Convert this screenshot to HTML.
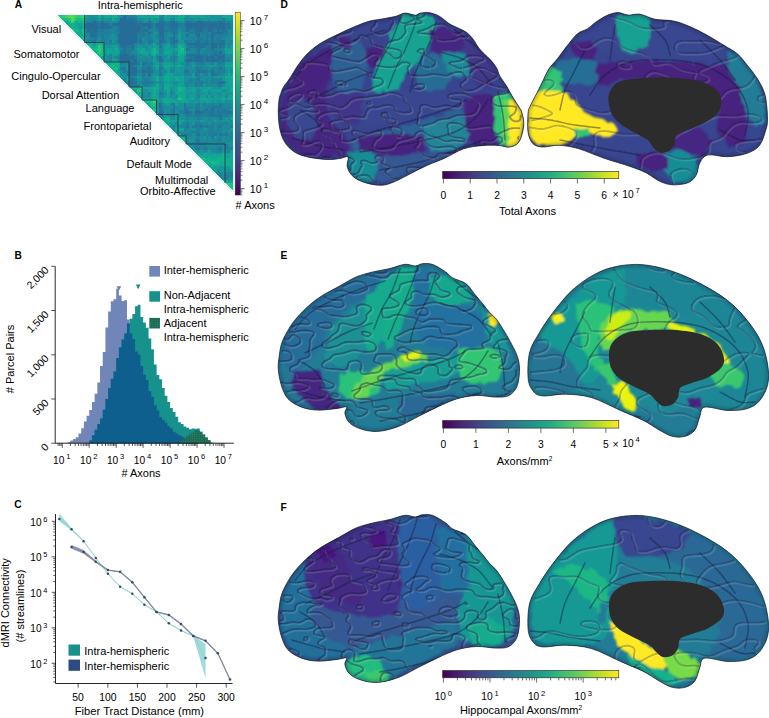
<!DOCTYPE html>
<html><head><meta charset="utf-8"><title>Figure</title>
<style>html,body{margin:0;padding:0;background:#fff;}svg{display:block;}</style></head>
<body><svg width="769" height="718" viewBox="0 0 769 718">
<rect width="769" height="718" fill="#fff"/>
<text x="14.8" y="7.9" font-size="10.2" font-weight="bold" font-family="Liberation Sans, Arial, sans-serif">A</text>
<text x="140.2" y="9.3" font-size="11" text-anchor="middle" font-family="Liberation Sans, Arial, sans-serif">Intra-hemispheric</text>
<g shape-rendering="crispEdges">
<path fill="#23c57b" d="M57.00,15.00h2.75v2.75zM68.00,17.75h2.75v2.75h-2.75zM81.75,17.75h2.75v2.75h-2.75zM70.75,28.75h2.75v2.75zM98.25,50.75h2.75v2.75h-2.75zM178.00,97.50h2.75v2.75h-2.75zM153.25,108.50h2.75v2.75h-2.75zM224.75,182.75h2.75v2.75zM227.50,185.50h2.75v2.75zM230.25,188.25h2.75v2.75z"/>
<path fill="#2dc974" d="M59.75,15.00h2.75v2.75h-2.75zM62.50,15.00h2.75v2.75h-2.75zM76.25,15.00h2.75v2.75h-2.75zM79.00,15.00h2.75v2.75h-2.75zM73.50,17.75h2.75v2.75h-2.75zM98.25,45.25h2.75v2.75h-2.75zM98.25,48.00h2.75v2.75h-2.75zM227.50,182.75h2.75v2.75h-2.75z"/>
<path fill="#41d065" d="M65.25,15.00h2.75v2.75h-2.75zM73.50,15.00h2.75v2.75h-2.75zM70.75,20.50h2.75v2.75h-2.75z"/>
<path fill="#58d753" d="M68.00,15.00h2.75v2.75h-2.75zM70.75,15.00h2.75v2.75h-2.75zM70.75,17.75h2.75v2.75h-2.75z"/>
<path fill="#4cd35c" d="M81.75,15.00h2.75v2.75h-2.75z"/>
<path fill="#12a296" d="M84.50,15.00h2.75v2.75h-2.75zM109.25,15.00h2.75v2.75h-2.75zM167.00,15.00h2.75v2.75h-2.75zM183.50,15.00h2.75v2.75h-2.75zM191.75,15.00h2.75v2.75h-2.75zM202.75,15.00h2.75v2.75h-2.75zM222.00,15.00h2.75v2.75h-2.75zM230.25,15.00h2.75v2.75h-2.75zM150.50,17.75h2.75v2.75h-2.75zM175.25,17.75h2.75v2.75h-2.75zM180.75,17.75h2.75v2.75h-2.75zM76.25,23.25h2.75v2.75h-2.75zM79.00,23.25h2.75v2.75h-2.75zM79.00,31.50h2.75v2.75h-2.75zM153.25,42.50h2.75v2.75h-2.75zM178.00,42.50h2.75v2.75h-2.75zM114.75,45.25h2.75v2.75h-2.75zM153.25,45.25h2.75v2.75h-2.75zM167.00,45.25h2.75v2.75h-2.75zM109.25,48.00h2.75v2.75h-2.75zM150.50,48.00h2.75v2.75h-2.75zM175.25,48.00h2.75v2.75h-2.75zM224.75,48.00h2.75v2.75h-2.75zM230.25,48.00h2.75v2.75h-2.75zM103.75,50.75h2.75v2.75h-2.75zM109.25,50.75h2.75v2.75h-2.75zM112.00,50.75h2.75v2.75h-2.75zM114.75,50.75h2.75v2.75h-2.75zM142.25,50.75h2.75v2.75h-2.75zM145.00,50.75h2.75v2.75h-2.75zM230.25,50.75h2.75v2.75h-2.75zM167.00,53.50h2.75v2.75h-2.75zM101.00,56.25h2.75v2.75h-2.75zM178.00,56.25h2.75v2.75h-2.75zM180.75,56.25h2.75v2.75h-2.75zM180.75,59.00h2.75v2.75h-2.75zM164.25,61.75h2.75v2.75h-2.75zM167.00,61.75h2.75v2.75h-2.75zM169.75,64.50h2.75v2.75h-2.75zM227.50,64.50h2.75v2.75h-2.75zM156.00,67.25h2.75v2.75h-2.75zM167.00,67.25h2.75v2.75h-2.75zM169.75,72.75h2.75v2.75h-2.75zM169.75,75.50h2.75v2.75h-2.75zM172.50,75.50h2.75v2.75h-2.75zM178.00,75.50h2.75v2.75h-2.75zM191.75,75.50h2.75v2.75h-2.75zM178.00,78.25h2.75v2.75h-2.75zM180.75,78.25h2.75v2.75h-2.75zM230.25,78.25h2.75v2.75h-2.75zM167.00,81.00h2.75v2.75h-2.75zM227.50,81.00h2.75v2.75h-2.75zM178.00,83.75h2.75v2.75h-2.75zM224.75,83.75h2.75v2.75h-2.75zM227.50,83.75h2.75v2.75h-2.75zM230.25,83.75h2.75v2.75h-2.75zM128.50,86.50h2.75v2.75zM145.00,86.50h2.75v2.75h-2.75zM147.75,86.50h2.75v2.75h-2.75zM175.25,86.50h2.75v2.75h-2.75zM191.75,86.50h2.75v2.75h-2.75zM200.00,86.50h2.75v2.75h-2.75zM224.75,86.50h2.75v2.75h-2.75zM131.25,89.25h2.75v2.75zM156.00,89.25h2.75v2.75h-2.75zM183.50,89.25h2.75v2.75h-2.75zM191.75,89.25h2.75v2.75h-2.75zM205.50,89.25h2.75v2.75h-2.75zM216.50,89.25h2.75v2.75h-2.75zM227.50,89.25h2.75v2.75h-2.75zM167.00,92.00h2.75v2.75h-2.75zM175.25,92.00h2.75v2.75h-2.75zM183.50,92.00h2.75v2.75h-2.75zM156.00,94.75h2.75v2.75h-2.75zM183.50,94.75h2.75v2.75h-2.75zM227.50,94.75h2.75v2.75h-2.75zM230.25,94.75h2.75v2.75h-2.75zM142.25,97.50h2.75v2.75h-2.75zM145.00,97.50h2.75v2.75h-2.75zM156.00,97.50h2.75v2.75h-2.75zM161.50,97.50h2.75v2.75h-2.75zM169.75,97.50h2.75v2.75h-2.75zM189.00,97.50h2.75v2.75h-2.75zM205.50,97.50h2.75v2.75h-2.75zM156.00,100.25h2.75v2.75h-2.75zM169.75,100.25h2.75v2.75h-2.75zM172.50,100.25h2.75v2.75h-2.75zM175.25,100.25h2.75v2.75h-2.75zM183.50,100.25h2.75v2.75h-2.75zM186.25,100.25h2.75v2.75h-2.75zM205.50,100.25h2.75v2.75h-2.75zM145.00,103.00h2.75v2.75zM169.75,119.50h2.75v2.75h-2.75zM172.50,119.50h2.75v2.75h-2.75zM175.25,119.50h2.75v2.75h-2.75zM180.75,119.50h2.75v2.75h-2.75zM164.25,122.25h2.75v2.75zM167.00,122.25h2.75v2.75h-2.75zM197.25,152.50h2.75v2.75h-2.75zM213.75,152.50h2.75v2.75h-2.75zM224.75,152.50h2.75v2.75h-2.75zM230.25,152.50h2.75v2.75h-2.75zM205.50,155.25h2.75v2.75h-2.75zM224.75,155.25h2.75v2.75h-2.75zM208.25,166.25h2.75v2.75zM211.00,166.25h2.75v2.75h-2.75zM213.75,169.00h2.75v2.75h-2.75zM230.25,180.00h2.75v2.75h-2.75z"/>
<path fill="#169699" d="M87.25,15.00h2.75v2.75h-2.75zM95.50,15.00h2.75v2.75h-2.75zM101.00,15.00h2.75v2.75h-2.75zM205.50,15.00h2.75v2.75h-2.75zM213.75,15.00h2.75v2.75h-2.75zM216.50,15.00h2.75v2.75h-2.75zM219.25,15.00h2.75v2.75h-2.75zM84.50,17.75h2.75v2.75h-2.75zM103.75,17.75h2.75v2.75h-2.75zM106.50,17.75h2.75v2.75h-2.75zM114.75,17.75h2.75v2.75h-2.75zM153.25,17.75h2.75v2.75h-2.75zM156.00,17.75h2.75v2.75h-2.75zM194.50,17.75h2.75v2.75h-2.75zM202.75,17.75h2.75v2.75h-2.75zM205.50,17.75h2.75v2.75h-2.75zM211.00,17.75h2.75v2.75h-2.75zM213.75,17.75h2.75v2.75h-2.75zM224.75,17.75h2.75v2.75h-2.75zM230.25,17.75h2.75v2.75h-2.75zM153.25,20.50h2.75v2.75h-2.75zM180.75,20.50h2.75v2.75h-2.75zM79.00,26.00h2.75v2.75h-2.75zM153.25,31.50h2.75v2.75h-2.75zM178.00,31.50h2.75v2.75h-2.75zM112.00,34.25h2.75v2.75h-2.75zM153.25,37.00h2.75v2.75h-2.75zM230.25,37.00h2.75v2.75h-2.75zM112.00,39.75h2.75v2.75h-2.75zM178.00,39.75h2.75v2.75h-2.75zM180.75,39.75h2.75v2.75h-2.75zM92.75,42.50h2.75v2.75h-2.75zM145.00,42.50h2.75v2.75h-2.75zM183.50,42.50h2.75v2.75h-2.75zM103.75,45.25h2.75v2.75h-2.75zM106.50,45.25h2.75v2.75h-2.75zM109.25,45.25h2.75v2.75h-2.75zM136.75,45.25h2.75v2.75h-2.75zM139.50,45.25h2.75v2.75h-2.75zM147.75,45.25h2.75v2.75h-2.75zM150.50,45.25h2.75v2.75h-2.75zM224.75,45.25h2.75v2.75h-2.75zM117.50,48.00h2.75v2.75h-2.75zM147.75,48.00h2.75v2.75h-2.75zM172.50,48.00h2.75v2.75h-2.75zM136.75,50.75h2.75v2.75h-2.75zM147.75,50.75h2.75v2.75h-2.75zM142.25,53.50h2.75v2.75h-2.75zM164.25,53.50h2.75v2.75h-2.75zM169.75,53.50h2.75v2.75h-2.75zM175.25,53.50h2.75v2.75h-2.75zM103.75,56.25h2.75v2.75h-2.75zM112.00,56.25h2.75v2.75h-2.75zM139.50,56.25h2.75v2.75h-2.75zM139.50,61.75h2.75v2.75h-2.75zM153.25,61.75h2.75v2.75h-2.75zM161.50,61.75h2.75v2.75h-2.75zM175.25,61.75h2.75v2.75h-2.75zM191.75,61.75h2.75v2.75h-2.75zM213.75,61.75h2.75v2.75h-2.75zM125.75,64.50h2.75v2.75h-2.75zM139.50,64.50h2.75v2.75h-2.75zM161.50,64.50h2.75v2.75h-2.75zM172.50,64.50h2.75v2.75h-2.75zM205.50,64.50h2.75v2.75h-2.75zM208.25,64.50h2.75v2.75h-2.75zM213.75,64.50h2.75v2.75h-2.75zM125.75,67.25h2.75v2.75h-2.75zM175.25,67.25h2.75v2.75h-2.75zM178.00,67.25h2.75v2.75h-2.75zM180.75,67.25h2.75v2.75h-2.75zM224.75,67.25h2.75v2.75h-2.75zM230.25,67.25h2.75v2.75h-2.75zM175.25,70.00h2.75v2.75h-2.75zM180.75,70.00h2.75v2.75h-2.75zM156.00,72.75h2.75v2.75h-2.75zM172.50,72.75h2.75v2.75h-2.75zM180.75,72.75h2.75v2.75h-2.75zM208.25,72.75h2.75v2.75h-2.75zM224.75,72.75h2.75v2.75h-2.75zM120.25,75.50h2.75v2.75h-2.75zM123.00,75.50h2.75v2.75h-2.75zM183.50,75.50h2.75v2.75h-2.75zM186.25,75.50h2.75v2.75h-2.75zM189.00,75.50h2.75v2.75h-2.75zM205.50,75.50h2.75v2.75h-2.75zM213.75,75.50h2.75v2.75h-2.75zM222.00,75.50h2.75v2.75h-2.75zM139.50,78.25h2.75v2.75h-2.75zM150.50,78.25h2.75v2.75h-2.75zM153.25,78.25h2.75v2.75h-2.75zM161.50,78.25h2.75v2.75h-2.75zM172.50,78.25h2.75v2.75h-2.75zM222.00,78.25h2.75v2.75h-2.75zM156.00,81.00h2.75v2.75h-2.75zM169.75,81.00h2.75v2.75h-2.75zM224.75,81.00h2.75v2.75h-2.75zM139.50,83.75h2.75v2.75h-2.75zM153.25,83.75h2.75v2.75h-2.75zM172.50,83.75h2.75v2.75h-2.75zM175.25,83.75h2.75v2.75h-2.75zM202.75,83.75h2.75v2.75h-2.75zM158.75,86.50h2.75v2.75h-2.75zM169.75,86.50h2.75v2.75h-2.75zM172.50,86.50h2.75v2.75h-2.75zM197.25,86.50h2.75v2.75h-2.75zM211.00,86.50h2.75v2.75h-2.75zM213.75,86.50h2.75v2.75h-2.75zM216.50,86.50h2.75v2.75h-2.75zM227.50,86.50h2.75v2.75h-2.75zM142.25,89.25h2.75v2.75h-2.75zM172.50,89.25h2.75v2.75h-2.75zM194.50,89.25h2.75v2.75h-2.75zM200.00,89.25h2.75v2.75h-2.75zM208.25,89.25h2.75v2.75h-2.75zM224.75,89.25h2.75v2.75h-2.75zM186.25,92.00h2.75v2.75h-2.75zM189.00,92.00h2.75v2.75h-2.75zM200.00,92.00h2.75v2.75h-2.75zM202.75,92.00h2.75v2.75h-2.75zM211.00,92.00h2.75v2.75h-2.75zM213.75,92.00h2.75v2.75h-2.75zM224.75,92.00h2.75v2.75h-2.75zM230.25,92.00h2.75v2.75h-2.75zM164.25,94.75h2.75v2.75h-2.75zM172.50,94.75h2.75v2.75h-2.75zM194.50,94.75h2.75v2.75h-2.75zM216.50,94.75h2.75v2.75h-2.75zM219.25,94.75h2.75v2.75h-2.75zM147.75,97.50h2.75v2.75h-2.75zM158.75,97.50h2.75v2.75h-2.75zM186.25,97.50h2.75v2.75h-2.75zM197.25,97.50h2.75v2.75h-2.75zM189.00,100.25h2.75v2.75h-2.75zM191.75,100.25h2.75v2.75h-2.75zM211.00,100.25h2.75v2.75h-2.75zM219.25,100.25h2.75v2.75h-2.75zM227.50,100.25h2.75v2.75h-2.75zM230.25,100.25h2.75v2.75h-2.75zM164.25,103.00h2.75v2.75h-2.75zM167.00,108.50h2.75v2.75h-2.75zM164.25,114.00h2.75v2.75h-2.75zM167.00,114.00h2.75v2.75h-2.75zM178.00,116.75h2.75v2.75h-2.75zM224.75,116.75h2.75v2.75h-2.75zM161.50,119.50h2.75v2.75zM183.50,119.50h2.75v2.75h-2.75zM189.00,119.50h2.75v2.75h-2.75zM191.75,119.50h2.75v2.75h-2.75zM202.75,119.50h2.75v2.75h-2.75zM224.75,119.50h2.75v2.75h-2.75zM227.50,119.50h2.75v2.75h-2.75zM169.75,122.25h2.75v2.75h-2.75zM172.50,122.25h2.75v2.75h-2.75zM191.75,122.25h2.75v2.75h-2.75zM175.25,125.00h2.75v2.75h-2.75zM202.75,127.75h2.75v2.75h-2.75zM175.25,130.50h2.75v2.75h-2.75zM227.50,130.50h2.75v2.75h-2.75zM202.75,136.00h2.75v2.75h-2.75zM213.75,136.00h2.75v2.75h-2.75zM189.00,138.75h2.75v2.75h-2.75zM191.75,138.75h2.75v2.75h-2.75zM227.50,141.50h2.75v2.75h-2.75zM230.25,141.50h2.75v2.75h-2.75zM227.50,144.25h2.75v2.75h-2.75zM230.25,144.25h2.75v2.75h-2.75zM194.50,149.75h2.75v2.75h-2.75zM200.00,149.75h2.75v2.75h-2.75zM222.00,149.75h2.75v2.75h-2.75zM200.00,152.50h2.75v2.75h-2.75zM216.50,152.50h2.75v2.75h-2.75zM219.25,166.25h2.75v2.75h-2.75zM222.00,166.25h2.75v2.75h-2.75zM224.75,166.25h2.75v2.75h-2.75zM227.50,166.25h2.75v2.75h-2.75zM211.00,169.00h2.75v2.75zM224.75,169.00h2.75v2.75h-2.75zM230.25,169.00h2.75v2.75h-2.75z"/>
<path fill="#18909a" d="M90.00,15.00h2.75v2.75h-2.75zM92.75,15.00h2.75v2.75h-2.75zM117.50,15.00h2.75v2.75h-2.75zM186.25,15.00h2.75v2.75h-2.75zM87.25,17.75h2.75v2.75h-2.75zM95.50,17.75h2.75v2.75h-2.75zM109.25,17.75h2.75v2.75h-2.75zM117.50,17.75h2.75v2.75h-2.75zM142.25,17.75h2.75v2.75h-2.75zM183.50,17.75h2.75v2.75h-2.75zM191.75,17.75h2.75v2.75h-2.75zM200.00,17.75h2.75v2.75h-2.75zM208.25,17.75h2.75v2.75h-2.75zM219.25,17.75h2.75v2.75h-2.75zM65.25,23.25h2.75v2.75zM178.00,28.75h2.75v2.75h-2.75zM156.00,31.50h2.75v2.75h-2.75zM180.75,31.50h2.75v2.75h-2.75zM150.50,34.25h2.75v2.75h-2.75zM153.25,34.25h2.75v2.75h-2.75zM167.00,34.25h2.75v2.75h-2.75zM169.75,34.25h2.75v2.75h-2.75zM230.25,34.25h2.75v2.75h-2.75zM84.50,37.00h2.75v2.75h-2.75zM98.25,37.00h2.75v2.75h-2.75zM112.00,37.00h2.75v2.75h-2.75zM114.75,37.00h2.75v2.75h-2.75zM142.25,37.00h2.75v2.75h-2.75zM224.75,37.00h2.75v2.75h-2.75zM106.50,39.75h2.75v2.75h-2.75zM227.50,39.75h2.75v2.75h-2.75zM114.75,42.50h2.75v2.75h-2.75zM150.50,42.50h2.75v2.75h-2.75zM142.25,45.25h2.75v2.75h-2.75zM161.50,45.25h2.75v2.75h-2.75zM169.75,45.25h2.75v2.75h-2.75zM145.00,48.00h2.75v2.75h-2.75zM202.75,48.00h2.75v2.75h-2.75zM161.50,50.75h2.75v2.75h-2.75zM136.75,53.50h2.75v2.75h-2.75zM156.00,53.50h2.75v2.75h-2.75zM161.50,53.50h2.75v2.75h-2.75zM227.50,53.50h2.75v2.75h-2.75zM147.75,56.25h2.75v2.75h-2.75zM164.25,56.25h2.75v2.75h-2.75zM183.50,56.25h2.75v2.75h-2.75zM230.25,56.25h2.75v2.75h-2.75zM103.75,59.00h2.75v2.75h-2.75zM106.50,59.00h2.75v2.75h-2.75zM164.25,59.00h2.75v2.75h-2.75zM167.00,59.00h2.75v2.75h-2.75zM230.25,59.00h2.75v2.75h-2.75zM125.75,61.75h2.75v2.75h-2.75zM172.50,61.75h2.75v2.75h-2.75zM180.75,61.75h2.75v2.75h-2.75zM183.50,61.75h2.75v2.75h-2.75zM120.25,64.50h2.75v2.75h-2.75zM136.75,64.50h2.75v2.75h-2.75zM222.00,64.50h2.75v2.75h-2.75zM153.25,67.25h2.75v2.75h-2.75zM191.75,67.25h2.75v2.75h-2.75zM153.25,70.00h2.75v2.75h-2.75zM156.00,70.00h2.75v2.75h-2.75zM224.75,70.00h2.75v2.75h-2.75zM120.25,72.75h2.75v2.75h-2.75zM123.00,72.75h2.75v2.75h-2.75zM153.25,72.75h2.75v2.75h-2.75zM175.25,72.75h2.75v2.75h-2.75zM178.00,72.75h2.75v2.75h-2.75zM200.00,72.75h2.75v2.75h-2.75zM139.50,75.50h2.75v2.75h-2.75zM150.50,75.50h2.75v2.75h-2.75zM194.50,75.50h2.75v2.75h-2.75zM208.25,75.50h2.75v2.75h-2.75zM120.25,78.25h2.75v2.75zM136.75,78.25h2.75v2.75h-2.75zM158.75,78.25h2.75v2.75h-2.75zM186.25,78.25h2.75v2.75h-2.75zM200.00,78.25h2.75v2.75h-2.75zM202.75,78.25h2.75v2.75h-2.75zM208.25,78.25h2.75v2.75h-2.75zM136.75,81.00h2.75v2.75h-2.75zM175.25,81.00h2.75v2.75h-2.75zM189.00,83.75h2.75v2.75h-2.75zM191.75,83.75h2.75v2.75h-2.75zM186.25,86.50h2.75v2.75h-2.75zM219.25,86.50h2.75v2.75h-2.75zM145.00,89.25h2.75v2.75h-2.75zM161.50,89.25h2.75v2.75h-2.75zM145.00,92.00h2.75v2.75h-2.75zM164.25,92.00h2.75v2.75h-2.75zM194.50,92.00h2.75v2.75h-2.75zM216.50,92.00h2.75v2.75h-2.75zM219.25,92.00h2.75v2.75h-2.75zM227.50,92.00h2.75v2.75h-2.75zM147.75,94.75h2.75v2.75h-2.75zM169.75,94.75h2.75v2.75h-2.75zM186.25,94.75h2.75v2.75h-2.75zM172.50,97.50h2.75v2.75h-2.75zM197.25,100.25h2.75v2.75h-2.75zM216.50,100.25h2.75v2.75h-2.75zM178.00,103.00h2.75v2.75h-2.75zM180.75,103.00h2.75v2.75h-2.75zM186.25,103.00h2.75v2.75h-2.75zM191.75,103.00h2.75v2.75h-2.75zM200.00,103.00h2.75v2.75h-2.75zM156.00,105.75h2.75v2.75h-2.75zM178.00,105.75h2.75v2.75h-2.75zM180.75,105.75h2.75v2.75h-2.75zM164.25,108.50h2.75v2.75h-2.75zM175.25,108.50h2.75v2.75h-2.75zM191.75,108.50h2.75v2.75h-2.75zM230.25,108.50h2.75v2.75h-2.75zM175.25,111.25h2.75v2.75h-2.75zM180.75,114.00h2.75v2.75h-2.75zM161.50,116.75h2.75v2.75h-2.75zM169.75,116.75h2.75v2.75h-2.75zM180.75,116.75h2.75v2.75h-2.75zM183.50,116.75h2.75v2.75h-2.75zM189.00,116.75h2.75v2.75h-2.75zM202.75,116.75h2.75v2.75h-2.75zM205.50,116.75h2.75v2.75h-2.75zM213.75,116.75h2.75v2.75h-2.75zM186.25,119.50h2.75v2.75h-2.75zM194.50,119.50h2.75v2.75h-2.75zM205.50,119.50h2.75v2.75h-2.75zM208.25,119.50h2.75v2.75h-2.75zM216.50,119.50h2.75v2.75h-2.75zM219.25,119.50h2.75v2.75h-2.75zM222.00,119.50h2.75v2.75h-2.75zM230.25,119.50h2.75v2.75h-2.75zM175.25,122.25h2.75v2.75h-2.75zM208.25,122.25h2.75v2.75h-2.75zM227.50,122.25h2.75v2.75h-2.75zM230.25,122.25h2.75v2.75h-2.75zM169.75,127.75h2.75v2.75zM189.00,127.75h2.75v2.75h-2.75zM191.75,127.75h2.75v2.75h-2.75zM172.50,130.50h2.75v2.75zM180.75,130.50h2.75v2.75h-2.75zM222.00,130.50h2.75v2.75h-2.75zM175.25,133.25h2.75v2.75zM191.75,133.25h2.75v2.75h-2.75zM191.75,136.00h2.75v2.75h-2.75zM208.25,136.00h2.75v2.75h-2.75zM222.00,136.00h2.75v2.75h-2.75zM202.75,138.75h2.75v2.75h-2.75zM222.00,138.75h2.75v2.75h-2.75zM230.25,138.75h2.75v2.75h-2.75zM224.75,141.50h2.75v2.75h-2.75zM189.00,144.25h2.75v2.75h-2.75zM191.75,144.25h2.75v2.75h-2.75zM205.50,144.25h2.75v2.75h-2.75zM208.25,144.25h2.75v2.75h-2.75zM211.00,144.25h2.75v2.75h-2.75zM189.00,147.00h2.75v2.75zM222.00,147.00h2.75v2.75h-2.75zM191.75,149.75h2.75v2.75zM205.50,149.75h2.75v2.75h-2.75zM219.25,169.00h2.75v2.75h-2.75zM227.50,169.00h2.75v2.75h-2.75zM222.00,171.75h2.75v2.75h-2.75z"/>
<path fill="#11ad91" d="M98.25,15.00h2.75v2.75h-2.75zM114.75,15.00h2.75v2.75h-2.75zM153.25,15.00h2.75v2.75h-2.75zM164.25,15.00h2.75v2.75h-2.75zM180.75,15.00h2.75v2.75h-2.75zM62.50,20.50h2.75v2.75zM76.25,20.50h2.75v2.75h-2.75zM68.00,23.25h2.75v2.75h-2.75zM70.75,23.25h2.75v2.75h-2.75zM81.75,23.25h2.75v2.75h-2.75zM81.75,26.00h2.75v2.75h-2.75zM76.25,34.25h2.75v2.75zM79.00,34.25h2.75v2.75h-2.75zM81.75,39.75h2.75v2.75zM95.50,42.50h2.75v2.75h-2.75zM101.00,42.50h2.75v2.75h-2.75zM92.75,45.25h2.75v2.75h-2.75zM114.75,48.00h2.75v2.75h-2.75zM95.50,53.50h2.75v2.75zM153.25,53.50h2.75v2.75h-2.75zM178.00,53.50h2.75v2.75h-2.75zM103.75,61.75h2.75v2.75zM117.50,61.75h2.75v2.75h-2.75zM114.75,64.50h2.75v2.75h-2.75zM164.25,64.50h2.75v2.75h-2.75zM109.25,67.25h2.75v2.75zM112.00,70.00h2.75v2.75zM117.50,72.75h2.75v2.75h-2.75zM117.50,75.50h2.75v2.75zM156.00,75.50h2.75v2.75h-2.75zM164.25,75.50h2.75v2.75h-2.75zM167.00,75.50h2.75v2.75h-2.75zM227.50,75.50h2.75v2.75h-2.75zM156.00,78.25h2.75v2.75h-2.75zM156.00,83.75h2.75v2.75h-2.75zM164.25,86.50h2.75v2.75h-2.75zM183.50,86.50h2.75v2.75h-2.75zM230.25,86.50h2.75v2.75h-2.75zM153.25,89.25h2.75v2.75h-2.75zM167.00,89.25h2.75v2.75h-2.75zM180.75,89.25h2.75v2.75h-2.75zM136.75,92.00h2.75v2.75h-2.75zM139.50,94.75h2.75v2.75h-2.75zM164.25,97.50h2.75v2.75h-2.75zM147.75,103.00h2.75v2.75h-2.75zM167.00,116.75h2.75v2.75h-2.75zM164.25,119.50h2.75v2.75h-2.75zM183.50,136.00h2.75v2.75h-2.75zM222.00,152.50h2.75v2.75h-2.75zM200.00,155.25h2.75v2.75h-2.75zM216.50,155.25h2.75v2.75h-2.75zM205.50,158.00h2.75v2.75h-2.75zM211.00,158.00h2.75v2.75h-2.75zM213.75,158.00h2.75v2.75h-2.75zM224.75,158.00h2.75v2.75h-2.75zM227.50,158.00h2.75v2.75h-2.75zM230.25,158.00h2.75v2.75h-2.75zM224.75,160.75h2.75v2.75h-2.75zM211.00,163.50h2.75v2.75h-2.75zM216.50,163.50h2.75v2.75h-2.75zM222.00,163.50h2.75v2.75h-2.75zM227.50,163.50h2.75v2.75h-2.75z"/>
<path fill="#11a894" d="M103.75,15.00h2.75v2.75h-2.75zM106.50,15.00h2.75v2.75h-2.75zM142.25,15.00h2.75v2.75h-2.75zM150.50,15.00h2.75v2.75h-2.75zM200.00,15.00h2.75v2.75h-2.75zM224.75,15.00h2.75v2.75h-2.75zM227.50,15.00h2.75v2.75h-2.75zM112.00,17.75h2.75v2.75h-2.75zM178.00,17.75h2.75v2.75h-2.75zM65.25,20.50h2.75v2.75h-2.75zM68.00,26.00h2.75v2.75zM73.50,26.00h2.75v2.75h-2.75zM76.25,26.00h2.75v2.75h-2.75zM79.00,28.75h2.75v2.75h-2.75zM90.00,42.50h2.75v2.75h-2.75zM180.75,45.25h2.75v2.75h-2.75zM106.50,48.00h2.75v2.75h-2.75zM142.25,48.00h2.75v2.75h-2.75zM106.50,50.75h2.75v2.75h-2.75zM139.50,50.75h2.75v2.75h-2.75zM150.50,50.75h2.75v2.75h-2.75zM156.00,50.75h2.75v2.75h-2.75zM164.25,50.75h2.75v2.75h-2.75zM167.00,50.75h2.75v2.75h-2.75zM183.50,50.75h2.75v2.75h-2.75zM227.50,50.75h2.75v2.75h-2.75zM180.75,53.50h2.75v2.75h-2.75zM109.25,61.75h2.75v2.75h-2.75zM156.00,64.50h2.75v2.75h-2.75zM224.75,64.50h2.75v2.75h-2.75zM230.25,64.50h2.75v2.75h-2.75zM114.75,70.00h2.75v2.75h-2.75zM167.00,72.75h2.75v2.75h-2.75zM227.50,72.75h2.75v2.75h-2.75zM175.25,75.50h2.75v2.75h-2.75zM180.75,75.50h2.75v2.75h-2.75zM164.25,78.25h2.75v2.75h-2.75zM167.00,78.25h2.75v2.75h-2.75zM175.25,78.25h2.75v2.75h-2.75zM227.50,78.25h2.75v2.75h-2.75zM230.25,81.00h2.75v2.75h-2.75zM164.25,83.75h2.75v2.75h-2.75zM167.00,83.75h2.75v2.75h-2.75zM131.25,86.50h2.75v2.75h-2.75zM150.50,86.50h2.75v2.75h-2.75zM156.00,86.50h2.75v2.75h-2.75zM167.00,86.50h2.75v2.75h-2.75zM205.50,86.50h2.75v2.75h-2.75zM208.25,86.50h2.75v2.75h-2.75zM222.00,86.50h2.75v2.75h-2.75zM202.75,89.25h2.75v2.75h-2.75zM230.25,89.25h2.75v2.75h-2.75zM153.25,92.00h2.75v2.75h-2.75zM178.00,92.00h2.75v2.75h-2.75zM180.75,92.00h2.75v2.75h-2.75zM153.25,94.75h2.75v2.75h-2.75zM180.75,94.75h2.75v2.75h-2.75zM167.00,97.50h2.75v2.75h-2.75zM183.50,97.50h2.75v2.75h-2.75zM191.75,97.50h2.75v2.75h-2.75zM200.00,97.50h2.75v2.75h-2.75zM202.75,97.50h2.75v2.75h-2.75zM227.50,97.50h2.75v2.75h-2.75zM230.25,97.50h2.75v2.75h-2.75zM164.25,100.25h2.75v2.75h-2.75zM167.00,100.25h2.75v2.75h-2.75zM180.75,100.25h2.75v2.75h-2.75zM147.75,105.75h2.75v2.75zM150.50,108.50h2.75v2.75zM164.25,116.75h2.75v2.75h-2.75zM178.00,119.50h2.75v2.75h-2.75zM178.00,122.25h2.75v2.75h-2.75zM167.00,125.00h2.75v2.75zM180.75,127.75h2.75v2.75h-2.75zM183.50,141.50h2.75v2.75zM194.50,152.50h2.75v2.75zM202.75,152.50h2.75v2.75h-2.75zM205.50,152.50h2.75v2.75h-2.75zM227.50,152.50h2.75v2.75h-2.75zM197.25,155.25h2.75v2.75zM202.75,155.25h2.75v2.75h-2.75zM208.25,155.25h2.75v2.75h-2.75zM211.00,155.25h2.75v2.75h-2.75zM213.75,155.25h2.75v2.75h-2.75zM219.25,155.25h2.75v2.75h-2.75zM230.25,155.25h2.75v2.75h-2.75zM219.25,160.75h2.75v2.75h-2.75zM230.25,160.75h2.75v2.75h-2.75zM208.25,163.50h2.75v2.75h-2.75zM219.25,163.50h2.75v2.75h-2.75zM224.75,163.50h2.75v2.75h-2.75zM230.25,166.25h2.75v2.75h-2.75zM222.00,180.00h2.75v2.75zM224.75,180.00h2.75v2.75h-2.75z"/>
<path fill="#12b18e" d="M112.00,15.00h2.75v2.75h-2.75zM156.00,15.00h2.75v2.75h-2.75zM178.00,15.00h2.75v2.75h-2.75zM73.50,23.25h2.75v2.75h-2.75zM70.75,26.00h2.75v2.75h-2.75zM73.50,31.50h2.75v2.75zM76.25,31.50h2.75v2.75h-2.75zM81.75,34.25h2.75v2.75h-2.75zM79.00,37.00h2.75v2.75zM87.25,42.50h2.75v2.75h-2.75zM98.25,42.50h2.75v2.75h-2.75zM90.00,45.25h2.75v2.75h-2.75zM95.50,45.25h2.75v2.75h-2.75zM178.00,48.00h2.75v2.75h-2.75zM92.75,50.75h2.75v2.75zM98.25,53.50h2.75v2.75h-2.75zM101.00,59.00h2.75v2.75zM106.50,61.75h2.75v2.75h-2.75zM112.00,61.75h2.75v2.75h-2.75zM117.50,64.50h2.75v2.75h-2.75zM167.00,64.50h2.75v2.75h-2.75zM178.00,64.50h2.75v2.75h-2.75zM224.75,75.50h2.75v2.75h-2.75zM230.25,75.50h2.75v2.75h-2.75zM153.25,86.50h2.75v2.75h-2.75zM180.75,86.50h2.75v2.75h-2.75zM136.75,94.75h2.75v2.75zM178.00,94.75h2.75v2.75h-2.75zM180.75,97.50h2.75v2.75h-2.75zM222.00,97.50h2.75v2.75h-2.75zM150.50,105.75h2.75v2.75h-2.75zM167.00,119.50h2.75v2.75h-2.75zM178.00,136.00h2.75v2.75zM222.00,155.25h2.75v2.75h-2.75zM208.25,158.00h2.75v2.75h-2.75zM216.50,158.00h2.75v2.75h-2.75zM219.25,158.00h2.75v2.75h-2.75zM208.25,160.75h2.75v2.75h-2.75zM222.00,160.75h2.75v2.75h-2.75zM227.50,160.75h2.75v2.75h-2.75zM205.50,163.50h2.75v2.75zM213.75,163.50h2.75v2.75h-2.75zM230.25,163.50h2.75v2.75h-2.75z"/>
<path fill="#1b8b99" d="M120.25,15.00h2.75v2.75h-2.75zM158.75,15.00h2.75v2.75h-2.75zM161.50,15.00h2.75v2.75h-2.75zM211.00,15.00h2.75v2.75h-2.75zM90.00,17.75h2.75v2.75h-2.75zM101.00,17.75h2.75v2.75h-2.75zM136.75,17.75h2.75v2.75h-2.75zM139.50,17.75h2.75v2.75h-2.75zM147.75,17.75h2.75v2.75h-2.75zM169.75,17.75h2.75v2.75h-2.75zM186.25,17.75h2.75v2.75h-2.75zM189.00,17.75h2.75v2.75h-2.75zM197.25,17.75h2.75v2.75h-2.75zM216.50,17.75h2.75v2.75h-2.75zM84.50,20.50h2.75v2.75h-2.75zM109.25,20.50h2.75v2.75h-2.75zM112.00,20.50h2.75v2.75h-2.75zM114.75,20.50h2.75v2.75h-2.75zM142.25,20.50h2.75v2.75h-2.75zM145.00,20.50h2.75v2.75h-2.75zM156.00,20.50h2.75v2.75h-2.75zM178.00,20.50h2.75v2.75h-2.75zM230.25,20.50h2.75v2.75h-2.75zM153.25,28.75h2.75v2.75h-2.75zM227.50,28.75h2.75v2.75h-2.75zM230.25,28.75h2.75v2.75h-2.75zM167.00,31.50h2.75v2.75h-2.75zM183.50,31.50h2.75v2.75h-2.75zM227.50,31.50h2.75v2.75h-2.75zM230.25,31.50h2.75v2.75h-2.75zM87.25,34.25h2.75v2.75h-2.75zM109.25,34.25h2.75v2.75h-2.75zM180.75,34.25h2.75v2.75h-2.75zM183.50,34.25h2.75v2.75h-2.75zM189.00,34.25h2.75v2.75h-2.75zM191.75,34.25h2.75v2.75h-2.75zM227.50,34.25h2.75v2.75h-2.75zM87.25,37.00h2.75v2.75h-2.75zM109.25,37.00h2.75v2.75h-2.75zM156.00,37.00h2.75v2.75h-2.75zM167.00,37.00h2.75v2.75h-2.75zM180.75,37.00h2.75v2.75h-2.75zM183.50,37.00h2.75v2.75h-2.75zM189.00,37.00h2.75v2.75h-2.75zM194.50,37.00h2.75v2.75h-2.75zM227.50,37.00h2.75v2.75h-2.75zM95.50,39.75h2.75v2.75h-2.75zM153.25,39.75h2.75v2.75h-2.75zM156.00,39.75h2.75v2.75h-2.75zM167.00,39.75h2.75v2.75h-2.75zM224.75,39.75h2.75v2.75h-2.75zM103.75,42.50h2.75v2.75h-2.75zM112.00,42.50h2.75v2.75h-2.75zM136.75,42.50h2.75v2.75h-2.75zM161.50,42.50h2.75v2.75h-2.75zM164.25,42.50h2.75v2.75h-2.75zM175.25,42.50h2.75v2.75h-2.75zM224.75,42.50h2.75v2.75h-2.75zM230.25,42.50h2.75v2.75h-2.75zM117.50,45.25h2.75v2.75h-2.75zM145.00,45.25h2.75v2.75h-2.75zM175.25,45.25h2.75v2.75h-2.75zM134.00,48.00h2.75v2.75h-2.75zM161.50,48.00h2.75v2.75h-2.75zM191.75,48.00h2.75v2.75h-2.75zM222.00,48.00h2.75v2.75h-2.75zM131.25,50.75h2.75v2.75h-2.75zM134.00,50.75h2.75v2.75h-2.75zM172.50,50.75h2.75v2.75h-2.75zM175.25,50.75h2.75v2.75h-2.75zM186.25,50.75h2.75v2.75h-2.75zM189.00,50.75h2.75v2.75h-2.75zM191.75,50.75h2.75v2.75h-2.75zM200.00,50.75h2.75v2.75h-2.75zM103.75,53.50h2.75v2.75h-2.75zM139.50,53.50h2.75v2.75h-2.75zM147.75,53.50h2.75v2.75h-2.75zM158.75,53.50h2.75v2.75h-2.75zM224.75,53.50h2.75v2.75h-2.75zM230.25,53.50h2.75v2.75h-2.75zM106.50,56.25h2.75v2.75h-2.75zM136.75,56.25h2.75v2.75h-2.75zM142.25,56.25h2.75v2.75h-2.75zM145.00,56.25h2.75v2.75h-2.75zM161.50,56.25h2.75v2.75h-2.75zM224.75,56.25h2.75v2.75h-2.75zM227.50,56.25h2.75v2.75h-2.75zM139.50,59.00h2.75v2.75h-2.75zM150.50,59.00h2.75v2.75h-2.75zM156.00,59.00h2.75v2.75h-2.75zM175.25,59.00h2.75v2.75h-2.75zM123.00,61.75h2.75v2.75h-2.75zM189.00,61.75h2.75v2.75h-2.75zM205.50,61.75h2.75v2.75h-2.75zM208.25,61.75h2.75v2.75h-2.75zM123.00,64.50h2.75v2.75h-2.75zM150.50,64.50h2.75v2.75h-2.75zM183.50,64.50h2.75v2.75h-2.75zM186.25,64.50h2.75v2.75h-2.75zM189.00,64.50h2.75v2.75h-2.75zM194.50,64.50h2.75v2.75h-2.75zM197.25,64.50h2.75v2.75h-2.75zM200.00,64.50h2.75v2.75h-2.75zM202.75,64.50h2.75v2.75h-2.75zM219.25,64.50h2.75v2.75h-2.75zM136.75,67.25h2.75v2.75h-2.75zM139.50,67.25h2.75v2.75h-2.75zM169.75,67.25h2.75v2.75h-2.75zM172.50,67.25h2.75v2.75h-2.75zM183.50,67.25h2.75v2.75h-2.75zM189.00,67.25h2.75v2.75h-2.75zM202.75,67.25h2.75v2.75h-2.75zM208.25,67.25h2.75v2.75h-2.75zM120.25,70.00h2.75v2.75h-2.75zM161.50,70.00h2.75v2.75h-2.75zM164.25,70.00h2.75v2.75h-2.75zM189.00,70.00h2.75v2.75h-2.75zM230.25,70.00h2.75v2.75h-2.75zM136.75,72.75h2.75v2.75h-2.75zM139.50,72.75h2.75v2.75h-2.75zM150.50,72.75h2.75v2.75h-2.75zM222.00,72.75h2.75v2.75h-2.75zM134.00,75.50h2.75v2.75h-2.75zM145.00,75.50h2.75v2.75h-2.75zM158.75,75.50h2.75v2.75h-2.75zM200.00,75.50h2.75v2.75h-2.75zM202.75,75.50h2.75v2.75h-2.75zM211.00,75.50h2.75v2.75h-2.75zM183.50,78.25h2.75v2.75h-2.75zM191.75,78.25h2.75v2.75h-2.75zM216.50,78.25h2.75v2.75h-2.75zM153.25,81.00h2.75v2.75h-2.75zM161.50,81.00h2.75v2.75h-2.75zM172.50,81.00h2.75v2.75h-2.75zM183.50,81.00h2.75v2.75h-2.75zM191.75,81.00h2.75v2.75h-2.75zM208.25,81.00h2.75v2.75h-2.75zM125.75,83.75h2.75v2.75zM150.50,83.75h2.75v2.75h-2.75zM158.75,83.75h2.75v2.75h-2.75zM161.50,83.75h2.75v2.75h-2.75zM183.50,83.75h2.75v2.75h-2.75zM208.25,83.75h2.75v2.75h-2.75zM211.00,83.75h2.75v2.75h-2.75zM213.75,83.75h2.75v2.75h-2.75zM222.00,83.75h2.75v2.75h-2.75zM158.75,89.25h2.75v2.75h-2.75zM169.75,89.25h2.75v2.75h-2.75zM197.25,89.25h2.75v2.75h-2.75zM222.00,89.25h2.75v2.75h-2.75zM142.25,92.00h2.75v2.75h-2.75zM172.50,92.00h2.75v2.75h-2.75zM197.25,92.00h2.75v2.75h-2.75zM208.25,92.00h2.75v2.75h-2.75zM142.25,94.75h2.75v2.75h-2.75zM145.00,94.75h2.75v2.75h-2.75zM175.25,94.75h2.75v2.75h-2.75zM205.50,94.75h2.75v2.75h-2.75zM211.00,94.75h2.75v2.75h-2.75zM224.75,94.75h2.75v2.75h-2.75zM194.50,97.50h2.75v2.75h-2.75zM158.75,100.25h2.75v2.75h-2.75zM224.75,100.25h2.75v2.75h-2.75zM156.00,103.00h2.75v2.75h-2.75zM161.50,103.00h2.75v2.75h-2.75zM189.00,103.00h2.75v2.75h-2.75zM205.50,103.00h2.75v2.75h-2.75zM216.50,103.00h2.75v2.75h-2.75zM224.75,103.00h2.75v2.75h-2.75zM230.25,103.00h2.75v2.75h-2.75zM164.25,105.75h2.75v2.75h-2.75zM167.00,105.75h2.75v2.75h-2.75zM169.75,105.75h2.75v2.75h-2.75zM191.75,105.75h2.75v2.75h-2.75zM200.00,105.75h2.75v2.75h-2.75zM230.25,105.75h2.75v2.75h-2.75zM180.75,108.50h2.75v2.75h-2.75zM189.00,108.50h2.75v2.75h-2.75zM156.00,111.25h2.75v2.75h-2.75zM164.25,111.25h2.75v2.75h-2.75zM167.00,111.25h2.75v2.75h-2.75zM178.00,114.00h2.75v2.75h-2.75zM183.50,114.00h2.75v2.75h-2.75zM230.25,114.00h2.75v2.75h-2.75zM172.50,116.75h2.75v2.75h-2.75zM191.75,116.75h2.75v2.75h-2.75zM194.50,116.75h2.75v2.75h-2.75zM211.00,116.75h2.75v2.75h-2.75zM216.50,116.75h2.75v2.75h-2.75zM222.00,116.75h2.75v2.75h-2.75zM227.50,116.75h2.75v2.75h-2.75zM197.25,119.50h2.75v2.75h-2.75zM211.00,119.50h2.75v2.75h-2.75zM180.75,122.25h2.75v2.75h-2.75zM183.50,122.25h2.75v2.75h-2.75zM189.00,122.25h2.75v2.75h-2.75zM202.75,122.25h2.75v2.75h-2.75zM213.75,122.25h2.75v2.75h-2.75zM216.50,122.25h2.75v2.75h-2.75zM169.75,125.00h2.75v2.75h-2.75zM178.00,125.00h2.75v2.75h-2.75zM189.00,125.00h2.75v2.75h-2.75zM213.75,125.00h2.75v2.75h-2.75zM222.00,125.00h2.75v2.75h-2.75zM224.75,125.00h2.75v2.75h-2.75zM227.50,125.00h2.75v2.75h-2.75zM172.50,127.75h2.75v2.75h-2.75zM194.50,127.75h2.75v2.75h-2.75zM205.50,127.75h2.75v2.75h-2.75zM213.75,127.75h2.75v2.75h-2.75zM222.00,127.75h2.75v2.75h-2.75zM224.75,127.75h2.75v2.75h-2.75zM227.50,127.75h2.75v2.75h-2.75zM178.00,130.50h2.75v2.75h-2.75zM183.50,130.50h2.75v2.75h-2.75zM186.25,130.50h2.75v2.75h-2.75zM200.00,130.50h2.75v2.75h-2.75zM230.25,130.50h2.75v2.75h-2.75zM205.50,133.25h2.75v2.75h-2.75zM189.00,136.00h2.75v2.75h-2.75zM194.50,136.00h2.75v2.75h-2.75zM200.00,136.00h2.75v2.75h-2.75zM224.75,136.00h2.75v2.75h-2.75zM227.50,136.00h2.75v2.75h-2.75zM200.00,138.75h2.75v2.75h-2.75zM208.25,138.75h2.75v2.75h-2.75zM211.00,138.75h2.75v2.75h-2.75zM224.75,138.75h2.75v2.75h-2.75zM227.50,138.75h2.75v2.75h-2.75zM189.00,141.50h2.75v2.75h-2.75zM213.75,141.50h2.75v2.75h-2.75zM213.75,144.25h2.75v2.75h-2.75zM216.50,144.25h2.75v2.75h-2.75zM219.25,144.25h2.75v2.75h-2.75zM222.00,144.25h2.75v2.75h-2.75zM191.75,147.00h2.75v2.75h-2.75zM208.25,147.00h2.75v2.75h-2.75zM197.25,149.75h2.75v2.75h-2.75zM202.75,149.75h2.75v2.75h-2.75zM211.00,149.75h2.75v2.75h-2.75zM213.75,149.75h2.75v2.75h-2.75zM224.75,149.75h2.75v2.75h-2.75zM216.50,169.00h2.75v2.75h-2.75zM213.75,171.75h2.75v2.75zM222.00,174.50h2.75v2.75h-2.75zM222.00,177.25h2.75v2.75h-2.75zM227.50,177.25h2.75v2.75h-2.75zM230.25,177.25h2.75v2.75h-2.75z"/>
<path fill="#266c98" d="M123.00,15.00h2.75v2.75h-2.75zM120.25,17.75h2.75v2.75h-2.75zM123.00,17.75h2.75v2.75h-2.75zM92.75,20.50h2.75v2.75h-2.75zM120.25,20.50h2.75v2.75h-2.75zM123.00,20.50h2.75v2.75h-2.75zM125.75,20.50h2.75v2.75h-2.75zM128.50,20.50h2.75v2.75h-2.75zM131.25,20.50h2.75v2.75h-2.75zM134.00,20.50h2.75v2.75h-2.75zM161.50,20.50h2.75v2.75h-2.75zM172.50,20.50h2.75v2.75h-2.75zM186.25,20.50h2.75v2.75h-2.75zM197.25,20.50h2.75v2.75h-2.75zM200.00,20.50h2.75v2.75h-2.75zM219.25,20.50h2.75v2.75h-2.75zM84.50,23.25h2.75v2.75h-2.75zM87.25,23.25h2.75v2.75h-2.75zM90.00,23.25h2.75v2.75h-2.75zM92.75,23.25h2.75v2.75h-2.75zM95.50,23.25h2.75v2.75h-2.75zM101.00,23.25h2.75v2.75h-2.75zM103.75,23.25h2.75v2.75h-2.75zM114.75,23.25h2.75v2.75h-2.75zM117.50,23.25h2.75v2.75h-2.75zM120.25,23.25h2.75v2.75h-2.75zM123.00,23.25h2.75v2.75h-2.75zM125.75,23.25h2.75v2.75h-2.75zM128.50,23.25h2.75v2.75h-2.75zM131.25,23.25h2.75v2.75h-2.75zM134.00,23.25h2.75v2.75h-2.75zM142.25,23.25h2.75v2.75h-2.75zM145.00,23.25h2.75v2.75h-2.75zM147.75,23.25h2.75v2.75h-2.75zM156.00,23.25h2.75v2.75h-2.75zM158.75,23.25h2.75v2.75h-2.75zM161.50,23.25h2.75v2.75h-2.75zM169.75,23.25h2.75v2.75h-2.75zM172.50,23.25h2.75v2.75h-2.75zM175.25,23.25h2.75v2.75h-2.75zM186.25,23.25h2.75v2.75h-2.75zM189.00,23.25h2.75v2.75h-2.75zM191.75,23.25h2.75v2.75h-2.75zM194.50,23.25h2.75v2.75h-2.75zM197.25,23.25h2.75v2.75h-2.75zM200.00,23.25h2.75v2.75h-2.75zM202.75,23.25h2.75v2.75h-2.75zM208.25,23.25h2.75v2.75h-2.75zM211.00,23.25h2.75v2.75h-2.75zM213.75,23.25h2.75v2.75h-2.75zM219.25,23.25h2.75v2.75h-2.75zM222.00,23.25h2.75v2.75h-2.75zM84.50,26.00h2.75v2.75h-2.75zM87.25,26.00h2.75v2.75h-2.75zM90.00,26.00h2.75v2.75h-2.75zM92.75,26.00h2.75v2.75h-2.75zM95.50,26.00h2.75v2.75h-2.75zM101.00,26.00h2.75v2.75h-2.75zM106.50,26.00h2.75v2.75h-2.75zM120.25,26.00h2.75v2.75h-2.75zM123.00,26.00h2.75v2.75h-2.75zM125.75,26.00h2.75v2.75h-2.75zM128.50,26.00h2.75v2.75h-2.75zM131.25,26.00h2.75v2.75h-2.75zM134.00,26.00h2.75v2.75h-2.75zM136.75,26.00h2.75v2.75h-2.75zM147.75,26.00h2.75v2.75h-2.75zM158.75,26.00h2.75v2.75h-2.75zM161.50,26.00h2.75v2.75h-2.75zM172.50,26.00h2.75v2.75h-2.75zM186.25,26.00h2.75v2.75h-2.75zM189.00,26.00h2.75v2.75h-2.75zM194.50,26.00h2.75v2.75h-2.75zM197.25,26.00h2.75v2.75h-2.75zM200.00,26.00h2.75v2.75h-2.75zM208.25,26.00h2.75v2.75h-2.75zM211.00,26.00h2.75v2.75h-2.75zM216.50,26.00h2.75v2.75h-2.75zM219.25,26.00h2.75v2.75h-2.75zM222.00,26.00h2.75v2.75h-2.75zM87.25,28.75h2.75v2.75h-2.75zM92.75,28.75h2.75v2.75h-2.75zM120.25,28.75h2.75v2.75h-2.75zM123.00,28.75h2.75v2.75h-2.75zM125.75,28.75h2.75v2.75h-2.75zM128.50,28.75h2.75v2.75h-2.75zM131.25,28.75h2.75v2.75h-2.75zM134.00,28.75h2.75v2.75h-2.75zM136.75,28.75h2.75v2.75h-2.75zM158.75,28.75h2.75v2.75h-2.75zM161.50,28.75h2.75v2.75h-2.75zM186.25,28.75h2.75v2.75h-2.75zM197.25,28.75h2.75v2.75h-2.75zM200.00,28.75h2.75v2.75h-2.75zM208.25,28.75h2.75v2.75h-2.75zM216.50,28.75h2.75v2.75h-2.75zM120.25,31.50h2.75v2.75h-2.75zM123.00,31.50h2.75v2.75h-2.75zM125.75,31.50h2.75v2.75h-2.75zM128.50,31.50h2.75v2.75h-2.75zM131.25,31.50h2.75v2.75h-2.75zM134.00,31.50h2.75v2.75h-2.75zM147.75,31.50h2.75v2.75h-2.75zM158.75,31.50h2.75v2.75h-2.75zM161.50,31.50h2.75v2.75h-2.75zM172.50,31.50h2.75v2.75h-2.75zM216.50,31.50h2.75v2.75h-2.75zM219.25,31.50h2.75v2.75h-2.75zM90.00,34.25h2.75v2.75h-2.75zM117.50,34.25h2.75v2.75h-2.75zM120.25,34.25h2.75v2.75h-2.75zM123.00,34.25h2.75v2.75h-2.75zM125.75,34.25h2.75v2.75h-2.75zM128.50,34.25h2.75v2.75h-2.75zM131.25,34.25h2.75v2.75h-2.75zM134.00,34.25h2.75v2.75h-2.75zM158.75,34.25h2.75v2.75h-2.75zM197.25,34.25h2.75v2.75h-2.75zM211.00,34.25h2.75v2.75h-2.75zM120.25,37.00h2.75v2.75h-2.75zM123.00,37.00h2.75v2.75h-2.75zM125.75,37.00h2.75v2.75h-2.75zM128.50,37.00h2.75v2.75h-2.75zM131.25,37.00h2.75v2.75h-2.75zM134.00,37.00h2.75v2.75h-2.75zM161.50,37.00h2.75v2.75h-2.75zM172.50,37.00h2.75v2.75h-2.75zM117.50,39.75h2.75v2.75h-2.75zM120.25,39.75h2.75v2.75h-2.75zM123.00,39.75h2.75v2.75h-2.75zM125.75,39.75h2.75v2.75h-2.75zM128.50,39.75h2.75v2.75h-2.75zM131.25,39.75h2.75v2.75h-2.75zM134.00,39.75h2.75v2.75h-2.75zM139.50,39.75h2.75v2.75h-2.75zM158.75,39.75h2.75v2.75h-2.75zM161.50,39.75h2.75v2.75h-2.75zM172.50,39.75h2.75v2.75h-2.75zM120.25,42.50h2.75v2.75h-2.75zM123.00,42.50h2.75v2.75h-2.75zM125.75,42.50h2.75v2.75h-2.75zM128.50,42.50h2.75v2.75h-2.75zM131.25,42.50h2.75v2.75h-2.75zM186.25,42.50h2.75v2.75h-2.75zM189.00,42.50h2.75v2.75h-2.75zM191.75,42.50h2.75v2.75h-2.75zM194.50,42.50h2.75v2.75h-2.75zM197.25,42.50h2.75v2.75h-2.75zM202.75,42.50h2.75v2.75h-2.75zM205.50,42.50h2.75v2.75h-2.75zM211.00,42.50h2.75v2.75h-2.75zM213.75,42.50h2.75v2.75h-2.75zM219.25,42.50h2.75v2.75h-2.75zM123.00,45.25h2.75v2.75h-2.75zM211.00,45.25h2.75v2.75h-2.75zM213.75,45.25h2.75v2.75h-2.75zM219.25,50.75h2.75v2.75h-2.75zM120.25,53.50h2.75v2.75h-2.75zM123.00,53.50h2.75v2.75h-2.75zM125.75,53.50h2.75v2.75h-2.75zM120.25,56.25h2.75v2.75h-2.75zM123.00,56.25h2.75v2.75h-2.75zM125.75,56.25h2.75v2.75h-2.75zM131.25,56.25h2.75v2.75h-2.75zM158.75,56.25h2.75v2.75h-2.75zM194.50,56.25h2.75v2.75h-2.75zM197.25,56.25h2.75v2.75h-2.75zM200.00,56.25h2.75v2.75h-2.75zM205.50,56.25h2.75v2.75h-2.75zM211.00,56.25h2.75v2.75h-2.75zM219.25,56.25h2.75v2.75h-2.75zM120.25,59.00h2.75v2.75h-2.75zM123.00,59.00h2.75v2.75h-2.75zM125.75,59.00h2.75v2.75h-2.75zM128.50,59.00h2.75v2.75h-2.75zM134.00,59.00h2.75v2.75h-2.75zM158.75,59.00h2.75v2.75h-2.75zM186.25,59.00h2.75v2.75h-2.75zM189.00,59.00h2.75v2.75h-2.75zM194.50,59.00h2.75v2.75h-2.75zM197.25,59.00h2.75v2.75h-2.75zM200.00,59.00h2.75v2.75h-2.75zM205.50,59.00h2.75v2.75h-2.75zM211.00,59.00h2.75v2.75h-2.75zM213.75,59.00h2.75v2.75h-2.75zM216.50,59.00h2.75v2.75h-2.75zM222.00,59.00h2.75v2.75h-2.75zM128.50,61.75h2.75v2.75h-2.75zM131.25,61.75h2.75v2.75h-2.75zM134.00,61.75h2.75v2.75h-2.75zM128.50,64.50h2.75v2.75h-2.75zM128.50,67.25h2.75v2.75h-2.75zM131.25,67.25h2.75v2.75h-2.75zM134.00,67.25h2.75v2.75h-2.75zM128.50,70.00h2.75v2.75h-2.75zM131.25,70.00h2.75v2.75h-2.75zM134.00,70.00h2.75v2.75h-2.75zM142.25,70.00h2.75v2.75h-2.75zM128.50,72.75h2.75v2.75h-2.75zM131.25,72.75h2.75v2.75h-2.75zM147.75,72.75h2.75v2.75h-2.75zM131.25,78.25h2.75v2.75h-2.75zM128.50,81.00h2.75v2.75h-2.75zM131.25,81.00h2.75v2.75h-2.75zM211.00,108.50h2.75v2.75h-2.75zM158.75,111.25h2.75v2.75h-2.75zM186.25,111.25h2.75v2.75h-2.75zM194.50,111.25h2.75v2.75h-2.75zM197.25,111.25h2.75v2.75h-2.75z"/>
<path fill="#1d8499" d="M125.75,15.00h2.75v2.75h-2.75zM131.25,15.00h2.75v2.75h-2.75zM134.00,15.00h2.75v2.75h-2.75zM92.75,17.75h2.75v2.75h-2.75zM161.50,17.75h2.75v2.75h-2.75zM172.50,17.75h2.75v2.75h-2.75zM98.25,20.50h2.75v2.75h-2.75zM103.75,20.50h2.75v2.75h-2.75zM150.50,20.50h2.75v2.75h-2.75zM183.50,20.50h2.75v2.75h-2.75zM224.75,20.50h2.75v2.75h-2.75zM230.25,23.25h2.75v2.75h-2.75zM114.75,26.00h2.75v2.75h-2.75zM153.25,26.00h2.75v2.75h-2.75zM178.00,26.00h2.75v2.75h-2.75zM180.75,26.00h2.75v2.75h-2.75zM84.50,28.75h2.75v2.75h-2.75zM109.25,28.75h2.75v2.75h-2.75zM112.00,28.75h2.75v2.75h-2.75zM150.50,28.75h2.75v2.75h-2.75zM180.75,28.75h2.75v2.75h-2.75zM112.00,31.50h2.75v2.75h-2.75zM114.75,31.50h2.75v2.75h-2.75zM145.00,31.50h2.75v2.75h-2.75zM164.25,31.50h2.75v2.75h-2.75zM186.25,31.50h2.75v2.75h-2.75zM208.25,31.50h2.75v2.75h-2.75zM98.25,34.25h2.75v2.75h-2.75zM103.75,34.25h2.75v2.75h-2.75zM114.75,34.25h2.75v2.75h-2.75zM156.00,34.25h2.75v2.75h-2.75zM164.25,34.25h2.75v2.75h-2.75zM175.25,34.25h2.75v2.75h-2.75zM200.00,34.25h2.75v2.75h-2.75zM224.75,34.25h2.75v2.75h-2.75zM103.75,37.00h2.75v2.75h-2.75zM106.50,37.00h2.75v2.75h-2.75zM145.00,37.00h2.75v2.75h-2.75zM150.50,37.00h2.75v2.75h-2.75zM164.25,37.00h2.75v2.75h-2.75zM175.25,37.00h2.75v2.75h-2.75zM186.25,37.00h2.75v2.75h-2.75zM191.75,37.00h2.75v2.75h-2.75zM202.75,37.00h2.75v2.75h-2.75zM208.25,37.00h2.75v2.75h-2.75zM213.75,37.00h2.75v2.75h-2.75zM222.00,37.00h2.75v2.75h-2.75zM84.50,39.75h2.75v2.75h-2.75zM98.25,39.75h2.75v2.75h-2.75zM114.75,39.75h2.75v2.75h-2.75zM142.25,39.75h2.75v2.75h-2.75zM145.00,39.75h2.75v2.75h-2.75zM191.75,39.75h2.75v2.75h-2.75zM230.25,39.75h2.75v2.75h-2.75zM106.50,42.50h2.75v2.75h-2.75zM109.25,42.50h2.75v2.75h-2.75zM134.00,42.50h2.75v2.75h-2.75zM142.25,42.50h2.75v2.75h-2.75zM156.00,42.50h2.75v2.75h-2.75zM227.50,42.50h2.75v2.75h-2.75zM134.00,45.25h2.75v2.75h-2.75zM186.25,45.25h2.75v2.75h-2.75zM205.50,45.25h2.75v2.75h-2.75zM227.50,45.25h2.75v2.75h-2.75zM120.25,48.00h2.75v2.75h-2.75zM158.75,48.00h2.75v2.75h-2.75zM189.00,48.00h2.75v2.75h-2.75zM194.50,48.00h2.75v2.75h-2.75zM200.00,48.00h2.75v2.75h-2.75zM213.75,48.00h2.75v2.75h-2.75zM216.50,48.00h2.75v2.75h-2.75zM219.25,48.00h2.75v2.75h-2.75zM158.75,50.75h2.75v2.75h-2.75zM194.50,50.75h2.75v2.75h-2.75zM202.75,50.75h2.75v2.75h-2.75zM205.50,50.75h2.75v2.75h-2.75zM208.25,50.75h2.75v2.75h-2.75zM216.50,50.75h2.75v2.75h-2.75zM222.00,50.75h2.75v2.75h-2.75zM109.25,53.50h2.75v2.75h-2.75zM117.50,53.50h2.75v2.75h-2.75zM208.25,53.50h2.75v2.75h-2.75zM109.25,56.25h2.75v2.75h-2.75zM114.75,56.25h2.75v2.75h-2.75zM169.75,56.25h2.75v2.75h-2.75zM175.25,56.25h2.75v2.75h-2.75zM109.25,59.00h2.75v2.75h-2.75zM136.75,59.00h2.75v2.75h-2.75zM142.25,59.00h2.75v2.75h-2.75zM145.00,59.00h2.75v2.75h-2.75zM147.75,59.00h2.75v2.75h-2.75zM169.75,59.00h2.75v2.75h-2.75zM224.75,59.00h2.75v2.75h-2.75zM120.25,61.75h2.75v2.75h-2.75zM158.75,61.75h2.75v2.75h-2.75zM194.50,61.75h2.75v2.75h-2.75zM202.75,61.75h2.75v2.75h-2.75zM222.00,61.75h2.75v2.75h-2.75zM145.00,64.50h2.75v2.75h-2.75zM158.75,64.50h2.75v2.75h-2.75zM216.50,64.50h2.75v2.75h-2.75zM161.50,67.25h2.75v2.75h-2.75zM186.25,67.25h2.75v2.75h-2.75zM205.50,67.25h2.75v2.75h-2.75zM213.75,67.25h2.75v2.75h-2.75zM216.50,67.25h2.75v2.75h-2.75zM222.00,67.25h2.75v2.75h-2.75zM125.75,70.00h2.75v2.75h-2.75zM169.75,70.00h2.75v2.75h-2.75zM172.50,70.00h2.75v2.75h-2.75zM191.75,70.00h2.75v2.75h-2.75zM194.50,70.00h2.75v2.75h-2.75zM208.25,70.00h2.75v2.75h-2.75zM213.75,70.00h2.75v2.75h-2.75zM145.00,72.75h2.75v2.75h-2.75zM161.50,72.75h2.75v2.75h-2.75zM183.50,72.75h2.75v2.75h-2.75zM186.25,72.75h2.75v2.75h-2.75zM189.00,72.75h2.75v2.75h-2.75zM202.75,72.75h2.75v2.75h-2.75zM219.25,72.75h2.75v2.75h-2.75zM131.25,75.50h2.75v2.75h-2.75zM142.25,75.50h2.75v2.75h-2.75zM147.75,75.50h2.75v2.75h-2.75zM197.25,75.50h2.75v2.75h-2.75zM123.00,78.25h2.75v2.75h-2.75zM147.75,78.25h2.75v2.75h-2.75zM194.50,78.25h2.75v2.75h-2.75zM205.50,78.25h2.75v2.75h-2.75zM213.75,78.25h2.75v2.75h-2.75zM123.00,81.00h2.75v2.75zM125.75,81.00h2.75v2.75h-2.75zM139.50,81.00h2.75v2.75h-2.75zM158.75,81.00h2.75v2.75h-2.75zM186.25,81.00h2.75v2.75h-2.75zM189.00,81.00h2.75v2.75h-2.75zM202.75,81.00h2.75v2.75h-2.75zM205.50,81.00h2.75v2.75h-2.75zM213.75,81.00h2.75v2.75h-2.75zM147.75,83.75h2.75v2.75h-2.75zM186.25,83.75h2.75v2.75h-2.75zM197.25,83.75h2.75v2.75h-2.75zM205.50,83.75h2.75v2.75h-2.75zM161.50,86.50h2.75v2.75h-2.75zM147.75,92.00h2.75v2.75h-2.75zM169.75,92.00h2.75v2.75h-2.75zM158.75,94.75h2.75v2.75h-2.75zM161.50,94.75h2.75v2.75h-2.75zM197.25,94.75h2.75v2.75h-2.75zM169.75,103.00h2.75v2.75h-2.75zM194.50,103.00h2.75v2.75h-2.75zM208.25,103.00h2.75v2.75h-2.75zM213.75,103.00h2.75v2.75h-2.75zM222.00,103.00h2.75v2.75h-2.75zM227.50,103.00h2.75v2.75h-2.75zM161.50,105.75h2.75v2.75h-2.75zM175.25,105.75h2.75v2.75h-2.75zM189.00,105.75h2.75v2.75h-2.75zM202.75,105.75h2.75v2.75h-2.75zM222.00,105.75h2.75v2.75h-2.75zM224.75,105.75h2.75v2.75h-2.75zM178.00,108.50h2.75v2.75h-2.75zM200.00,108.50h2.75v2.75h-2.75zM208.25,108.50h2.75v2.75h-2.75zM213.75,108.50h2.75v2.75h-2.75zM227.50,108.50h2.75v2.75h-2.75zM169.75,111.25h2.75v2.75h-2.75zM178.00,111.25h2.75v2.75h-2.75zM191.75,111.25h2.75v2.75h-2.75zM158.75,114.00h2.75v2.75h-2.75zM161.50,114.00h2.75v2.75h-2.75zM169.75,114.00h2.75v2.75h-2.75zM191.75,114.00h2.75v2.75h-2.75zM202.75,114.00h2.75v2.75h-2.75zM222.00,114.00h2.75v2.75h-2.75zM227.50,114.00h2.75v2.75h-2.75zM186.25,116.75h2.75v2.75h-2.75zM200.00,116.75h2.75v2.75h-2.75zM208.25,116.75h2.75v2.75h-2.75zM200.00,122.25h2.75v2.75h-2.75zM205.50,122.25h2.75v2.75h-2.75zM211.00,122.25h2.75v2.75h-2.75zM219.25,122.25h2.75v2.75h-2.75zM222.00,122.25h2.75v2.75h-2.75zM224.75,122.25h2.75v2.75h-2.75zM180.75,125.00h2.75v2.75h-2.75zM183.50,125.00h2.75v2.75h-2.75zM186.25,127.75h2.75v2.75h-2.75zM200.00,127.75h2.75v2.75h-2.75zM208.25,127.75h2.75v2.75h-2.75zM219.25,127.75h2.75v2.75h-2.75zM189.00,130.50h2.75v2.75h-2.75zM202.75,130.50h2.75v2.75h-2.75zM205.50,130.50h2.75v2.75h-2.75zM213.75,130.50h2.75v2.75h-2.75zM216.50,130.50h2.75v2.75h-2.75zM219.25,130.50h2.75v2.75h-2.75zM224.75,130.50h2.75v2.75h-2.75zM189.00,133.25h2.75v2.75h-2.75zM200.00,133.25h2.75v2.75h-2.75zM216.50,133.25h2.75v2.75h-2.75zM227.50,133.25h2.75v2.75h-2.75zM230.25,133.25h2.75v2.75h-2.75zM186.25,136.00h2.75v2.75h-2.75zM197.25,136.00h2.75v2.75h-2.75zM205.50,136.00h2.75v2.75h-2.75zM216.50,136.00h2.75v2.75h-2.75zM219.25,136.00h2.75v2.75h-2.75zM230.25,136.00h2.75v2.75h-2.75zM186.25,138.75h2.75v2.75h-2.75zM205.50,138.75h2.75v2.75h-2.75zM213.75,138.75h2.75v2.75h-2.75zM186.25,141.50h2.75v2.75h-2.75zM191.75,141.50h2.75v2.75h-2.75zM208.25,141.50h2.75v2.75h-2.75zM211.00,141.50h2.75v2.75h-2.75zM216.50,141.50h2.75v2.75h-2.75zM219.25,141.50h2.75v2.75h-2.75zM186.25,144.25h2.75v2.75zM197.25,144.25h2.75v2.75h-2.75zM200.00,144.25h2.75v2.75h-2.75zM202.75,144.25h2.75v2.75h-2.75zM200.00,147.00h2.75v2.75h-2.75zM211.00,147.00h2.75v2.75h-2.75zM213.75,147.00h2.75v2.75h-2.75zM227.50,147.00h2.75v2.75h-2.75zM230.25,147.00h2.75v2.75h-2.75zM216.50,149.75h2.75v2.75h-2.75zM216.50,171.75h2.75v2.75h-2.75zM219.25,171.75h2.75v2.75h-2.75zM224.75,171.75h2.75v2.75h-2.75zM227.50,171.75h2.75v2.75h-2.75zM230.25,171.75h2.75v2.75h-2.75zM216.50,174.50h2.75v2.75zM227.50,174.50h2.75v2.75h-2.75zM219.25,177.25h2.75v2.75z"/>
<path fill="#1f7e99" d="M128.50,15.00h2.75v2.75h-2.75zM158.75,17.75h2.75v2.75h-2.75zM222.00,17.75h2.75v2.75h-2.75zM87.25,20.50h2.75v2.75h-2.75zM90.00,20.50h2.75v2.75h-2.75zM106.50,20.50h2.75v2.75h-2.75zM136.75,20.50h2.75v2.75h-2.75zM164.25,20.50h2.75v2.75h-2.75zM167.00,20.50h2.75v2.75h-2.75zM175.25,20.50h2.75v2.75h-2.75zM191.75,20.50h2.75v2.75h-2.75zM194.50,20.50h2.75v2.75h-2.75zM211.00,20.50h2.75v2.75h-2.75zM109.25,23.25h2.75v2.75h-2.75zM153.25,23.25h2.75v2.75h-2.75zM178.00,23.25h2.75v2.75h-2.75zM180.75,23.25h2.75v2.75h-2.75zM112.00,26.00h2.75v2.75h-2.75zM145.00,26.00h2.75v2.75h-2.75zM164.25,26.00h2.75v2.75h-2.75zM167.00,26.00h2.75v2.75h-2.75zM183.50,26.00h2.75v2.75h-2.75zM230.25,26.00h2.75v2.75h-2.75zM98.25,28.75h2.75v2.75h-2.75zM103.75,28.75h2.75v2.75h-2.75zM106.50,28.75h2.75v2.75h-2.75zM114.75,28.75h2.75v2.75h-2.75zM147.75,28.75h2.75v2.75h-2.75zM156.00,28.75h2.75v2.75h-2.75zM167.00,28.75h2.75v2.75h-2.75zM183.50,28.75h2.75v2.75h-2.75zM189.00,28.75h2.75v2.75h-2.75zM191.75,28.75h2.75v2.75h-2.75zM202.75,28.75h2.75v2.75h-2.75zM213.75,28.75h2.75v2.75h-2.75zM84.50,31.50h2.75v2.75h-2.75zM87.25,31.50h2.75v2.75h-2.75zM98.25,31.50h2.75v2.75h-2.75zM101.00,31.50h2.75v2.75h-2.75zM103.75,31.50h2.75v2.75h-2.75zM106.50,31.50h2.75v2.75h-2.75zM109.25,31.50h2.75v2.75h-2.75zM150.50,31.50h2.75v2.75h-2.75zM169.75,31.50h2.75v2.75h-2.75zM191.75,31.50h2.75v2.75h-2.75zM200.00,31.50h2.75v2.75h-2.75zM202.75,31.50h2.75v2.75h-2.75zM84.50,34.25h2.75v2.75h-2.75zM106.50,34.25h2.75v2.75h-2.75zM136.75,34.25h2.75v2.75h-2.75zM139.50,34.25h2.75v2.75h-2.75zM145.00,34.25h2.75v2.75h-2.75zM147.75,34.25h2.75v2.75h-2.75zM202.75,34.25h2.75v2.75h-2.75zM208.25,34.25h2.75v2.75h-2.75zM213.75,34.25h2.75v2.75h-2.75zM216.50,34.25h2.75v2.75h-2.75zM222.00,34.25h2.75v2.75h-2.75zM90.00,37.00h2.75v2.75h-2.75zM95.50,37.00h2.75v2.75h-2.75zM101.00,37.00h2.75v2.75h-2.75zM136.75,37.00h2.75v2.75h-2.75zM147.75,37.00h2.75v2.75h-2.75zM219.25,37.00h2.75v2.75h-2.75zM87.25,39.75h2.75v2.75h-2.75zM101.00,39.75h2.75v2.75h-2.75zM103.75,39.75h2.75v2.75h-2.75zM164.25,39.75h2.75v2.75h-2.75zM183.50,39.75h2.75v2.75h-2.75zM186.25,39.75h2.75v2.75h-2.75zM189.00,39.75h2.75v2.75h-2.75zM200.00,39.75h2.75v2.75h-2.75zM202.75,39.75h2.75v2.75h-2.75zM208.25,39.75h2.75v2.75h-2.75zM213.75,39.75h2.75v2.75h-2.75zM117.50,42.50h2.75v2.75h-2.75zM139.50,42.50h2.75v2.75h-2.75zM147.75,42.50h2.75v2.75h-2.75zM169.75,42.50h2.75v2.75h-2.75zM128.50,45.25h2.75v2.75h-2.75zM172.50,45.25h2.75v2.75h-2.75zM191.75,45.25h2.75v2.75h-2.75zM208.25,45.25h2.75v2.75h-2.75zM216.50,45.25h2.75v2.75h-2.75zM125.75,48.00h2.75v2.75h-2.75zM128.50,48.00h2.75v2.75h-2.75zM205.50,48.00h2.75v2.75h-2.75zM208.25,48.00h2.75v2.75h-2.75zM125.75,50.75h2.75v2.75h-2.75zM128.50,50.75h2.75v2.75h-2.75zM211.00,50.75h2.75v2.75h-2.75zM128.50,53.50h2.75v2.75h-2.75zM134.00,53.50h2.75v2.75h-2.75zM172.50,53.50h2.75v2.75h-2.75zM117.50,56.25h2.75v2.75h-2.75zM150.50,56.25h2.75v2.75h-2.75zM156.00,56.25h2.75v2.75h-2.75zM172.50,56.25h2.75v2.75h-2.75zM183.50,59.00h2.75v2.75h-2.75zM227.50,59.00h2.75v2.75h-2.75zM136.75,61.75h2.75v2.75h-2.75zM147.75,61.75h2.75v2.75h-2.75zM197.25,61.75h2.75v2.75h-2.75zM200.00,61.75h2.75v2.75h-2.75zM211.00,61.75h2.75v2.75h-2.75zM216.50,61.75h2.75v2.75h-2.75zM219.25,61.75h2.75v2.75h-2.75zM134.00,64.50h2.75v2.75h-2.75zM142.25,64.50h2.75v2.75h-2.75zM120.25,67.25h2.75v2.75h-2.75zM150.50,67.25h2.75v2.75h-2.75zM194.50,67.25h2.75v2.75h-2.75zM200.00,67.25h2.75v2.75h-2.75zM211.00,67.25h2.75v2.75h-2.75zM136.75,70.00h2.75v2.75h-2.75zM139.50,70.00h2.75v2.75h-2.75zM158.75,70.00h2.75v2.75h-2.75zM216.50,70.00h2.75v2.75h-2.75zM219.25,70.00h2.75v2.75h-2.75zM222.00,70.00h2.75v2.75h-2.75zM125.75,72.75h2.75v2.75h-2.75zM197.25,72.75h2.75v2.75h-2.75zM205.50,72.75h2.75v2.75h-2.75zM216.50,72.75h2.75v2.75h-2.75zM134.00,78.25h2.75v2.75h-2.75zM142.25,78.25h2.75v2.75h-2.75zM145.00,78.25h2.75v2.75h-2.75zM189.00,78.25h2.75v2.75h-2.75zM211.00,78.25h2.75v2.75h-2.75zM219.25,78.25h2.75v2.75h-2.75zM150.50,81.00h2.75v2.75h-2.75zM194.50,81.00h2.75v2.75h-2.75zM197.25,81.00h2.75v2.75h-2.75zM211.00,81.00h2.75v2.75h-2.75zM136.75,83.75h2.75v2.75h-2.75zM142.25,83.75h2.75v2.75h-2.75zM145.00,83.75h2.75v2.75h-2.75zM200.00,83.75h2.75v2.75h-2.75zM216.50,83.75h2.75v2.75h-2.75zM161.50,92.00h2.75v2.75h-2.75zM197.25,103.00h2.75v2.75h-2.75zM202.75,103.00h2.75v2.75h-2.75zM211.00,103.00h2.75v2.75h-2.75zM186.25,105.75h2.75v2.75h-2.75zM197.25,105.75h2.75v2.75h-2.75zM205.50,105.75h2.75v2.75h-2.75zM208.25,105.75h2.75v2.75h-2.75zM227.50,105.75h2.75v2.75h-2.75zM161.50,108.50h2.75v2.75h-2.75zM169.75,108.50h2.75v2.75h-2.75zM202.75,108.50h2.75v2.75h-2.75zM216.50,108.50h2.75v2.75h-2.75zM219.25,108.50h2.75v2.75h-2.75zM224.75,108.50h2.75v2.75h-2.75zM180.75,111.25h2.75v2.75h-2.75zM205.50,111.25h2.75v2.75h-2.75zM213.75,111.25h2.75v2.75h-2.75zM189.00,114.00h2.75v2.75h-2.75zM200.00,114.00h2.75v2.75h-2.75zM205.50,114.00h2.75v2.75h-2.75zM224.75,114.00h2.75v2.75h-2.75zM197.25,116.75h2.75v2.75h-2.75zM186.25,122.25h2.75v2.75h-2.75zM197.25,122.25h2.75v2.75h-2.75zM172.50,125.00h2.75v2.75h-2.75zM191.75,125.00h2.75v2.75h-2.75zM202.75,125.00h2.75v2.75h-2.75zM208.25,125.00h2.75v2.75h-2.75zM211.00,125.00h2.75v2.75h-2.75zM230.25,125.00h2.75v2.75h-2.75zM183.50,127.75h2.75v2.75h-2.75zM197.25,127.75h2.75v2.75h-2.75zM211.00,127.75h2.75v2.75h-2.75zM216.50,127.75h2.75v2.75h-2.75zM191.75,130.50h2.75v2.75h-2.75zM194.50,130.50h2.75v2.75h-2.75zM197.25,130.50h2.75v2.75h-2.75zM208.25,130.50h2.75v2.75h-2.75zM180.75,133.25h2.75v2.75h-2.75zM194.50,133.25h2.75v2.75h-2.75zM202.75,133.25h2.75v2.75h-2.75zM208.25,133.25h2.75v2.75h-2.75zM211.00,133.25h2.75v2.75h-2.75zM222.00,133.25h2.75v2.75h-2.75zM194.50,138.75h2.75v2.75h-2.75zM216.50,138.75h2.75v2.75h-2.75zM219.25,138.75h2.75v2.75h-2.75zM194.50,141.50h2.75v2.75h-2.75zM200.00,141.50h2.75v2.75h-2.75zM205.50,141.50h2.75v2.75h-2.75zM222.00,141.50h2.75v2.75h-2.75zM194.50,144.25h2.75v2.75h-2.75zM205.50,147.00h2.75v2.75h-2.75zM216.50,147.00h2.75v2.75h-2.75zM224.75,147.00h2.75v2.75h-2.75zM219.25,149.75h2.75v2.75h-2.75zM227.50,149.75h2.75v2.75h-2.75zM224.75,174.50h2.75v2.75h-2.75zM230.25,174.50h2.75v2.75h-2.75zM224.75,177.25h2.75v2.75h-2.75z"/>
<path fill="#159d97" d="M136.75,15.00h2.75v2.75h-2.75zM139.50,15.00h2.75v2.75h-2.75zM145.00,15.00h2.75v2.75h-2.75zM147.75,15.00h2.75v2.75h-2.75zM169.75,15.00h2.75v2.75h-2.75zM172.50,15.00h2.75v2.75h-2.75zM175.25,15.00h2.75v2.75h-2.75zM189.00,15.00h2.75v2.75h-2.75zM194.50,15.00h2.75v2.75h-2.75zM197.25,15.00h2.75v2.75h-2.75zM208.25,15.00h2.75v2.75h-2.75zM98.25,17.75h2.75v2.75h-2.75zM145.00,17.75h2.75v2.75h-2.75zM164.25,17.75h2.75v2.75h-2.75zM167.00,17.75h2.75v2.75h-2.75zM227.50,17.75h2.75v2.75h-2.75zM178.00,34.25h2.75v2.75h-2.75zM178.00,37.00h2.75v2.75h-2.75zM167.00,42.50h2.75v2.75h-2.75zM180.75,42.50h2.75v2.75h-2.75zM112.00,45.25h2.75v2.75h-2.75zM156.00,45.25h2.75v2.75h-2.75zM164.25,45.25h2.75v2.75h-2.75zM183.50,45.25h2.75v2.75h-2.75zM230.25,45.25h2.75v2.75h-2.75zM103.75,48.00h2.75v2.75h-2.75zM112.00,48.00h2.75v2.75h-2.75zM136.75,48.00h2.75v2.75h-2.75zM139.50,48.00h2.75v2.75h-2.75zM156.00,48.00h2.75v2.75h-2.75zM164.25,48.00h2.75v2.75h-2.75zM167.00,48.00h2.75v2.75h-2.75zM169.75,48.00h2.75v2.75h-2.75zM183.50,48.00h2.75v2.75h-2.75zM227.50,48.00h2.75v2.75h-2.75zM117.50,50.75h2.75v2.75h-2.75zM169.75,50.75h2.75v2.75h-2.75zM224.75,50.75h2.75v2.75h-2.75zM106.50,53.50h2.75v2.75h-2.75zM112.00,53.50h2.75v2.75h-2.75zM114.75,53.50h2.75v2.75h-2.75zM145.00,53.50h2.75v2.75h-2.75zM150.50,53.50h2.75v2.75h-2.75zM183.50,53.50h2.75v2.75h-2.75zM153.25,56.25h2.75v2.75h-2.75zM167.00,56.25h2.75v2.75h-2.75zM112.00,59.00h2.75v2.75h-2.75zM114.75,59.00h2.75v2.75h-2.75zM153.25,59.00h2.75v2.75h-2.75zM178.00,59.00h2.75v2.75h-2.75zM156.00,61.75h2.75v2.75h-2.75zM169.75,61.75h2.75v2.75h-2.75zM178.00,61.75h2.75v2.75h-2.75zM224.75,61.75h2.75v2.75h-2.75zM227.50,61.75h2.75v2.75h-2.75zM230.25,61.75h2.75v2.75h-2.75zM153.25,64.50h2.75v2.75h-2.75zM175.25,64.50h2.75v2.75h-2.75zM180.75,64.50h2.75v2.75h-2.75zM191.75,64.50h2.75v2.75h-2.75zM211.00,64.50h2.75v2.75h-2.75zM117.50,67.25h2.75v2.75h-2.75zM164.25,67.25h2.75v2.75h-2.75zM227.50,67.25h2.75v2.75h-2.75zM117.50,70.00h2.75v2.75h-2.75zM167.00,70.00h2.75v2.75h-2.75zM178.00,70.00h2.75v2.75h-2.75zM227.50,70.00h2.75v2.75h-2.75zM164.25,72.75h2.75v2.75h-2.75zM191.75,72.75h2.75v2.75h-2.75zM230.25,72.75h2.75v2.75h-2.75zM125.75,75.50h2.75v2.75h-2.75zM136.75,75.50h2.75v2.75h-2.75zM153.25,75.50h2.75v2.75h-2.75zM161.50,75.50h2.75v2.75h-2.75zM216.50,75.50h2.75v2.75h-2.75zM219.25,75.50h2.75v2.75h-2.75zM125.75,78.25h2.75v2.75h-2.75zM169.75,78.25h2.75v2.75h-2.75zM224.75,78.25h2.75v2.75h-2.75zM164.25,81.00h2.75v2.75h-2.75zM178.00,81.00h2.75v2.75h-2.75zM180.75,81.00h2.75v2.75h-2.75zM169.75,83.75h2.75v2.75h-2.75zM180.75,83.75h2.75v2.75h-2.75zM142.25,86.50h2.75v2.75h-2.75zM189.00,86.50h2.75v2.75h-2.75zM194.50,86.50h2.75v2.75h-2.75zM202.75,86.50h2.75v2.75h-2.75zM134.00,89.25h2.75v2.75h-2.75zM147.75,89.25h2.75v2.75h-2.75zM150.50,89.25h2.75v2.75h-2.75zM164.25,89.25h2.75v2.75h-2.75zM175.25,89.25h2.75v2.75h-2.75zM186.25,89.25h2.75v2.75h-2.75zM189.00,89.25h2.75v2.75h-2.75zM211.00,89.25h2.75v2.75h-2.75zM213.75,89.25h2.75v2.75h-2.75zM219.25,89.25h2.75v2.75h-2.75zM134.00,92.00h2.75v2.75zM150.50,92.00h2.75v2.75h-2.75zM156.00,92.00h2.75v2.75h-2.75zM191.75,92.00h2.75v2.75h-2.75zM205.50,92.00h2.75v2.75h-2.75zM222.00,92.00h2.75v2.75h-2.75zM150.50,94.75h2.75v2.75h-2.75zM167.00,94.75h2.75v2.75h-2.75zM189.00,94.75h2.75v2.75h-2.75zM191.75,94.75h2.75v2.75h-2.75zM200.00,94.75h2.75v2.75h-2.75zM202.75,94.75h2.75v2.75h-2.75zM208.25,94.75h2.75v2.75h-2.75zM213.75,94.75h2.75v2.75h-2.75zM222.00,94.75h2.75v2.75h-2.75zM150.50,97.50h2.75v2.75h-2.75zM175.25,97.50h2.75v2.75h-2.75zM208.25,97.50h2.75v2.75h-2.75zM211.00,97.50h2.75v2.75h-2.75zM213.75,97.50h2.75v2.75h-2.75zM216.50,97.50h2.75v2.75h-2.75zM219.25,97.50h2.75v2.75h-2.75zM224.75,97.50h2.75v2.75h-2.75zM161.50,100.25h2.75v2.75h-2.75zM178.00,100.25h2.75v2.75h-2.75zM194.50,100.25h2.75v2.75h-2.75zM200.00,100.25h2.75v2.75h-2.75zM202.75,100.25h2.75v2.75h-2.75zM208.25,100.25h2.75v2.75h-2.75zM213.75,100.25h2.75v2.75h-2.75zM222.00,100.25h2.75v2.75h-2.75zM167.00,103.00h2.75v2.75h-2.75zM175.25,103.00h2.75v2.75h-2.75zM156.00,108.50h2.75v2.75h-2.75zM156.00,114.00h2.75v2.75zM175.25,114.00h2.75v2.75h-2.75zM175.25,116.75h2.75v2.75h-2.75zM230.25,116.75h2.75v2.75h-2.75zM200.00,119.50h2.75v2.75h-2.75zM213.75,119.50h2.75v2.75h-2.75zM175.25,127.75h2.75v2.75h-2.75zM178.00,127.75h2.75v2.75h-2.75zM230.25,127.75h2.75v2.75h-2.75zM178.00,133.25h2.75v2.75h-2.75zM208.25,149.75h2.75v2.75h-2.75zM230.25,149.75h2.75v2.75h-2.75zM208.25,152.50h2.75v2.75h-2.75zM211.00,152.50h2.75v2.75h-2.75zM219.25,152.50h2.75v2.75h-2.75zM227.50,155.25h2.75v2.75h-2.75zM213.75,166.25h2.75v2.75h-2.75zM216.50,166.25h2.75v2.75h-2.75zM222.00,169.00h2.75v2.75h-2.75zM227.50,180.00h2.75v2.75h-2.75z"/>
<path fill="#1dc081" d="M59.75,17.75h2.75v2.75zM62.50,17.75h2.75v2.75h-2.75zM81.75,28.75h2.75v2.75h-2.75zM81.75,31.50h2.75v2.75h-2.75zM84.50,42.50h2.75v2.75zM180.75,48.00h2.75v2.75h-2.75zM101.00,53.50h2.75v2.75h-2.75zM136.75,89.25h2.75v2.75h-2.75zM139.50,89.25h2.75v2.75h-2.75zM150.50,100.25h2.75v2.75h-2.75zM153.25,103.00h2.75v2.75h-2.75zM230.25,182.75h2.75v2.75h-2.75zM230.25,185.50h2.75v2.75h-2.75z"/>
<path fill="#17bc86" d="M65.25,17.75h2.75v2.75h-2.75zM76.25,17.75h2.75v2.75h-2.75zM79.00,17.75h2.75v2.75h-2.75zM81.75,37.00h2.75v2.75h-2.75zM87.25,45.25h2.75v2.75zM90.00,48.00h2.75v2.75zM95.50,48.00h2.75v2.75h-2.75zM101.00,48.00h2.75v2.75h-2.75zM101.00,50.75h2.75v2.75h-2.75zM98.25,56.25h2.75v2.75zM106.50,64.50h2.75v2.75zM109.25,64.50h2.75v2.75h-2.75zM112.00,64.50h2.75v2.75h-2.75zM114.75,67.25h2.75v2.75h-2.75zM114.75,72.75h2.75v2.75zM147.75,100.25h2.75v2.75h-2.75zM150.50,103.00h2.75v2.75h-2.75zM200.00,158.00h2.75v2.75zM211.00,160.75h2.75v2.75h-2.75z"/>
<path fill="#217899" d="M125.75,17.75h2.75v2.75h-2.75zM134.00,17.75h2.75v2.75h-2.75zM95.50,20.50h2.75v2.75h-2.75zM147.75,20.50h2.75v2.75h-2.75zM189.00,20.50h2.75v2.75h-2.75zM202.75,20.50h2.75v2.75h-2.75zM205.50,20.50h2.75v2.75h-2.75zM208.25,20.50h2.75v2.75h-2.75zM213.75,20.50h2.75v2.75h-2.75zM216.50,20.50h2.75v2.75h-2.75zM222.00,20.50h2.75v2.75h-2.75zM227.50,20.50h2.75v2.75h-2.75zM98.25,23.25h2.75v2.75h-2.75zM150.50,23.25h2.75v2.75h-2.75zM164.25,23.25h2.75v2.75h-2.75zM167.00,23.25h2.75v2.75h-2.75zM227.50,23.25h2.75v2.75h-2.75zM142.25,26.00h2.75v2.75h-2.75zM150.50,26.00h2.75v2.75h-2.75zM205.50,26.00h2.75v2.75h-2.75zM224.75,26.00h2.75v2.75h-2.75zM101.00,28.75h2.75v2.75h-2.75zM117.50,28.75h2.75v2.75h-2.75zM139.50,28.75h2.75v2.75h-2.75zM164.25,28.75h2.75v2.75h-2.75zM169.75,28.75h2.75v2.75h-2.75zM175.25,28.75h2.75v2.75h-2.75zM205.50,28.75h2.75v2.75h-2.75zM219.25,28.75h2.75v2.75h-2.75zM224.75,28.75h2.75v2.75h-2.75zM95.50,31.50h2.75v2.75h-2.75zM117.50,31.50h2.75v2.75h-2.75zM136.75,31.50h2.75v2.75h-2.75zM139.50,31.50h2.75v2.75h-2.75zM142.25,31.50h2.75v2.75h-2.75zM175.25,31.50h2.75v2.75h-2.75zM189.00,31.50h2.75v2.75h-2.75zM205.50,31.50h2.75v2.75h-2.75zM224.75,31.50h2.75v2.75h-2.75zM95.50,34.25h2.75v2.75h-2.75zM101.00,34.25h2.75v2.75h-2.75zM142.25,34.25h2.75v2.75h-2.75zM194.50,34.25h2.75v2.75h-2.75zM205.50,34.25h2.75v2.75h-2.75zM219.25,34.25h2.75v2.75h-2.75zM92.75,37.00h2.75v2.75h-2.75zM139.50,37.00h2.75v2.75h-2.75zM158.75,37.00h2.75v2.75h-2.75zM169.75,37.00h2.75v2.75h-2.75zM197.25,37.00h2.75v2.75h-2.75zM200.00,37.00h2.75v2.75h-2.75zM205.50,37.00h2.75v2.75h-2.75zM216.50,37.00h2.75v2.75h-2.75zM90.00,39.75h2.75v2.75h-2.75zM109.25,39.75h2.75v2.75h-2.75zM136.75,39.75h2.75v2.75h-2.75zM147.75,39.75h2.75v2.75h-2.75zM150.50,39.75h2.75v2.75h-2.75zM169.75,39.75h2.75v2.75h-2.75zM194.50,39.75h2.75v2.75h-2.75zM216.50,39.75h2.75v2.75h-2.75zM219.25,39.75h2.75v2.75h-2.75zM158.75,42.50h2.75v2.75h-2.75zM172.50,42.50h2.75v2.75h-2.75zM120.25,45.25h2.75v2.75h-2.75zM125.75,45.25h2.75v2.75h-2.75zM189.00,45.25h2.75v2.75h-2.75zM202.75,45.25h2.75v2.75h-2.75zM222.00,45.25h2.75v2.75h-2.75zM131.25,48.00h2.75v2.75h-2.75zM120.25,50.75h2.75v2.75h-2.75zM197.25,50.75h2.75v2.75h-2.75zM213.75,50.75h2.75v2.75h-2.75zM131.25,53.50h2.75v2.75h-2.75zM200.00,53.50h2.75v2.75h-2.75zM202.75,53.50h2.75v2.75h-2.75zM205.50,53.50h2.75v2.75h-2.75zM211.00,53.50h2.75v2.75h-2.75zM219.25,53.50h2.75v2.75h-2.75zM134.00,56.25h2.75v2.75h-2.75zM186.25,56.25h2.75v2.75h-2.75zM191.75,56.25h2.75v2.75h-2.75zM202.75,56.25h2.75v2.75h-2.75zM213.75,56.25h2.75v2.75h-2.75zM117.50,59.00h2.75v2.75h-2.75zM131.25,59.00h2.75v2.75h-2.75zM161.50,59.00h2.75v2.75h-2.75zM172.50,59.00h2.75v2.75h-2.75zM191.75,59.00h2.75v2.75h-2.75zM202.75,59.00h2.75v2.75h-2.75zM219.25,59.00h2.75v2.75h-2.75zM145.00,61.75h2.75v2.75h-2.75zM150.50,61.75h2.75v2.75h-2.75zM186.25,61.75h2.75v2.75h-2.75zM147.75,64.50h2.75v2.75h-2.75zM123.00,67.25h2.75v2.75h-2.75zM142.25,67.25h2.75v2.75h-2.75zM145.00,67.25h2.75v2.75h-2.75zM158.75,67.25h2.75v2.75h-2.75zM197.25,67.25h2.75v2.75h-2.75zM123.00,70.00h2.75v2.75h-2.75zM183.50,70.00h2.75v2.75h-2.75zM186.25,70.00h2.75v2.75h-2.75zM200.00,70.00h2.75v2.75h-2.75zM205.50,70.00h2.75v2.75h-2.75zM142.25,72.75h2.75v2.75h-2.75zM158.75,72.75h2.75v2.75h-2.75zM213.75,72.75h2.75v2.75h-2.75zM128.50,75.50h2.75v2.75h-2.75zM128.50,78.25h2.75v2.75h-2.75zM197.25,78.25h2.75v2.75h-2.75zM142.25,81.00h2.75v2.75h-2.75zM145.00,81.00h2.75v2.75h-2.75zM147.75,81.00h2.75v2.75h-2.75zM200.00,81.00h2.75v2.75h-2.75zM216.50,81.00h2.75v2.75h-2.75zM131.25,83.75h2.75v2.75h-2.75zM134.00,83.75h2.75v2.75h-2.75zM194.50,83.75h2.75v2.75h-2.75zM219.25,83.75h2.75v2.75h-2.75zM158.75,92.00h2.75v2.75h-2.75zM172.50,103.00h2.75v2.75h-2.75zM183.50,103.00h2.75v2.75h-2.75zM219.25,103.00h2.75v2.75h-2.75zM172.50,105.75h2.75v2.75h-2.75zM183.50,105.75h2.75v2.75h-2.75zM194.50,105.75h2.75v2.75h-2.75zM211.00,105.75h2.75v2.75h-2.75zM213.75,105.75h2.75v2.75h-2.75zM216.50,105.75h2.75v2.75h-2.75zM219.25,105.75h2.75v2.75h-2.75zM186.25,108.50h2.75v2.75h-2.75zM194.50,108.50h2.75v2.75h-2.75zM197.25,108.50h2.75v2.75h-2.75zM222.00,108.50h2.75v2.75h-2.75zM161.50,111.25h2.75v2.75h-2.75zM189.00,111.25h2.75v2.75h-2.75zM202.75,111.25h2.75v2.75h-2.75zM208.25,111.25h2.75v2.75h-2.75zM219.25,111.25h2.75v2.75h-2.75zM222.00,111.25h2.75v2.75h-2.75zM224.75,111.25h2.75v2.75h-2.75zM230.25,111.25h2.75v2.75h-2.75zM172.50,114.00h2.75v2.75h-2.75zM186.25,114.00h2.75v2.75h-2.75zM194.50,114.00h2.75v2.75h-2.75zM197.25,114.00h2.75v2.75h-2.75zM208.25,114.00h2.75v2.75h-2.75zM213.75,114.00h2.75v2.75h-2.75zM216.50,114.00h2.75v2.75h-2.75zM158.75,116.75h2.75v2.75zM219.25,116.75h2.75v2.75h-2.75zM194.50,122.25h2.75v2.75h-2.75zM194.50,125.00h2.75v2.75h-2.75zM197.25,125.00h2.75v2.75h-2.75zM205.50,125.00h2.75v2.75h-2.75zM216.50,125.00h2.75v2.75h-2.75zM219.25,125.00h2.75v2.75h-2.75zM211.00,130.50h2.75v2.75h-2.75zM183.50,133.25h2.75v2.75h-2.75zM186.25,133.25h2.75v2.75h-2.75zM213.75,133.25h2.75v2.75h-2.75zM224.75,133.25h2.75v2.75h-2.75zM211.00,136.00h2.75v2.75h-2.75zM197.25,138.75h2.75v2.75h-2.75zM197.25,141.50h2.75v2.75h-2.75zM202.75,141.50h2.75v2.75h-2.75zM224.75,144.25h2.75v2.75h-2.75zM194.50,147.00h2.75v2.75h-2.75zM197.25,147.00h2.75v2.75h-2.75zM202.75,147.00h2.75v2.75h-2.75zM219.25,174.50h2.75v2.75h-2.75z"/>
<path fill="#237399" d="M128.50,17.75h2.75v2.75h-2.75zM131.25,17.75h2.75v2.75h-2.75zM101.00,20.50h2.75v2.75h-2.75zM117.50,20.50h2.75v2.75h-2.75zM139.50,20.50h2.75v2.75h-2.75zM158.75,20.50h2.75v2.75h-2.75zM169.75,20.50h2.75v2.75h-2.75zM106.50,23.25h2.75v2.75h-2.75zM112.00,23.25h2.75v2.75h-2.75zM136.75,23.25h2.75v2.75h-2.75zM139.50,23.25h2.75v2.75h-2.75zM183.50,23.25h2.75v2.75h-2.75zM205.50,23.25h2.75v2.75h-2.75zM216.50,23.25h2.75v2.75h-2.75zM224.75,23.25h2.75v2.75h-2.75zM98.25,26.00h2.75v2.75h-2.75zM103.75,26.00h2.75v2.75h-2.75zM109.25,26.00h2.75v2.75h-2.75zM117.50,26.00h2.75v2.75h-2.75zM139.50,26.00h2.75v2.75h-2.75zM156.00,26.00h2.75v2.75h-2.75zM169.75,26.00h2.75v2.75h-2.75zM175.25,26.00h2.75v2.75h-2.75zM191.75,26.00h2.75v2.75h-2.75zM202.75,26.00h2.75v2.75h-2.75zM213.75,26.00h2.75v2.75h-2.75zM227.50,26.00h2.75v2.75h-2.75zM90.00,28.75h2.75v2.75h-2.75zM95.50,28.75h2.75v2.75h-2.75zM142.25,28.75h2.75v2.75h-2.75zM145.00,28.75h2.75v2.75h-2.75zM172.50,28.75h2.75v2.75h-2.75zM194.50,28.75h2.75v2.75h-2.75zM211.00,28.75h2.75v2.75h-2.75zM222.00,28.75h2.75v2.75h-2.75zM90.00,31.50h2.75v2.75h-2.75zM92.75,31.50h2.75v2.75h-2.75zM194.50,31.50h2.75v2.75h-2.75zM197.25,31.50h2.75v2.75h-2.75zM211.00,31.50h2.75v2.75h-2.75zM213.75,31.50h2.75v2.75h-2.75zM222.00,31.50h2.75v2.75h-2.75zM92.75,34.25h2.75v2.75h-2.75zM161.50,34.25h2.75v2.75h-2.75zM172.50,34.25h2.75v2.75h-2.75zM186.25,34.25h2.75v2.75h-2.75zM117.50,37.00h2.75v2.75h-2.75zM211.00,37.00h2.75v2.75h-2.75zM92.75,39.75h2.75v2.75h-2.75zM175.25,39.75h2.75v2.75h-2.75zM197.25,39.75h2.75v2.75h-2.75zM205.50,39.75h2.75v2.75h-2.75zM211.00,39.75h2.75v2.75h-2.75zM222.00,39.75h2.75v2.75h-2.75zM200.00,42.50h2.75v2.75h-2.75zM208.25,42.50h2.75v2.75h-2.75zM216.50,42.50h2.75v2.75h-2.75zM222.00,42.50h2.75v2.75h-2.75zM131.25,45.25h2.75v2.75h-2.75zM158.75,45.25h2.75v2.75h-2.75zM194.50,45.25h2.75v2.75h-2.75zM197.25,45.25h2.75v2.75h-2.75zM200.00,45.25h2.75v2.75h-2.75zM219.25,45.25h2.75v2.75h-2.75zM123.00,48.00h2.75v2.75h-2.75zM186.25,48.00h2.75v2.75h-2.75zM197.25,48.00h2.75v2.75h-2.75zM211.00,48.00h2.75v2.75h-2.75zM123.00,50.75h2.75v2.75h-2.75zM186.25,53.50h2.75v2.75h-2.75zM189.00,53.50h2.75v2.75h-2.75zM191.75,53.50h2.75v2.75h-2.75zM194.50,53.50h2.75v2.75h-2.75zM197.25,53.50h2.75v2.75h-2.75zM213.75,53.50h2.75v2.75h-2.75zM216.50,53.50h2.75v2.75h-2.75zM222.00,53.50h2.75v2.75h-2.75zM128.50,56.25h2.75v2.75h-2.75zM189.00,56.25h2.75v2.75h-2.75zM208.25,56.25h2.75v2.75h-2.75zM216.50,56.25h2.75v2.75h-2.75zM222.00,56.25h2.75v2.75h-2.75zM208.25,59.00h2.75v2.75h-2.75zM142.25,61.75h2.75v2.75h-2.75zM131.25,64.50h2.75v2.75h-2.75zM147.75,67.25h2.75v2.75h-2.75zM219.25,67.25h2.75v2.75h-2.75zM145.00,70.00h2.75v2.75h-2.75zM147.75,70.00h2.75v2.75h-2.75zM150.50,70.00h2.75v2.75h-2.75zM197.25,70.00h2.75v2.75h-2.75zM202.75,70.00h2.75v2.75h-2.75zM211.00,70.00h2.75v2.75h-2.75zM134.00,72.75h2.75v2.75h-2.75zM194.50,72.75h2.75v2.75h-2.75zM211.00,72.75h2.75v2.75h-2.75zM134.00,81.00h2.75v2.75h-2.75zM219.25,81.00h2.75v2.75h-2.75zM222.00,81.00h2.75v2.75h-2.75zM128.50,83.75h2.75v2.75h-2.75zM158.75,103.00h2.75v2.75h-2.75zM158.75,105.75h2.75v2.75h-2.75zM158.75,108.50h2.75v2.75h-2.75zM172.50,108.50h2.75v2.75h-2.75zM183.50,108.50h2.75v2.75h-2.75zM205.50,108.50h2.75v2.75h-2.75zM172.50,111.25h2.75v2.75h-2.75zM183.50,111.25h2.75v2.75h-2.75zM200.00,111.25h2.75v2.75h-2.75zM211.00,111.25h2.75v2.75h-2.75zM216.50,111.25h2.75v2.75h-2.75zM227.50,111.25h2.75v2.75h-2.75zM211.00,114.00h2.75v2.75h-2.75zM219.25,114.00h2.75v2.75h-2.75zM186.25,125.00h2.75v2.75h-2.75zM200.00,125.00h2.75v2.75h-2.75zM197.25,133.25h2.75v2.75h-2.75zM219.25,133.25h2.75v2.75h-2.75zM219.25,147.00h2.75v2.75h-2.75z"/>
<path fill="#13b78b" d="M68.00,20.50h2.75v2.75h-2.75zM73.50,20.50h2.75v2.75h-2.75zM79.00,20.50h2.75v2.75h-2.75zM81.75,20.50h2.75v2.75h-2.75zM73.50,28.75h2.75v2.75h-2.75zM76.25,28.75h2.75v2.75h-2.75zM101.00,45.25h2.75v2.75h-2.75zM178.00,45.25h2.75v2.75h-2.75zM92.75,48.00h2.75v2.75h-2.75zM153.25,48.00h2.75v2.75h-2.75zM95.50,50.75h2.75v2.75h-2.75zM153.25,50.75h2.75v2.75h-2.75zM178.00,50.75h2.75v2.75h-2.75zM180.75,50.75h2.75v2.75h-2.75zM114.75,61.75h2.75v2.75h-2.75zM112.00,67.25h2.75v2.75h-2.75zM134.00,86.50h2.75v2.75h-2.75zM136.75,86.50h2.75v2.75h-2.75zM178.00,86.50h2.75v2.75h-2.75zM178.00,89.25h2.75v2.75h-2.75zM139.50,92.00h2.75v2.75h-2.75zM139.50,97.50h2.75v2.75zM153.25,97.50h2.75v2.75h-2.75zM142.25,100.25h2.75v2.75zM145.00,100.25h2.75v2.75h-2.75zM153.25,105.75h2.75v2.75h-2.75zM153.25,111.25h2.75v2.75zM180.75,136.00h2.75v2.75h-2.75zM180.75,138.75h2.75v2.75zM183.50,138.75h2.75v2.75h-2.75zM202.75,158.00h2.75v2.75h-2.75zM222.00,158.00h2.75v2.75h-2.75zM202.75,160.75h2.75v2.75zM205.50,160.75h2.75v2.75h-2.75zM213.75,160.75h2.75v2.75h-2.75zM216.50,160.75h2.75v2.75h-2.75z"/>
<path fill="#36cd6c" d="M139.50,86.50h2.75v2.75h-2.75zM153.25,100.25h2.75v2.75h-2.75z"/>
</g>
<path d="M84.5,15.0V42.5M84.5,42.5H104.0V62.0M104.0,62.0H129.0V87.0M129.0,87.0H142.0V100.0M142.0,100.0H156.5V114.5M156.5,114.5H178.0V136.0M178.0,136.0H186.0V144.0M186.0,144.0H225.0V183.0" fill="none" stroke="#2b2a3a" stroke-width="0.9" opacity="0.85"/>
<line x1="233.7" y1="14.5" x2="233.7" y2="192" stroke="#c4f4ef" stroke-width="1.3"/>
<line x1="56.2" y1="15.8" x2="232.2" y2="191.8" stroke="#d2f4f0" stroke-width="1.1"/>
<defs><linearGradient id="vA" x1="0" y1="1" x2="0" y2="0"><stop offset="0.00" stop-color="#440154"/><stop offset="0.10" stop-color="#482475"/><stop offset="0.20" stop-color="#414487"/><stop offset="0.30" stop-color="#355f8d"/><stop offset="0.40" stop-color="#2a788e"/><stop offset="0.50" stop-color="#21918c"/><stop offset="0.60" stop-color="#22a884"/><stop offset="0.70" stop-color="#44bf70"/><stop offset="0.80" stop-color="#7ad151"/><stop offset="0.90" stop-color="#bddf26"/><stop offset="1.00" stop-color="#fde725"/></linearGradient></defs>
<rect x="235.2" y="12.2" width="5.2" height="182.8" fill="url(#vA)" stroke="#2a2a2a" stroke-width="0.5"/>
<text x="249.8" y="192.6" font-size="10.6" font-family="Liberation Sans, Arial, sans-serif">10<tspan dx="2.2" dy="-4.9" font-size="8">1</tspan></text>
<text x="249.8" y="164.6" font-size="10.6" font-family="Liberation Sans, Arial, sans-serif">10<tspan dx="2.2" dy="-4.9" font-size="8">2</tspan></text>
<text x="249.8" y="136.6" font-size="10.6" font-family="Liberation Sans, Arial, sans-serif">10<tspan dx="2.2" dy="-4.9" font-size="8">3</tspan></text>
<text x="249.8" y="108.6" font-size="10.6" font-family="Liberation Sans, Arial, sans-serif">10<tspan dx="2.2" dy="-4.9" font-size="8">4</tspan></text>
<text x="249.8" y="80.6" font-size="10.6" font-family="Liberation Sans, Arial, sans-serif">10<tspan dx="2.2" dy="-4.9" font-size="8">5</tspan></text>
<text x="249.8" y="52.6" font-size="10.6" font-family="Liberation Sans, Arial, sans-serif">10<tspan dx="2.2" dy="-4.9" font-size="8">6</tspan></text>
<text x="249.8" y="24.6" font-size="10.6" font-family="Liberation Sans, Arial, sans-serif">10<tspan dx="2.2" dy="-4.9" font-size="8">7</tspan></text>
<path d="M240.4,188.6h4.2M240.4,180.2h2M240.4,175.2h2M240.4,171.7h2M240.4,169.0h2M240.4,166.8h2M240.4,164.9h2M240.4,163.3h2M240.4,161.9h2M240.4,160.6h4.2M240.4,152.2h2M240.4,147.2h2M240.4,143.7h2M240.4,141.0h2M240.4,138.8h2M240.4,136.9h2M240.4,135.3h2M240.4,133.9h2M240.4,132.6h4.2M240.4,124.2h2M240.4,119.2h2M240.4,115.7h2M240.4,113.0h2M240.4,110.8h2M240.4,108.9h2M240.4,107.3h2M240.4,105.9h2M240.4,104.6h4.2M240.4,96.2h2M240.4,91.2h2M240.4,87.7h2M240.4,85.0h2M240.4,82.8h2M240.4,80.9h2M240.4,79.3h2M240.4,77.9h2M240.4,76.6h4.2M240.4,68.2h2M240.4,63.2h2M240.4,59.7h2M240.4,57.0h2M240.4,54.8h2M240.4,52.9h2M240.4,51.3h2M240.4,49.9h2M240.4,48.6h4.2M240.4,40.2h2M240.4,35.2h2M240.4,31.7h2M240.4,29.0h2M240.4,26.8h2M240.4,24.9h2M240.4,23.3h2M240.4,21.9h2M240.4,20.6h4.2M240.4,194.8h2M240.4,192.9h2M240.4,191.3h2M240.4,189.9h2" stroke="#333" stroke-width="0.7"/>
<text x="235.6" y="209.3" font-size="11" font-family="Liberation Sans, Arial, sans-serif"># Axons</text>
<text x="61.2" y="33.0" font-size="11" text-anchor="end" font-family="Liberation Sans, Arial, sans-serif">Visual</text>
<text x="79.5" y="57.5" font-size="11" text-anchor="end" font-family="Liberation Sans, Arial, sans-serif">Somatomotor</text>
<text x="100.6" y="79.5" font-size="11" text-anchor="end" font-family="Liberation Sans, Arial, sans-serif">Cingulo-Opercular</text>
<text x="119.3" y="99.4" font-size="11" text-anchor="end" font-family="Liberation Sans, Arial, sans-serif">Dorsal Attention</text>
<text x="134.5" y="111.7" font-size="11" text-anchor="end" font-family="Liberation Sans, Arial, sans-serif">Language</text>
<text x="151.4" y="129.8" font-size="11" text-anchor="end" font-family="Liberation Sans, Arial, sans-serif">Frontoparietal</text>
<text x="170.0" y="145.2" font-size="11" text-anchor="end" font-family="Liberation Sans, Arial, sans-serif">Auditory</text>
<text x="192.0" y="167.6" font-size="11" text-anchor="end" font-family="Liberation Sans, Arial, sans-serif">Default Mode</text>
<text x="208.3" y="184.3" font-size="11" text-anchor="end" font-family="Liberation Sans, Arial, sans-serif">Multimodal</text>
<text x="215.6" y="195.4" font-size="11" text-anchor="end" font-family="Liberation Sans, Arial, sans-serif">Orbito-Affective</text>
<text x="14.6" y="258.9" font-size="10.2" font-weight="bold" font-family="Liberation Sans, Arial, sans-serif">B</text>
<path d="M62.30,443.20V443.20H65.00V443.20H67.69V442.34H70.39V440.59H73.08V438.96H75.78V437.16H78.47V433.43H81.17V428.22H83.86V421.49H86.56V415.85H89.25V409.89H91.95V401.95H94.64V393.64H97.34V382.40H100.03V366.01H102.73V351.91H105.42V327.57H108.12V311.38H110.81V301.30H113.51V299.36H116.20V288.63H118.90V295.48H121.59V301.07H124.29V300.32H126.98V319.53H129.68V333.52H132.37V339.21H135.07V351.62H137.76V354.46H140.46V365.99H143.15V374.81H145.85V380.27H148.54V391.17H151.24V396.71H153.93V405.27H156.63V410.51H159.32V417.15H162.02V419.73H164.71V422.50H167.41V426.13H170.10V428.58H172.80V431.67H175.49V433.58H178.19V435.14H180.88V436.58H183.58V437.87H186.27V438.97H188.97V440.03H191.66V441.17H194.36V442.20H197.05V443.20H199.75V443.20H202.44V443.20H205.14V443.20H207.83V443.20H210.53V443.20H213.22V443.20H215.92V443.20H218.61V443.20H221.31V443.20H224.00V443.20Z" fill="#7086b9"/>
<path d="M62.30,443.20V443.20H65.00V443.20H67.69V443.20H70.39V443.20H73.08V443.20H75.78V443.20H78.47V443.20H81.17V443.20H83.86V443.20H86.56V443.20H89.25V440.45H91.95V435.23H94.64V429.81H97.34V423.96H100.03V418.43H102.73V409.84H105.42V398.92H108.12V387.94H110.81V378.84H113.51V371.43H116.20V357.88H118.90V347.50H121.59V339.48H124.29V333.55H126.98V323.55H129.68V318.68H132.37V313.96H135.07V306.14H137.76V304.78H140.46V316.91H143.15V322.57H145.85V327.65H148.54V338.38H151.24V349.32H153.93V364.62H156.63V375.05H159.32V379.22H162.02V388.05H164.71V395.68H167.41V401.93H170.10V408.06H172.80V411.94H175.49V416.70H178.19V422.27H180.88V424.01H183.58V426.39H186.27V427.77H188.97V429.23H191.66V428.48H194.36V428.79H197.05V428.43H199.75V431.45H202.44V434.53H205.14V437.51H207.83V440.21H210.53V442.69H213.22V443.20H215.92V443.20H218.61V443.20H221.31V443.20H224.00V443.20Z" fill="#17918b"/>
<path d="M62.30,443.20V443.20H65.00V443.20H67.69V443.20H70.39V443.20H73.08V443.20H75.78V443.20H78.47V443.20H81.17V443.20H83.86V443.20H86.56V443.20H89.25V440.45H91.95V435.23H94.64V429.81H97.34V423.96H100.03V418.43H102.73V409.84H105.42V398.92H108.12V387.94H110.81V378.84H113.51V371.43H116.20V357.88H118.90V347.50H121.59V339.48H124.29V333.55H126.98V323.55H129.68V333.52H132.37V339.21H135.07V351.62H137.76V354.46H140.46V365.99H143.15V374.81H145.85V380.27H148.54V391.17H151.24V396.71H153.93V405.27H156.63V410.51H159.32V417.15H162.02V419.73H164.71V422.50H167.41V426.13H170.10V428.58H172.80V431.67H175.49V433.58H178.19V435.14H180.88V436.58H183.58V437.87H186.27V438.97H188.97V440.03H191.66V441.17H194.36V442.20H197.05V443.20H199.75V443.20H202.44V443.20H205.14V443.20H207.83V443.20H210.53V443.20H213.22V443.20H215.92V443.20H218.61V443.20H221.31V443.20H224.00V443.20Z" fill="#0e5f8d"/>
<defs><pattern id="dots" width="2.2" height="2.2" patternUnits="userSpaceOnUse"><rect width="2.2" height="2.2" fill="#1d6b55"/><circle cx="1.1" cy="1.1" r="0.45" fill="#3f9a7a"/></pattern></defs>
<path d="M62.30,443.20V443.20H65.00V443.20H67.69V443.20H70.39V443.20H73.08V443.20H75.78V443.20H78.47V443.20H81.17V443.20H83.86V443.20H86.56V443.20H89.25V443.20H91.95V443.20H94.64V443.20H97.34V443.20H100.03V443.20H102.73V443.20H105.42V443.20H108.12V443.20H110.81V443.20H113.51V443.20H116.20V443.20H118.90V443.20H121.59V443.20H124.29V443.20H126.98V443.20H129.68V443.20H132.37V443.20H135.07V443.20H137.76V443.20H140.46V443.20H143.15V443.20H145.85V443.20H148.54V443.20H151.24V443.20H153.93V443.20H156.63V443.20H159.32V443.20H162.02V443.20H164.71V443.20H167.41V443.20H170.10V443.20H172.80V443.20H175.49V443.20H178.19V442.14H180.88V440.02H183.58V437.89H186.27V435.77H188.97V433.65H191.66V431.92H194.36V430.60H197.05V430.60H199.75V431.92H202.44V434.53H205.14V437.51H207.83V440.21H210.53V442.69H213.22V443.20H215.92V443.20H218.61V443.20H221.31V443.20H224.00V443.20Z" fill="url(#dots)"/>
<path d="M116.6,286.2h4.6l-2.3,4.6z" fill="#6a7ea8"/>
<path d="M135.9,284.6h4.6l-2.3,4.6z" fill="#178f8b"/>
<path d="M55.2,266.3V443.2H233.8" fill="none" stroke="#111" stroke-width="0.9"/>
<path d="M55.2,443.2h-4M55.2,399.0h-4M55.2,354.8h-4M55.2,310.5h-4M55.2,266.3h-4M62.3,443.2v4.6M89.2,443.2v4.6M116.2,443.2v4.6M143.1,443.2v4.6M170.1,443.2v4.6M197.1,443.2v4.6M224.0,443.2v4.6M58.1,443.2v2.8M59.7,443.2v2.8M61.1,443.2v2.8M70.4,443.2v2.8M75.2,443.2v2.8M78.5,443.2v2.8M81.1,443.2v2.8M83.3,443.2v2.8M85.1,443.2v2.8M86.6,443.2v2.8M88.0,443.2v2.8M97.4,443.2v2.8M102.1,443.2v2.8M105.5,443.2v2.8M108.1,443.2v2.8M110.2,443.2v2.8M112.0,443.2v2.8M113.6,443.2v2.8M115.0,443.2v2.8M124.3,443.2v2.8M129.1,443.2v2.8M132.4,443.2v2.8M135.0,443.2v2.8M137.2,443.2v2.8M139.0,443.2v2.8M140.5,443.2v2.8M141.9,443.2v2.8M151.3,443.2v2.8M156.0,443.2v2.8M159.4,443.2v2.8M162.0,443.2v2.8M164.1,443.2v2.8M165.9,443.2v2.8M167.5,443.2v2.8M168.9,443.2v2.8M178.2,443.2v2.8M183.0,443.2v2.8M186.3,443.2v2.8M188.9,443.2v2.8M191.1,443.2v2.8M192.9,443.2v2.8M194.4,443.2v2.8M195.8,443.2v2.8M205.2,443.2v2.8M209.9,443.2v2.8M213.3,443.2v2.8M215.9,443.2v2.8M218.0,443.2v2.8M219.8,443.2v2.8M221.4,443.2v2.8M222.8,443.2v2.8" stroke="#111" stroke-width="0.7"/>
<text transform="translate(49.5,447.7) rotate(-45)" font-size="10.5" text-anchor="end" font-family="Liberation Sans, Arial, sans-serif">0</text>
<text transform="translate(49.5,403.5) rotate(-45)" font-size="10.5" text-anchor="end" font-family="Liberation Sans, Arial, sans-serif">500</text>
<text transform="translate(49.5,359.2) rotate(-45)" font-size="10.5" text-anchor="end" font-family="Liberation Sans, Arial, sans-serif">1,000</text>
<text transform="translate(49.5,315.0) rotate(-45)" font-size="10.5" text-anchor="end" font-family="Liberation Sans, Arial, sans-serif">1,500</text>
<text transform="translate(49.5,270.8) rotate(-45)" font-size="10.5" text-anchor="end" font-family="Liberation Sans, Arial, sans-serif">2,000</text>
<text x="61.7" y="464.2" font-size="10.2" text-anchor="middle" font-family="Liberation Sans, Arial, sans-serif">10<tspan dx="1.8" dy="-5.4" font-size="7.6">1</tspan></text>
<text x="88.7" y="464.2" font-size="10.2" text-anchor="middle" font-family="Liberation Sans, Arial, sans-serif">10<tspan dx="1.8" dy="-5.4" font-size="7.6">2</tspan></text>
<text x="115.6" y="464.2" font-size="10.2" text-anchor="middle" font-family="Liberation Sans, Arial, sans-serif">10<tspan dx="1.8" dy="-5.4" font-size="7.6">3</tspan></text>
<text x="142.5" y="464.2" font-size="10.2" text-anchor="middle" font-family="Liberation Sans, Arial, sans-serif">10<tspan dx="1.8" dy="-5.4" font-size="7.6">4</tspan></text>
<text x="169.5" y="464.2" font-size="10.2" text-anchor="middle" font-family="Liberation Sans, Arial, sans-serif">10<tspan dx="1.8" dy="-5.4" font-size="7.6">5</tspan></text>
<text x="196.5" y="464.2" font-size="10.2" text-anchor="middle" font-family="Liberation Sans, Arial, sans-serif">10<tspan dx="1.8" dy="-5.4" font-size="7.6">6</tspan></text>
<text x="223.4" y="464.2" font-size="10.2" text-anchor="middle" font-family="Liberation Sans, Arial, sans-serif">10<tspan dx="1.8" dy="-5.4" font-size="7.6">7</tspan></text>
<text x="141" y="477.3" font-size="11" text-anchor="middle" font-family="Liberation Sans, Arial, sans-serif"># Axons</text>
<text transform="translate(14.4,359) rotate(-90)" font-size="11" text-anchor="middle" font-family="Liberation Sans, Arial, sans-serif"># Parcel Pairs</text>
<rect x="149.3" y="266" width="10.7" height="10.6" fill="#7086b9"/>
<rect x="149.3" y="291.2" width="10.7" height="10.5" fill="#17918b"/>
<rect x="149.3" y="317.9" width="10.7" height="10.6" fill="url(#dots)"/>
<text x="163.7" y="273.9" font-size="11" font-family="Liberation Sans, Arial, sans-serif">Inter-hemispheric</text>
<text x="163.7" y="299.0" font-size="11" font-family="Liberation Sans, Arial, sans-serif">Non-Adjacent</text>
<text x="163.7" y="313.0" font-size="11" font-family="Liberation Sans, Arial, sans-serif">Intra-hemispheric</text>
<text x="163.7" y="327.4" font-size="11" font-family="Liberation Sans, Arial, sans-serif">Adjacent</text>
<text x="163.7" y="341.2" font-size="11" font-family="Liberation Sans, Arial, sans-serif">Intra-hemispheric</text>
<text x="14.3" y="508" font-size="10.2" font-weight="bold" font-family="Liberation Sans, Arial, sans-serif">C</text>
<path d="M59.3,513.4 71.5,528.1 83.6,540.7 95.8,557.4 107.9,573.2 120.1,586.3 132.3,593.2 144.4,604.2 156.5,611.4 168.8,622.8 181.0,630.0 193.3,635.4 205.5,644.1 205.5,678.1 193.3,636.4 181.0,631.0 168.8,623.8 156.5,612.4 144.4,605.2 132.3,594.2 120.1,587.3 107.9,574.2 95.8,558.4 83.6,541.7 71.5,530.5 59.3,520.9Z" fill="#74cccc" opacity="0.7"/>
<path d="M71.5,545.1 83.6,550.1 95.8,560.8 107.9,569.6 120.1,571.3 132.3,581.7 144.4,596.8 156.5,611.4 168.8,614.4 181.0,623.5 193.3,635.4 205.5,640.3 217.8,652.7 230.0,679.0 230.0,680.0 217.8,653.7 205.5,641.3 193.3,636.4 181.0,624.5 168.8,615.4 156.5,612.4 144.4,597.8 132.3,582.7 120.1,572.3 107.9,570.6 95.8,562.8 83.6,553.7 71.5,548.7Z" fill="#8a8db8" opacity="0.9"/>
<polyline points="59.3,518.9 71.5,529.3 83.6,541.2 95.8,557.9 107.9,573.7 120.1,586.8 132.3,593.7 144.4,604.7 156.5,611.9 168.8,623.3 181,630.5 193.3,635.9 205.5,658.1" fill="none" stroke="#8fd0d0" stroke-width="0.85"/>
<polyline points="71.5,546.9 83.6,551.9 95.8,561.8 107.9,570.1 120.1,571.8 132.3,582.2 144.4,597.3 156.5,611.9 168.8,614.9 181,624 193.3,635.9 205.5,640.8 217.8,653.2 230,679.5" fill="none" stroke="#7f8b9f" stroke-width="1.25"/>
<circle cx="59.3" cy="518.9" r="1.25" fill="#2f4f5f"/>
<circle cx="71.5" cy="529.3" r="1.25" fill="#2f4f5f"/>
<circle cx="83.6" cy="541.2" r="1.25" fill="#2f4f5f"/>
<circle cx="95.8" cy="557.9" r="1.25" fill="#2f4f5f"/>
<circle cx="107.9" cy="573.7" r="1.25" fill="#2f4f5f"/>
<circle cx="120.1" cy="586.8" r="1.25" fill="#2f4f5f"/>
<circle cx="132.3" cy="593.7" r="1.25" fill="#2f4f5f"/>
<circle cx="144.4" cy="604.7" r="1.25" fill="#2f4f5f"/>
<circle cx="156.5" cy="611.9" r="1.25" fill="#2f4f5f"/>
<circle cx="168.8" cy="623.3" r="1.25" fill="#2f4f5f"/>
<circle cx="181" cy="630.5" r="1.25" fill="#2f4f5f"/>
<circle cx="193.3" cy="635.9" r="1.25" fill="#2f4f5f"/>
<circle cx="205.5" cy="658.1" r="1.25" fill="#2f4f5f"/>
<circle cx="71.5" cy="546.9" r="1.25" fill="#2f4f5f"/>
<circle cx="83.6" cy="551.9" r="1.25" fill="#2f4f5f"/>
<circle cx="95.8" cy="561.8" r="1.25" fill="#2f4f5f"/>
<circle cx="107.9" cy="570.1" r="1.25" fill="#2f4f5f"/>
<circle cx="120.1" cy="571.8" r="1.25" fill="#2f4f5f"/>
<circle cx="132.3" cy="582.2" r="1.25" fill="#2f4f5f"/>
<circle cx="144.4" cy="597.3" r="1.25" fill="#2f4f5f"/>
<circle cx="156.5" cy="611.9" r="1.25" fill="#2f4f5f"/>
<circle cx="168.8" cy="614.9" r="1.25" fill="#2f4f5f"/>
<circle cx="181" cy="624" r="1.25" fill="#2f4f5f"/>
<circle cx="193.3" cy="635.9" r="1.25" fill="#2f4f5f"/>
<circle cx="205.5" cy="640.8" r="1.25" fill="#2f4f5f"/>
<circle cx="217.8" cy="653.2" r="1.25" fill="#2f4f5f"/>
<circle cx="230" cy="679.5" r="1.25" fill="#2f4f5f"/>
<path d="M55.5,514V683.5H232.5" fill="none" stroke="#111" stroke-width="0.9"/>
<path d="M78.1,683.5v4.2M107.8,683.5v4.2M137.4,683.5v4.2M167.0,683.5v4.2M196.6,683.5v4.2M226.2,683.5v4.2M55.5,663.3h-3.8M55.5,627.8h-3.8M55.5,592.3h-3.8M55.5,556.8h-3.8M55.5,521.3h-3.8M55.5,681.9h-2.2M55.5,677.4h-2.2M55.5,674.0h-2.2M55.5,671.2h-2.2M55.5,668.8h-2.2M55.5,666.7h-2.2M55.5,664.9h-2.2M55.5,652.6h-2.2M55.5,646.4h-2.2M55.5,641.9h-2.2M55.5,638.5h-2.2M55.5,635.7h-2.2M55.5,633.3h-2.2M55.5,631.2h-2.2M55.5,629.4h-2.2M55.5,617.1h-2.2M55.5,610.9h-2.2M55.5,606.4h-2.2M55.5,603.0h-2.2M55.5,600.2h-2.2M55.5,597.8h-2.2M55.5,595.7h-2.2M55.5,593.9h-2.2M55.5,581.6h-2.2M55.5,575.4h-2.2M55.5,570.9h-2.2M55.5,567.5h-2.2M55.5,564.7h-2.2M55.5,562.3h-2.2M55.5,560.2h-2.2M55.5,558.4h-2.2M55.5,546.1h-2.2M55.5,539.9h-2.2M55.5,535.4h-2.2M55.5,532.0h-2.2M55.5,529.2h-2.2M55.5,526.8h-2.2M55.5,524.7h-2.2M55.5,522.9h-2.2" stroke="#111" stroke-width="0.7"/>
<text x="47.4" y="667.7" font-size="10.0" text-anchor="end" font-family="Liberation Sans, Arial, sans-serif">10<tspan dx="1.8" dy="-4.0" font-size="7.4">2</tspan></text>
<text x="47.4" y="632.2" font-size="10.0" text-anchor="end" font-family="Liberation Sans, Arial, sans-serif">10<tspan dx="1.8" dy="-4.0" font-size="7.4">3</tspan></text>
<text x="47.4" y="596.7" font-size="10.0" text-anchor="end" font-family="Liberation Sans, Arial, sans-serif">10<tspan dx="1.8" dy="-4.0" font-size="7.4">4</tspan></text>
<text x="47.4" y="561.2" font-size="10.0" text-anchor="end" font-family="Liberation Sans, Arial, sans-serif">10<tspan dx="1.8" dy="-4.0" font-size="7.4">5</tspan></text>
<text x="47.4" y="525.7" font-size="10.0" text-anchor="end" font-family="Liberation Sans, Arial, sans-serif">10<tspan dx="1.8" dy="-4.0" font-size="7.4">6</tspan></text>
<text x="78.1" y="700.7" font-size="10.4" text-anchor="middle" font-family="Liberation Sans, Arial, sans-serif">50</text>
<text x="107.8" y="700.7" font-size="10.4" text-anchor="middle" font-family="Liberation Sans, Arial, sans-serif">100</text>
<text x="137.4" y="700.7" font-size="10.4" text-anchor="middle" font-family="Liberation Sans, Arial, sans-serif">150</text>
<text x="167.0" y="700.7" font-size="10.4" text-anchor="middle" font-family="Liberation Sans, Arial, sans-serif">200</text>
<text x="196.6" y="700.7" font-size="10.4" text-anchor="middle" font-family="Liberation Sans, Arial, sans-serif">250</text>
<text x="226.2" y="700.7" font-size="10.4" text-anchor="middle" font-family="Liberation Sans, Arial, sans-serif">300</text>
<text x="139.4" y="714.7" font-size="11.2" text-anchor="middle" font-family="Liberation Sans, Arial, sans-serif">Fiber Tract Distance (mm)</text>
<text transform="translate(8.9,602.8) rotate(-90)" font-size="11" text-anchor="middle" font-family="Liberation Sans, Arial, sans-serif">dMRI Connectivity</text>
<text transform="translate(23.6,606.0) rotate(-90)" font-size="11" text-anchor="middle" font-family="Liberation Sans, Arial, sans-serif">(# streamlines)</text>
<rect x="68.5" y="644.5" width="11.5" height="11.2" fill="#19908a"/>
<rect x="68.5" y="659.6" width="11.5" height="11.2" fill="#2d4b80"/>
<text x="84.3" y="655" font-size="11" font-family="Liberation Sans, Arial, sans-serif">Intra-hemispheric</text>
<text x="84.3" y="669.5" font-size="11" font-family="Liberation Sans, Arial, sans-serif">Inter-hemispheric</text>
<defs><filter id="bp" x="-5%" y="-5%" width="110%" height="110%"><feGaussianBlur stdDeviation="1.1"/></filter><filter id="bs" x="-5%" y="-5%" width="110%" height="110%"><feGaussianBlur stdDeviation="0.7"/></filter><filter id="bsh" x="-5%" y="-5%" width="110%" height="110%"><feGaussianBlur stdDeviation="1.6"/></filter></defs>
<text x="280.4" y="8.3" font-size="10.2" font-weight="bold" font-family="Liberation Sans, Arial, sans-serif">D</text>
<text x="280.4" y="259.2" font-size="10.2" font-weight="bold" font-family="Liberation Sans, Arial, sans-serif">E</text>
<text x="280.4" y="510.5" font-size="10.2" font-weight="bold" font-family="Liberation Sans, Arial, sans-serif">F</text>
<clipPath id="cld"><path d="M279.0,100.0 C279.4,96.7 280.2,95.2 281.0,93.0 C281.8,90.8 282.0,89.5 283.5,87.0 C285.0,84.5 287.7,81.5 290.2,77.7 C292.7,73.9 295.6,68.4 298.7,64.2 C301.8,60.0 304.9,56.0 308.8,52.3 C312.7,48.6 317.2,45.3 322.3,42.2 C327.4,39.1 333.6,36.4 339.2,33.7 C344.8,31.0 351.0,28.2 356.1,26.1 C361.2,24.0 364.9,22.4 369.7,21.1 C374.5,19.8 380.4,19.4 384.9,18.5 C389.4,17.6 393.3,16.9 396.7,16.0 C400.1,15.1 402.0,13.2 405.1,13.1 C408.2,13.0 412.8,15.2 415.3,15.2 C417.9,15.2 418.1,13.5 420.4,13.1 C422.6,12.7 425.7,12.1 428.8,12.6 C431.9,13.1 435.6,14.2 439.0,16.0 C442.4,17.8 446.0,21.6 449.1,23.6 C452.2,25.6 454.8,26.4 457.6,27.8 C460.4,29.2 463.5,30.2 466.0,32.0 C468.5,33.8 470.6,36.0 472.8,38.8 C475.1,41.6 476.7,45.6 479.5,49.0 C482.3,52.4 486.9,56.0 489.7,59.1 C492.5,62.2 494.7,64.8 496.4,67.6 C498.1,70.4 498.1,72.9 499.8,76.0 C501.5,79.1 504.4,82.4 506.6,86.1 C508.9,89.8 511.3,94.7 513.3,98.0 C515.3,101.3 516.9,103.5 518.4,106.0 C519.9,108.5 521.1,109.7 522.0,113.0 C522.9,116.3 524.2,121.1 523.7,126.0 C523.2,130.9 521.2,138.8 518.8,142.3 C516.3,145.8 512.2,146.6 509.0,147.1 C505.8,147.6 503.6,145.8 499.3,145.5 C495.0,145.2 488.9,144.9 483.0,145.5 C477.1,146.1 470.1,146.6 463.6,148.8 C457.1,151.0 450.0,155.8 444.0,158.5 C438.0,161.2 433.2,162.6 427.8,165.0 C422.4,167.4 416.9,170.4 411.5,173.1 C406.1,175.8 400.2,179.3 395.3,181.3 C390.4,183.3 387.2,184.9 382.3,185.2 C377.4,185.5 370.9,184.4 366.0,182.9 C361.1,181.4 356.1,179.1 353.0,176.4 C349.9,173.7 348.0,169.8 347.2,166.6 C346.4,163.3 349.3,158.2 348.1,156.9 C346.9,155.6 343.5,158.1 340.0,158.5 C336.5,158.9 332.4,159.8 327.0,159.5 C321.6,159.2 312.9,158.2 307.5,156.9 C302.1,155.7 298.3,154.4 294.5,152.0 C290.7,149.6 287.2,146.1 284.8,142.3 C282.4,138.5 281.0,134.2 279.9,129.3 C278.8,124.4 278.4,117.9 278.3,113.0 C278.2,108.1 278.6,103.3 279.0,100.0Z"/></clipPath>
<path d="M279.0,100.0 C279.4,96.7 280.2,95.2 281.0,93.0 C281.8,90.8 282.0,89.5 283.5,87.0 C285.0,84.5 287.7,81.5 290.2,77.7 C292.7,73.9 295.6,68.4 298.7,64.2 C301.8,60.0 304.9,56.0 308.8,52.3 C312.7,48.6 317.2,45.3 322.3,42.2 C327.4,39.1 333.6,36.4 339.2,33.7 C344.8,31.0 351.0,28.2 356.1,26.1 C361.2,24.0 364.9,22.4 369.7,21.1 C374.5,19.8 380.4,19.4 384.9,18.5 C389.4,17.6 393.3,16.9 396.7,16.0 C400.1,15.1 402.0,13.2 405.1,13.1 C408.2,13.0 412.8,15.2 415.3,15.2 C417.9,15.2 418.1,13.5 420.4,13.1 C422.6,12.7 425.7,12.1 428.8,12.6 C431.9,13.1 435.6,14.2 439.0,16.0 C442.4,17.8 446.0,21.6 449.1,23.6 C452.2,25.6 454.8,26.4 457.6,27.8 C460.4,29.2 463.5,30.2 466.0,32.0 C468.5,33.8 470.6,36.0 472.8,38.8 C475.1,41.6 476.7,45.6 479.5,49.0 C482.3,52.4 486.9,56.0 489.7,59.1 C492.5,62.2 494.7,64.8 496.4,67.6 C498.1,70.4 498.1,72.9 499.8,76.0 C501.5,79.1 504.4,82.4 506.6,86.1 C508.9,89.8 511.3,94.7 513.3,98.0 C515.3,101.3 516.9,103.5 518.4,106.0 C519.9,108.5 521.1,109.7 522.0,113.0 C522.9,116.3 524.2,121.1 523.7,126.0 C523.2,130.9 521.2,138.8 518.8,142.3 C516.3,145.8 512.2,146.6 509.0,147.1 C505.8,147.6 503.6,145.8 499.3,145.5 C495.0,145.2 488.9,144.9 483.0,145.5 C477.1,146.1 470.1,146.6 463.6,148.8 C457.1,151.0 450.0,155.8 444.0,158.5 C438.0,161.2 433.2,162.6 427.8,165.0 C422.4,167.4 416.9,170.4 411.5,173.1 C406.1,175.8 400.2,179.3 395.3,181.3 C390.4,183.3 387.2,184.9 382.3,185.2 C377.4,185.5 370.9,184.4 366.0,182.9 C361.1,181.4 356.1,179.1 353.0,176.4 C349.9,173.7 348.0,169.8 347.2,166.6 C346.4,163.3 349.3,158.2 348.1,156.9 C346.9,155.6 343.5,158.1 340.0,158.5 C336.5,158.9 332.4,159.8 327.0,159.5 C321.6,159.2 312.9,158.2 307.5,156.9 C302.1,155.7 298.3,154.4 294.5,152.0 C290.7,149.6 287.2,146.1 284.8,142.3 C282.4,138.5 281.0,134.2 279.9,129.3 C278.8,124.4 278.4,117.9 278.3,113.0 C278.2,108.1 278.6,103.3 279.0,100.0Z" fill="#39448f"/>
<g clip-path="url(#cld)">
<g filter="url(#bp)">
<path d="M282.0,100.0 284.1,95.3 285.8,92.8 286.2,86.2 288.0,82.0 292.3,79.7 292.2,76.3 294.6,71.8 297.9,66.9 300.0,66.0 301.5,62.5 306.0,60.8 309.7,55.9 316.2,54.5 318.0,52.0 322.1,48.3 325.3,48.1 328.6,46.5 334.0,44.0 333.8,47.6 334.3,54.2 335.5,54.7 336.0,60.0 335.8,62.5 333.9,65.6 330.8,72.2 332.1,76.2 330.0,80.0 329.1,83.6 326.6,87.1 327.0,93.3 327.2,93.9 326.0,100.0 327.2,103.5 326.8,108.7 329.6,113.1 328.2,115.6 330.0,120.0 333.4,124.2 335.4,125.8 337.7,127.6 343.0,133.6 345.0,135.0 346.2,140.5 347.9,142.7 349.2,149.6 350.0,152.0 346.0,155.1 338.9,155.4 338.1,155.2 334.1,154.4 330.0,158.0 325.6,157.9 323.4,156.4 316.5,155.9 314.4,156.4 308.5,156.1 305.0,155.0 301.4,153.9 296.7,150.1 293.3,146.5 290.0,146.0 288.1,142.3 285.5,137.7 281.6,133.5 281.0,130.0 280.7,124.8 281.1,121.9 283.7,117.4 281.9,112.8 279.4,108.5 281.9,107.2Z" fill="#452781"/>
<path d="M300.0,70.0 303.4,68.0 307.2,63.8 312.2,63.7 315.3,59.3 318.0,58.0 323.2,54.3 325.7,56.6 327.3,51.3 332.0,50.0 331.7,53.8 329.3,58.9 329.5,63.8 329.3,69.5 330.0,72.0 326.7,75.2 326.2,77.7 323.1,84.4 318.5,86.6 318.0,90.0 314.0,92.9 307.8,92.4 305.0,96.0 302.6,93.7 299.3,91.1 296.0,88.0 296.2,83.8 298.4,78.1 301.2,75.1Z" fill="#47227e"/>
<path d="M288.0,105.0 290.6,103.5 294.8,101.3 300.0,98.0 305.4,99.0 309.2,102.5 312.0,104.0 314.2,110.5 314.1,111.5 314.5,115.6 316.7,121.2 318.0,125.0 316.3,129.7 314.0,134.2 311.7,139.5 310.0,140.0 306.1,138.3 299.4,139.2 296.0,138.0 293.5,135.4 292.1,130.9 288.2,125.7 287.0,124.0 286.7,120.3 287.8,113.0 288.0,110.2Z" fill="#374a8f"/>
<path d="M333.0,44.0 336.9,42.9 343.1,40.0 348.0,40.0 353.1,41.3 358.6,42.6 362.0,42.0 362.3,45.2 366.6,51.3 368.0,55.0 368.2,63.6 367.9,64.4 367.9,67.8 366.0,71.9 366.0,75.0 363.7,79.7 362.8,85.1 362.0,90.0 360.8,89.8 354.8,92.1 350.0,96.0 345.4,96.0 342.1,92.0 338.0,92.0 335.6,88.6 334.1,83.8 333.6,78.5 332.0,75.0 334.7,71.3 329.9,66.4 331.6,62.7 331.6,57.1 333.3,53.9 331.4,48.0Z" fill="#2e6094"/>
<path d="M337.0,38.0 341.1,36.9 348.5,37.8 351.0,37.0 350.0,43.1 352.0,47.0 350.5,48.6 342.2,47.1 340.0,48.0 340.0,42.2Z" fill="#492480"/>
<path d="M366.0,48.0 371.2,48.3 374.2,46.6 380.0,46.0 379.1,47.8 385.7,50.5 389.0,55.0 390.0,57.3 386.5,63.2 386.0,67.0 383.1,65.6 378.1,67.7 372.0,68.0 367.8,64.6 366.0,60.0 366.2,55.3 366.1,51.5Z" fill="#47227e"/>
<path d="M326.0,98.0 330.9,97.8 337.4,94.5 342.8,92.7 345.0,94.0 348.8,94.3 353.3,92.5 356.8,92.2 360.3,93.4 365.0,92.0 368.8,93.8 372.7,97.7 375.0,100.0 375.0,105.8 372.0,109.3 372.0,115.0 368.6,118.2 363.5,120.1 360.8,121.8 355.0,125.0 350.7,123.8 344.7,124.3 340.0,122.0 337.7,119.6 334.9,115.4 330.0,112.0 329.5,107.0 327.7,102.5Z" fill="#403588"/>
<path d="M402.0,13.0 406.1,13.6 409.0,15.3 412.8,11.2 418.0,12.5 424.4,14.6 428.7,15.6 433.0,16.0 434.5,19.4 436.0,25.0 434.8,29.2 434.5,34.8 432.0,40.0 429.0,43.6 428.5,47.3 426.0,52.0 422.0,56.3 420.0,60.0 417.0,62.7 412.8,66.9 410.0,70.0 405.3,73.3 404.0,80.0 400.5,83.7 399.0,89.8 396.0,92.0 395.0,95.5 392.0,98.1 390.0,103.0 386.0,103.0 382.4,102.7 378.0,104.0 375.6,101.3 372.0,95.0 371.9,90.5 372.8,84.5 372.0,80.0 373.8,75.5 375.1,70.1 376.5,67.1 378.0,62.0 381.7,58.9 384.6,52.6 385.0,49.5 386.0,45.0 390.4,40.3 388.5,36.8 388.7,33.1 393.0,30.0 394.3,25.9 397.9,23.8 400.9,16.6Z" fill="#16a391"/>
<path d="M429.0,30.0 431.9,29.6 435.4,30.2 442.4,26.4 445.0,26.0 447.4,29.6 453.9,31.5 456.6,31.3 463.0,34.0 463.7,38.7 463.8,44.1 465.0,48.0 460.4,50.2 458.5,53.3 455.0,55.0 450.9,54.0 443.2,57.2 440.0,56.0 435.4,52.1 430.0,50.0 431.7,46.1 431.0,42.1 431.9,40.1 428.9,35.2Z" fill="#452781"/>
<path d="M419.0,56.0 423.8,57.1 425.8,55.8 432.3,52.4 435.0,54.0 437.3,53.6 442.2,58.9 448.1,60.1 450.0,62.0 452.5,64.8 449.0,70.9 452.0,75.5 452.0,80.0 447.2,83.2 445.8,87.5 445.0,90.0 440.4,89.5 434.4,90.1 430.0,92.0 425.9,90.8 420.8,87.9 418.0,85.0 416.4,79.0 415.9,73.8 415.0,70.0 415.7,63.9 420.0,60.7Z" fill="#286d95"/>
<path d="M440.0,52.0 443.7,52.3 448.9,51.7 454.2,52.9 458.0,52.0 460.9,53.3 464.7,53.2 466.7,59.6 472.0,60.0 474.0,64.4 472.7,69.7 472.0,74.0 471.7,76.7 463.8,75.5 460.0,78.0 454.1,76.2 451.1,72.3 448.0,72.0 445.6,66.7 446.8,65.1 443.2,61.8 441.7,55.0Z" fill="#1b8c95"/>
<path d="M462.0,35.0 467.8,38.1 468.8,39.8 472.9,40.8 478.0,45.0 481.9,50.3 481.9,51.7 485.6,53.4 488.5,56.0 492.0,60.0 493.6,63.5 495.3,68.9 496.2,72.4 498.0,78.0 494.6,82.2 493.3,83.5 490.0,88.0 485.1,87.6 478.0,86.0 475.0,84.0 472.8,80.9 471.3,74.2 468.8,72.7 469.7,67.7 468.0,65.0 467.9,58.7 466.2,55.0 464.6,52.2 463.5,47.4 464.9,42.9 463.9,37.9Z" fill="#3f3789"/>
<path d="M465.0,99.0 470.6,99.1 472.0,94.7 480.0,94.0 484.7,94.3 488.4,94.3 492.1,95.3 496.0,96.0 497.7,100.3 497.1,103.5 496.4,107.5 497.8,111.5 498.0,118.5 498.0,120.0 498.7,123.8 498.8,127.8 494.6,131.3 494.4,136.2 496.4,142.8 496.0,145.0 492.4,145.2 489.0,143.3 484.3,147.4 480.0,147.0 474.2,146.0 472.4,141.8 468.0,140.0 467.8,138.7 466.2,132.3 464.4,127.0 465.0,123.0 463.0,120.0 463.5,115.2 464.4,112.0 465.4,106.8 464.3,102.0Z" fill="#47227e"/>
<path d="M364.0,92.0 367.5,92.2 372.9,90.4 377.0,93.0 380.5,93.4 383.1,89.4 385.9,92.5 392.8,90.4 396.3,88.9 400.0,90.0 406.9,90.4 408.1,91.3 412.6,90.9 415.1,91.4 422.3,92.6 425.9,90.6 426.8,91.2 432.1,92.9 434.0,93.6 440.0,92.0 444.2,92.3 447.6,91.6 454.2,94.5 456.1,93.6 462.0,96.0 460.9,102.7 460.4,103.5 460.0,110.0 455.7,110.7 448.8,111.9 447.7,113.8 446.2,115.4 440.0,115.0 435.7,114.4 435.1,116.5 428.0,117.1 424.2,117.6 419.3,117.8 416.0,118.5 411.1,120.0 407.7,122.4 400.8,122.6 400.0,122.0 397.2,120.4 391.0,123.3 385.5,123.6 381.5,127.5 379.7,127.8 375.2,125.8 370.0,128.0 366.0,125.9 361.9,123.5 360.0,120.0 360.3,115.6 362.0,112.5 361.3,109.4 361.0,104.7 363.6,99.6 363.8,94.5Z" fill="#38468f"/>
<path d="M352.0,142.0 357.1,140.3 359.4,140.4 363.2,136.0 366.1,137.0 370.5,137.0 373.5,135.5 380.0,132.0 384.3,130.9 387.3,130.5 392.0,130.3 396.1,128.2 399.6,126.9 404.4,123.9 406.4,125.9 412.2,123.8 416.0,123.4 420.0,122.0 423.2,119.8 427.9,118.3 431.9,116.1 436.5,117.5 439.4,116.8 444.9,115.6 444.5,111.6 449.8,111.8 455.0,109.7 458.4,108.4 462.0,108.0 463.3,111.3 466.0,118.0 460.9,117.7 456.8,121.9 452.9,125.2 450.6,123.6 445.0,125.5 441.3,126.1 441.1,127.2 435.4,127.8 430.0,130.0 425.7,133.3 420.7,134.5 418.0,132.8 413.6,135.7 409.3,133.8 403.4,136.6 400.0,138.0 395.6,139.9 391.6,138.7 387.6,142.2 383.5,143.9 379.6,144.3 374.2,142.9 370.0,146.0 365.8,148.2 361.0,148.5 356.0,152.0 352.7,148.3Z" fill="#2c6394"/>
<path d="M359.0,138.0 363.4,138.2 367.9,136.9 373.4,135.7 376.8,135.2 380.6,134.8 385.8,134.0 390.0,134.0 395.5,133.2 397.8,134.0 403.7,135.0 407.2,133.2 410.3,136.3 414.1,136.8 417.4,137.4 422.0,136.0 425.3,139.6 422.5,145.7 425.4,147.4 424.0,152.0 419.5,152.3 414.4,152.2 410.8,153.1 408.0,154.9 405.9,154.1 400.0,156.0 396.9,155.7 391.4,156.8 385.8,156.5 383.1,156.6 378.9,158.9 373.5,155.4 370.0,156.0 365.3,153.3 361.2,153.4 358.0,150.0 360.0,145.3 357.7,142.6Z" fill="#47227e"/>
<path d="M424.0,126.0 427.5,125.6 432.6,121.8 438.5,124.6 440.1,120.7 445.0,120.0 449.3,120.0 453.8,121.6 456.8,117.8 459.3,117.5 465.0,118.0 465.6,124.2 465.6,126.3 466.8,131.4 470.4,133.4 468.0,138.0 464.2,142.3 462.3,146.2 459.0,146.6 455.0,150.0 451.5,151.7 447.7,151.3 443.8,152.4 440.0,152.1 434.0,151.8 430.0,152.0 428.4,146.0 424.0,142.0 424.4,137.5 424.0,135.5 424.2,130.1Z" fill="#228496"/>
<path d="M374.0,152.0 376.7,153.6 383.4,155.9 386.6,154.3 391.6,156.6 395.6,155.7 400.0,156.0 404.8,155.8 407.7,155.4 413.6,153.6 416.6,153.6 421.9,152.2 423.9,154.1 430.6,153.1 432.1,155.1 435.2,149.8 441.0,152.0 447.0,150.4 452.0,150.0 447.8,154.6 446.3,156.8 441.5,162.3 440.0,165.0 436.8,166.3 434.2,166.5 426.2,168.4 423.9,170.9 420.0,172.0 415.5,174.1 410.2,177.1 407.4,178.3 403.7,179.2 399.9,180.9 395.0,182.0 391.5,183.6 386.7,182.9 382.1,183.7 378.0,182.0 376.6,179.9 376.8,171.7 376.4,168.3 376.7,164.1 374.6,158.3 374.0,153.4Z" fill="#355992"/>
<path d="M347.0,152.0 350.1,152.2 357.9,151.2 362.0,150.0 364.8,151.3 370.0,151.3 374.0,154.0 377.1,159.7 376.4,163.4 378.0,168.0 376.9,170.2 375.0,176.5 374.0,182.0 368.1,181.7 366.8,182.8 360.0,182.0 356.0,180.0 355.0,177.8 350.0,174.0 348.7,169.2 348.2,166.5 346.0,162.0 347.6,157.8Z" fill="#198c95"/>
<path d="M494.0,96.0 499.3,94.0 503.6,93.6 506.0,92.0 512.5,95.2 514.0,100.0 516.1,104.4 513.2,107.8 513.6,113.1 514.6,116.0 514.0,123.5 516.1,125.6 514.0,129.4 514.7,132.2 513.7,135.6 514.5,142.6 514.0,146.0 508.8,148.6 503.2,145.6 500.0,148.0 498.8,144.8 499.0,138.4 496.8,134.5 494.0,130.0 493.8,126.8 494.8,119.6 495.8,118.9 493.2,113.5 494.6,109.1 493.3,103.7 494.0,101.7Z" fill="#31c574"/>
<path d="M502.0,100.0 506.7,99.6 510.0,100.0 510.9,100.6 511.4,105.9 509.6,110.7 508.4,117.4 509.4,120.4 509.9,124.6 510.1,126.5 511.2,131.4 508.1,135.5 510.0,140.0 503.0,142.0 504.7,138.8 502.4,133.2 502.3,131.9 503.1,125.7 503.7,121.3 502.1,116.6 502.2,112.6 503.1,108.5 503.0,104.1Z" fill="#77db47" opacity="0.7"/>
<path d="M509.0,100.0 513.1,99.6 517.0,104.0 520.1,109.1 522.2,109.9 523.0,118.0 525.3,121.8 523.9,124.8 523.1,128.7 521.5,136.3 522.0,138.0 518.8,142.3 516.0,146.0 512.5,146.6 507.0,146.0 507.4,142.2 510.3,137.5 507.8,134.7 509.1,130.6 508.0,125.0 508.9,119.5 510.3,115.3 508.9,111.6 508.6,108.7 509.2,104.7Z" fill="#ffe923"/>
</g>
<g filter="url(#bs)"><path d="M352.0,140.0 C356.7,138.3 368.7,133.7 380.0,130.0 C391.3,126.3 408.3,121.7 420.0,118.0 C431.7,114.3 442.3,111.0 450.0,108.0 C457.7,105.0 463.3,101.3 466.0,100.0" fill="none" stroke="#16163a" stroke-width="1.4" stroke-linecap="round" opacity="0.45"/>
<path d="M360.0,152.0 C365.8,151.0 384.2,148.0 395.0,146.0 C405.8,144.0 415.0,142.3 425.0,140.0 C435.0,137.7 446.7,135.7 455.0,132.0 C463.3,128.3 469.5,123.3 475.0,118.0 C480.5,112.7 485.8,103.0 488.0,100.0" fill="none" stroke="#16163a" stroke-width="1.4" stroke-linecap="round" opacity="0.45"/>
<path d="M380.0,170.0 C386.7,168.7 408.3,165.0 420.0,162.0 C431.7,159.0 440.3,155.3 450.0,152.0 C459.7,148.7 473.3,143.7 478.0,142.0" fill="none" stroke="#16163a" stroke-width="1.4" stroke-linecap="round" opacity="0.45"/>
<path d="M418.0,14.0 C417.2,16.7 415.2,24.0 413.0,30.0 C410.8,36.0 407.8,43.7 405.0,50.0 C402.2,56.3 398.8,61.7 396.0,68.0 C393.2,74.3 389.3,84.7 388.0,88.0" fill="none" stroke="#16163a" stroke-width="1.4" stroke-linecap="round" opacity="0.45"/>
<path d="M400.0,18.0 C398.7,21.7 395.0,33.3 392.0,40.0 C389.0,46.7 385.0,51.7 382.0,58.0 C379.0,64.3 375.3,74.7 374.0,78.0" fill="none" stroke="#16163a" stroke-width="1.4" stroke-linecap="round" opacity="0.45"/>
<path d="M436.0,22.0 C435.0,25.3 432.3,36.0 430.0,42.0 C427.7,48.0 424.7,52.3 422.0,58.0 C419.3,63.7 416.0,70.3 414.0,76.0 C412.0,81.7 410.7,89.3 410.0,92.0" fill="none" stroke="#16163a" stroke-width="1.4" stroke-linecap="round" opacity="0.45"/>
<path d="M385.0,30.0 C380.8,31.3 368.3,35.0 360.0,38.0 C351.7,41.0 343.3,44.0 335.0,48.0 C326.7,52.0 316.7,57.0 310.0,62.0 C303.3,67.0 297.5,75.3 295.0,78.0" fill="none" stroke="#16163a" stroke-width="1.4" stroke-linecap="round" opacity="0.45"/>
<path d="M372.0,72.0 C368.3,73.3 357.0,77.0 350.0,80.0 C343.0,83.0 337.5,86.3 330.0,90.0 C322.5,93.7 309.2,100.0 305.0,102.0" fill="none" stroke="#16163a" stroke-width="1.4" stroke-linecap="round" opacity="0.45"/>
<path d="M440.0,52.0 C443.3,53.0 453.7,55.3 460.0,58.0 C466.3,60.7 472.7,63.5 478.0,68.0 C483.3,72.5 489.7,82.2 492.0,85.0" fill="none" stroke="#16163a" stroke-width="1.4" stroke-linecap="round" opacity="0.45"/>
<path d="M292.0,138.0 C296.7,139.3 311.2,144.0 320.0,146.0 C328.8,148.0 340.8,149.3 345.0,150.0" fill="none" stroke="#16163a" stroke-width="1.4" stroke-linecap="round" opacity="0.45"/>
<path d="M300.0,110.0 C302.5,111.7 310.8,115.8 315.0,120.0 C319.2,124.2 323.3,132.5 325.0,135.0" fill="none" stroke="#16163a" stroke-width="1.4" stroke-linecap="round" opacity="0.45"/>
<path d="M455.0,30.0 C457.5,32.0 465.5,38.7 470.0,42.0 C474.5,45.3 480.0,48.7 482.0,50.0" fill="none" stroke="#16163a" stroke-width="1.4" stroke-linecap="round" opacity="0.45"/>
<path d="M498.0,92.0 C498.8,95.8 501.8,107.0 503.0,115.0 C504.2,123.0 504.7,135.8 505.0,140.0" fill="none" stroke="#16163a" stroke-width="1.4" stroke-linecap="round" opacity="0.45"/>
<path d="M505.0,88.2 503.0,87.7 500.0,87.0 498.0,86.6 495.0,86.0 493.0,85.5 491.0,84.9 488.5,84.0 486.2,83.0 488.0,81.4 490.0,80.2 492.0,79.1 494.0,78.0 495.5,77.0 497.0,75.6 497.0,73.8 495.0,73.0 492.0,72.0 490.0,71.1 488.0,70.0 486.2,69.0 484.0,68.2 482.0,67.8 479.0,67.5 476.0,67.8 474.0,68.8 472.7,70.0 471.0,71.8 470.0,73.0 470.0,75.3 472.0,76.9 474.0,77.9 476.0,78.7 478.0,79.7 480.0,80.6 482.0,81.5 484.0,82.7 483.2,84.0 481.6,85.0 480.0,86.1 478.0,87.4 476.0,88.6 474.0,89.5 472.0,90.1 469.0,90.6 466.0,90.4 464.0,89.4 462.4,88.0 461.0,86.7 460.4,84.0 462.0,82.3 463.8,81.0 465.3,80.0 466.7,78.0 465.0,76.1 464.0,74.9 462.6,73.0 461.0,72.0 458.0,71.8 456.0,72.2 453.0,73.0 451.0,73.7 449.0,74.6 447.0,75.6 444.0,75.6 441.2,75.0 439.0,74.6 436.0,74.1 433.0,74.1 430.0,74.5 427.6,75.0 425.0,75.4 422.0,75.7 419.0,75.7 416.0,75.5 413.0,75.4 410.0,75.2 408.5,74.0 408.2,71.0 407.4,69.0 408.0,66.8 409.8,65.0 410.0,63.7 408.0,62.6 405.0,62.1 402.0,62.4 400.0,63.9 398.8,65.0 397.0,66.0 394.0,66.9 392.0,67.2 389.0,67.3 386.0,67.1 384.0,66.8 381.0,66.3 378.0,66.0 376.0,65.6 374.5,64.0 375.2,62.0 377.0,60.2 378.0,58.8 378.0,56.0 377.0,54.6 375.0,53.5 372.0,53.8 370.0,54.9 368.4,56.0 367.0,57.0 365.0,58.3 363.0,59.7 361.0,60.8 359.0,61.5 356.0,61.5 353.1,61.0 351.0,60.6 348.2,60.0 346.0,59.5 343.6,59.0 341.0,58.4 338.6,58.0 336.0,57.4 334.0,57.0 331.3,56.0 330.0,54.0 332.0,52.3 334.0,51.1 336.0,50.1 338.0,49.3 340.0,48.5 341.2,47.0 340.0,45.9 338.0,44.8 336.0,43.9 333.0,43.0 331.0,42.6 328.0,42.1 326.0,41.8M389.2,18.0 391.2,19.0 393.0,20.2 393.1,23.0 392.0,24.3 391.0,26.0 390.0,28.6 388.9,30.0 387.0,31.6 385.0,32.7 383.0,33.6 380.6,34.0 378.9,34.0 376.0,33.4 374.0,32.5 372.0,31.3 370.9,30.0 371.4,28.0 373.0,26.4 374.6,25.0 375.3,23.0 376.0,21.0M352.0,30.0 350.0,31.8 348.0,32.4 345.7,33.0 343.0,33.6 341.0,34.2 338.5,35.0 336.6,36.0 335.2,38.0 337.0,40.0 339.0,41.0 341.0,41.9 343.0,42.8 345.0,43.3 348.0,43.4 350.0,43.0 352.8,42.0 354.7,41.0 356.1,40.0 358.0,38.1 359.0,36.6 360.6,35.0 362.7,35.0 365.0,35.8 367.0,36.8 368.9,38.0 370.0,39.0 371.0,41.0 372.0,43.7 374.0,44.8 376.0,45.4 378.0,46.0 381.0,46.9 383.0,47.5 384.6,49.0 385.1,51.0 387.0,52.6 389.0,53.8 390.8,55.0 392.0,56.2 393.9,58.0 396.0,58.5 398.3,58.0 400.0,56.8 401.5,55.0 401.2,52.0 400.0,51.0 398.0,49.9 395.1,49.0 393.0,48.7 390.0,48.3 387.9,48.0 385.6,47.0 386.3,45.0 387.7,43.0 389.1,42.0 391.5,41.0 394.0,40.4 396.1,40.0 399.0,39.3 401.0,38.1 402.0,36.9 403.4,35.0 405.0,33.1 405.8,31.0 405.0,29.0 404.9,26.0 406.0,25.0 409.0,24.3 412.0,24.1 414.0,24.0 417.0,23.6 420.0,23.2 422.0,22.3 421.0,21.2 419.0,20.1 417.5,19.0 419.2,18.0 421.9,17.0 423.9,16.0 425.0,14.0M410.0,15.0 411.7,16.0 413.3,17.0 414.9,19.0 412.8,20.0 410.7,21.0 408.7,22.0 406.6,23.0 404.0,23.3 402.0,22.8 400.0,21.8 400.0,19.8 401.5,18.0 401.0,15.5M463.0,31.0 461.0,32.0 459.0,33.2 456.0,33.7 454.0,32.9 452.0,31.6 450.6,30.0 449.4,28.0 448.0,26.4 446.0,25.0 444.0,24.3 442.0,24.0 439.0,23.9 437.0,24.1 434.0,24.8 432.0,25.8 430.2,27.0 428.4,28.0 426.1,29.0 424.0,29.7 422.0,30.4 419.5,31.0 417.5,32.0 419.0,33.2 422.0,33.4 425.0,33.5 428.0,33.8 430.0,34.1 433.0,35.0 434.5,36.0 435.8,38.0 437.0,39.2 440.0,40.0 442.0,40.1 444.4,40.0 447.0,39.8 450.0,39.6 453.0,39.2 455.0,38.7 457.0,37.7 459.0,36.7 462.0,36.6 465.0,36.7 468.0,36.7M350.3,52.0 350.0,50.0 347.4,49.0 345.0,48.7 343.9,50.0 345.0,51.7 347.0,52.5 350.0,52.1M431.2,67.0 433.2,66.0 435.0,64.2 435.1,62.0 434.0,61.0 432.0,59.5 430.0,58.1 428.4,57.0 427.0,56.0 425.0,54.7 423.7,53.0 424.0,51.0 423.6,49.0 421.0,48.9 419.0,49.7 417.4,51.0 419.0,52.3 421.0,53.2 422.8,55.0 422.0,57.7 421.3,60.0 420.8,62.0 420.9,65.0 422.0,66.0 424.3,67.0 427.0,67.5 430.0,67.3M299.0,68.5 301.2,68.0 303.1,67.0 304.2,65.0 305.2,63.0 308.0,62.2 311.0,62.1 314.0,62.2 317.0,62.5 320.0,62.9 322.0,63.2 325.0,63.8 327.0,64.5 328.6,66.0 329.0,68.9 330.0,70.6 332.0,71.2 335.0,71.3 337.9,71.0 340.0,70.6 343.0,70.0 345.0,69.6 348.0,69.1 350.0,68.7 352.7,68.0 355.0,67.5 358.0,67.7 360.0,68.8 361.9,70.0 364.0,71.0 366.0,71.7 367.7,73.0 368.4,75.0 370.0,76.5 372.0,77.4 375.0,77.9 377.4,78.0 380.0,78.3 382.0,79.2 383.1,81.0 382.7,83.0 381.0,84.7 379.0,85.5 377.0,86.1 374.6,87.0 372.7,88.0 370.8,89.0 368.7,90.0 366.0,90.8 364.0,91.0 362.0,90.8 359.0,90.2 357.0,89.7 354.0,89.4 351.0,89.8 349.0,90.4 346.8,91.0 344.0,91.4 341.0,91.5 338.0,91.9 336.0,92.7 334.0,93.7 332.0,94.5 330.0,95.1 327.0,95.6 324.0,96.0 322.0,96.1 319.3,96.0 317.2,95.0 317.0,92.8 315.6,91.0 313.0,90.4 310.0,90.8 308.1,92.0 308.0,93.0 310.0,94.4 312.0,95.7 312.0,97.1 310.0,98.5 308.5,100.0 309.0,102.8 310.4,104.0 313.0,104.7 315.8,104.0 318.0,103.6 321.0,103.4 324.0,103.6 326.5,104.0 329.0,104.5 331.0,105.0 334.0,105.9 336.0,106.5 338.0,107.1 341.0,107.4 343.0,106.8 345.0,105.6 347.0,104.0 348.0,103.0 349.6,101.0 351.0,99.9 353.0,98.9 356.0,98.1 358.0,97.7 361.0,97.4 364.0,97.3 366.8,97.0 369.0,96.6 372.0,96.1 374.0,95.8 377.0,95.5 380.0,95.1 382.0,94.6 384.1,94.0 387.0,93.0 389.0,92.5 392.0,92.5 394.5,93.0 397.0,93.8 399.0,94.5 401.0,95.3 403.0,96.3 404.0,98.8 404.6,101.0 406.0,102.8 407.4,104.0 409.0,105.4 410.3,107.0 411.0,109.7 411.0,111.0 409.0,112.2 406.0,112.7 403.0,112.7 400.0,112.2 398.0,111.6 396.0,110.5 395.0,109.0 393.8,107.0 392.0,105.8 389.0,105.0 387.0,105.0 385.0,105.2 382.0,105.8 380.0,106.5 378.0,107.1 375.0,107.5 372.0,107.3 369.8,108.0 368.0,109.3 366.5,111.0 365.7,113.0 365.2,116.0 363.7,117.0 361.0,117.2 359.0,117.0 356.0,116.6 353.0,116.4 350.0,116.6 348.0,117.0 345.0,117.7 342.0,117.4 340.8,116.0 339.6,114.0 338.0,112.0 336.0,111.7 333.0,111.7 330.0,111.8 328.0,112.0 325.0,112.7 323.0,113.4 321.0,114.4 319.0,115.6 317.4,117.0 317.0,118.8 318.0,120.0 320.0,121.1 322.0,122.7 321.5,124.0 320.0,125.3 318.0,126.7 316.0,127.5 314.0,128.1 311.0,129.0 309.0,129.5 307.0,130.1 304.3,131.0 303.0,132.3 303.0,134.5 303.4,137.0 303.3,140.0 302.1,142.0 301.3,144.0 304.0,144.7 307.0,144.3 309.0,143.7 311.0,143.0 313.2,142.0 315.7,141.0 318.0,140.7 320.0,141.6 321.0,143.4 321.7,146.0 321.0,148.3 319.7,150.0 318.0,152.0 317.0,153.1 315.0,154.4 312.0,154.6 309.0,154.4 306.0,154.4 303.0,155.0M356.0,177.0 358.0,175.8 361.0,175.2 364.0,175.0 367.0,175.3 369.0,176.1 370.8,178.0 372.0,179.4 373.8,181.0 375.2,182.0 377.0,183.4M463.1,68.0 465.9,67.0 468.0,66.3 470.0,65.8 472.6,65.0 474.4,64.0 476.0,63.0 478.0,61.9 480.1,61.0 482.7,60.0 484.1,59.0 483.0,57.4 481.0,56.5 479.0,56.0 476.0,55.6 473.0,55.5 470.0,55.7 468.0,56.1 466.0,57.0 464.0,58.7 462.1,60.0 460.0,60.8 458.0,61.2 455.0,61.6 452.0,61.9 450.0,62.3 449.0,63.3 451.0,64.7 453.0,65.6 455.0,66.5 457.0,67.4 459.0,68.1 462.0,68.3M283.0,90.6 285.0,89.6 287.0,88.7 289.8,88.0 292.0,87.6 294.5,87.0 297.0,86.1 299.0,85.2 301.0,84.0 302.1,83.0 302.0,80.8 300.0,79.2 298.3,78.0 297.0,76.6 295.3,75.0 293.0,74.2M290.8,78.0 290.0,80.0 288.0,81.0M344.3,85.0 346.2,84.0 345.0,82.2 343.0,81.4 341.0,81.0 338.1,81.0 336.0,81.7 336.0,84.0 338.0,84.8 340.0,85.1 343.0,85.2M421.0,89.0 418.0,89.4 415.0,89.0 413.3,88.0 413.0,86.6 415.0,85.0 417.0,84.4 419.0,84.0 422.0,84.0 424.0,84.6 424.3,87.0 423.0,88.1 421.0,89.0M520.9,115.0 520.4,118.0 520.0,120.0 518.0,121.3 515.0,121.4 513.0,120.7 511.0,119.0 510.0,117.0 510.6,116.0 512.1,115.0 514.0,113.6 515.2,112.0 516.0,109.9 516.0,107.1 514.0,106.5 511.0,106.2 508.0,106.2 505.0,106.2 502.0,106.2 499.1,106.0 497.0,105.6 495.0,104.9 493.0,103.5 491.8,102.0 491.4,99.0 492.5,97.0 494.0,95.7 496.0,94.8 499.0,94.3 502.0,94.1 504.0,93.8 506.9,93.0 509.0,92.2M295.4,101.0 297.0,99.9 299.0,98.4 300.7,97.0 302.0,95.3 302.0,93.8 299.2,93.0 298.0,93.0 295.0,93.7 293.0,94.6 291.0,95.7 289.0,97.0 288.0,98.4 288.2,100.0 290.0,101.1 293.0,102.0 295.4,101.0M421.0,126.0 419.0,125.4 417.4,124.0 416.9,122.0 418.0,120.0 418.2,118.0 417.8,116.0 418.2,114.0 419.9,112.0 420.0,110.0 419.8,108.0 420.5,106.0 422.2,105.0 425.0,104.7 427.0,105.1 429.2,106.0 432.0,107.0 434.0,107.2 437.0,107.1 439.0,106.7 441.8,106.0 444.0,105.5 447.0,105.4 450.0,106.0 452.0,106.4 455.0,106.9 458.0,106.6 460.0,105.2 461.0,103.4 461.3,101.0 460.0,99.9 457.0,99.4 454.0,99.2 452.0,98.9 449.5,98.0 448.0,96.8 448.0,94.8 450.4,94.0 453.0,93.6 456.0,93.3 459.0,93.1 462.0,93.2 465.0,93.9 467.0,94.4 469.0,95.2 471.0,96.1 473.0,97.6 474.4,99.0 476.0,100.7 477.4,102.0 478.5,104.0 478.0,106.3 477.0,108.4 476.0,110.9 475.0,112.0 473.0,113.4 471.0,114.2 468.0,114.7 465.0,114.8 462.0,114.8 459.0,115.0 457.0,115.3 454.4,116.0 452.0,117.0 450.0,117.9 448.0,118.6 445.0,118.8 442.6,119.0 440.0,119.5 438.0,120.0 436.0,121.0 434.0,122.4 432.0,123.4 429.6,124.0 427.0,124.6 425.0,125.2 422.0,126.0M371.0,104.0 370.0,102.0 368.0,101.5 366.8,103.0 368.0,104.2 371.0,104.0M281.0,131.2 284.0,131.5 287.0,131.8 290.0,131.8 293.0,131.5 295.5,131.0 297.9,130.0 298.6,128.0 298.0,125.9 296.7,124.0 295.1,122.0 294.0,120.0 293.9,118.0 295.0,116.0 296.0,115.0 298.0,113.7 300.0,112.7 302.0,111.9 304.8,111.0 307.0,110.9 309.0,111.2 312.0,111.8 315.0,112.0 318.0,111.2 318.0,109.8 316.0,108.0 314.2,107.0 312.0,106.3 309.2,107.0 307.0,107.6 304.0,107.2 302.0,106.2 300.0,105.1 298.0,104.2 296.0,103.4 293.0,103.6 291.2,105.0 289.7,106.0 288.0,107.0 285.7,108.0 283.0,108.9 281.0,109.5 279.0,110.7 279.6,112.0 281.4,113.0 283.8,114.0 286.0,114.8 288.0,115.9 287.8,117.0 285.0,117.7 283.0,118.0 280.0,118.3M393.0,124.1 390.0,124.0 388.8,123.0 387.4,121.0 386.4,119.0 385.0,118.0 382.8,117.0 381.2,115.0 382.4,113.0 385.0,112.5 387.2,113.0 388.1,115.0 389.0,117.8 391.0,118.5 393.0,119.0 395.6,120.0 396.0,122.0 394.8,123.0 393.0,124.1M340.0,130.0 337.0,130.1 335.0,129.7 333.0,128.8 331.2,127.0 330.1,125.0 329.4,123.0 331.0,121.7 333.3,121.0 336.0,120.4 338.0,120.0 341.0,119.3 343.7,120.0 345.0,121.1 347.0,122.9 348.0,124.0 349.3,126.0 349.0,128.3 346.8,129.0 344.0,129.5 341.0,129.9M399.0,178.4 396.0,178.8 393.0,178.6 391.0,177.1 390.0,175.9 388.0,174.2 386.3,173.0 385.2,171.0 387.0,169.4 389.0,168.5 390.4,167.0 388.7,166.0 386.0,165.1 384.0,164.3 382.1,163.0 382.0,161.8 383.3,160.0 383.0,157.7 381.0,156.1 379.0,155.5 376.0,155.9 375.1,158.0 376.5,160.0 377.3,162.0 375.0,162.7 373.0,163.0 370.9,163.0 368.0,162.0 366.6,161.0 364.0,160.3 361.0,160.8 361.0,162.8 362.0,164.1 362.0,166.0 360.5,168.0 359.5,170.0 358.7,172.0 357.0,173.7 355.0,174.2 352.8,174.0M349.9,171.0 350.7,169.0 350.4,166.0 351.3,164.0 353.0,162.5 354.7,161.0 353.0,159.0 351.0,158.2 349.0,157.7 346.0,157.2 344.0,156.7 341.6,156.0 340.0,154.8 339.4,152.0 338.2,150.0 337.0,149.0 335.1,147.0 334.5,145.0 333.8,143.0 332.0,141.4 330.4,140.0 329.0,138.2 328.0,136.7 326.0,135.1 324.0,134.0 322.6,133.0 321.2,131.0 322.4,129.0 325.0,128.7 327.9,129.0 330.0,129.6 332.0,130.7 334.0,131.2 337.0,131.5 339.0,132.2 340.8,134.0 340.3,137.0 340.7,140.0 342.8,141.0 345.0,141.3 348.0,141.2 350.0,140.8 352.8,140.0 355.0,139.1 356.3,138.0 355.0,136.7 353.1,135.0 352.0,133.3 352.0,131.0 354.0,130.3 357.0,130.8 359.0,131.5 361.0,132.3 363.2,133.0 366.0,133.4 368.8,133.0 371.0,132.4 373.0,131.8 375.7,131.0 378.0,130.5 380.9,131.0 381.5,133.0 381.0,135.0 379.3,137.0 377.9,138.0 376.0,139.4 374.7,141.0 373.5,143.0 372.5,145.0 373.0,147.1 375.0,148.1 378.0,148.7 381.0,149.0 383.0,149.0 385.0,149.0 388.0,148.8 391.0,148.1 392.7,147.0 394.0,145.5 395.0,144.0 396.8,142.0 398.2,141.0 400.7,140.0 403.0,139.6 406.0,139.0 408.0,138.3 410.0,137.8 413.0,137.0 414.5,136.0 415.4,134.0 417.0,132.3 419.0,131.2 421.0,130.9 423.0,131.5 425.0,132.7 426.7,134.0 428.3,135.0 431.0,136.0 433.0,136.6 435.0,137.1 437.5,138.0 439.6,139.0 441.7,140.0 444.0,140.8 446.0,141.1 448.7,141.0 451.0,140.7 454.0,140.5 457.0,140.7 459.0,141.0 462.0,141.2 464.0,141.0 465.0,139.4 463.0,138.4 461.0,137.9 458.0,137.6 455.0,137.4 453.0,136.9 450.6,136.0 449.0,135.0 448.2,132.0 448.2,129.0 447.4,127.0 447.7,124.0 450.0,123.0 452.0,122.9 454.3,123.0 457.0,123.3 459.9,124.0 461.9,125.0 463.5,126.0 465.5,127.0 468.0,127.6 471.0,127.9 474.0,127.6 477.0,127.2 479.0,126.9 482.0,126.5 485.0,126.1 487.0,125.7 490.0,125.9 491.2,127.0 492.0,129.0 493.0,131.4 494.4,133.0 496.0,134.1 498.4,134.0 500.1,133.0 502.0,132.0 504.2,131.0 506.7,130.0 509.0,129.1 511.0,128.5 514.0,128.1 517.0,128.1 520.0,128.4M400.0,136.7 397.0,136.4 395.3,135.0 394.0,133.4 392.9,132.0 391.2,130.0 390.2,128.0 392.0,126.3 395.0,126.7 397.0,127.2 399.4,128.0 401.2,129.0 402.3,131.0 401.6,133.0 401.0,135.0M519.0,136.2 517.7,138.0 519.0,139.5M497.5,145.0 499.0,143.4 501.0,142.1 502.2,141.0 502.0,138.5 500.0,137.1 498.0,136.2 496.0,137.6 494.7,139.0 493.0,140.2 490.0,141.0 487.0,140.8 484.0,140.3 481.0,140.3 479.2,142.0 480.0,144.1 482.0,145.5M434.4,157.0 436.0,156.0 438.0,154.2 440.0,153.4 443.0,153.1 446.0,153.1 449.0,153.2 452.0,153.0 454.0,152.4 456.0,151.2 456.3,149.0 455.0,147.8 453.0,147.0 450.0,146.5 447.0,146.5 444.0,146.8 442.0,147.0 439.0,147.3 436.0,147.4 433.2,147.0 431.0,146.0 429.4,145.0 427.9,144.0 426.0,142.5 424.5,141.0 423.2,139.0 421.2,138.0 419.0,137.8 418.0,139.0 419.0,140.9 419.0,142.2 418.0,144.2 416.4,146.0 415.0,147.6 416.0,148.9 418.0,149.9 419.5,151.0 421.0,152.5 422.6,154.0 424.0,155.2 426.0,156.3 428.2,157.0 431.0,157.4 434.0,157.1M321.3,158.0 324.0,157.3 327.0,157.1 330.0,157.9M421.0,167.8 418.0,167.4 415.0,167.1 412.0,167.0 409.0,167.2 406.8,168.0 406.7,171.0 408.0,172.9 409.1,174.0" fill="none" stroke="#ffffff" stroke-width="2.2" stroke-linejoin="round" opacity="0.12" transform="translate(1.4,1.4)"/>
<path d="M505.0,88.2 503.0,87.7 500.0,87.0 498.0,86.6 495.0,86.0 493.0,85.5 491.0,84.9 488.5,84.0 486.2,83.0 488.0,81.4 490.0,80.2 492.0,79.1 494.0,78.0 495.5,77.0 497.0,75.6 497.0,73.8 495.0,73.0 492.0,72.0 490.0,71.1 488.0,70.0 486.2,69.0 484.0,68.2 482.0,67.8 479.0,67.5 476.0,67.8 474.0,68.8 472.7,70.0 471.0,71.8 470.0,73.0 470.0,75.3 472.0,76.9 474.0,77.9 476.0,78.7 478.0,79.7 480.0,80.6 482.0,81.5 484.0,82.7 483.2,84.0 481.6,85.0 480.0,86.1 478.0,87.4 476.0,88.6 474.0,89.5 472.0,90.1 469.0,90.6 466.0,90.4 464.0,89.4 462.4,88.0 461.0,86.7 460.4,84.0 462.0,82.3 463.8,81.0 465.3,80.0 466.7,78.0 465.0,76.1 464.0,74.9 462.6,73.0 461.0,72.0 458.0,71.8 456.0,72.2 453.0,73.0 451.0,73.7 449.0,74.6 447.0,75.6 444.0,75.6 441.2,75.0 439.0,74.6 436.0,74.1 433.0,74.1 430.0,74.5 427.6,75.0 425.0,75.4 422.0,75.7 419.0,75.7 416.0,75.5 413.0,75.4 410.0,75.2 408.5,74.0 408.2,71.0 407.4,69.0 408.0,66.8 409.8,65.0 410.0,63.7 408.0,62.6 405.0,62.1 402.0,62.4 400.0,63.9 398.8,65.0 397.0,66.0 394.0,66.9 392.0,67.2 389.0,67.3 386.0,67.1 384.0,66.8 381.0,66.3 378.0,66.0 376.0,65.6 374.5,64.0 375.2,62.0 377.0,60.2 378.0,58.8 378.0,56.0 377.0,54.6 375.0,53.5 372.0,53.8 370.0,54.9 368.4,56.0 367.0,57.0 365.0,58.3 363.0,59.7 361.0,60.8 359.0,61.5 356.0,61.5 353.1,61.0 351.0,60.6 348.2,60.0 346.0,59.5 343.6,59.0 341.0,58.4 338.6,58.0 336.0,57.4 334.0,57.0 331.3,56.0 330.0,54.0 332.0,52.3 334.0,51.1 336.0,50.1 338.0,49.3 340.0,48.5 341.2,47.0 340.0,45.9 338.0,44.8 336.0,43.9 333.0,43.0 331.0,42.6 328.0,42.1 326.0,41.8M389.2,18.0 391.2,19.0 393.0,20.2 393.1,23.0 392.0,24.3 391.0,26.0 390.0,28.6 388.9,30.0 387.0,31.6 385.0,32.7 383.0,33.6 380.6,34.0 378.9,34.0 376.0,33.4 374.0,32.5 372.0,31.3 370.9,30.0 371.4,28.0 373.0,26.4 374.6,25.0 375.3,23.0 376.0,21.0M352.0,30.0 350.0,31.8 348.0,32.4 345.7,33.0 343.0,33.6 341.0,34.2 338.5,35.0 336.6,36.0 335.2,38.0 337.0,40.0 339.0,41.0 341.0,41.9 343.0,42.8 345.0,43.3 348.0,43.4 350.0,43.0 352.8,42.0 354.7,41.0 356.1,40.0 358.0,38.1 359.0,36.6 360.6,35.0 362.7,35.0 365.0,35.8 367.0,36.8 368.9,38.0 370.0,39.0 371.0,41.0 372.0,43.7 374.0,44.8 376.0,45.4 378.0,46.0 381.0,46.9 383.0,47.5 384.6,49.0 385.1,51.0 387.0,52.6 389.0,53.8 390.8,55.0 392.0,56.2 393.9,58.0 396.0,58.5 398.3,58.0 400.0,56.8 401.5,55.0 401.2,52.0 400.0,51.0 398.0,49.9 395.1,49.0 393.0,48.7 390.0,48.3 387.9,48.0 385.6,47.0 386.3,45.0 387.7,43.0 389.1,42.0 391.5,41.0 394.0,40.4 396.1,40.0 399.0,39.3 401.0,38.1 402.0,36.9 403.4,35.0 405.0,33.1 405.8,31.0 405.0,29.0 404.9,26.0 406.0,25.0 409.0,24.3 412.0,24.1 414.0,24.0 417.0,23.6 420.0,23.2 422.0,22.3 421.0,21.2 419.0,20.1 417.5,19.0 419.2,18.0 421.9,17.0 423.9,16.0 425.0,14.0M410.0,15.0 411.7,16.0 413.3,17.0 414.9,19.0 412.8,20.0 410.7,21.0 408.7,22.0 406.6,23.0 404.0,23.3 402.0,22.8 400.0,21.8 400.0,19.8 401.5,18.0 401.0,15.5M463.0,31.0 461.0,32.0 459.0,33.2 456.0,33.7 454.0,32.9 452.0,31.6 450.6,30.0 449.4,28.0 448.0,26.4 446.0,25.0 444.0,24.3 442.0,24.0 439.0,23.9 437.0,24.1 434.0,24.8 432.0,25.8 430.2,27.0 428.4,28.0 426.1,29.0 424.0,29.7 422.0,30.4 419.5,31.0 417.5,32.0 419.0,33.2 422.0,33.4 425.0,33.5 428.0,33.8 430.0,34.1 433.0,35.0 434.5,36.0 435.8,38.0 437.0,39.2 440.0,40.0 442.0,40.1 444.4,40.0 447.0,39.8 450.0,39.6 453.0,39.2 455.0,38.7 457.0,37.7 459.0,36.7 462.0,36.6 465.0,36.7 468.0,36.7M350.3,52.0 350.0,50.0 347.4,49.0 345.0,48.7 343.9,50.0 345.0,51.7 347.0,52.5 350.0,52.1M431.2,67.0 433.2,66.0 435.0,64.2 435.1,62.0 434.0,61.0 432.0,59.5 430.0,58.1 428.4,57.0 427.0,56.0 425.0,54.7 423.7,53.0 424.0,51.0 423.6,49.0 421.0,48.9 419.0,49.7 417.4,51.0 419.0,52.3 421.0,53.2 422.8,55.0 422.0,57.7 421.3,60.0 420.8,62.0 420.9,65.0 422.0,66.0 424.3,67.0 427.0,67.5 430.0,67.3M299.0,68.5 301.2,68.0 303.1,67.0 304.2,65.0 305.2,63.0 308.0,62.2 311.0,62.1 314.0,62.2 317.0,62.5 320.0,62.9 322.0,63.2 325.0,63.8 327.0,64.5 328.6,66.0 329.0,68.9 330.0,70.6 332.0,71.2 335.0,71.3 337.9,71.0 340.0,70.6 343.0,70.0 345.0,69.6 348.0,69.1 350.0,68.7 352.7,68.0 355.0,67.5 358.0,67.7 360.0,68.8 361.9,70.0 364.0,71.0 366.0,71.7 367.7,73.0 368.4,75.0 370.0,76.5 372.0,77.4 375.0,77.9 377.4,78.0 380.0,78.3 382.0,79.2 383.1,81.0 382.7,83.0 381.0,84.7 379.0,85.5 377.0,86.1 374.6,87.0 372.7,88.0 370.8,89.0 368.7,90.0 366.0,90.8 364.0,91.0 362.0,90.8 359.0,90.2 357.0,89.7 354.0,89.4 351.0,89.8 349.0,90.4 346.8,91.0 344.0,91.4 341.0,91.5 338.0,91.9 336.0,92.7 334.0,93.7 332.0,94.5 330.0,95.1 327.0,95.6 324.0,96.0 322.0,96.1 319.3,96.0 317.2,95.0 317.0,92.8 315.6,91.0 313.0,90.4 310.0,90.8 308.1,92.0 308.0,93.0 310.0,94.4 312.0,95.7 312.0,97.1 310.0,98.5 308.5,100.0 309.0,102.8 310.4,104.0 313.0,104.7 315.8,104.0 318.0,103.6 321.0,103.4 324.0,103.6 326.5,104.0 329.0,104.5 331.0,105.0 334.0,105.9 336.0,106.5 338.0,107.1 341.0,107.4 343.0,106.8 345.0,105.6 347.0,104.0 348.0,103.0 349.6,101.0 351.0,99.9 353.0,98.9 356.0,98.1 358.0,97.7 361.0,97.4 364.0,97.3 366.8,97.0 369.0,96.6 372.0,96.1 374.0,95.8 377.0,95.5 380.0,95.1 382.0,94.6 384.1,94.0 387.0,93.0 389.0,92.5 392.0,92.5 394.5,93.0 397.0,93.8 399.0,94.5 401.0,95.3 403.0,96.3 404.0,98.8 404.6,101.0 406.0,102.8 407.4,104.0 409.0,105.4 410.3,107.0 411.0,109.7 411.0,111.0 409.0,112.2 406.0,112.7 403.0,112.7 400.0,112.2 398.0,111.6 396.0,110.5 395.0,109.0 393.8,107.0 392.0,105.8 389.0,105.0 387.0,105.0 385.0,105.2 382.0,105.8 380.0,106.5 378.0,107.1 375.0,107.5 372.0,107.3 369.8,108.0 368.0,109.3 366.5,111.0 365.7,113.0 365.2,116.0 363.7,117.0 361.0,117.2 359.0,117.0 356.0,116.6 353.0,116.4 350.0,116.6 348.0,117.0 345.0,117.7 342.0,117.4 340.8,116.0 339.6,114.0 338.0,112.0 336.0,111.7 333.0,111.7 330.0,111.8 328.0,112.0 325.0,112.7 323.0,113.4 321.0,114.4 319.0,115.6 317.4,117.0 317.0,118.8 318.0,120.0 320.0,121.1 322.0,122.7 321.5,124.0 320.0,125.3 318.0,126.7 316.0,127.5 314.0,128.1 311.0,129.0 309.0,129.5 307.0,130.1 304.3,131.0 303.0,132.3 303.0,134.5 303.4,137.0 303.3,140.0 302.1,142.0 301.3,144.0 304.0,144.7 307.0,144.3 309.0,143.7 311.0,143.0 313.2,142.0 315.7,141.0 318.0,140.7 320.0,141.6 321.0,143.4 321.7,146.0 321.0,148.3 319.7,150.0 318.0,152.0 317.0,153.1 315.0,154.4 312.0,154.6 309.0,154.4 306.0,154.4 303.0,155.0M356.0,177.0 358.0,175.8 361.0,175.2 364.0,175.0 367.0,175.3 369.0,176.1 370.8,178.0 372.0,179.4 373.8,181.0 375.2,182.0 377.0,183.4M463.1,68.0 465.9,67.0 468.0,66.3 470.0,65.8 472.6,65.0 474.4,64.0 476.0,63.0 478.0,61.9 480.1,61.0 482.7,60.0 484.1,59.0 483.0,57.4 481.0,56.5 479.0,56.0 476.0,55.6 473.0,55.5 470.0,55.7 468.0,56.1 466.0,57.0 464.0,58.7 462.1,60.0 460.0,60.8 458.0,61.2 455.0,61.6 452.0,61.9 450.0,62.3 449.0,63.3 451.0,64.7 453.0,65.6 455.0,66.5 457.0,67.4 459.0,68.1 462.0,68.3M283.0,90.6 285.0,89.6 287.0,88.7 289.8,88.0 292.0,87.6 294.5,87.0 297.0,86.1 299.0,85.2 301.0,84.0 302.1,83.0 302.0,80.8 300.0,79.2 298.3,78.0 297.0,76.6 295.3,75.0 293.0,74.2M290.8,78.0 290.0,80.0 288.0,81.0M344.3,85.0 346.2,84.0 345.0,82.2 343.0,81.4 341.0,81.0 338.1,81.0 336.0,81.7 336.0,84.0 338.0,84.8 340.0,85.1 343.0,85.2M421.0,89.0 418.0,89.4 415.0,89.0 413.3,88.0 413.0,86.6 415.0,85.0 417.0,84.4 419.0,84.0 422.0,84.0 424.0,84.6 424.3,87.0 423.0,88.1 421.0,89.0M520.9,115.0 520.4,118.0 520.0,120.0 518.0,121.3 515.0,121.4 513.0,120.7 511.0,119.0 510.0,117.0 510.6,116.0 512.1,115.0 514.0,113.6 515.2,112.0 516.0,109.9 516.0,107.1 514.0,106.5 511.0,106.2 508.0,106.2 505.0,106.2 502.0,106.2 499.1,106.0 497.0,105.6 495.0,104.9 493.0,103.5 491.8,102.0 491.4,99.0 492.5,97.0 494.0,95.7 496.0,94.8 499.0,94.3 502.0,94.1 504.0,93.8 506.9,93.0 509.0,92.2M295.4,101.0 297.0,99.9 299.0,98.4 300.7,97.0 302.0,95.3 302.0,93.8 299.2,93.0 298.0,93.0 295.0,93.7 293.0,94.6 291.0,95.7 289.0,97.0 288.0,98.4 288.2,100.0 290.0,101.1 293.0,102.0 295.4,101.0M421.0,126.0 419.0,125.4 417.4,124.0 416.9,122.0 418.0,120.0 418.2,118.0 417.8,116.0 418.2,114.0 419.9,112.0 420.0,110.0 419.8,108.0 420.5,106.0 422.2,105.0 425.0,104.7 427.0,105.1 429.2,106.0 432.0,107.0 434.0,107.2 437.0,107.1 439.0,106.7 441.8,106.0 444.0,105.5 447.0,105.4 450.0,106.0 452.0,106.4 455.0,106.9 458.0,106.6 460.0,105.2 461.0,103.4 461.3,101.0 460.0,99.9 457.0,99.4 454.0,99.2 452.0,98.9 449.5,98.0 448.0,96.8 448.0,94.8 450.4,94.0 453.0,93.6 456.0,93.3 459.0,93.1 462.0,93.2 465.0,93.9 467.0,94.4 469.0,95.2 471.0,96.1 473.0,97.6 474.4,99.0 476.0,100.7 477.4,102.0 478.5,104.0 478.0,106.3 477.0,108.4 476.0,110.9 475.0,112.0 473.0,113.4 471.0,114.2 468.0,114.7 465.0,114.8 462.0,114.8 459.0,115.0 457.0,115.3 454.4,116.0 452.0,117.0 450.0,117.9 448.0,118.6 445.0,118.8 442.6,119.0 440.0,119.5 438.0,120.0 436.0,121.0 434.0,122.4 432.0,123.4 429.6,124.0 427.0,124.6 425.0,125.2 422.0,126.0M371.0,104.0 370.0,102.0 368.0,101.5 366.8,103.0 368.0,104.2 371.0,104.0M281.0,131.2 284.0,131.5 287.0,131.8 290.0,131.8 293.0,131.5 295.5,131.0 297.9,130.0 298.6,128.0 298.0,125.9 296.7,124.0 295.1,122.0 294.0,120.0 293.9,118.0 295.0,116.0 296.0,115.0 298.0,113.7 300.0,112.7 302.0,111.9 304.8,111.0 307.0,110.9 309.0,111.2 312.0,111.8 315.0,112.0 318.0,111.2 318.0,109.8 316.0,108.0 314.2,107.0 312.0,106.3 309.2,107.0 307.0,107.6 304.0,107.2 302.0,106.2 300.0,105.1 298.0,104.2 296.0,103.4 293.0,103.6 291.2,105.0 289.7,106.0 288.0,107.0 285.7,108.0 283.0,108.9 281.0,109.5 279.0,110.7 279.6,112.0 281.4,113.0 283.8,114.0 286.0,114.8 288.0,115.9 287.8,117.0 285.0,117.7 283.0,118.0 280.0,118.3M393.0,124.1 390.0,124.0 388.8,123.0 387.4,121.0 386.4,119.0 385.0,118.0 382.8,117.0 381.2,115.0 382.4,113.0 385.0,112.5 387.2,113.0 388.1,115.0 389.0,117.8 391.0,118.5 393.0,119.0 395.6,120.0 396.0,122.0 394.8,123.0 393.0,124.1M340.0,130.0 337.0,130.1 335.0,129.7 333.0,128.8 331.2,127.0 330.1,125.0 329.4,123.0 331.0,121.7 333.3,121.0 336.0,120.4 338.0,120.0 341.0,119.3 343.7,120.0 345.0,121.1 347.0,122.9 348.0,124.0 349.3,126.0 349.0,128.3 346.8,129.0 344.0,129.5 341.0,129.9M399.0,178.4 396.0,178.8 393.0,178.6 391.0,177.1 390.0,175.9 388.0,174.2 386.3,173.0 385.2,171.0 387.0,169.4 389.0,168.5 390.4,167.0 388.7,166.0 386.0,165.1 384.0,164.3 382.1,163.0 382.0,161.8 383.3,160.0 383.0,157.7 381.0,156.1 379.0,155.5 376.0,155.9 375.1,158.0 376.5,160.0 377.3,162.0 375.0,162.7 373.0,163.0 370.9,163.0 368.0,162.0 366.6,161.0 364.0,160.3 361.0,160.8 361.0,162.8 362.0,164.1 362.0,166.0 360.5,168.0 359.5,170.0 358.7,172.0 357.0,173.7 355.0,174.2 352.8,174.0M349.9,171.0 350.7,169.0 350.4,166.0 351.3,164.0 353.0,162.5 354.7,161.0 353.0,159.0 351.0,158.2 349.0,157.7 346.0,157.2 344.0,156.7 341.6,156.0 340.0,154.8 339.4,152.0 338.2,150.0 337.0,149.0 335.1,147.0 334.5,145.0 333.8,143.0 332.0,141.4 330.4,140.0 329.0,138.2 328.0,136.7 326.0,135.1 324.0,134.0 322.6,133.0 321.2,131.0 322.4,129.0 325.0,128.7 327.9,129.0 330.0,129.6 332.0,130.7 334.0,131.2 337.0,131.5 339.0,132.2 340.8,134.0 340.3,137.0 340.7,140.0 342.8,141.0 345.0,141.3 348.0,141.2 350.0,140.8 352.8,140.0 355.0,139.1 356.3,138.0 355.0,136.7 353.1,135.0 352.0,133.3 352.0,131.0 354.0,130.3 357.0,130.8 359.0,131.5 361.0,132.3 363.2,133.0 366.0,133.4 368.8,133.0 371.0,132.4 373.0,131.8 375.7,131.0 378.0,130.5 380.9,131.0 381.5,133.0 381.0,135.0 379.3,137.0 377.9,138.0 376.0,139.4 374.7,141.0 373.5,143.0 372.5,145.0 373.0,147.1 375.0,148.1 378.0,148.7 381.0,149.0 383.0,149.0 385.0,149.0 388.0,148.8 391.0,148.1 392.7,147.0 394.0,145.5 395.0,144.0 396.8,142.0 398.2,141.0 400.7,140.0 403.0,139.6 406.0,139.0 408.0,138.3 410.0,137.8 413.0,137.0 414.5,136.0 415.4,134.0 417.0,132.3 419.0,131.2 421.0,130.9 423.0,131.5 425.0,132.7 426.7,134.0 428.3,135.0 431.0,136.0 433.0,136.6 435.0,137.1 437.5,138.0 439.6,139.0 441.7,140.0 444.0,140.8 446.0,141.1 448.7,141.0 451.0,140.7 454.0,140.5 457.0,140.7 459.0,141.0 462.0,141.2 464.0,141.0 465.0,139.4 463.0,138.4 461.0,137.9 458.0,137.6 455.0,137.4 453.0,136.9 450.6,136.0 449.0,135.0 448.2,132.0 448.2,129.0 447.4,127.0 447.7,124.0 450.0,123.0 452.0,122.9 454.3,123.0 457.0,123.3 459.9,124.0 461.9,125.0 463.5,126.0 465.5,127.0 468.0,127.6 471.0,127.9 474.0,127.6 477.0,127.2 479.0,126.9 482.0,126.5 485.0,126.1 487.0,125.7 490.0,125.9 491.2,127.0 492.0,129.0 493.0,131.4 494.4,133.0 496.0,134.1 498.4,134.0 500.1,133.0 502.0,132.0 504.2,131.0 506.7,130.0 509.0,129.1 511.0,128.5 514.0,128.1 517.0,128.1 520.0,128.4M400.0,136.7 397.0,136.4 395.3,135.0 394.0,133.4 392.9,132.0 391.2,130.0 390.2,128.0 392.0,126.3 395.0,126.7 397.0,127.2 399.4,128.0 401.2,129.0 402.3,131.0 401.6,133.0 401.0,135.0M519.0,136.2 517.7,138.0 519.0,139.5M497.5,145.0 499.0,143.4 501.0,142.1 502.2,141.0 502.0,138.5 500.0,137.1 498.0,136.2 496.0,137.6 494.7,139.0 493.0,140.2 490.0,141.0 487.0,140.8 484.0,140.3 481.0,140.3 479.2,142.0 480.0,144.1 482.0,145.5M434.4,157.0 436.0,156.0 438.0,154.2 440.0,153.4 443.0,153.1 446.0,153.1 449.0,153.2 452.0,153.0 454.0,152.4 456.0,151.2 456.3,149.0 455.0,147.8 453.0,147.0 450.0,146.5 447.0,146.5 444.0,146.8 442.0,147.0 439.0,147.3 436.0,147.4 433.2,147.0 431.0,146.0 429.4,145.0 427.9,144.0 426.0,142.5 424.5,141.0 423.2,139.0 421.2,138.0 419.0,137.8 418.0,139.0 419.0,140.9 419.0,142.2 418.0,144.2 416.4,146.0 415.0,147.6 416.0,148.9 418.0,149.9 419.5,151.0 421.0,152.5 422.6,154.0 424.0,155.2 426.0,156.3 428.2,157.0 431.0,157.4 434.0,157.1M321.3,158.0 324.0,157.3 327.0,157.1 330.0,157.9M421.0,167.8 418.0,167.4 415.0,167.1 412.0,167.0 409.0,167.2 406.8,168.0 406.7,171.0 408.0,172.9 409.1,174.0" fill="none" stroke="#16163a" stroke-width="1.8" stroke-linejoin="round" opacity="0.4"/></g>
<path d="M279.0,100.0 C279.4,96.7 280.2,95.2 281.0,93.0 C281.8,90.8 282.0,89.5 283.5,87.0 C285.0,84.5 287.7,81.5 290.2,77.7 C292.7,73.9 295.6,68.4 298.7,64.2 C301.8,60.0 304.9,56.0 308.8,52.3 C312.7,48.6 317.2,45.3 322.3,42.2 C327.4,39.1 333.6,36.4 339.2,33.7 C344.8,31.0 351.0,28.2 356.1,26.1 C361.2,24.0 364.9,22.4 369.7,21.1 C374.5,19.8 380.4,19.4 384.9,18.5 C389.4,17.6 393.3,16.9 396.7,16.0 C400.1,15.1 402.0,13.2 405.1,13.1 C408.2,13.0 412.8,15.2 415.3,15.2 C417.9,15.2 418.1,13.5 420.4,13.1 C422.6,12.7 425.7,12.1 428.8,12.6 C431.9,13.1 435.6,14.2 439.0,16.0 C442.4,17.8 446.0,21.6 449.1,23.6 C452.2,25.6 454.8,26.4 457.6,27.8 C460.4,29.2 463.5,30.2 466.0,32.0 C468.5,33.8 470.6,36.0 472.8,38.8 C475.1,41.6 476.7,45.6 479.5,49.0 C482.3,52.4 486.9,56.0 489.7,59.1 C492.5,62.2 494.7,64.8 496.4,67.6 C498.1,70.4 498.1,72.9 499.8,76.0 C501.5,79.1 504.4,82.4 506.6,86.1 C508.9,89.8 511.3,94.7 513.3,98.0 C515.3,101.3 516.9,103.5 518.4,106.0 C519.9,108.5 521.1,109.7 522.0,113.0 C522.9,116.3 524.2,121.1 523.7,126.0 C523.2,130.9 521.2,138.8 518.8,142.3 C516.3,145.8 512.2,146.6 509.0,147.1 C505.8,147.6 503.6,145.8 499.3,145.5 C495.0,145.2 488.9,144.9 483.0,145.5 C477.1,146.1 470.1,146.6 463.6,148.8 C457.1,151.0 450.0,155.8 444.0,158.5 C438.0,161.2 433.2,162.6 427.8,165.0 C422.4,167.4 416.9,170.4 411.5,173.1 C406.1,175.8 400.2,179.3 395.3,181.3 C390.4,183.3 387.2,184.9 382.3,185.2 C377.4,185.5 370.9,184.4 366.0,182.9 C361.1,181.4 356.1,179.1 353.0,176.4 C349.9,173.7 348.0,169.8 347.2,166.6 C346.4,163.3 349.3,158.2 348.1,156.9 C346.9,155.6 343.5,158.1 340.0,158.5 C336.5,158.9 332.4,159.8 327.0,159.5 C321.6,159.2 312.9,158.2 307.5,156.9 C302.1,155.7 298.3,154.4 294.5,152.0 C290.7,149.6 287.2,146.1 284.8,142.3 C282.4,138.5 281.0,134.2 279.9,129.3 C278.8,124.4 278.4,117.9 278.3,113.0 C278.2,108.1 278.6,103.3 279.0,100.0Z" fill="none" stroke="#10102a" stroke-width="5" opacity="0.22" filter="url(#bsh)"/>
</g>
<path d="M279.0,100.0 C279.4,96.7 280.2,95.2 281.0,93.0 C281.8,90.8 282.0,89.5 283.5,87.0 C285.0,84.5 287.7,81.5 290.2,77.7 C292.7,73.9 295.6,68.4 298.7,64.2 C301.8,60.0 304.9,56.0 308.8,52.3 C312.7,48.6 317.2,45.3 322.3,42.2 C327.4,39.1 333.6,36.4 339.2,33.7 C344.8,31.0 351.0,28.2 356.1,26.1 C361.2,24.0 364.9,22.4 369.7,21.1 C374.5,19.8 380.4,19.4 384.9,18.5 C389.4,17.6 393.3,16.9 396.7,16.0 C400.1,15.1 402.0,13.2 405.1,13.1 C408.2,13.0 412.8,15.2 415.3,15.2 C417.9,15.2 418.1,13.5 420.4,13.1 C422.6,12.7 425.7,12.1 428.8,12.6 C431.9,13.1 435.6,14.2 439.0,16.0 C442.4,17.8 446.0,21.6 449.1,23.6 C452.2,25.6 454.8,26.4 457.6,27.8 C460.4,29.2 463.5,30.2 466.0,32.0 C468.5,33.8 470.6,36.0 472.8,38.8 C475.1,41.6 476.7,45.6 479.5,49.0 C482.3,52.4 486.9,56.0 489.7,59.1 C492.5,62.2 494.7,64.8 496.4,67.6 C498.1,70.4 498.1,72.9 499.8,76.0 C501.5,79.1 504.4,82.4 506.6,86.1 C508.9,89.8 511.3,94.7 513.3,98.0 C515.3,101.3 516.9,103.5 518.4,106.0 C519.9,108.5 521.1,109.7 522.0,113.0 C522.9,116.3 524.2,121.1 523.7,126.0 C523.2,130.9 521.2,138.8 518.8,142.3 C516.3,145.8 512.2,146.6 509.0,147.1 C505.8,147.6 503.6,145.8 499.3,145.5 C495.0,145.2 488.9,144.9 483.0,145.5 C477.1,146.1 470.1,146.6 463.6,148.8 C457.1,151.0 450.0,155.8 444.0,158.5 C438.0,161.2 433.2,162.6 427.8,165.0 C422.4,167.4 416.9,170.4 411.5,173.1 C406.1,175.8 400.2,179.3 395.3,181.3 C390.4,183.3 387.2,184.9 382.3,185.2 C377.4,185.5 370.9,184.4 366.0,182.9 C361.1,181.4 356.1,179.1 353.0,176.4 C349.9,173.7 348.0,169.8 347.2,166.6 C346.4,163.3 349.3,158.2 348.1,156.9 C346.9,155.6 343.5,158.1 340.0,158.5 C336.5,158.9 332.4,159.8 327.0,159.5 C321.6,159.2 312.9,158.2 307.5,156.9 C302.1,155.7 298.3,154.4 294.5,152.0 C290.7,149.6 287.2,146.1 284.8,142.3 C282.4,138.5 281.0,134.2 279.9,129.3 C278.8,124.4 278.4,117.9 278.3,113.0 C278.2,108.1 278.6,103.3 279.0,100.0Z" fill="none" stroke="#1a1a2e" stroke-width="0.9" opacity="0.8"/>
<clipPath id="cmd"><path d="M528.1,113.0 C528.4,108.7 528.9,109.2 530.1,106.4 C531.3,103.6 533.2,100.2 535.2,96.3 C537.2,92.4 539.8,87.3 542.0,82.8 C544.2,78.3 546.2,73.2 548.7,69.2 C551.2,65.2 554.1,63.0 557.2,59.1 C560.3,55.2 563.9,49.8 567.3,45.6 C570.7,41.4 574.1,36.5 577.5,33.7 C580.9,30.9 584.5,30.7 587.6,28.7 C590.7,26.7 592.7,24.2 596.1,21.9 C599.5,19.6 604.2,16.6 607.9,15.1 C611.5,13.6 614.6,12.6 618.0,12.6 C621.4,12.6 624.5,14.8 628.2,15.1 C631.9,15.4 635.5,13.5 640.0,14.2 C644.5,14.9 649.5,18.2 655.1,19.3 C660.7,20.4 667.7,19.8 673.6,21.0 C679.5,22.2 684.7,24.4 690.3,26.8 C695.9,29.2 701.5,32.1 707.1,35.2 C712.7,38.3 718.9,42.2 723.9,45.3 C728.9,48.4 733.4,50.4 737.3,53.7 C741.2,57.1 744.0,61.2 747.4,65.4 C750.8,69.6 754.6,74.3 757.4,78.8 C760.2,83.3 762.7,87.7 764.2,92.2 C765.8,96.7 766.2,101.1 766.7,105.7 C767.2,110.3 767.6,116.1 767.5,120.0 C767.4,123.9 767.4,124.9 766.1,129.1 C764.8,133.3 762.8,141.2 759.6,145.3 C756.4,149.4 752.1,151.5 746.7,153.4 C741.3,155.3 733.8,156.4 727.3,156.7 C720.8,157.0 712.4,153.9 707.8,155.0 C703.2,156.1 701.6,159.8 699.7,163.1 C697.8,166.3 698.4,171.2 696.5,174.5 C694.6,177.8 692.4,180.9 688.4,182.6 C684.4,184.3 677.1,185.1 672.2,184.8 C667.3,184.5 663.5,183.0 659.2,181.0 C654.9,179.0 651.1,175.3 646.3,172.9 C641.4,170.5 637.1,168.8 630.1,166.4 C623.1,164.0 612.8,161.3 604.2,158.3 C595.6,155.3 585.8,150.8 578.3,148.6 C570.8,146.4 564.8,145.6 558.9,145.3 C553.0,145.0 547.0,147.3 542.7,147.0 C538.4,146.7 535.4,146.1 533.0,143.7 C530.6,141.3 528.9,137.5 528.1,132.4 C527.3,127.3 527.8,117.3 528.1,113.0Z"/></clipPath>
<path d="M528.1,113.0 C528.4,108.7 528.9,109.2 530.1,106.4 C531.3,103.6 533.2,100.2 535.2,96.3 C537.2,92.4 539.8,87.3 542.0,82.8 C544.2,78.3 546.2,73.2 548.7,69.2 C551.2,65.2 554.1,63.0 557.2,59.1 C560.3,55.2 563.9,49.8 567.3,45.6 C570.7,41.4 574.1,36.5 577.5,33.7 C580.9,30.9 584.5,30.7 587.6,28.7 C590.7,26.7 592.7,24.2 596.1,21.9 C599.5,19.6 604.2,16.6 607.9,15.1 C611.5,13.6 614.6,12.6 618.0,12.6 C621.4,12.6 624.5,14.8 628.2,15.1 C631.9,15.4 635.5,13.5 640.0,14.2 C644.5,14.9 649.5,18.2 655.1,19.3 C660.7,20.4 667.7,19.8 673.6,21.0 C679.5,22.2 684.7,24.4 690.3,26.8 C695.9,29.2 701.5,32.1 707.1,35.2 C712.7,38.3 718.9,42.2 723.9,45.3 C728.9,48.4 733.4,50.4 737.3,53.7 C741.2,57.1 744.0,61.2 747.4,65.4 C750.8,69.6 754.6,74.3 757.4,78.8 C760.2,83.3 762.7,87.7 764.2,92.2 C765.8,96.7 766.2,101.1 766.7,105.7 C767.2,110.3 767.6,116.1 767.5,120.0 C767.4,123.9 767.4,124.9 766.1,129.1 C764.8,133.3 762.8,141.2 759.6,145.3 C756.4,149.4 752.1,151.5 746.7,153.4 C741.3,155.3 733.8,156.4 727.3,156.7 C720.8,157.0 712.4,153.9 707.8,155.0 C703.2,156.1 701.6,159.8 699.7,163.1 C697.8,166.3 698.4,171.2 696.5,174.5 C694.6,177.8 692.4,180.9 688.4,182.6 C684.4,184.3 677.1,185.1 672.2,184.8 C667.3,184.5 663.5,183.0 659.2,181.0 C654.9,179.0 651.1,175.3 646.3,172.9 C641.4,170.5 637.1,168.8 630.1,166.4 C623.1,164.0 612.8,161.3 604.2,158.3 C595.6,155.3 585.8,150.8 578.3,148.6 C570.8,146.4 564.8,145.6 558.9,145.3 C553.0,145.0 547.0,147.3 542.7,147.0 C538.4,146.7 535.4,146.1 533.0,143.7 C530.6,141.3 528.9,137.5 528.1,132.4 C527.3,127.3 527.8,117.3 528.1,113.0Z" fill="#38468f"/>
<g clip-path="url(#cmd)">
<g filter="url(#bp)">
<path d="M600.0,20.0 606.1,20.2 608.0,20.5 613.9,17.5 617.4,19.5 620.5,20.0 624.8,18.2 629.0,17.7 632.0,15.6 639.4,16.0 640.5,14.1 645.1,14.7 650.0,16.0 656.1,18.4 657.5,21.0 663.7,19.1 663.7,23.4 669.2,19.9 676.2,25.9 680.8,24.8 684.0,26.4 688.4,26.8 691.8,27.6 694.9,28.5 700.0,30.0 701.3,32.1 705.5,33.1 710.2,38.3 714.4,37.0 715.5,42.2 718.8,43.1 724.0,44.4 726.8,46.2 730.0,50.0 728.3,55.4 728.0,60.0 721.9,60.3 719.5,60.2 715.6,61.0 711.3,58.6 707.0,59.5 702.7,58.7 697.6,57.6 692.5,60.3 690.0,58.0 684.5,57.0 681.1,58.7 677.6,58.9 673.2,57.5 669.0,59.6 664.6,57.2 662.8,57.1 657.8,56.2 654.1,56.0 650.0,56.0 647.2,58.7 641.3,54.4 637.9,59.1 633.0,58.0 632.0,55.3 626.7,58.0 621.5,55.8 617.3,54.8 613.2,54.5 610.0,56.0 606.0,53.9 602.3,51.7 598.4,53.4 591.6,51.6 590.0,50.0 592.9,44.3 594.9,41.9 593.4,37.1 596.4,32.9 597.8,27.5 598.8,22.6Z" fill="#38468f"/>
<path d="M616.0,16.0 620.5,13.9 624.5,15.5 630.0,13.0 635.3,14.2 636.7,13.6 643.5,14.7 646.0,15.0 650.4,20.5 649.6,24.6 651.0,30.0 650.4,33.8 650.3,39.1 647.8,40.4 648.0,46.0 641.8,48.6 638.7,47.4 636.0,52.0 631.8,54.3 626.7,51.7 622.0,50.0 620.4,44.9 619.8,39.7 617.0,35.0 617.1,30.6 615.7,26.7 616.0,19.8Z" fill="#16a192"/>
<path d="M571.0,44.0 576.4,41.9 580.5,42.0 586.6,41.6 590.0,40.0 592.3,44.3 596.3,47.3 597.0,50.0 596.0,52.4 593.7,57.6 594.0,62.0 589.3,61.8 586.1,62.6 581.9,62.6 578.0,62.0 576.3,55.1 573.4,52.8 571.3,49.2Z" fill="#47227e"/>
<path d="M597.0,63.0 603.1,64.3 605.3,64.4 610.1,62.0 613.5,61.8 618.0,62.2 623.0,61.8 627.6,63.0 632.5,59.6 632.6,62.3 640.0,61.0 642.5,60.9 646.9,59.2 653.1,62.4 656.0,58.6 660.2,62.3 663.2,62.2 669.1,62.9 673.5,61.2 678.9,62.3 681.6,61.5 685.3,61.8 690.0,63.0 693.9,65.4 696.6,61.7 704.1,63.7 705.6,65.6 709.8,66.9 715.5,64.4 721.4,64.6 723.8,66.0 727.0,66.0 731.2,71.1 732.2,71.5 735.4,74.8 739.8,79.0 740.0,82.0 740.4,86.2 740.1,88.8 744.0,93.2 742.2,98.6 745.7,102.9 746.3,105.1 746.0,110.0 744.3,116.1 745.6,118.3 747.6,123.5 746.5,129.7 745.2,132.5 746.1,136.0 746.0,140.0 743.8,142.6 738.6,145.3 733.6,145.0 730.0,148.0 725.9,142.0 726.9,139.5 721.3,136.9 719.2,134.6 716.0,130.0 717.7,125.1 717.1,122.0 717.7,119.4 719.3,114.2 720.1,110.6 720.0,105.0 718.2,99.7 716.5,96.7 713.4,94.5 712.0,90.0 709.1,88.4 703.6,88.8 699.1,88.3 695.1,81.5 690.0,82.0 686.9,82.1 683.5,82.0 677.8,79.3 673.7,79.4 669.3,80.7 668.0,80.1 660.6,79.7 659.4,78.1 653.8,78.4 650.0,78.0 645.1,79.0 641.9,79.0 636.9,78.2 634.9,78.6 632.1,78.8 626.3,80.6 620.3,77.6 618.0,80.0 611.7,83.0 608.3,86.1 603.8,84.7 600.0,86.0 599.2,84.4 597.1,79.5 592.0,74.0 594.9,71.0 596.3,66.0Z" fill="#47227e"/>
<path d="M672.0,132.0 675.0,131.4 679.8,130.3 684.8,131.4 688.1,131.5 690.6,128.9 695.1,126.3 700.0,128.0 702.9,130.9 707.8,134.8 707.8,139.2 712.0,140.0 711.7,144.4 708.2,146.3 706.3,152.6 705.0,155.0 703.3,157.1 696.4,154.1 693.2,153.5 689.4,155.6 685.0,156.0 680.1,151.4 676.9,150.0 672.0,148.0 670.6,140.6 672.0,142.1 674.0,135.5Z" fill="#452781"/>
<path d="M555.0,60.0 558.3,60.2 561.8,59.6 567.9,60.3 570.9,58.2 575.0,58.0 578.3,57.8 583.5,60.0 589.3,59.4 594.4,60.9 597.0,62.0 597.2,65.6 594.6,72.1 598.6,75.2 598.0,80.0 594.1,83.6 590.0,86.0 584.1,85.0 583.0,83.7 578.4,83.2 574.6,84.4 570.0,84.0 563.4,83.4 559.8,79.0 556.0,78.0 556.0,74.9 554.3,69.1 555.8,65.3Z" fill="#286e95"/>
<path d="M727.0,50.0 730.8,51.6 733.2,54.1 736.5,52.5 741.9,59.1 745.0,60.0 744.8,62.4 750.9,69.7 752.8,69.9 755.2,76.0 758.0,78.0 758.6,81.4 760.2,85.7 762.3,93.1 764.0,95.3 765.0,100.0 764.8,102.5 766.5,108.7 765.4,117.0 766.2,116.7 766.0,122.0 761.8,125.4 758.8,124.3 755.0,128.0 754.1,123.6 753.2,122.1 748.5,118.7 747.1,114.6 745.0,110.0 744.4,104.8 741.9,102.9 741.1,97.0 739.2,93.8 741.6,87.9 738.0,85.0 735.5,82.4 732.9,77.0 729.2,72.8 728.0,68.0 727.5,64.7 728.9,62.1 727.9,54.9Z" fill="#227c96"/>
<path d="M538.0,72.0 542.9,69.6 547.7,67.6 552.0,66.0 557.2,70.6 562.0,72.0 560.8,77.4 563.6,79.9 559.5,83.3 563.6,88.0 562.0,92.0 556.1,92.7 553.7,95.3 548.0,96.0 543.7,94.2 539.5,92.2 536.0,92.0 538.3,87.6 538.3,85.8 538.4,79.5 538.1,76.0Z" fill="#31c574"/>
<path d="M530.0,92.0 533.9,91.7 538.6,92.1 545.0,90.0 548.7,90.7 553.8,90.7 558.5,90.9 562.0,92.0 567.4,93.1 570.8,99.7 575.0,100.0 576.8,103.2 581.6,108.2 584.0,112.0 589.1,114.6 594.1,117.3 598.0,118.0 603.2,119.0 608.1,122.9 612.0,122.0 614.8,124.8 618.0,130.0 615.3,133.4 610.0,137.0 602.9,137.3 600.4,135.4 596.9,135.0 592.0,134.0 588.2,132.1 583.3,131.0 578.0,130.0 575.9,135.7 572.0,140.0 566.6,142.8 562.9,144.0 559.7,146.7 555.0,146.0 550.5,145.6 546.5,145.6 543.2,144.1 538.0,146.0 533.7,141.4 533.1,141.4 529.0,136.0 528.5,131.8 528.4,129.4 526.9,124.3 528.8,120.6 527.6,117.2 527.0,112.0 524.4,108.8 527.4,101.8 529.4,101.6 529.2,97.1Z" fill="#ffe923"/>
<path d="M574.0,128.0 580.6,129.6 585.3,128.9 588.0,128.0 589.1,130.1 590.0,136.0 585.0,135.7 583.3,137.1 576.0,138.0 575.1,133.7Z" fill="#31c574"/>
<path d="M665.0,152.0 669.3,153.5 672.8,151.2 676.9,148.9 682.0,150.0 685.0,152.0 689.0,153.2 691.6,155.9 697.0,158.0 695.7,162.9 698.1,164.3 698.1,169.1 699.0,174.0 696.4,178.6 690.7,180.1 690.0,183.0 685.3,184.1 681.3,182.6 676.1,182.8 672.0,184.0 671.3,180.5 670.3,176.9 665.1,171.7 664.0,170.0 662.1,163.6 664.8,161.6 662.9,157.6Z" fill="#198c95"/>
<path d="M636.0,154.0 640.2,153.7 647.4,154.1 649.9,151.4 655.0,152.0 656.8,153.1 663.4,154.8 668.0,158.0 667.8,163.6 668.0,169.0 663.2,168.5 659.2,170.0 653.2,171.4 650.0,170.0 645.2,168.0 641.5,166.3 636.0,164.0 637.1,159.3Z" fill="#47227e"/>
</g>
<g filter="url(#bs)"><path d="M590.0,95.0 C592.5,91.7 598.3,80.5 605.0,75.0 C611.7,69.5 619.2,64.5 630.0,62.0 C640.8,59.5 657.5,59.3 670.0,60.0 C682.5,60.7 694.2,61.8 705.0,66.0 C715.8,70.2 727.8,77.7 735.0,85.0 C742.2,92.3 746.3,101.7 748.0,110.0 C749.7,118.3 745.5,130.8 745.0,135.0" fill="none" stroke="#16163a" stroke-width="1.4" stroke-linecap="round" opacity="0.45"/>
<path d="M585.0,50.0 C583.3,53.3 578.3,63.3 575.0,70.0 C571.7,76.7 567.5,83.3 565.0,90.0 C562.5,96.7 560.8,106.7 560.0,110.0" fill="none" stroke="#16163a" stroke-width="1.4" stroke-linecap="round" opacity="0.45"/>
<path d="M530.0,118.0 C533.3,118.3 542.5,118.8 550.0,120.0 C557.5,121.2 566.7,123.7 575.0,125.0 C583.3,126.3 595.8,127.5 600.0,128.0" fill="none" stroke="#16163a" stroke-width="1.4" stroke-linecap="round" opacity="0.45"/>
<path d="M560.0,140.0 C566.7,141.3 586.7,145.5 600.0,148.0 C613.3,150.5 633.3,153.8 640.0,155.0" fill="none" stroke="#16163a" stroke-width="1.4" stroke-linecap="round" opacity="0.45"/>
<path d="M615.0,25.0 C614.5,28.3 612.8,39.2 612.0,45.0 C611.2,50.8 610.3,57.5 610.0,60.0" fill="none" stroke="#16163a" stroke-width="1.4" stroke-linecap="round" opacity="0.45"/>
<path d="M650.0,25.0 C652.5,27.5 661.7,35.0 665.0,40.0 C668.3,45.0 669.2,52.5 670.0,55.0" fill="none" stroke="#16163a" stroke-width="1.4" stroke-linecap="round" opacity="0.45"/>
<path d="M700.0,40.0 C703.3,43.3 714.2,53.3 720.0,60.0 C725.8,66.7 732.5,76.7 735.0,80.0" fill="none" stroke="#16163a" stroke-width="1.4" stroke-linecap="round" opacity="0.45"/>
<path d="M720.0,130.0 C723.3,131.7 734.2,138.3 740.0,140.0 C745.8,141.7 752.5,140.0 755.0,140.0" fill="none" stroke="#16163a" stroke-width="1.4" stroke-linecap="round" opacity="0.45"/>
<path d="M668.0,20.8 665.9,21.0 663.4,22.0 664.2,24.0 664.0,26.8 662.0,27.5 659.7,28.0 657.0,28.3 654.0,28.4 651.0,28.5 648.0,28.5 645.0,28.3 642.8,28.0 640.0,27.3 638.0,26.6 636.0,25.6 634.0,24.4 632.0,23.2 630.0,22.3 628.0,21.5 626.0,20.8 623.3,20.0 621.0,19.4 619.0,18.8 616.1,18.0 614.0,17.4 612.0,16.7 610.0,15.8M571.9,41.0 573.2,42.0 575.0,43.6 576.5,45.0 578.0,46.3 580.0,47.3 583.0,48.0 584.3,48.0 587.0,47.6 589.0,46.9 591.0,45.6 593.0,44.1 594.5,43.0 596.0,41.9 598.0,40.6 600.0,39.5 602.0,38.8 605.0,38.2 608.0,38.2 611.0,38.6 613.0,39.3 615.0,40.4 616.8,42.0 618.0,43.2 620.0,45.0 621.2,46.0 623.0,47.2 625.0,48.3 627.0,49.2 629.4,50.0 632.0,50.7 634.0,51.2 637.0,51.9 639.0,52.4 641.0,53.0 643.3,54.0 645.1,55.0 647.0,56.5 648.4,58.0 649.6,60.0 650.7,62.0 652.0,63.5 654.0,64.4 657.0,64.3 659.0,63.9 662.0,63.3 664.4,63.0 667.0,63.0 669.0,63.3 671.0,64.0 673.0,65.1 675.0,66.3 677.0,67.4 679.0,68.4 681.0,69.3 683.4,70.0 686.0,70.6 688.0,71.0 691.0,71.6 693.6,72.0 695.5,73.0 694.3,75.0 693.5,77.0 694.0,79.7 695.9,81.0 698.0,81.5 701.0,81.8 704.0,81.5 706.0,80.9 707.8,79.0 707.0,76.3 705.6,75.0 703.8,74.0 701.0,73.0 699.0,72.2 699.1,71.0 701.0,69.8 703.0,68.8 705.0,67.9 707.2,67.0 709.8,66.0 712.0,65.1 714.0,64.3 716.0,63.4 718.0,62.7 720.0,61.9 723.0,61.0 725.0,60.4 727.0,59.9 730.0,59.0 732.0,58.3 734.0,57.5 736.0,56.5 738.0,55.2M698.0,53.0 695.0,53.1 692.0,53.2 689.0,53.2 686.0,53.2 683.0,53.1 681.0,53.0 678.0,52.3 676.0,51.0 675.0,49.3 674.5,47.0 675.0,44.5 676.1,43.0 678.0,41.8 681.0,41.1 683.0,40.9 686.0,40.9 688.0,41.0 691.0,41.1 694.0,41.1 697.0,41.0 699.0,41.0 702.0,40.9 705.0,41.0 707.0,41.2 710.0,41.6 712.4,42.0 715.0,42.6 717.3,43.0 720.0,43.6M723.5,46.0 721.0,46.6 719.0,47.3 717.0,48.1 714.8,49.0 712.4,50.0 710.0,50.9 708.0,51.5 706.0,52.1 703.0,52.6 700.0,52.9 698.0,53.0M630.0,67.0 630.0,64.9 628.0,63.0 626.2,62.0 624.0,61.3 621.0,61.1 618.2,62.0 617.0,63.7 617.3,65.0 619.0,66.4 621.0,67.2 624.0,67.8 627.0,68.0 630.0,67.0M754.8,76.0 753.2,78.0 752.0,79.9 751.0,81.4 749.7,83.0 748.0,84.6 746.0,85.9 744.0,86.8 742.0,87.4 739.0,87.9 737.0,88.2 734.0,88.6 731.7,89.0 729.0,89.7 727.0,90.6 725.1,92.0 724.0,93.1 722.3,95.0 721.0,96.4 719.4,98.0 718.0,99.2 716.0,100.7 714.2,102.0 712.8,103.0 711.0,104.2 709.0,105.5 707.0,106.6 705.0,107.7 703.0,108.5 701.0,109.0 698.0,109.3 695.5,109.0 693.0,108.1 691.2,107.0 689.9,106.0 688.0,104.2 686.9,103.0 685.4,101.0 684.1,99.0 683.0,97.1 682.0,95.0 681.4,93.0 681.2,90.0 681.2,87.0 681.0,85.0 679.8,83.0 678.0,81.5 676.0,80.2 674.0,79.1 672.1,78.0 670.2,77.0 668.2,76.0 666.0,75.0 664.0,74.2 662.0,73.5 660.0,72.8 657.1,72.0 655.0,71.5 652.0,71.5 650.0,72.1 648.0,73.2 646.1,75.0 645.0,76.6 644.1,79.0 643.8,81.0 644.0,83.6 644.1,86.0 643.4,88.0 642.0,89.1 639.4,90.0 637.0,90.3 634.0,90.3 631.7,90.0 629.0,89.4 627.0,89.0 624.0,88.7 621.3,89.0 619.7,90.0 620.0,92.4 621.4,94.0 623.0,95.7 624.0,97.0 625.3,99.0 626.1,101.0 626.0,103.0 624.0,105.0 622.1,106.0 620.0,107.0 618.0,107.9 616.0,108.8 614.0,109.7 612.0,110.5 610.0,111.3 607.7,112.0 605.0,112.5 602.0,112.6 599.0,112.3 597.0,111.8 594.1,111.0 592.0,110.4 590.0,109.8 587.2,109.0 585.0,108.3 583.0,107.7 580.8,107.0 578.5,106.0 577.0,105.0 575.7,103.0 575.4,100.0 575.0,97.1 574.0,95.0 573.0,93.8 571.0,92.3 569.0,91.4 566.0,91.1 563.0,91.8 561.0,92.5 559.0,93.3 557.0,94.1 554.0,95.0 552.0,95.4 549.0,95.9 546.0,95.7 544.2,94.0 545.6,92.0 547.0,90.7 549.0,89.0 550.2,88.0 552.0,86.4 553.2,85.0 554.1,83.0 553.0,81.4 551.0,80.4 549.0,79.9 546.0,79.8 543.6,80.0M764.0,102.6 761.4,102.0 759.2,101.0 758.0,100.0 758.0,97.1 759.5,96.0 762.0,95.1 764.0,94.8M655.0,112.1 652.0,112.8 649.0,113.0 646.0,112.5 644.0,111.9 642.0,110.9 640.0,109.1 639.2,107.0 640.7,105.0 642.6,104.0 645.0,103.2 647.0,102.7 650.0,102.4 653.0,102.7 655.0,103.3 657.0,104.2 659.0,105.9 659.6,108.0 658.6,110.0 657.0,111.2 655.0,112.1M532.0,105.3 535.0,105.6 537.0,106.1 540.0,106.9 542.0,107.7 544.0,108.6 546.0,109.5 548.0,110.5 550.0,111.5 552.0,112.9 552.0,114.0 550.0,115.2 547.9,116.0 545.0,116.9 543.0,117.5 541.0,118.1 538.0,118.9 536.0,119.5 533.7,120.0 531.0,120.6M529.0,127.4 532.0,127.8 534.0,128.1 537.0,128.6 540.0,129.0 541.3,129.0 544.0,128.8 547.0,128.1 549.0,127.5 551.0,126.8 554.0,126.0 556.0,125.7 559.0,125.6 561.6,126.0 564.0,126.5 566.0,127.1 568.9,128.0 571.0,128.8 573.0,129.6 575.0,130.8 576.3,132.0 576.9,135.0 576.0,137.0 574.6,139.0 573.0,141.0 572.0,142.0 570.0,143.9 568.5,145.0 566.9,146.0M591.2,151.0 592.6,149.0 593.7,147.0 594.3,145.0 594.3,142.0 594.0,139.8 593.8,137.0 594.4,135.0 596.0,133.1 598.0,132.0 600.0,131.4 603.0,131.1 606.0,131.1 609.0,131.5 611.6,132.0 614.0,132.5 616.1,133.0 619.0,133.5 622.0,133.9 624.1,134.0 627.0,134.0 629.2,134.0 632.0,133.9 635.0,133.8 638.0,133.7 641.0,134.0 643.0,134.8 644.4,136.0 646.0,137.5 647.8,139.0 649.6,140.0 652.0,140.9 654.0,141.4 657.0,141.7 660.0,141.6 663.0,141.2 665.0,140.7 667.2,140.0 669.6,139.0 671.6,138.0 673.3,137.0 675.0,135.9 677.0,134.5 679.0,133.2 681.0,132.1 683.0,131.1 685.0,130.2 687.0,129.2 689.0,128.2 691.0,127.2 693.0,126.2 695.0,125.1 697.0,124.1 699.0,123.2 701.0,122.2 703.0,121.3 705.0,120.3 707.0,119.4 709.0,118.4 711.0,117.4 713.0,116.5 715.0,115.9 718.0,115.5 721.0,115.4 724.0,115.5 727.0,115.7 730.0,115.9 733.0,115.9 736.0,115.8 739.0,115.3 741.0,114.9 744.0,114.4 747.0,114.0 749.0,114.0 751.0,114.1 754.0,114.5 756.1,115.0 758.7,116.0 760.4,117.0 761.8,119.0 760.4,121.0 758.0,122.0 756.0,122.4 753.0,122.7 750.0,122.7 747.0,122.6 744.0,122.3 741.0,122.3 738.0,122.7 736.0,123.3 734.0,124.3 732.0,125.7 730.4,127.0 729.0,128.3 727.5,130.0 726.0,131.9 725.0,133.2 723.5,135.0 722.0,136.4 720.0,137.6 718.0,138.5 716.0,139.3 713.9,140.0 711.5,141.0 710.0,142.0 708.7,144.0 708.7,147.0 708.6,150.0 707.7,152.0 706.0,153.9 704.3,155.0 702.0,156.0 700.0,156.7 698.0,157.2 695.0,157.8 693.0,158.2 690.0,158.6 687.0,158.9 684.0,159.0 681.0,158.8 678.0,158.3 676.0,157.8 673.4,157.0 671.0,156.2 669.0,155.5 667.0,154.8 664.8,154.0 662.0,153.1 660.0,152.6 657.0,152.3 654.0,152.5 651.5,153.0 649.0,153.8 647.0,154.7 645.0,155.7 643.1,157.0 642.0,158.1 641.0,160.1 640.9,163.0 640.6,166.0 639.8,168.0M747.0,152.8 744.4,152.0 742.0,151.4 740.0,150.8 737.7,150.0 735.8,149.0 734.2,147.0 735.0,144.0 736.3,143.0 738.6,142.0 741.0,141.4 743.2,141.0 746.0,140.6 749.0,140.3 752.0,140.1 754.0,139.9 757.0,139.5 760.0,139.2 762.0,139.0M673.0,184.0 672.3,181.0 671.6,179.0 671.0,177.0 670.7,174.0 672.0,172.3 674.0,171.0 676.0,170.1 678.0,169.4 680.0,169.0 683.0,168.7 685.8,169.0 688.0,169.7 690.0,170.7 691.8,172.0 693.0,173.1 694.7,175.0" fill="none" stroke="#ffffff" stroke-width="2.2" stroke-linejoin="round" opacity="0.12" transform="translate(1.4,1.4)"/>
<path d="M668.0,20.8 665.9,21.0 663.4,22.0 664.2,24.0 664.0,26.8 662.0,27.5 659.7,28.0 657.0,28.3 654.0,28.4 651.0,28.5 648.0,28.5 645.0,28.3 642.8,28.0 640.0,27.3 638.0,26.6 636.0,25.6 634.0,24.4 632.0,23.2 630.0,22.3 628.0,21.5 626.0,20.8 623.3,20.0 621.0,19.4 619.0,18.8 616.1,18.0 614.0,17.4 612.0,16.7 610.0,15.8M571.9,41.0 573.2,42.0 575.0,43.6 576.5,45.0 578.0,46.3 580.0,47.3 583.0,48.0 584.3,48.0 587.0,47.6 589.0,46.9 591.0,45.6 593.0,44.1 594.5,43.0 596.0,41.9 598.0,40.6 600.0,39.5 602.0,38.8 605.0,38.2 608.0,38.2 611.0,38.6 613.0,39.3 615.0,40.4 616.8,42.0 618.0,43.2 620.0,45.0 621.2,46.0 623.0,47.2 625.0,48.3 627.0,49.2 629.4,50.0 632.0,50.7 634.0,51.2 637.0,51.9 639.0,52.4 641.0,53.0 643.3,54.0 645.1,55.0 647.0,56.5 648.4,58.0 649.6,60.0 650.7,62.0 652.0,63.5 654.0,64.4 657.0,64.3 659.0,63.9 662.0,63.3 664.4,63.0 667.0,63.0 669.0,63.3 671.0,64.0 673.0,65.1 675.0,66.3 677.0,67.4 679.0,68.4 681.0,69.3 683.4,70.0 686.0,70.6 688.0,71.0 691.0,71.6 693.6,72.0 695.5,73.0 694.3,75.0 693.5,77.0 694.0,79.7 695.9,81.0 698.0,81.5 701.0,81.8 704.0,81.5 706.0,80.9 707.8,79.0 707.0,76.3 705.6,75.0 703.8,74.0 701.0,73.0 699.0,72.2 699.1,71.0 701.0,69.8 703.0,68.8 705.0,67.9 707.2,67.0 709.8,66.0 712.0,65.1 714.0,64.3 716.0,63.4 718.0,62.7 720.0,61.9 723.0,61.0 725.0,60.4 727.0,59.9 730.0,59.0 732.0,58.3 734.0,57.5 736.0,56.5 738.0,55.2M698.0,53.0 695.0,53.1 692.0,53.2 689.0,53.2 686.0,53.2 683.0,53.1 681.0,53.0 678.0,52.3 676.0,51.0 675.0,49.3 674.5,47.0 675.0,44.5 676.1,43.0 678.0,41.8 681.0,41.1 683.0,40.9 686.0,40.9 688.0,41.0 691.0,41.1 694.0,41.1 697.0,41.0 699.0,41.0 702.0,40.9 705.0,41.0 707.0,41.2 710.0,41.6 712.4,42.0 715.0,42.6 717.3,43.0 720.0,43.6M723.5,46.0 721.0,46.6 719.0,47.3 717.0,48.1 714.8,49.0 712.4,50.0 710.0,50.9 708.0,51.5 706.0,52.1 703.0,52.6 700.0,52.9 698.0,53.0M630.0,67.0 630.0,64.9 628.0,63.0 626.2,62.0 624.0,61.3 621.0,61.1 618.2,62.0 617.0,63.7 617.3,65.0 619.0,66.4 621.0,67.2 624.0,67.8 627.0,68.0 630.0,67.0M754.8,76.0 753.2,78.0 752.0,79.9 751.0,81.4 749.7,83.0 748.0,84.6 746.0,85.9 744.0,86.8 742.0,87.4 739.0,87.9 737.0,88.2 734.0,88.6 731.7,89.0 729.0,89.7 727.0,90.6 725.1,92.0 724.0,93.1 722.3,95.0 721.0,96.4 719.4,98.0 718.0,99.2 716.0,100.7 714.2,102.0 712.8,103.0 711.0,104.2 709.0,105.5 707.0,106.6 705.0,107.7 703.0,108.5 701.0,109.0 698.0,109.3 695.5,109.0 693.0,108.1 691.2,107.0 689.9,106.0 688.0,104.2 686.9,103.0 685.4,101.0 684.1,99.0 683.0,97.1 682.0,95.0 681.4,93.0 681.2,90.0 681.2,87.0 681.0,85.0 679.8,83.0 678.0,81.5 676.0,80.2 674.0,79.1 672.1,78.0 670.2,77.0 668.2,76.0 666.0,75.0 664.0,74.2 662.0,73.5 660.0,72.8 657.1,72.0 655.0,71.5 652.0,71.5 650.0,72.1 648.0,73.2 646.1,75.0 645.0,76.6 644.1,79.0 643.8,81.0 644.0,83.6 644.1,86.0 643.4,88.0 642.0,89.1 639.4,90.0 637.0,90.3 634.0,90.3 631.7,90.0 629.0,89.4 627.0,89.0 624.0,88.7 621.3,89.0 619.7,90.0 620.0,92.4 621.4,94.0 623.0,95.7 624.0,97.0 625.3,99.0 626.1,101.0 626.0,103.0 624.0,105.0 622.1,106.0 620.0,107.0 618.0,107.9 616.0,108.8 614.0,109.7 612.0,110.5 610.0,111.3 607.7,112.0 605.0,112.5 602.0,112.6 599.0,112.3 597.0,111.8 594.1,111.0 592.0,110.4 590.0,109.8 587.2,109.0 585.0,108.3 583.0,107.7 580.8,107.0 578.5,106.0 577.0,105.0 575.7,103.0 575.4,100.0 575.0,97.1 574.0,95.0 573.0,93.8 571.0,92.3 569.0,91.4 566.0,91.1 563.0,91.8 561.0,92.5 559.0,93.3 557.0,94.1 554.0,95.0 552.0,95.4 549.0,95.9 546.0,95.7 544.2,94.0 545.6,92.0 547.0,90.7 549.0,89.0 550.2,88.0 552.0,86.4 553.2,85.0 554.1,83.0 553.0,81.4 551.0,80.4 549.0,79.9 546.0,79.8 543.6,80.0M764.0,102.6 761.4,102.0 759.2,101.0 758.0,100.0 758.0,97.1 759.5,96.0 762.0,95.1 764.0,94.8M655.0,112.1 652.0,112.8 649.0,113.0 646.0,112.5 644.0,111.9 642.0,110.9 640.0,109.1 639.2,107.0 640.7,105.0 642.6,104.0 645.0,103.2 647.0,102.7 650.0,102.4 653.0,102.7 655.0,103.3 657.0,104.2 659.0,105.9 659.6,108.0 658.6,110.0 657.0,111.2 655.0,112.1M532.0,105.3 535.0,105.6 537.0,106.1 540.0,106.9 542.0,107.7 544.0,108.6 546.0,109.5 548.0,110.5 550.0,111.5 552.0,112.9 552.0,114.0 550.0,115.2 547.9,116.0 545.0,116.9 543.0,117.5 541.0,118.1 538.0,118.9 536.0,119.5 533.7,120.0 531.0,120.6M529.0,127.4 532.0,127.8 534.0,128.1 537.0,128.6 540.0,129.0 541.3,129.0 544.0,128.8 547.0,128.1 549.0,127.5 551.0,126.8 554.0,126.0 556.0,125.7 559.0,125.6 561.6,126.0 564.0,126.5 566.0,127.1 568.9,128.0 571.0,128.8 573.0,129.6 575.0,130.8 576.3,132.0 576.9,135.0 576.0,137.0 574.6,139.0 573.0,141.0 572.0,142.0 570.0,143.9 568.5,145.0 566.9,146.0M591.2,151.0 592.6,149.0 593.7,147.0 594.3,145.0 594.3,142.0 594.0,139.8 593.8,137.0 594.4,135.0 596.0,133.1 598.0,132.0 600.0,131.4 603.0,131.1 606.0,131.1 609.0,131.5 611.6,132.0 614.0,132.5 616.1,133.0 619.0,133.5 622.0,133.9 624.1,134.0 627.0,134.0 629.2,134.0 632.0,133.9 635.0,133.8 638.0,133.7 641.0,134.0 643.0,134.8 644.4,136.0 646.0,137.5 647.8,139.0 649.6,140.0 652.0,140.9 654.0,141.4 657.0,141.7 660.0,141.6 663.0,141.2 665.0,140.7 667.2,140.0 669.6,139.0 671.6,138.0 673.3,137.0 675.0,135.9 677.0,134.5 679.0,133.2 681.0,132.1 683.0,131.1 685.0,130.2 687.0,129.2 689.0,128.2 691.0,127.2 693.0,126.2 695.0,125.1 697.0,124.1 699.0,123.2 701.0,122.2 703.0,121.3 705.0,120.3 707.0,119.4 709.0,118.4 711.0,117.4 713.0,116.5 715.0,115.9 718.0,115.5 721.0,115.4 724.0,115.5 727.0,115.7 730.0,115.9 733.0,115.9 736.0,115.8 739.0,115.3 741.0,114.9 744.0,114.4 747.0,114.0 749.0,114.0 751.0,114.1 754.0,114.5 756.1,115.0 758.7,116.0 760.4,117.0 761.8,119.0 760.4,121.0 758.0,122.0 756.0,122.4 753.0,122.7 750.0,122.7 747.0,122.6 744.0,122.3 741.0,122.3 738.0,122.7 736.0,123.3 734.0,124.3 732.0,125.7 730.4,127.0 729.0,128.3 727.5,130.0 726.0,131.9 725.0,133.2 723.5,135.0 722.0,136.4 720.0,137.6 718.0,138.5 716.0,139.3 713.9,140.0 711.5,141.0 710.0,142.0 708.7,144.0 708.7,147.0 708.6,150.0 707.7,152.0 706.0,153.9 704.3,155.0 702.0,156.0 700.0,156.7 698.0,157.2 695.0,157.8 693.0,158.2 690.0,158.6 687.0,158.9 684.0,159.0 681.0,158.8 678.0,158.3 676.0,157.8 673.4,157.0 671.0,156.2 669.0,155.5 667.0,154.8 664.8,154.0 662.0,153.1 660.0,152.6 657.0,152.3 654.0,152.5 651.5,153.0 649.0,153.8 647.0,154.7 645.0,155.7 643.1,157.0 642.0,158.1 641.0,160.1 640.9,163.0 640.6,166.0 639.8,168.0M747.0,152.8 744.4,152.0 742.0,151.4 740.0,150.8 737.7,150.0 735.8,149.0 734.2,147.0 735.0,144.0 736.3,143.0 738.6,142.0 741.0,141.4 743.2,141.0 746.0,140.6 749.0,140.3 752.0,140.1 754.0,139.9 757.0,139.5 760.0,139.2 762.0,139.0M673.0,184.0 672.3,181.0 671.6,179.0 671.0,177.0 670.7,174.0 672.0,172.3 674.0,171.0 676.0,170.1 678.0,169.4 680.0,169.0 683.0,168.7 685.8,169.0 688.0,169.7 690.0,170.7 691.8,172.0 693.0,173.1 694.7,175.0" fill="none" stroke="#16163a" stroke-width="1.8" stroke-linejoin="round" opacity="0.28"/></g>
<path d="M528.1,113.0 C528.4,108.7 528.9,109.2 530.1,106.4 C531.3,103.6 533.2,100.2 535.2,96.3 C537.2,92.4 539.8,87.3 542.0,82.8 C544.2,78.3 546.2,73.2 548.7,69.2 C551.2,65.2 554.1,63.0 557.2,59.1 C560.3,55.2 563.9,49.8 567.3,45.6 C570.7,41.4 574.1,36.5 577.5,33.7 C580.9,30.9 584.5,30.7 587.6,28.7 C590.7,26.7 592.7,24.2 596.1,21.9 C599.5,19.6 604.2,16.6 607.9,15.1 C611.5,13.6 614.6,12.6 618.0,12.6 C621.4,12.6 624.5,14.8 628.2,15.1 C631.9,15.4 635.5,13.5 640.0,14.2 C644.5,14.9 649.5,18.2 655.1,19.3 C660.7,20.4 667.7,19.8 673.6,21.0 C679.5,22.2 684.7,24.4 690.3,26.8 C695.9,29.2 701.5,32.1 707.1,35.2 C712.7,38.3 718.9,42.2 723.9,45.3 C728.9,48.4 733.4,50.4 737.3,53.7 C741.2,57.1 744.0,61.2 747.4,65.4 C750.8,69.6 754.6,74.3 757.4,78.8 C760.2,83.3 762.7,87.7 764.2,92.2 C765.8,96.7 766.2,101.1 766.7,105.7 C767.2,110.3 767.6,116.1 767.5,120.0 C767.4,123.9 767.4,124.9 766.1,129.1 C764.8,133.3 762.8,141.2 759.6,145.3 C756.4,149.4 752.1,151.5 746.7,153.4 C741.3,155.3 733.8,156.4 727.3,156.7 C720.8,157.0 712.4,153.9 707.8,155.0 C703.2,156.1 701.6,159.8 699.7,163.1 C697.8,166.3 698.4,171.2 696.5,174.5 C694.6,177.8 692.4,180.9 688.4,182.6 C684.4,184.3 677.1,185.1 672.2,184.8 C667.3,184.5 663.5,183.0 659.2,181.0 C654.9,179.0 651.1,175.3 646.3,172.9 C641.4,170.5 637.1,168.8 630.1,166.4 C623.1,164.0 612.8,161.3 604.2,158.3 C595.6,155.3 585.8,150.8 578.3,148.6 C570.8,146.4 564.8,145.6 558.9,145.3 C553.0,145.0 547.0,147.3 542.7,147.0 C538.4,146.7 535.4,146.1 533.0,143.7 C530.6,141.3 528.9,137.5 528.1,132.4 C527.3,127.3 527.8,117.3 528.1,113.0Z" fill="none" stroke="#10102a" stroke-width="5" opacity="0.22" filter="url(#bsh)"/>
</g>
<path d="M608.4,97.5 C608.7,92.9 610.9,89.0 613.3,86.2 C615.7,83.4 618.1,82.0 623.0,80.6 C627.9,79.2 635.5,78.5 642.5,78.0 C649.5,77.5 657.7,77.2 665.3,77.4 C672.9,77.6 681.0,77.9 688.1,79.0 C695.2,80.1 702.5,81.6 707.6,83.9 C712.7,86.2 716.6,89.4 718.9,92.7 C721.2,96.0 721.5,100.5 721.2,104.0 C720.9,107.5 720.1,110.6 717.3,113.8 C714.5,117.0 709.2,120.2 704.3,122.9 C699.4,125.6 692.7,128.0 688.1,130.0 C683.5,132.0 679.0,132.5 676.7,134.9 C674.4,137.3 675.8,142.0 674.4,144.7 C673.0,147.4 671.1,150.0 668.5,151.2 C665.9,152.4 661.5,152.9 658.8,152.1 C656.1,151.3 654.2,148.4 652.3,146.3 C650.4,144.2 650.6,142.2 647.4,139.8 C644.1,137.4 637.4,134.4 632.8,131.7 C628.2,129.0 623.3,126.5 619.8,123.5 C616.3,120.5 613.6,118.1 611.7,113.8 C609.8,109.5 608.1,102.1 608.4,97.5Z" fill="#2c2c2c"/>
<path d="M528.1,113.0 C528.4,108.7 528.9,109.2 530.1,106.4 C531.3,103.6 533.2,100.2 535.2,96.3 C537.2,92.4 539.8,87.3 542.0,82.8 C544.2,78.3 546.2,73.2 548.7,69.2 C551.2,65.2 554.1,63.0 557.2,59.1 C560.3,55.2 563.9,49.8 567.3,45.6 C570.7,41.4 574.1,36.5 577.5,33.7 C580.9,30.9 584.5,30.7 587.6,28.7 C590.7,26.7 592.7,24.2 596.1,21.9 C599.5,19.6 604.2,16.6 607.9,15.1 C611.5,13.6 614.6,12.6 618.0,12.6 C621.4,12.6 624.5,14.8 628.2,15.1 C631.9,15.4 635.5,13.5 640.0,14.2 C644.5,14.9 649.5,18.2 655.1,19.3 C660.7,20.4 667.7,19.8 673.6,21.0 C679.5,22.2 684.7,24.4 690.3,26.8 C695.9,29.2 701.5,32.1 707.1,35.2 C712.7,38.3 718.9,42.2 723.9,45.3 C728.9,48.4 733.4,50.4 737.3,53.7 C741.2,57.1 744.0,61.2 747.4,65.4 C750.8,69.6 754.6,74.3 757.4,78.8 C760.2,83.3 762.7,87.7 764.2,92.2 C765.8,96.7 766.2,101.1 766.7,105.7 C767.2,110.3 767.6,116.1 767.5,120.0 C767.4,123.9 767.4,124.9 766.1,129.1 C764.8,133.3 762.8,141.2 759.6,145.3 C756.4,149.4 752.1,151.5 746.7,153.4 C741.3,155.3 733.8,156.4 727.3,156.7 C720.8,157.0 712.4,153.9 707.8,155.0 C703.2,156.1 701.6,159.8 699.7,163.1 C697.8,166.3 698.4,171.2 696.5,174.5 C694.6,177.8 692.4,180.9 688.4,182.6 C684.4,184.3 677.1,185.1 672.2,184.8 C667.3,184.5 663.5,183.0 659.2,181.0 C654.9,179.0 651.1,175.3 646.3,172.9 C641.4,170.5 637.1,168.8 630.1,166.4 C623.1,164.0 612.8,161.3 604.2,158.3 C595.6,155.3 585.8,150.8 578.3,148.6 C570.8,146.4 564.8,145.6 558.9,145.3 C553.0,145.0 547.0,147.3 542.7,147.0 C538.4,146.7 535.4,146.1 533.0,143.7 C530.6,141.3 528.9,137.5 528.1,132.4 C527.3,127.3 527.8,117.3 528.1,113.0Z" fill="none" stroke="#1a1a2e" stroke-width="0.9" opacity="0.8"/>
<clipPath id="cle"><path d="M279.2,356.4 C279.8,352.0 280.2,347.4 281.8,342.9 C283.4,338.4 286.0,333.6 288.5,329.4 C291.0,325.2 293.6,321.6 297.0,317.6 C300.4,313.7 304.6,309.4 308.8,305.7 C313.0,302.0 317.2,298.8 322.3,295.6 C327.4,292.4 333.6,289.4 339.2,286.3 C344.8,283.2 350.5,279.4 356.1,277.0 C361.7,274.6 367.4,273.3 373.0,271.9 C378.6,270.5 384.7,269.8 390.0,268.5 C395.3,267.2 400.8,264.7 405.0,264.3 C409.2,263.9 412.5,266.1 415.3,266.0 C418.1,265.9 419.2,264.1 422.0,263.8 C424.8,263.5 428.2,263.0 432.2,264.3 C436.1,265.6 442.3,269.6 445.7,271.9 C449.1,274.1 449.1,275.8 452.5,277.8 C455.9,279.8 462.3,281.0 466.0,283.7 C469.7,286.4 471.7,290.5 474.5,293.9 C477.3,297.3 480.4,300.9 482.9,304.0 C485.4,307.1 487.4,310.0 489.7,312.5 C491.9,315.0 494.1,316.4 496.4,319.2 C498.6,322.0 500.9,325.7 503.2,329.4 C505.5,333.1 507.8,337.0 510.0,341.2 C512.2,345.4 515.1,350.2 516.7,354.7 C518.3,359.2 519.4,362.8 519.5,368.0 C519.6,373.2 519.0,381.2 517.2,385.8 C515.5,390.4 512.5,393.6 509.0,395.5 C505.5,397.4 501.4,397.1 496.0,397.1 C490.6,397.1 483.1,395.2 476.6,395.5 C470.1,395.8 463.5,396.9 457.0,398.8 C450.5,400.7 444.0,403.9 437.5,406.9 C431.0,409.9 424.5,413.4 418.0,416.6 C411.5,419.9 405.0,423.9 398.5,426.4 C392.0,428.8 384.9,430.8 379.0,431.3 C373.1,431.8 367.7,431.0 362.8,429.6 C357.9,428.2 352.8,425.8 349.8,423.1 C346.8,420.4 345.4,416.1 344.9,413.4 C344.3,410.7 347.9,407.7 346.5,406.9 C345.1,406.1 341.7,408.0 336.8,408.5 C331.9,409.0 323.3,410.4 317.3,410.1 C311.3,409.8 305.9,408.8 301.0,406.9 C296.1,405.0 291.2,402.3 288.0,398.8 C284.8,395.3 283.1,390.7 281.5,385.8 C279.9,380.9 278.7,374.4 278.3,369.5 C277.9,364.6 278.6,360.8 279.2,356.4Z"/></clipPath>
<path d="M279.2,356.4 C279.8,352.0 280.2,347.4 281.8,342.9 C283.4,338.4 286.0,333.6 288.5,329.4 C291.0,325.2 293.6,321.6 297.0,317.6 C300.4,313.7 304.6,309.4 308.8,305.7 C313.0,302.0 317.2,298.8 322.3,295.6 C327.4,292.4 333.6,289.4 339.2,286.3 C344.8,283.2 350.5,279.4 356.1,277.0 C361.7,274.6 367.4,273.3 373.0,271.9 C378.6,270.5 384.7,269.8 390.0,268.5 C395.3,267.2 400.8,264.7 405.0,264.3 C409.2,263.9 412.5,266.1 415.3,266.0 C418.1,265.9 419.2,264.1 422.0,263.8 C424.8,263.5 428.2,263.0 432.2,264.3 C436.1,265.6 442.3,269.6 445.7,271.9 C449.1,274.1 449.1,275.8 452.5,277.8 C455.9,279.8 462.3,281.0 466.0,283.7 C469.7,286.4 471.7,290.5 474.5,293.9 C477.3,297.3 480.4,300.9 482.9,304.0 C485.4,307.1 487.4,310.0 489.7,312.5 C491.9,315.0 494.1,316.4 496.4,319.2 C498.6,322.0 500.9,325.7 503.2,329.4 C505.5,333.1 507.8,337.0 510.0,341.2 C512.2,345.4 515.1,350.2 516.7,354.7 C518.3,359.2 519.4,362.8 519.5,368.0 C519.6,373.2 519.0,381.2 517.2,385.8 C515.5,390.4 512.5,393.6 509.0,395.5 C505.5,397.4 501.4,397.1 496.0,397.1 C490.6,397.1 483.1,395.2 476.6,395.5 C470.1,395.8 463.5,396.9 457.0,398.8 C450.5,400.7 444.0,403.9 437.5,406.9 C431.0,409.9 424.5,413.4 418.0,416.6 C411.5,419.9 405.0,423.9 398.5,426.4 C392.0,428.8 384.9,430.8 379.0,431.3 C373.1,431.8 367.7,431.0 362.8,429.6 C357.9,428.2 352.8,425.8 349.8,423.1 C346.8,420.4 345.4,416.1 344.9,413.4 C344.3,410.7 347.9,407.7 346.5,406.9 C345.1,406.1 341.7,408.0 336.8,408.5 C331.9,409.0 323.3,410.4 317.3,410.1 C311.3,409.8 305.9,408.8 301.0,406.9 C296.1,405.0 291.2,402.3 288.0,398.8 C284.8,395.3 283.1,390.7 281.5,385.8 C279.9,380.9 278.7,374.4 278.3,369.5 C277.9,364.6 278.6,360.8 279.2,356.4Z" fill="#227c96"/>
<g clip-path="url(#cle)">
<g filter="url(#bp)">
<path d="M282.0,345.0 283.3,341.4 284.6,337.1 288.0,332.8 289.8,326.7 292.0,325.0 294.3,321.8 298.2,317.1 302.5,314.0 305.2,312.2 306.2,310.5 310.0,305.0 312.1,304.0 318.3,299.9 322.4,298.3 324.6,296.7 327.7,295.3 332.4,290.0 335.0,290.0 340.7,286.0 344.6,287.4 346.2,283.5 350.3,281.7 355.5,280.9 360.0,278.0 365.7,278.3 367.7,275.1 370.5,273.0 377.8,274.6 379.4,270.6 385.0,270.0 389.0,269.5 392.0,268.9 396.4,267.6 401.7,266.8 405.0,266.0 402.8,270.5 401.6,274.9 400.0,280.0 395.7,283.9 392.7,283.6 388.8,285.6 385.4,288.4 380.0,290.0 375.9,292.5 370.1,292.6 366.6,296.2 366.1,300.7 360.0,300.0 357.4,303.1 351.2,304.3 349.1,306.8 346.5,309.4 341.0,313.4 340.0,315.0 336.2,318.6 337.5,320.6 329.5,324.7 331.3,330.7 326.0,332.3 325.0,335.0 322.3,338.4 323.9,340.3 318.9,346.3 317.7,349.4 314.7,352.4 312.5,356.0 310.0,360.0 307.2,362.6 303.5,366.0 300.9,368.9 296.0,372.0 289.9,371.2 286.9,366.5 284.0,365.0 282.9,362.6 280.6,360.8 284.1,353.3 282.3,349.3Z" fill="#256d9a"/>
<path d="M283.0,370.0 287.6,371.4 291.7,371.4 295.0,372.0 296.0,376.3 297.3,382.4 299.5,382.0 300.0,390.0 303.8,393.2 306.0,395.5 310.3,400.1 311.1,402.5 313.8,403.3 318.0,408.0 312.7,408.5 310.1,407.6 305.4,407.1 300.0,406.0 295.2,403.9 293.0,401.6 288.0,398.0 287.1,394.5 283.8,390.6 281.0,385.0 281.6,378.9 282.1,374.1Z" fill="#257595"/>
<path d="M330.0,330.0 332.5,326.8 335.7,323.6 337.7,321.3 343.3,317.0 347.5,316.1 350.0,312.0 351.3,308.7 355.5,306.1 360.6,304.6 362.5,300.0 366.0,300.0 368.0,302.5 368.5,308.3 371.2,310.4 367.2,316.2 372.0,320.0 373.5,325.7 370.9,327.7 371.0,331.3 369.9,337.3 369.9,344.1 368.0,345.0 365.9,347.8 362.8,349.7 359.4,354.7 357.0,358.8 355.0,362.0 349.8,364.8 346.5,365.0 341.9,366.7 338.0,368.0 334.7,364.3 328.5,362.3 325.0,360.0 324.1,354.7 325.9,352.5 327.5,347.4 328.9,342.7 329.0,338.4 329.6,333.6Z" fill="#1b9095"/>
<path d="M366.0,298.0 365.9,294.6 373.3,292.7 375.6,289.9 377.3,285.4 380.0,282.0 382.9,279.2 387.9,278.6 390.6,274.3 394.4,273.1 398.0,270.0 400.3,266.6 405.3,267.2 410.0,268.0 408.2,272.2 407.1,278.5 406.8,281.6 405.9,284.2 404.0,290.0 403.2,293.6 400.8,296.0 396.1,302.0 396.5,303.6 393.0,309.7 392.0,312.0 389.4,317.8 388.6,320.4 388.1,324.2 386.7,327.1 386.2,330.0 385.0,335.0 383.6,338.6 380.2,342.3 375.2,347.5 376.0,352.0 373.9,351.9 366.0,350.0 365.6,345.5 365.4,342.3 363.6,338.8 365.5,334.2 364.9,329.2 364.0,325.0 365.1,321.2 364.2,315.3 365.1,313.4 363.8,305.2 365.9,302.6Z" fill="#15aa8e"/>
<path d="M398.0,272.0 402.9,270.3 407.1,269.8 412.0,266.0 415.1,266.0 422.0,268.0 420.9,270.3 419.8,278.5 419.0,281.0 418.0,285.0 414.9,288.3 414.3,292.6 414.7,297.7 410.3,301.3 410.0,305.0 409.0,310.4 408.7,311.8 404.2,315.5 403.3,321.6 402.0,325.0 401.6,328.9 398.4,333.2 396.2,339.5 393.7,341.2 394.0,345.0 392.4,347.5 386.0,350.0 385.6,345.6 385.4,343.6 382.7,339.8 383.5,333.7 385.0,330.0 385.7,326.5 385.4,322.2 390.9,315.9 389.9,312.5 391.3,309.2 392.0,305.0 392.0,301.5 395.7,296.5 395.1,291.1 393.9,289.1 397.5,284.8 396.1,280.2 395.7,276.9Z" fill="#16ad8b"/>
<path d="M414.0,270.0 419.7,268.1 422.8,267.7 428.0,266.0 427.8,269.9 431.2,273.7 428.6,277.2 430.2,281.8 428.9,287.6 430.0,290.0 430.9,293.3 426.2,299.2 426.8,302.9 424.4,307.1 426.0,310.0 422.5,314.9 422.0,316.9 420.0,322.0 415.5,320.8 412.0,318.0 412.5,314.1 415.2,306.9 415.1,304.3 412.5,298.0 414.0,295.0 413.8,291.9 413.8,288.5 412.3,282.5 412.5,278.8 415.1,273.7Z" fill="#22719e"/>
<path d="M429.0,277.0 430.6,277.0 439.0,277.0 444.7,275.0 448.0,276.0 452.4,279.2 453.1,280.0 458.2,281.3 462.8,282.6 466.0,285.0 466.7,288.8 467.7,291.2 471.3,294.9 472.0,300.0 468.5,302.3 461.4,302.7 460.7,304.1 455.0,307.0 450.2,307.1 447.4,305.7 441.5,307.2 438.0,305.0 437.4,302.8 432.8,297.4 430.0,295.0 428.8,291.1 430.0,287.7 430.0,279.7Z" fill="#15a88f"/>
<path d="M418.0,305.0 423.7,303.6 426.3,304.9 433.6,308.1 436.3,304.0 440.0,304.0 444.8,305.4 447.9,306.8 452.8,305.6 457.5,305.8 461.8,304.9 465.0,306.0 468.1,306.5 473.1,310.5 476.9,313.4 480.2,314.0 484.0,315.0 483.1,318.5 485.6,324.0 484.8,326.9 483.8,330.6 486.0,335.0 484.3,338.9 481.1,341.6 477.8,344.0 475.0,348.0 471.7,348.8 467.3,348.0 459.9,350.3 457.8,348.3 455.0,349.2 450.0,350.0 447.3,349.9 442.8,346.8 439.5,347.9 433.6,347.0 430.0,346.0 424.9,343.7 422.8,338.9 419.2,339.1 418.0,335.0 417.2,332.6 417.4,324.4 416.7,323.6 417.8,317.2 418.2,314.2 419.3,311.0Z" fill="#2371a0"/>
<path d="M480.0,305.0 483.3,306.7 487.0,311.8 490.1,313.6 495.0,318.0 497.9,322.2 500.0,325.6 502.2,329.6 505.0,335.0 507.8,340.5 506.3,342.4 508.5,347.0 512.0,352.0 507.9,350.3 502.9,350.8 500.0,352.0 497.2,349.1 493.1,346.2 490.3,342.7 488.0,340.0 489.0,337.2 484.4,332.2 486.0,325.5 485.0,324.3 481.7,317.0 483.2,314.1 481.7,309.8Z" fill="#179794"/>
<path d="M488.0,313.0 495.0,314.0 497.0,316.4 498.0,322.0 494.0,327.0 489.0,324.0 489.8,319.9Z" fill="#fff010"/>
<path d="M294.5,371.0 298.6,370.9 301.3,371.6 308.2,370.9 313.2,370.6 316.8,369.8 320.5,371.0 321.3,375.2 322.4,379.5 322.8,385.3 323.8,388.8 326.5,390.1 332.4,396.9 332.0,399.3 336.2,402.1 340.0,405.0 340.0,411.5 335.8,410.9 329.9,410.1 325.1,409.6 321.5,409.4 317.0,410.0 314.6,409.3 309.9,405.4 308.0,403.2 304.3,401.1 301.6,396.3 297.8,395.3 296.6,392.0 292.4,386.7 291.0,382.3 293.6,376.4Z" fill="#452781"/>
<path d="M340.0,373.0 345.3,375.2 347.1,370.1 352.4,372.1 355.7,372.3 360.0,370.0 362.8,371.2 368.1,372.9 375.6,370.3 376.9,372.6 382.0,372.0 381.1,375.9 381.2,377.7 380.8,383.2 379.8,389.7 380.0,392.0 373.8,395.3 370.3,396.3 366.0,399.0 362.9,399.6 358.7,400.6 353.6,398.9 348.7,398.8 346.0,400.0 346.9,398.2 339.0,391.7 338.0,390.0 339.1,386.4 339.7,381.2 339.3,377.6Z" fill="#2bc179"/>
<path d="M351.4,397.0 353.1,389.4 354.4,386.2 356.3,382.3 359.8,383.3 363.2,376.7 367.1,375.1 369.8,372.6 372.5,369.3 378.7,366.3 380.5,364.9 384.3,363.3 386.9,362.4 392.2,362.3 393.3,359.6 398.5,357.9 401.5,355.1 406.0,354.9 413.1,354.5 412.4,352.0 418.0,351.4 424.9,354.7 429.4,353.0 426.7,355.6 427.8,362.8 425.5,364.6 417.6,366.0 411.0,366.7 410.0,369.1 405.0,369.3 400.0,371.0 396.3,372.8 392.6,373.7 388.7,376.5 387.1,377.1 382.3,379.0 379.1,379.7 375.4,383.8 375.7,385.0 369.3,388.8 369.4,394.8 366.0,398.5 361.5,401.4 356.3,400.1Z" fill="#66d651"/>
<path d="M399.0,356.0 403.8,355.0 407.6,354.5 412.0,351.5 417.8,351.0 421.0,352.0 419.0,358.0 412.8,359.1 408.7,360.6 405.0,362.0 403.5,358.5Z" fill="#e2f10b"/>
<path d="M383.0,372.0 387.4,371.1 393.0,367.3 395.8,369.3 402.4,367.4 403.2,367.7 410.0,366.0 413.5,363.4 417.8,363.5 422.1,359.9 428.2,363.0 432.2,358.9 435.5,359.1 440.0,358.0 444.7,358.0 447.1,356.5 452.5,357.3 456.8,355.7 460.0,354.0 460.6,360.2 461.5,362.0 463.2,368.3 462.0,372.0 457.1,373.0 453.6,375.8 449.0,377.2 446.4,379.7 440.0,380.0 435.9,382.0 430.2,382.2 429.3,382.3 421.8,382.6 417.3,383.3 413.8,383.5 410.0,386.0 405.9,387.7 400.6,389.2 398.1,389.2 392.5,389.7 387.9,390.4 385.0,390.0 384.7,386.2 382.6,379.9 384.2,375.4Z" fill="#169f92"/>
<path d="M457.0,350.0 462.2,348.0 467.2,347.7 471.5,349.6 474.6,349.1 480.0,348.0 484.3,348.2 486.8,347.2 492.4,348.5 496.1,350.9 500.0,352.0 501.6,356.1 501.1,361.9 502.7,365.9 503.0,370.0 501.2,372.2 499.2,378.7 496.0,382.0 490.6,382.1 487.6,382.6 483.8,384.9 480.5,382.0 475.0,384.0 472.0,384.1 468.0,382.3 466.2,380.7 460.0,378.0 459.9,375.3 459.3,370.0 458.3,367.9 457.3,363.8 458.5,356.3 457.9,351.5Z" fill="#33c673"/>
<path d="M350.0,402.0 355.0,401.6 357.9,399.3 365.2,397.1 365.9,398.1 373.8,394.9 376.9,395.0 380.0,392.0 383.1,390.8 389.5,392.8 392.7,389.1 398.4,389.0 399.6,389.4 405.9,389.4 408.5,388.4 412.1,387.9 413.0,386.2 420.0,386.0 424.3,384.4 428.5,385.4 434.1,387.3 435.4,385.0 439.9,384.5 444.2,383.9 446.6,385.3 452.8,383.4 457.1,383.4 460.0,384.0 464.6,385.6 468.5,385.7 472.2,385.5 476.9,385.4 481.2,385.0 485.1,387.1 490.0,388.0 485.7,390.1 481.9,393.4 479.0,394.4 472.6,396.3 470.0,400.0 465.1,401.0 460.5,401.3 456.6,404.5 453.6,405.0 448.1,406.0 444.2,407.6 440.0,410.0 436.7,409.4 431.6,413.4 428.2,417.7 424.4,414.8 419.9,415.4 415.9,418.0 413.1,419.8 407.9,421.2 406.1,423.1 400.0,425.0 397.9,427.4 392.0,428.3 387.6,427.0 382.5,431.7 378.5,430.5 374.2,435.6 370.0,435.0 367.9,432.9 363.9,430.6 357.2,427.9 357.5,426.7 352.0,425.0 351.3,420.0 353.5,417.8 353.5,411.0 350.8,404.8Z" fill="#227c96"/>
<path d="M398.0,400.0 403.8,397.8 406.3,397.2 409.3,396.7 413.3,396.4 417.3,397.3 420.7,395.8 427.5,394.1 430.0,394.0 433.6,393.4 440.4,393.6 442.9,393.6 446.7,393.5 453.0,392.0 457.0,392.0 455.0,395.9 455.0,402.0 451.5,405.1 445.9,405.9 440.0,406.3 438.3,407.6 433.0,409.5 430.0,412.0 426.4,412.6 419.3,411.2 417.3,415.1 410.7,414.8 409.4,418.0 405.5,417.6 402.0,418.0 401.2,410.9 400.9,409.3 399.6,409.2Z" fill="#2a6995"/>
</g>
<g filter="url(#bs)"><path d="M352.0,391.0 C356.7,389.3 368.7,384.7 380.0,381.0 C391.3,377.3 408.3,372.7 420.0,369.0 C431.7,365.3 442.3,362.0 450.0,359.0 C457.7,356.0 463.3,352.3 466.0,351.0" fill="none" stroke="#16163a" stroke-width="1.4" stroke-linecap="round" opacity="0.45"/>
<path d="M360.0,403.0 C365.8,402.0 384.2,399.0 395.0,397.0 C405.8,395.0 415.0,393.3 425.0,391.0 C435.0,388.7 446.7,386.7 455.0,383.0 C463.3,379.3 469.5,374.3 475.0,369.0 C480.5,363.7 485.8,354.0 488.0,351.0" fill="none" stroke="#16163a" stroke-width="1.4" stroke-linecap="round" opacity="0.45"/>
<path d="M380.0,421.0 C386.7,419.7 408.3,416.0 420.0,413.0 C431.7,410.0 440.3,406.3 450.0,403.0 C459.7,399.7 473.3,394.7 478.0,393.0" fill="none" stroke="#16163a" stroke-width="1.4" stroke-linecap="round" opacity="0.45"/>
<path d="M418.0,265.0 C417.2,267.7 415.2,275.0 413.0,281.0 C410.8,287.0 407.8,294.7 405.0,301.0 C402.2,307.3 398.8,312.7 396.0,319.0 C393.2,325.3 389.3,335.7 388.0,339.0" fill="none" stroke="#16163a" stroke-width="1.4" stroke-linecap="round" opacity="0.45"/>
<path d="M400.0,269.0 C398.7,272.7 395.0,284.3 392.0,291.0 C389.0,297.7 385.0,302.7 382.0,309.0 C379.0,315.3 375.3,325.7 374.0,329.0" fill="none" stroke="#16163a" stroke-width="1.4" stroke-linecap="round" opacity="0.45"/>
<path d="M436.0,273.0 C435.0,276.3 432.3,287.0 430.0,293.0 C427.7,299.0 424.7,303.3 422.0,309.0 C419.3,314.7 416.0,321.3 414.0,327.0 C412.0,332.7 410.7,340.3 410.0,343.0" fill="none" stroke="#16163a" stroke-width="1.4" stroke-linecap="round" opacity="0.45"/>
<path d="M385.0,281.0 C380.8,282.3 368.3,286.0 360.0,289.0 C351.7,292.0 343.3,295.0 335.0,299.0 C326.7,303.0 316.7,308.0 310.0,313.0 C303.3,318.0 297.5,326.3 295.0,329.0" fill="none" stroke="#16163a" stroke-width="1.4" stroke-linecap="round" opacity="0.45"/>
<path d="M372.0,323.0 C368.3,324.3 357.0,328.0 350.0,331.0 C343.0,334.0 337.5,337.3 330.0,341.0 C322.5,344.7 309.2,351.0 305.0,353.0" fill="none" stroke="#16163a" stroke-width="1.4" stroke-linecap="round" opacity="0.45"/>
<path d="M440.0,303.0 C443.3,304.0 453.7,306.3 460.0,309.0 C466.3,311.7 472.7,314.5 478.0,319.0 C483.3,323.5 489.7,333.2 492.0,336.0" fill="none" stroke="#16163a" stroke-width="1.4" stroke-linecap="round" opacity="0.45"/>
<path d="M292.0,389.0 C296.7,390.3 311.2,395.0 320.0,397.0 C328.8,399.0 340.8,400.3 345.0,401.0" fill="none" stroke="#16163a" stroke-width="1.4" stroke-linecap="round" opacity="0.45"/>
<path d="M300.0,361.0 C302.5,362.7 310.8,366.8 315.0,371.0 C319.2,375.2 323.3,383.5 325.0,386.0" fill="none" stroke="#16163a" stroke-width="1.4" stroke-linecap="round" opacity="0.45"/>
<path d="M455.0,281.0 C457.5,283.0 465.5,289.7 470.0,293.0 C474.5,296.3 480.0,299.7 482.0,301.0" fill="none" stroke="#16163a" stroke-width="1.4" stroke-linecap="round" opacity="0.45"/>
<path d="M498.0,343.0 C498.8,346.8 501.8,358.0 503.0,366.0 C504.2,374.0 504.7,386.8 505.0,391.0" fill="none" stroke="#16163a" stroke-width="1.4" stroke-linecap="round" opacity="0.45"/>
<path d="M417.0,266.6 418.2,268.0 418.0,270.4 416.0,271.6 414.0,272.1 411.0,272.4 408.0,272.5 405.0,272.6 402.0,272.7 399.0,272.7 396.0,272.7 393.0,272.9 391.0,273.4 389.1,275.0 388.0,276.3 386.0,277.5 383.0,277.8 380.0,277.5 377.0,277.1 375.0,276.7 372.0,276.0 370.0,275.5 368.0,275.0 365.0,274.4M375.0,272.0 377.0,272.7 379.0,273.0 382.0,273.0 384.0,272.7 386.2,272.0 387.3,270.0M281.0,381.9 283.0,382.7 285.0,383.3 288.0,383.4 291.0,383.0 293.0,382.6 296.0,382.1 299.0,382.2 302.0,383.0 304.0,383.6 306.0,384.4 308.0,385.5 308.0,387.1 306.0,388.4 304.0,389.2 301.0,389.8 299.0,390.0 296.0,390.2 293.0,390.4 290.0,390.8 288.0,391.3 286.0,392.2M294.0,402.4 296.2,402.0 298.9,401.0 300.7,400.0 302.2,399.0 304.4,398.0 307.0,397.7 309.2,398.0 312.0,398.5 315.0,398.8 318.0,398.6 320.9,398.0 323.0,397.2 325.0,396.0 325.6,394.0 324.0,393.0 322.0,391.6 320.4,390.0 319.7,388.0 322.0,387.6 324.5,388.0 327.0,388.4 330.0,388.4 332.0,387.6 333.9,386.0 334.0,384.8 332.0,383.3 330.0,382.5 328.0,381.6 326.0,380.7 324.0,379.9 321.0,379.0 319.0,378.9 317.0,379.0 314.0,379.3 311.0,379.2 309.0,378.9 306.0,378.3 303.0,378.3 300.0,378.7 297.0,378.4 295.6,377.0 295.2,374.0 294.0,373.0 292.0,371.9 290.0,370.7 289.9,368.0 291.2,367.0 293.1,366.0 295.5,365.0 297.5,364.0 298.8,362.0 299.2,360.0 301.6,359.0 304.0,358.4 306.0,357.8 308.0,356.9 309.9,355.0 309.0,352.3 308.8,350.0 309.6,348.0 309.9,345.0 309.8,342.0 310.0,339.8 311.0,338.0 312.5,336.0 313.9,334.0 314.0,332.8 312.0,331.5 310.0,330.9 307.0,330.5 304.0,330.5 301.0,330.7 298.8,331.0 296.0,331.6 294.0,332.2 291.0,332.0 289.2,331.0M291.0,327.1 293.0,326.4 295.0,325.2 297.0,324.3 299.0,323.8 302.0,323.9 304.0,324.1 307.0,324.1 309.0,323.7 310.0,322.7 309.0,320.9 307.0,319.5 305.0,318.6 303.0,317.9 301.0,317.0M324.0,296.0 325.4,297.0 327.0,298.2 329.0,299.2 332.0,299.9 334.0,300.1 336.8,300.0 339.0,299.9 341.0,300.2 343.0,302.0 344.0,304.0 343.8,305.0 342.0,306.6 340.0,307.4 337.0,307.6 334.8,307.0 332.0,306.1 330.0,305.8 327.0,306.0 325.0,306.4 322.0,306.9 320.0,307.0 318.0,306.9 315.0,306.7 313.2,308.0 315.0,309.0 318.0,309.2 321.0,309.7 323.0,310.6 325.0,312.0 326.3,313.0 328.0,314.2 330.0,315.1 333.0,315.5 336.0,315.7 338.4,316.0 341.0,316.5 344.0,316.7 347.0,316.3 349.0,315.8 352.0,315.0 354.0,314.5 356.0,313.8 357.6,312.0 356.9,310.0 356.4,307.0 358.0,305.5 360.0,304.7 363.0,304.4 366.0,305.0 368.0,305.7 370.0,306.8 371.3,308.0 371.0,310.3 369.4,312.0 368.0,313.2 366.3,315.0 366.7,318.0 365.9,320.0 364.0,322.0 362.8,323.0 361.0,324.4 359.0,325.4 356.0,325.8 353.0,325.5 350.6,325.0 348.0,324.4 346.0,323.8 343.0,323.2 340.0,323.8 339.0,325.6 338.8,328.0 338.0,330.4 336.8,332.0 335.0,333.4 333.0,334.6 331.4,336.0 330.0,337.6 328.5,339.0 327.0,340.0 325.0,341.2 323.0,342.4 321.8,344.0 322.2,346.0 324.0,347.7 326.0,348.2 328.8,348.0 331.0,347.5 333.1,347.0 336.0,346.2 338.0,345.5 340.0,344.4 342.0,343.3 344.0,342.5 347.0,342.0 349.0,342.0 351.0,342.0 354.0,342.1 357.0,342.0 359.0,341.9 362.0,341.5 365.0,341.2 368.0,341.2 370.9,342.0 373.0,342.9 374.5,344.0 375.9,346.0 376.1,348.0 375.2,350.0 374.0,351.0 371.0,351.7 368.0,351.8 365.0,351.9 362.0,351.7 359.2,351.0 357.0,350.4 354.0,350.2 351.0,350.7 349.0,351.3 346.9,352.0 344.0,352.9 342.0,353.4 339.0,353.9 337.0,354.2 334.0,354.7 332.1,356.0 331.0,357.3 329.1,359.0 327.2,360.0 325.2,361.0 323.6,362.0 322.1,364.0 322.0,366.0 323.0,367.2 325.0,368.1 328.0,368.7 331.0,368.9 333.8,369.0 336.0,369.2 339.0,369.5 342.0,369.8 345.0,369.7 347.0,369.0 348.0,366.0 348.1,364.0 349.3,362.0 351.7,361.0 354.0,360.7 357.0,360.7 359.0,361.4 360.9,363.0 361.5,365.0 361.0,368.0 360.2,370.0 360.9,373.0 362.4,374.0 365.0,374.2 367.0,373.9 370.0,373.4 372.7,373.0 375.0,372.8 378.0,372.2 380.0,371.0 381.0,370.0 382.3,368.0 382.1,365.0 380.0,364.0 378.0,363.4 376.0,362.7 374.0,361.2 374.0,359.9 375.0,357.5 376.0,355.1 378.0,354.0 380.0,353.9 383.0,353.9 386.0,353.9 389.0,353.9 391.0,354.0 393.7,355.0 395.0,356.2 396.3,358.0 396.8,361.0 396.3,364.0 397.3,366.0 399.0,367.6 400.7,369.0 402.2,370.0 404.2,371.0 407.0,371.8 409.0,372.3 412.0,372.9 414.0,373.4 417.0,373.8 420.0,373.1 421.0,372.0 421.8,369.0 423.0,367.4 424.9,366.0 427.0,365.2 429.0,364.7 432.0,364.6 434.0,365.1 436.0,366.0 438.0,368.0 438.2,370.0 438.1,373.0 440.0,374.9 442.0,375.5 445.0,375.6 447.0,374.8 448.9,373.0 450.0,371.9 451.9,370.0 452.6,368.0 450.2,367.0 448.9,366.0 449.4,364.0 449.0,361.5 447.2,360.0 445.2,359.0 443.0,358.2 440.0,358.2 437.0,358.8 435.0,359.5 433.0,360.0 430.0,360.3 427.5,360.0 425.0,359.7 422.0,359.6 419.0,359.7 416.7,360.0 414.0,360.3 411.0,360.2 409.0,359.6 407.3,358.0 407.4,355.0 406.2,353.0 404.0,352.1 402.0,351.8 399.0,351.4 397.4,350.0 399.0,348.4 401.0,347.3 403.0,347.0 405.0,347.6 407.0,348.9 409.0,349.9 411.0,350.6 413.0,351.3 415.1,352.0 418.0,352.8 420.0,353.3 423.0,353.7 426.0,353.9 429.0,354.0 432.0,353.9 434.7,354.0 437.0,354.4 439.2,355.0 442.0,355.8 445.0,355.6 447.0,354.8 449.0,353.5 450.5,352.0 452.0,350.0 453.0,349.0 455.0,347.5 456.8,346.0 457.4,344.0 456.6,342.0 455.0,340.8 453.0,339.9 450.0,339.0 448.0,338.6 445.0,338.1 443.0,337.9 441.0,338.0 438.0,338.1 436.0,337.7 433.7,337.0 431.0,336.5 428.0,336.6 426.0,337.6 424.4,339.0 423.0,340.1 420.0,341.0 418.0,341.1 415.0,341.1 412.0,341.4 409.0,341.9 407.0,342.3 404.0,342.5 401.7,342.0 399.0,341.2 397.0,340.4 395.0,339.2 394.5,337.0 396.1,336.0 398.5,335.0 400.6,334.0 402.5,333.0 404.3,332.0 406.4,331.0 408.8,330.0 411.0,329.3 413.0,329.0 416.0,328.6 419.0,328.3 421.0,327.9 424.0,327.1 426.0,326.7 429.0,326.5 432.0,326.5 435.0,326.5 438.0,327.0 439.4,328.0 440.4,330.0 441.0,332.1 442.3,334.0 445.0,334.7 448.0,334.4 451.0,334.1 453.0,333.9 456.0,333.5 458.0,332.9 460.0,331.9 462.0,330.9 464.7,330.0 467.0,329.4 469.0,328.9 471.1,328.0 471.0,325.7 468.8,325.0 466.0,324.8 463.0,324.7 460.0,324.5 457.0,324.3 454.0,324.0 452.0,323.8 449.0,323.6 446.6,323.0 445.0,321.3 444.0,319.9 441.0,319.2 438.0,319.1 435.6,319.0 433.0,318.9 430.5,319.0 428.0,319.5 426.0,320.6 424.0,321.7 422.0,322.2 420.0,321.7 418.0,320.5 416.0,319.1 414.3,318.0 412.0,317.3 410.0,317.0 407.0,316.6 404.5,316.0 402.0,315.3 400.0,314.8 397.0,314.6 394.2,315.0 392.0,315.9 390.0,316.9 388.0,317.6 385.0,317.6 383.0,316.8 382.3,314.0 381.9,312.0 382.0,309.0 384.0,308.4 387.0,308.0 389.0,307.9 392.0,307.6 394.7,307.0 397.0,306.2 398.9,305.0 399.0,303.7 397.5,302.0 395.9,301.0 394.0,299.9 392.0,298.8 390.0,297.3 390.0,295.1 391.6,294.0 393.4,293.0 395.5,292.0 397.4,291.0 399.0,289.9 399.8,287.0 400.0,285.0 402.0,283.8 404.5,283.0 407.0,282.4 409.0,281.9 412.0,281.3 414.0,280.9 417.0,280.5 420.0,280.3 423.0,280.4 426.0,280.6 428.2,280.0 427.8,278.0 427.7,275.0 429.0,273.3 431.0,272.7 434.0,272.7 436.0,273.1 438.2,274.0 439.5,276.0 438.4,278.0 437.0,279.3 435.0,280.9 435.0,282.0 436.5,284.0 438.0,286.0 439.0,287.6 440.0,289.0 442.0,290.6 444.0,291.2 447.0,291.8 449.0,292.3 450.2,294.0 449.0,295.1 447.0,296.2 444.3,297.0 442.0,297.1 440.0,296.7 438.0,295.9 436.0,294.9 433.0,294.2 430.0,294.2 427.0,294.3 424.0,294.1 422.0,293.5 420.0,292.4 418.0,291.5 415.0,291.2 412.1,292.0 411.2,294.0 411.6,297.0 410.0,298.6 408.0,299.8 406.2,301.0 405.2,303.0 407.0,304.8 409.0,305.4 412.0,305.8 415.0,305.8 418.0,305.7 421.0,305.4 423.0,304.8 425.4,304.0 428.0,303.3 430.0,302.8 433.0,302.4 436.0,302.4 439.0,303.0 441.0,303.7 443.0,304.6 445.0,305.3 448.0,305.8 451.0,305.9 454.0,305.9 456.0,306.3 458.0,307.3 459.7,309.0 461.0,310.3 463.0,311.0 465.1,311.0 468.0,310.3 470.0,309.4 472.0,308.1 473.2,307.0 474.4,305.0 475.4,303.0 475.0,300.2 473.0,299.6 470.5,299.0 468.0,298.5 466.0,297.8 464.0,296.9 462.0,295.7 460.0,294.3 458.3,293.0 457.0,291.0 457.0,289.3 458.0,287.5 460.0,286.6 463.0,286.3 466.0,286.5M356.0,293.1 353.0,293.3 350.5,293.0 348.0,292.4 346.0,291.5 344.0,290.6 341.0,290.3 338.0,290.9 335.0,290.6M342.0,286.4 344.0,285.7 346.0,284.7 348.0,283.7 350.0,282.9 352.4,282.0 355.0,281.3 358.0,281.4 361.0,281.9 363.0,282.6 365.0,283.8 366.1,285.0 367.4,287.0 367.0,289.1 365.0,290.1 362.9,291.0 360.4,292.0 358.0,292.8 356.0,293.1M344.0,296.2 341.8,296.0 344.0,295.9M482.9,305.0 484.0,306.6 485.5,308.0M491.7,315.0 490.0,316.1 488.0,317.2 486.0,318.4 484.0,319.9 483.0,321.0 483.2,323.0 485.0,324.2 487.0,325.1 489.0,326.0 491.0,327.0 493.0,328.1 495.0,329.7 495.0,331.2 493.0,332.6 491.0,333.9 490.0,336.0 490.1,337.0 490.0,339.2 488.0,340.7 486.0,341.6 484.0,342.3 482.0,343.8 482.0,345.4 483.3,347.0 484.0,348.1 481.0,348.6 478.0,348.9 475.0,349.0 473.0,349.0 470.0,349.1 467.0,349.5 465.0,350.5 463.9,352.0 462.8,354.0 461.2,356.0 460.0,357.5 459.0,360.0 461.0,361.8 463.0,362.1 466.0,362.5 468.7,363.0 471.0,363.7 473.0,364.4 475.0,365.1 477.5,366.0 480.0,366.9 482.0,367.8 484.0,368.6 486.0,369.7 486.5,372.0 485.0,373.2 482.0,373.9 480.0,374.1 477.0,374.9 475.0,375.7 473.0,376.5 471.0,377.0 468.0,377.4 465.0,377.7 462.4,378.0 460.0,378.5 457.6,379.0 455.0,379.4 452.0,379.7 450.0,380.9 449.0,383.0 448.3,385.0 447.0,386.9 445.5,388.0 443.0,388.9 441.0,389.3 438.0,389.8 436.0,390.2 433.0,390.8 431.0,391.1 428.0,391.3 425.0,391.2 423.0,390.4 421.6,389.0 420.0,387.4 418.0,386.1 416.4,385.0 416.0,382.0 415.2,380.0 413.4,379.0 411.0,378.6 408.0,378.6 405.0,378.6 402.0,378.5 399.0,378.0 397.4,377.0 396.0,376.0 393.0,375.5 390.0,375.6 387.0,375.6 384.0,375.4 381.0,375.5 379.0,376.3 377.6,378.0 378.6,380.0 381.0,380.5 384.0,380.3 386.0,379.9 389.0,379.3 392.0,379.0 395.0,379.8 396.0,381.5 397.0,383.4 398.9,385.0 401.0,385.7 403.7,386.0 406.0,386.2 409.0,386.9 410.0,388.2 411.0,390.1 413.0,391.0 416.0,391.6 418.0,392.0 420.9,393.0 422.0,394.4 423.0,396.1 425.0,397.2 428.0,397.6 431.0,397.5 434.0,397.4 437.0,397.3 440.0,397.3 442.1,397.0 445.0,396.3 447.0,395.8 450.0,395.7 452.4,396.0 455.0,396.6 457.0,397.2 459.2,398.0M496.0,396.6 499.0,396.1 501.0,395.8 503.8,395.0 506.0,394.1 508.0,393.1 510.0,392.2M426.1,315.0 428.0,313.2 428.0,311.0 427.0,309.6 425.0,308.3 423.0,307.8 421.0,308.0 418.6,309.0 417.0,310.0 415.7,312.0 416.6,314.0 418.6,315.0 421.0,315.5 424.0,315.5 426.1,315.0M329.1,328.0 331.2,327.0 332.1,325.0 331.0,323.7 329.0,322.7 326.0,322.3 323.0,322.6 320.7,323.0 318.0,324.0 318.0,325.6 320.0,326.8 322.0,327.5 324.3,328.0 327.0,328.3 329.1,328.0M369.0,336.5 366.0,336.2 364.0,335.2 362.3,334.0 361.9,332.0 364.0,331.7 366.7,332.0 369.0,332.7 370.9,334.0 369.8,336.0M284.6,338.0 286.0,339.4 288.2,339.0 290.0,337.3 291.0,335.7 293.0,334.4 295.0,335.2 297.0,336.4 299.0,337.8 300.2,339.0 300.3,342.0 299.0,343.5 297.0,344.9 295.0,345.7 293.0,346.1 290.0,346.2 288.0,345.7 286.0,344.4 284.0,343.2M516.0,361.9 514.3,363.0 513.0,364.3 511.8,366.0 510.3,368.0 508.0,368.9 506.0,369.1 503.0,369.0 501.0,368.7 499.0,368.0 500.0,366.3 502.0,365.0 503.3,364.0 504.8,362.0 505.3,360.0 505.2,357.0 506.4,355.0 507.2,353.0 506.0,351.2 504.0,350.0 502.0,349.3 500.0,348.8 497.0,348.3 494.3,348.0 493.0,347.0 494.0,345.9 495.5,344.0 497.0,342.0 498.0,341.0 500.0,340.0 503.0,339.5 506.0,339.3 508.0,339.0M282.0,350.5 285.0,350.7 287.0,351.1 289.1,352.0 291.0,353.7 291.7,356.0 291.6,359.0 290.0,360.1 287.0,360.8 284.1,361.0 282.0,361.1 279.0,361.1M497.0,358.0 494.0,358.2 492.0,357.7 490.2,356.0 492.0,354.7 495.0,354.5 498.0,355.0 499.9,356.0 498.0,357.7M463.0,368.0 462.0,366.0 460.0,365.1 458.0,364.9 456.0,365.7 454.7,367.0 456.0,368.3 459.0,368.7 462.0,368.4M511.3,391.0 509.0,391.5 507.0,390.8 505.0,389.9 503.0,388.3 503.0,386.0 504.1,385.0 506.0,384.0 508.2,383.0 510.4,382.0 512.0,380.9 513.6,379.0 515.0,377.0 516.0,375.5 516.4,373.0 515.9,371.0 517.1,370.0M404.2,422.0 405.3,420.0 405.1,417.0 404.0,415.9 402.0,414.8 400.0,413.8 398.1,412.0 397.6,410.0 398.9,408.0 400.0,407.0 401.7,405.0 402.3,403.0 402.4,400.0 402.6,397.0 402.6,394.0 401.4,392.0 400.0,391.0 397.0,390.2 394.0,390.3 391.0,390.6 388.0,390.6 386.0,389.9 384.1,388.0 382.9,387.0 381.0,386.0 378.0,385.3 375.0,385.1 373.0,384.7 370.8,384.0 368.1,383.0 366.4,383.0 364.0,383.6 362.0,384.5 360.4,386.0 360.0,389.0 359.0,390.9 357.8,392.0 356.0,393.4 354.3,395.0 354.0,396.3 355.0,398.0 358.0,398.8 360.5,399.0 363.0,399.0 365.0,399.0 367.0,399.0 370.0,399.5 372.0,400.4 372.4,403.0 372.8,406.0 374.0,407.0 377.0,407.5 379.0,407.0 382.0,406.1 384.0,405.9 386.0,406.1 388.5,407.0 389.5,409.0 387.0,409.8 385.0,410.0 382.0,410.1 379.0,410.2 376.1,411.0 375.3,413.0 376.5,415.0 378.0,416.2 380.0,417.2 383.0,417.8 385.0,418.1 388.0,418.3 391.0,418.4 394.0,418.8 396.0,419.4 398.0,420.2 400.0,421.3 402.0,422.3 404.2,422.0M476.0,395.2 473.0,395.5 470.0,395.1 468.0,394.3 466.1,393.0 465.0,391.9 463.1,390.0 462.5,388.0 464.4,387.0 467.0,386.5 470.0,386.1 472.0,385.9 474.7,386.0 477.0,386.6 479.0,387.7 480.8,389.0 481.8,391.0 480.6,393.0 479.0,394.1 476.8,395.0M338.9,396.0 337.1,394.0 335.0,393.5 332.0,393.4 331.0,394.3 333.0,395.7 335.0,396.5 338.0,396.7M361.5,416.0 363.4,415.0 365.0,413.9 367.0,412.2 367.4,410.0 365.0,409.0 363.0,408.6 360.4,408.0 358.0,407.2 356.6,406.0 355.4,404.0 354.0,402.2 352.1,401.0 350.0,400.4 347.0,400.3 344.0,400.2 341.0,400.0 338.0,400.1 335.2,401.0 333.4,402.0 332.0,403.1 330.0,404.9 328.7,406.0 327.0,407.9 327.3,409.0M347.0,409.5 349.6,410.0 351.8,411.0 353.0,412.1 354.4,414.0 356.0,415.8 358.0,416.6 361.0,416.2M444.0,402.2 442.0,403.3 440.0,404.9 438.0,405.7 436.0,406.2 433.0,406.6 430.0,406.6 427.0,406.9 425.5,408.0 424.7,410.0 423.5,412.0 422.2,414.0M354.0,424.2 354.0,422.6 352.0,421.1 350.0,420.7" fill="none" stroke="#ffffff" stroke-width="2.2" stroke-linejoin="round" opacity="0.12" transform="translate(1.4,1.4)"/>
<path d="M417.0,266.6 418.2,268.0 418.0,270.4 416.0,271.6 414.0,272.1 411.0,272.4 408.0,272.5 405.0,272.6 402.0,272.7 399.0,272.7 396.0,272.7 393.0,272.9 391.0,273.4 389.1,275.0 388.0,276.3 386.0,277.5 383.0,277.8 380.0,277.5 377.0,277.1 375.0,276.7 372.0,276.0 370.0,275.5 368.0,275.0 365.0,274.4M375.0,272.0 377.0,272.7 379.0,273.0 382.0,273.0 384.0,272.7 386.2,272.0 387.3,270.0M281.0,381.9 283.0,382.7 285.0,383.3 288.0,383.4 291.0,383.0 293.0,382.6 296.0,382.1 299.0,382.2 302.0,383.0 304.0,383.6 306.0,384.4 308.0,385.5 308.0,387.1 306.0,388.4 304.0,389.2 301.0,389.8 299.0,390.0 296.0,390.2 293.0,390.4 290.0,390.8 288.0,391.3 286.0,392.2M294.0,402.4 296.2,402.0 298.9,401.0 300.7,400.0 302.2,399.0 304.4,398.0 307.0,397.7 309.2,398.0 312.0,398.5 315.0,398.8 318.0,398.6 320.9,398.0 323.0,397.2 325.0,396.0 325.6,394.0 324.0,393.0 322.0,391.6 320.4,390.0 319.7,388.0 322.0,387.6 324.5,388.0 327.0,388.4 330.0,388.4 332.0,387.6 333.9,386.0 334.0,384.8 332.0,383.3 330.0,382.5 328.0,381.6 326.0,380.7 324.0,379.9 321.0,379.0 319.0,378.9 317.0,379.0 314.0,379.3 311.0,379.2 309.0,378.9 306.0,378.3 303.0,378.3 300.0,378.7 297.0,378.4 295.6,377.0 295.2,374.0 294.0,373.0 292.0,371.9 290.0,370.7 289.9,368.0 291.2,367.0 293.1,366.0 295.5,365.0 297.5,364.0 298.8,362.0 299.2,360.0 301.6,359.0 304.0,358.4 306.0,357.8 308.0,356.9 309.9,355.0 309.0,352.3 308.8,350.0 309.6,348.0 309.9,345.0 309.8,342.0 310.0,339.8 311.0,338.0 312.5,336.0 313.9,334.0 314.0,332.8 312.0,331.5 310.0,330.9 307.0,330.5 304.0,330.5 301.0,330.7 298.8,331.0 296.0,331.6 294.0,332.2 291.0,332.0 289.2,331.0M291.0,327.1 293.0,326.4 295.0,325.2 297.0,324.3 299.0,323.8 302.0,323.9 304.0,324.1 307.0,324.1 309.0,323.7 310.0,322.7 309.0,320.9 307.0,319.5 305.0,318.6 303.0,317.9 301.0,317.0M324.0,296.0 325.4,297.0 327.0,298.2 329.0,299.2 332.0,299.9 334.0,300.1 336.8,300.0 339.0,299.9 341.0,300.2 343.0,302.0 344.0,304.0 343.8,305.0 342.0,306.6 340.0,307.4 337.0,307.6 334.8,307.0 332.0,306.1 330.0,305.8 327.0,306.0 325.0,306.4 322.0,306.9 320.0,307.0 318.0,306.9 315.0,306.7 313.2,308.0 315.0,309.0 318.0,309.2 321.0,309.7 323.0,310.6 325.0,312.0 326.3,313.0 328.0,314.2 330.0,315.1 333.0,315.5 336.0,315.7 338.4,316.0 341.0,316.5 344.0,316.7 347.0,316.3 349.0,315.8 352.0,315.0 354.0,314.5 356.0,313.8 357.6,312.0 356.9,310.0 356.4,307.0 358.0,305.5 360.0,304.7 363.0,304.4 366.0,305.0 368.0,305.7 370.0,306.8 371.3,308.0 371.0,310.3 369.4,312.0 368.0,313.2 366.3,315.0 366.7,318.0 365.9,320.0 364.0,322.0 362.8,323.0 361.0,324.4 359.0,325.4 356.0,325.8 353.0,325.5 350.6,325.0 348.0,324.4 346.0,323.8 343.0,323.2 340.0,323.8 339.0,325.6 338.8,328.0 338.0,330.4 336.8,332.0 335.0,333.4 333.0,334.6 331.4,336.0 330.0,337.6 328.5,339.0 327.0,340.0 325.0,341.2 323.0,342.4 321.8,344.0 322.2,346.0 324.0,347.7 326.0,348.2 328.8,348.0 331.0,347.5 333.1,347.0 336.0,346.2 338.0,345.5 340.0,344.4 342.0,343.3 344.0,342.5 347.0,342.0 349.0,342.0 351.0,342.0 354.0,342.1 357.0,342.0 359.0,341.9 362.0,341.5 365.0,341.2 368.0,341.2 370.9,342.0 373.0,342.9 374.5,344.0 375.9,346.0 376.1,348.0 375.2,350.0 374.0,351.0 371.0,351.7 368.0,351.8 365.0,351.9 362.0,351.7 359.2,351.0 357.0,350.4 354.0,350.2 351.0,350.7 349.0,351.3 346.9,352.0 344.0,352.9 342.0,353.4 339.0,353.9 337.0,354.2 334.0,354.7 332.1,356.0 331.0,357.3 329.1,359.0 327.2,360.0 325.2,361.0 323.6,362.0 322.1,364.0 322.0,366.0 323.0,367.2 325.0,368.1 328.0,368.7 331.0,368.9 333.8,369.0 336.0,369.2 339.0,369.5 342.0,369.8 345.0,369.7 347.0,369.0 348.0,366.0 348.1,364.0 349.3,362.0 351.7,361.0 354.0,360.7 357.0,360.7 359.0,361.4 360.9,363.0 361.5,365.0 361.0,368.0 360.2,370.0 360.9,373.0 362.4,374.0 365.0,374.2 367.0,373.9 370.0,373.4 372.7,373.0 375.0,372.8 378.0,372.2 380.0,371.0 381.0,370.0 382.3,368.0 382.1,365.0 380.0,364.0 378.0,363.4 376.0,362.7 374.0,361.2 374.0,359.9 375.0,357.5 376.0,355.1 378.0,354.0 380.0,353.9 383.0,353.9 386.0,353.9 389.0,353.9 391.0,354.0 393.7,355.0 395.0,356.2 396.3,358.0 396.8,361.0 396.3,364.0 397.3,366.0 399.0,367.6 400.7,369.0 402.2,370.0 404.2,371.0 407.0,371.8 409.0,372.3 412.0,372.9 414.0,373.4 417.0,373.8 420.0,373.1 421.0,372.0 421.8,369.0 423.0,367.4 424.9,366.0 427.0,365.2 429.0,364.7 432.0,364.6 434.0,365.1 436.0,366.0 438.0,368.0 438.2,370.0 438.1,373.0 440.0,374.9 442.0,375.5 445.0,375.6 447.0,374.8 448.9,373.0 450.0,371.9 451.9,370.0 452.6,368.0 450.2,367.0 448.9,366.0 449.4,364.0 449.0,361.5 447.2,360.0 445.2,359.0 443.0,358.2 440.0,358.2 437.0,358.8 435.0,359.5 433.0,360.0 430.0,360.3 427.5,360.0 425.0,359.7 422.0,359.6 419.0,359.7 416.7,360.0 414.0,360.3 411.0,360.2 409.0,359.6 407.3,358.0 407.4,355.0 406.2,353.0 404.0,352.1 402.0,351.8 399.0,351.4 397.4,350.0 399.0,348.4 401.0,347.3 403.0,347.0 405.0,347.6 407.0,348.9 409.0,349.9 411.0,350.6 413.0,351.3 415.1,352.0 418.0,352.8 420.0,353.3 423.0,353.7 426.0,353.9 429.0,354.0 432.0,353.9 434.7,354.0 437.0,354.4 439.2,355.0 442.0,355.8 445.0,355.6 447.0,354.8 449.0,353.5 450.5,352.0 452.0,350.0 453.0,349.0 455.0,347.5 456.8,346.0 457.4,344.0 456.6,342.0 455.0,340.8 453.0,339.9 450.0,339.0 448.0,338.6 445.0,338.1 443.0,337.9 441.0,338.0 438.0,338.1 436.0,337.7 433.7,337.0 431.0,336.5 428.0,336.6 426.0,337.6 424.4,339.0 423.0,340.1 420.0,341.0 418.0,341.1 415.0,341.1 412.0,341.4 409.0,341.9 407.0,342.3 404.0,342.5 401.7,342.0 399.0,341.2 397.0,340.4 395.0,339.2 394.5,337.0 396.1,336.0 398.5,335.0 400.6,334.0 402.5,333.0 404.3,332.0 406.4,331.0 408.8,330.0 411.0,329.3 413.0,329.0 416.0,328.6 419.0,328.3 421.0,327.9 424.0,327.1 426.0,326.7 429.0,326.5 432.0,326.5 435.0,326.5 438.0,327.0 439.4,328.0 440.4,330.0 441.0,332.1 442.3,334.0 445.0,334.7 448.0,334.4 451.0,334.1 453.0,333.9 456.0,333.5 458.0,332.9 460.0,331.9 462.0,330.9 464.7,330.0 467.0,329.4 469.0,328.9 471.1,328.0 471.0,325.7 468.8,325.0 466.0,324.8 463.0,324.7 460.0,324.5 457.0,324.3 454.0,324.0 452.0,323.8 449.0,323.6 446.6,323.0 445.0,321.3 444.0,319.9 441.0,319.2 438.0,319.1 435.6,319.0 433.0,318.9 430.5,319.0 428.0,319.5 426.0,320.6 424.0,321.7 422.0,322.2 420.0,321.7 418.0,320.5 416.0,319.1 414.3,318.0 412.0,317.3 410.0,317.0 407.0,316.6 404.5,316.0 402.0,315.3 400.0,314.8 397.0,314.6 394.2,315.0 392.0,315.9 390.0,316.9 388.0,317.6 385.0,317.6 383.0,316.8 382.3,314.0 381.9,312.0 382.0,309.0 384.0,308.4 387.0,308.0 389.0,307.9 392.0,307.6 394.7,307.0 397.0,306.2 398.9,305.0 399.0,303.7 397.5,302.0 395.9,301.0 394.0,299.9 392.0,298.8 390.0,297.3 390.0,295.1 391.6,294.0 393.4,293.0 395.5,292.0 397.4,291.0 399.0,289.9 399.8,287.0 400.0,285.0 402.0,283.8 404.5,283.0 407.0,282.4 409.0,281.9 412.0,281.3 414.0,280.9 417.0,280.5 420.0,280.3 423.0,280.4 426.0,280.6 428.2,280.0 427.8,278.0 427.7,275.0 429.0,273.3 431.0,272.7 434.0,272.7 436.0,273.1 438.2,274.0 439.5,276.0 438.4,278.0 437.0,279.3 435.0,280.9 435.0,282.0 436.5,284.0 438.0,286.0 439.0,287.6 440.0,289.0 442.0,290.6 444.0,291.2 447.0,291.8 449.0,292.3 450.2,294.0 449.0,295.1 447.0,296.2 444.3,297.0 442.0,297.1 440.0,296.7 438.0,295.9 436.0,294.9 433.0,294.2 430.0,294.2 427.0,294.3 424.0,294.1 422.0,293.5 420.0,292.4 418.0,291.5 415.0,291.2 412.1,292.0 411.2,294.0 411.6,297.0 410.0,298.6 408.0,299.8 406.2,301.0 405.2,303.0 407.0,304.8 409.0,305.4 412.0,305.8 415.0,305.8 418.0,305.7 421.0,305.4 423.0,304.8 425.4,304.0 428.0,303.3 430.0,302.8 433.0,302.4 436.0,302.4 439.0,303.0 441.0,303.7 443.0,304.6 445.0,305.3 448.0,305.8 451.0,305.9 454.0,305.9 456.0,306.3 458.0,307.3 459.7,309.0 461.0,310.3 463.0,311.0 465.1,311.0 468.0,310.3 470.0,309.4 472.0,308.1 473.2,307.0 474.4,305.0 475.4,303.0 475.0,300.2 473.0,299.6 470.5,299.0 468.0,298.5 466.0,297.8 464.0,296.9 462.0,295.7 460.0,294.3 458.3,293.0 457.0,291.0 457.0,289.3 458.0,287.5 460.0,286.6 463.0,286.3 466.0,286.5M356.0,293.1 353.0,293.3 350.5,293.0 348.0,292.4 346.0,291.5 344.0,290.6 341.0,290.3 338.0,290.9 335.0,290.6M342.0,286.4 344.0,285.7 346.0,284.7 348.0,283.7 350.0,282.9 352.4,282.0 355.0,281.3 358.0,281.4 361.0,281.9 363.0,282.6 365.0,283.8 366.1,285.0 367.4,287.0 367.0,289.1 365.0,290.1 362.9,291.0 360.4,292.0 358.0,292.8 356.0,293.1M344.0,296.2 341.8,296.0 344.0,295.9M482.9,305.0 484.0,306.6 485.5,308.0M491.7,315.0 490.0,316.1 488.0,317.2 486.0,318.4 484.0,319.9 483.0,321.0 483.2,323.0 485.0,324.2 487.0,325.1 489.0,326.0 491.0,327.0 493.0,328.1 495.0,329.7 495.0,331.2 493.0,332.6 491.0,333.9 490.0,336.0 490.1,337.0 490.0,339.2 488.0,340.7 486.0,341.6 484.0,342.3 482.0,343.8 482.0,345.4 483.3,347.0 484.0,348.1 481.0,348.6 478.0,348.9 475.0,349.0 473.0,349.0 470.0,349.1 467.0,349.5 465.0,350.5 463.9,352.0 462.8,354.0 461.2,356.0 460.0,357.5 459.0,360.0 461.0,361.8 463.0,362.1 466.0,362.5 468.7,363.0 471.0,363.7 473.0,364.4 475.0,365.1 477.5,366.0 480.0,366.9 482.0,367.8 484.0,368.6 486.0,369.7 486.5,372.0 485.0,373.2 482.0,373.9 480.0,374.1 477.0,374.9 475.0,375.7 473.0,376.5 471.0,377.0 468.0,377.4 465.0,377.7 462.4,378.0 460.0,378.5 457.6,379.0 455.0,379.4 452.0,379.7 450.0,380.9 449.0,383.0 448.3,385.0 447.0,386.9 445.5,388.0 443.0,388.9 441.0,389.3 438.0,389.8 436.0,390.2 433.0,390.8 431.0,391.1 428.0,391.3 425.0,391.2 423.0,390.4 421.6,389.0 420.0,387.4 418.0,386.1 416.4,385.0 416.0,382.0 415.2,380.0 413.4,379.0 411.0,378.6 408.0,378.6 405.0,378.6 402.0,378.5 399.0,378.0 397.4,377.0 396.0,376.0 393.0,375.5 390.0,375.6 387.0,375.6 384.0,375.4 381.0,375.5 379.0,376.3 377.6,378.0 378.6,380.0 381.0,380.5 384.0,380.3 386.0,379.9 389.0,379.3 392.0,379.0 395.0,379.8 396.0,381.5 397.0,383.4 398.9,385.0 401.0,385.7 403.7,386.0 406.0,386.2 409.0,386.9 410.0,388.2 411.0,390.1 413.0,391.0 416.0,391.6 418.0,392.0 420.9,393.0 422.0,394.4 423.0,396.1 425.0,397.2 428.0,397.6 431.0,397.5 434.0,397.4 437.0,397.3 440.0,397.3 442.1,397.0 445.0,396.3 447.0,395.8 450.0,395.7 452.4,396.0 455.0,396.6 457.0,397.2 459.2,398.0M496.0,396.6 499.0,396.1 501.0,395.8 503.8,395.0 506.0,394.1 508.0,393.1 510.0,392.2M426.1,315.0 428.0,313.2 428.0,311.0 427.0,309.6 425.0,308.3 423.0,307.8 421.0,308.0 418.6,309.0 417.0,310.0 415.7,312.0 416.6,314.0 418.6,315.0 421.0,315.5 424.0,315.5 426.1,315.0M329.1,328.0 331.2,327.0 332.1,325.0 331.0,323.7 329.0,322.7 326.0,322.3 323.0,322.6 320.7,323.0 318.0,324.0 318.0,325.6 320.0,326.8 322.0,327.5 324.3,328.0 327.0,328.3 329.1,328.0M369.0,336.5 366.0,336.2 364.0,335.2 362.3,334.0 361.9,332.0 364.0,331.7 366.7,332.0 369.0,332.7 370.9,334.0 369.8,336.0M284.6,338.0 286.0,339.4 288.2,339.0 290.0,337.3 291.0,335.7 293.0,334.4 295.0,335.2 297.0,336.4 299.0,337.8 300.2,339.0 300.3,342.0 299.0,343.5 297.0,344.9 295.0,345.7 293.0,346.1 290.0,346.2 288.0,345.7 286.0,344.4 284.0,343.2M516.0,361.9 514.3,363.0 513.0,364.3 511.8,366.0 510.3,368.0 508.0,368.9 506.0,369.1 503.0,369.0 501.0,368.7 499.0,368.0 500.0,366.3 502.0,365.0 503.3,364.0 504.8,362.0 505.3,360.0 505.2,357.0 506.4,355.0 507.2,353.0 506.0,351.2 504.0,350.0 502.0,349.3 500.0,348.8 497.0,348.3 494.3,348.0 493.0,347.0 494.0,345.9 495.5,344.0 497.0,342.0 498.0,341.0 500.0,340.0 503.0,339.5 506.0,339.3 508.0,339.0M282.0,350.5 285.0,350.7 287.0,351.1 289.1,352.0 291.0,353.7 291.7,356.0 291.6,359.0 290.0,360.1 287.0,360.8 284.1,361.0 282.0,361.1 279.0,361.1M497.0,358.0 494.0,358.2 492.0,357.7 490.2,356.0 492.0,354.7 495.0,354.5 498.0,355.0 499.9,356.0 498.0,357.7M463.0,368.0 462.0,366.0 460.0,365.1 458.0,364.9 456.0,365.7 454.7,367.0 456.0,368.3 459.0,368.7 462.0,368.4M511.3,391.0 509.0,391.5 507.0,390.8 505.0,389.9 503.0,388.3 503.0,386.0 504.1,385.0 506.0,384.0 508.2,383.0 510.4,382.0 512.0,380.9 513.6,379.0 515.0,377.0 516.0,375.5 516.4,373.0 515.9,371.0 517.1,370.0M404.2,422.0 405.3,420.0 405.1,417.0 404.0,415.9 402.0,414.8 400.0,413.8 398.1,412.0 397.6,410.0 398.9,408.0 400.0,407.0 401.7,405.0 402.3,403.0 402.4,400.0 402.6,397.0 402.6,394.0 401.4,392.0 400.0,391.0 397.0,390.2 394.0,390.3 391.0,390.6 388.0,390.6 386.0,389.9 384.1,388.0 382.9,387.0 381.0,386.0 378.0,385.3 375.0,385.1 373.0,384.7 370.8,384.0 368.1,383.0 366.4,383.0 364.0,383.6 362.0,384.5 360.4,386.0 360.0,389.0 359.0,390.9 357.8,392.0 356.0,393.4 354.3,395.0 354.0,396.3 355.0,398.0 358.0,398.8 360.5,399.0 363.0,399.0 365.0,399.0 367.0,399.0 370.0,399.5 372.0,400.4 372.4,403.0 372.8,406.0 374.0,407.0 377.0,407.5 379.0,407.0 382.0,406.1 384.0,405.9 386.0,406.1 388.5,407.0 389.5,409.0 387.0,409.8 385.0,410.0 382.0,410.1 379.0,410.2 376.1,411.0 375.3,413.0 376.5,415.0 378.0,416.2 380.0,417.2 383.0,417.8 385.0,418.1 388.0,418.3 391.0,418.4 394.0,418.8 396.0,419.4 398.0,420.2 400.0,421.3 402.0,422.3 404.2,422.0M476.0,395.2 473.0,395.5 470.0,395.1 468.0,394.3 466.1,393.0 465.0,391.9 463.1,390.0 462.5,388.0 464.4,387.0 467.0,386.5 470.0,386.1 472.0,385.9 474.7,386.0 477.0,386.6 479.0,387.7 480.8,389.0 481.8,391.0 480.6,393.0 479.0,394.1 476.8,395.0M338.9,396.0 337.1,394.0 335.0,393.5 332.0,393.4 331.0,394.3 333.0,395.7 335.0,396.5 338.0,396.7M361.5,416.0 363.4,415.0 365.0,413.9 367.0,412.2 367.4,410.0 365.0,409.0 363.0,408.6 360.4,408.0 358.0,407.2 356.6,406.0 355.4,404.0 354.0,402.2 352.1,401.0 350.0,400.4 347.0,400.3 344.0,400.2 341.0,400.0 338.0,400.1 335.2,401.0 333.4,402.0 332.0,403.1 330.0,404.9 328.7,406.0 327.0,407.9 327.3,409.0M347.0,409.5 349.6,410.0 351.8,411.0 353.0,412.1 354.4,414.0 356.0,415.8 358.0,416.6 361.0,416.2M444.0,402.2 442.0,403.3 440.0,404.9 438.0,405.7 436.0,406.2 433.0,406.6 430.0,406.6 427.0,406.9 425.5,408.0 424.7,410.0 423.5,412.0 422.2,414.0M354.0,424.2 354.0,422.6 352.0,421.1 350.0,420.7" fill="none" stroke="#16163a" stroke-width="1.8" stroke-linejoin="round" opacity="0.4"/></g>
<path d="M279.2,356.4 C279.8,352.0 280.2,347.4 281.8,342.9 C283.4,338.4 286.0,333.6 288.5,329.4 C291.0,325.2 293.6,321.6 297.0,317.6 C300.4,313.7 304.6,309.4 308.8,305.7 C313.0,302.0 317.2,298.8 322.3,295.6 C327.4,292.4 333.6,289.4 339.2,286.3 C344.8,283.2 350.5,279.4 356.1,277.0 C361.7,274.6 367.4,273.3 373.0,271.9 C378.6,270.5 384.7,269.8 390.0,268.5 C395.3,267.2 400.8,264.7 405.0,264.3 C409.2,263.9 412.5,266.1 415.3,266.0 C418.1,265.9 419.2,264.1 422.0,263.8 C424.8,263.5 428.2,263.0 432.2,264.3 C436.1,265.6 442.3,269.6 445.7,271.9 C449.1,274.1 449.1,275.8 452.5,277.8 C455.9,279.8 462.3,281.0 466.0,283.7 C469.7,286.4 471.7,290.5 474.5,293.9 C477.3,297.3 480.4,300.9 482.9,304.0 C485.4,307.1 487.4,310.0 489.7,312.5 C491.9,315.0 494.1,316.4 496.4,319.2 C498.6,322.0 500.9,325.7 503.2,329.4 C505.5,333.1 507.8,337.0 510.0,341.2 C512.2,345.4 515.1,350.2 516.7,354.7 C518.3,359.2 519.4,362.8 519.5,368.0 C519.6,373.2 519.0,381.2 517.2,385.8 C515.5,390.4 512.5,393.6 509.0,395.5 C505.5,397.4 501.4,397.1 496.0,397.1 C490.6,397.1 483.1,395.2 476.6,395.5 C470.1,395.8 463.5,396.9 457.0,398.8 C450.5,400.7 444.0,403.9 437.5,406.9 C431.0,409.9 424.5,413.4 418.0,416.6 C411.5,419.9 405.0,423.9 398.5,426.4 C392.0,428.8 384.9,430.8 379.0,431.3 C373.1,431.8 367.7,431.0 362.8,429.6 C357.9,428.2 352.8,425.8 349.8,423.1 C346.8,420.4 345.4,416.1 344.9,413.4 C344.3,410.7 347.9,407.7 346.5,406.9 C345.1,406.1 341.7,408.0 336.8,408.5 C331.9,409.0 323.3,410.4 317.3,410.1 C311.3,409.8 305.9,408.8 301.0,406.9 C296.1,405.0 291.2,402.3 288.0,398.8 C284.8,395.3 283.1,390.7 281.5,385.8 C279.9,380.9 278.7,374.4 278.3,369.5 C277.9,364.6 278.6,360.8 279.2,356.4Z" fill="none" stroke="#10102a" stroke-width="5" opacity="0.22" filter="url(#bsh)"/>
</g>
<path d="M279.2,356.4 C279.8,352.0 280.2,347.4 281.8,342.9 C283.4,338.4 286.0,333.6 288.5,329.4 C291.0,325.2 293.6,321.6 297.0,317.6 C300.4,313.7 304.6,309.4 308.8,305.7 C313.0,302.0 317.2,298.8 322.3,295.6 C327.4,292.4 333.6,289.4 339.2,286.3 C344.8,283.2 350.5,279.4 356.1,277.0 C361.7,274.6 367.4,273.3 373.0,271.9 C378.6,270.5 384.7,269.8 390.0,268.5 C395.3,267.2 400.8,264.7 405.0,264.3 C409.2,263.9 412.5,266.1 415.3,266.0 C418.1,265.9 419.2,264.1 422.0,263.8 C424.8,263.5 428.2,263.0 432.2,264.3 C436.1,265.6 442.3,269.6 445.7,271.9 C449.1,274.1 449.1,275.8 452.5,277.8 C455.9,279.8 462.3,281.0 466.0,283.7 C469.7,286.4 471.7,290.5 474.5,293.9 C477.3,297.3 480.4,300.9 482.9,304.0 C485.4,307.1 487.4,310.0 489.7,312.5 C491.9,315.0 494.1,316.4 496.4,319.2 C498.6,322.0 500.9,325.7 503.2,329.4 C505.5,333.1 507.8,337.0 510.0,341.2 C512.2,345.4 515.1,350.2 516.7,354.7 C518.3,359.2 519.4,362.8 519.5,368.0 C519.6,373.2 519.0,381.2 517.2,385.8 C515.5,390.4 512.5,393.6 509.0,395.5 C505.5,397.4 501.4,397.1 496.0,397.1 C490.6,397.1 483.1,395.2 476.6,395.5 C470.1,395.8 463.5,396.9 457.0,398.8 C450.5,400.7 444.0,403.9 437.5,406.9 C431.0,409.9 424.5,413.4 418.0,416.6 C411.5,419.9 405.0,423.9 398.5,426.4 C392.0,428.8 384.9,430.8 379.0,431.3 C373.1,431.8 367.7,431.0 362.8,429.6 C357.9,428.2 352.8,425.8 349.8,423.1 C346.8,420.4 345.4,416.1 344.9,413.4 C344.3,410.7 347.9,407.7 346.5,406.9 C345.1,406.1 341.7,408.0 336.8,408.5 C331.9,409.0 323.3,410.4 317.3,410.1 C311.3,409.8 305.9,408.8 301.0,406.9 C296.1,405.0 291.2,402.3 288.0,398.8 C284.8,395.3 283.1,390.7 281.5,385.8 C279.9,380.9 278.7,374.4 278.3,369.5 C277.9,364.6 278.6,360.8 279.2,356.4Z" fill="none" stroke="#1a1a2e" stroke-width="0.9" opacity="0.8"/>
<clipPath id="cme"><path d="M529.7,352.1 C531.6,344.6 535.6,339.2 539.4,332.7 C543.2,326.2 547.0,320.3 552.4,313.3 C557.8,306.3 564.8,297.1 571.8,290.6 C578.8,284.1 586.9,278.4 594.5,274.4 C602.1,270.3 609.1,267.9 617.2,266.3 C625.3,264.7 633.8,263.9 643.0,264.7 C652.2,265.5 662.5,268.0 672.2,271.2 C681.9,274.4 692.1,279.2 701.3,284.1 C710.5,289.0 719.7,294.4 727.3,300.3 C734.9,306.2 741.0,312.8 746.7,319.8 C752.4,326.8 757.8,334.8 761.3,342.4 C764.8,349.9 766.6,358.1 767.7,365.1 C768.8,372.1 769.1,378.6 767.7,384.5 C766.4,390.4 763.1,396.6 759.6,400.7 C756.1,404.8 752.1,407.2 746.7,408.8 C741.3,410.4 734.3,410.7 727.3,410.4 C720.3,410.1 709.2,406.1 704.6,407.2 C700.0,408.3 701.3,413.1 699.7,416.9 C698.1,420.7 697.3,426.7 694.9,429.9 C692.5,433.1 689.0,435.2 685.2,436.3 C681.4,437.4 676.5,437.4 672.2,436.3 C667.9,435.2 664.1,432.6 659.2,429.9 C654.3,427.2 649.5,423.4 643.0,420.2 C636.5,416.9 629.0,414.2 620.4,410.4 C611.8,406.6 600.4,400.2 591.2,397.5 C582.0,394.8 573.4,394.5 565.3,394.2 C557.2,393.9 548.1,396.4 542.7,395.9 C537.3,395.4 535.4,394.0 533.0,391.0 C530.6,388.0 528.6,384.5 528.1,378.0 C527.6,371.5 527.8,359.7 529.7,352.1Z"/></clipPath>
<path d="M529.7,352.1 C531.6,344.6 535.6,339.2 539.4,332.7 C543.2,326.2 547.0,320.3 552.4,313.3 C557.8,306.3 564.8,297.1 571.8,290.6 C578.8,284.1 586.9,278.4 594.5,274.4 C602.1,270.3 609.1,267.9 617.2,266.3 C625.3,264.7 633.8,263.9 643.0,264.7 C652.2,265.5 662.5,268.0 672.2,271.2 C681.9,274.4 692.1,279.2 701.3,284.1 C710.5,289.0 719.7,294.4 727.3,300.3 C734.9,306.2 741.0,312.8 746.7,319.8 C752.4,326.8 757.8,334.8 761.3,342.4 C764.8,349.9 766.6,358.1 767.7,365.1 C768.8,372.1 769.1,378.6 767.7,384.5 C766.4,390.4 763.1,396.6 759.6,400.7 C756.1,404.8 752.1,407.2 746.7,408.8 C741.3,410.4 734.3,410.7 727.3,410.4 C720.3,410.1 709.2,406.1 704.6,407.2 C700.0,408.3 701.3,413.1 699.7,416.9 C698.1,420.7 697.3,426.7 694.9,429.9 C692.5,433.1 689.0,435.2 685.2,436.3 C681.4,437.4 676.5,437.4 672.2,436.3 C667.9,435.2 664.1,432.6 659.2,429.9 C654.3,427.2 649.5,423.4 643.0,420.2 C636.5,416.9 629.0,414.2 620.4,410.4 C611.8,406.6 600.4,400.2 591.2,397.5 C582.0,394.8 573.4,394.5 565.3,394.2 C557.2,393.9 548.1,396.4 542.7,395.9 C537.3,395.4 535.4,394.0 533.0,391.0 C530.6,388.0 528.6,384.5 528.1,378.0 C527.6,371.5 527.8,359.7 529.7,352.1Z" fill="#1e8896"/>
<g clip-path="url(#cme)">
<g filter="url(#bp)">
<path d="M623.6,268.0 625.2,269.8 631.4,267.9 635.7,266.8 639.1,267.5 642.0,267.8 647.4,265.4 651.4,268.0 656.0,266.3 659.4,267.8 663.2,269.3 669.0,271.6 672.0,271.2 676.4,272.9 679.4,273.3 684.1,273.3 688.4,274.4 692.1,276.5 695.5,278.3 701.1,281.0 703.8,281.1 705.3,284.6 711.0,287.0 712.9,286.7 715.2,288.4 720.8,290.6 725.2,292.9 728.0,296.1 730.9,297.7 733.8,298.4 736.7,302.8 741.7,308.6 744.0,312.3 746.7,313.3 747.6,319.0 751.9,320.3 754.1,322.9 753.8,327.1 756.2,330.2 760.3,334.8 761.3,338.1 762.9,342.4 761.4,346.9 762.0,350.7 763.3,357.3 766.7,359.2 767.9,362.2 767.7,367.7 767.7,371.6 767.6,378.0 767.8,381.6 764.5,385.0 766.1,391.0 762.7,394.4 758.3,400.4 758.2,401.4 753.2,404.0 748.9,404.8 743.4,406.2 740.5,405.7 736.3,408.1 729.3,408.3 727.3,410.4 722.9,411.4 720.1,406.2 716.2,404.7 713.0,404.7 707.8,404.0 711.6,403.0 714.1,397.1 718.8,397.4 721.5,390.2 727.3,391.0 728.9,387.9 733.0,382.9 733.2,381.1 733.6,375.4 738.3,372.7 740.2,368.3 738.3,363.8 734.6,358.5 736.9,353.6 735.1,350.7 733.7,345.7 730.5,342.6 727.0,338.9 726.1,336.1 721.9,333.0 720.7,327.0 718.5,325.8 714.3,323.0 710.8,323.2 704.6,319.7 701.8,318.4 700.2,317.1 693.4,317.2 688.6,315.2 686.3,314.1 681.9,313.3 677.8,311.8 672.0,312.1 671.9,310.9 666.0,310.9 660.2,311.3 657.9,310.4 652.7,309.8 649.5,306.8 645.9,306.8 640.7,305.2 637.4,305.0 629.0,302.9 626.9,303.6 625.3,300.1 624.2,297.3 620.6,292.1 619.5,288.9 620.4,284.1 621.1,280.6 621.0,277.6 624.1,272.7Z" fill="#1d8696"/>
<path d="M539.4,332.7 542.1,330.2 544.1,327.3 549.7,324.3 549.7,320.2 551.8,317.2 556.6,311.0 558.9,310.1 560.7,306.9 565.0,302.9 569.0,301.9 571.6,297.8 576.3,297.9 577.7,292.3 582.1,289.8 584.8,287.4 588.5,285.7 590.2,283.8 596.5,279.1 600.2,277.0 604.2,274.4 606.0,274.9 612.0,272.4 617.0,269.3 620.3,268.9 623.6,268.0 625.0,269.9 624.3,276.1 625.4,281.9 624.4,284.9 625.5,289.1 627.1,294.2 623.0,298.7 626.9,303.6 621.6,303.2 617.3,306.9 616.3,308.8 610.7,310.1 607.4,314.5 604.9,317.0 601.5,319.6 599.8,325.8 597.7,329.5 596.3,333.5 594.0,339.3 592.3,344.0 591.3,346.7 591.2,352.2 591.1,355.3 595.7,360.3 597.3,364.1 596.4,366.9 598.4,372.6 601.0,374.8 595.5,378.3 593.9,381.9 588.3,383.0 584.8,384.5 583.2,384.9 574.3,384.4 572.7,385.5 567.0,389.4 563.4,390.4 558.9,391.0 555.2,391.2 549.9,387.6 546.3,388.1 544.4,386.4 539.4,384.5 539.2,379.3 538.2,378.8 535.5,375.3 531.0,368.8 530.5,366.5 529.7,361.9 529.8,358.6 534.1,354.4 534.2,348.2 534.3,346.7 537.6,341.0 537.5,334.5Z" fill="#199994"/>
<path d="M529.7,352.2 530.9,350.4 533.0,344.3 538.2,338.5 539.4,336.0 542.9,339.7 545.9,344.6 547.1,345.0 552.2,347.2 555.6,348.9 559.4,350.6 562.4,351.9 566.1,357.0 569.3,360.5 571.8,361.9 574.4,365.8 575.1,368.6 579.7,374.9 580.2,377.0 581.5,382.2 584.8,384.5 581.8,388.5 576.2,387.3 573.7,390.2 569.4,390.0 566.9,393.5 562.1,394.2 556.5,395.2 554.4,393.1 548.6,393.0 542.9,391.7 539.4,391.0 534.4,388.8 532.7,386.3 531.7,381.0 529.7,378.1 529.0,373.4 531.4,366.4 531.2,365.5 528.3,359.5 531.7,355.3Z" fill="#257595"/>
<path d="M575.1,303.6 578.5,304.1 585.2,300.8 589.9,299.9 594.5,300.3 599.7,302.9 602.9,303.4 608.3,304.2 608.6,306.1 613.9,306.8 615.3,309.9 611.3,315.9 610.7,319.8 607.4,321.8 605.5,329.0 601.0,329.5 600.5,332.9 597.8,338.9 600.3,343.7 598.4,346.9 597.7,352.2 598.6,357.5 603.1,358.9 604.2,365.1 601.2,369.0 594.5,371.6 594.2,366.1 589.0,363.6 589.3,362.1 587.6,355.7 584.8,352.2 582.5,349.3 581.5,345.5 581.2,341.1 581.3,334.7 578.7,330.2 578.3,326.2 578.2,321.8 576.3,317.0 576.4,310.1 576.2,306.9Z" fill="#2bc179"/>
<path d="M599.3,332.7 600.1,326.2 601.6,322.2 605.0,321.7 608.1,314.9 611.3,313.7 616.3,312.3 619.6,309.3 623.6,309.4 629.5,311.8 629.9,308.6 635.7,309.0 640.7,309.5 646.8,312.0 648.6,312.0 653.8,310.4 655.6,311.4 661.8,311.7 662.9,310.8 669.0,312.0 670.0,316.9 673.5,320.3 672.2,326.9 668.3,329.5 665.9,328.0 659.2,329.9 654.3,329.9 649.5,330.8 645.8,327.9 641.9,331.2 636.6,333.6 631.9,330.8 628.5,331.4 627.1,332.8 620.3,336.0 617.2,338.5 616.2,342.5 611.7,345.3 611.3,349.6 606.2,350.0 602.6,350.5 602.3,346.6 598.8,342.9 600.5,338.8Z" fill="#66d651"/>
<path d="M604.8,330.1 606.9,327.6 608.4,324.0 609.4,318.5 613.6,315.1 616.5,312.0 624.4,311.8 626.9,309.4 631.7,313.3 629.5,319.8 626.9,320.7 623.0,324.6 618.5,329.0 617.2,332.7 615.1,335.5 612.6,339.8 606.8,339.8 606.0,336.9Z" fill="#cced15"/>
<path d="M669.0,323.0 674.1,322.7 677.5,324.2 681.5,325.7 685.7,325.8 690.4,327.7 694.9,329.5 695.1,334.1 703.7,333.3 706.2,334.6 712.0,340.4 713.9,341.5 717.5,342.4 720.3,344.7 722.2,350.4 724.8,353.8 727.8,357.9 730.5,361.9 727.3,365.5 724.0,371.6 720.7,366.8 720.3,362.6 718.1,363.5 714.3,358.6 711.3,352.3 708.7,352.1 705.3,348.3 705.8,346.5 701.3,342.4 696.4,338.6 693.2,338.3 690.3,336.0 686.4,337.0 681.9,332.7 678.6,331.6 673.1,330.1 669.0,329.5Z" fill="#e6f10a"/>
<path d="M711.1,361.9 717.3,361.9 720.8,363.5 725.0,362.6 730.5,365.1 734.1,367.5 737.6,369.3 741.7,371.3 743.4,374.8 744.4,377.0 741.8,384.0 740.2,387.8 734.4,388.3 732.0,385.1 726.2,384.8 720.8,387.8 716.4,386.5 713.6,379.9 711.1,378.1 710.8,376.5 708.9,368.7 712.9,368.1Z" fill="#3bc86d"/>
<path d="M550.8,316.5 555.5,313.4 560.5,313.3 564.6,319.3 563.7,321.4 560.5,322.0 555.6,324.6 553.1,320.4Z" fill="#f4f30a"/>
<path d="M610.7,384.5 615.4,385.2 620.4,381.1 623.6,381.3 627.9,385.6 629.6,390.8 630.1,392.9 633.4,395.0 636.6,400.7 635.4,409.4 633.3,412.1 626.3,409.6 623.6,407.2 622.2,403.6 619.2,398.1 617.4,395.0 612.4,393.5 614.0,388.4Z" fill="#ebf209"/>
<path d="M594.5,365.1 598.8,365.6 602.8,364.6 606.3,364.2 610.7,361.9 612.4,366.0 611.7,370.0 613.6,372.8 614.9,376.1 617.2,381.3 614.8,384.5 607.4,384.5 607.1,379.2 602.3,375.2 598.8,371.8 598.6,368.5Z" fill="#3bc86d"/>
<path d="M636.6,407.2 642.0,408.9 647.7,407.3 650.6,411.4 652.1,412.1 657.8,411.6 660.6,411.9 665.7,413.7 672.7,412.4 675.7,410.1 678.4,411.1 682.2,408.0 688.4,407.2 691.7,409.8 694.7,412.5 698.9,415.4 701.3,416.9 698.5,420.6 699.5,426.1 694.8,429.5 694.9,433.1 687.6,434.0 687.4,433.6 679.3,436.5 675.4,436.3 669.7,434.3 668.4,433.0 663.5,433.4 660.4,431.5 656.0,429.9 651.8,428.2 648.3,426.1 644.1,423.2 639.7,421.2 636.1,417.7 633.3,416.9 635.3,412.3Z" fill="#227c96"/>
<path d="M686.8,399.1 692.0,398.0 695.9,398.7 699.7,397.5 701.1,401.4 701.3,407.2 695.9,407.6 690.0,407.2 688.4,400.7Z" fill="#47227e"/>
</g>
<g filter="url(#bs)"><path d="M590.0,357.0 C592.5,353.7 598.3,342.5 605.0,337.0 C611.7,331.5 619.2,326.5 630.0,324.0 C640.8,321.5 657.5,321.3 670.0,322.0 C682.5,322.7 694.2,323.8 705.0,328.0 C715.8,332.2 727.8,339.7 735.0,347.0 C742.2,354.3 746.3,363.7 748.0,372.0 C749.7,380.3 745.5,392.8 745.0,397.0" fill="none" stroke="#16163a" stroke-width="1.4" stroke-linecap="round" opacity="0.45"/>
<path d="M585.0,312.0 C583.3,315.3 578.3,325.3 575.0,332.0 C571.7,338.7 567.5,345.3 565.0,352.0 C562.5,358.7 560.8,368.7 560.0,372.0" fill="none" stroke="#16163a" stroke-width="1.4" stroke-linecap="round" opacity="0.45"/>
<path d="M530.0,380.0 C533.3,380.3 542.5,380.8 550.0,382.0 C557.5,383.2 566.7,385.7 575.0,387.0 C583.3,388.3 595.8,389.5 600.0,390.0" fill="none" stroke="#16163a" stroke-width="1.4" stroke-linecap="round" opacity="0.45"/>
<path d="M560.0,402.0 C566.7,403.3 586.7,407.5 600.0,410.0 C613.3,412.5 633.3,415.8 640.0,417.0" fill="none" stroke="#16163a" stroke-width="1.4" stroke-linecap="round" opacity="0.45"/>
<path d="M615.0,287.0 C614.5,290.3 612.8,301.2 612.0,307.0 C611.2,312.8 610.3,319.5 610.0,322.0" fill="none" stroke="#16163a" stroke-width="1.4" stroke-linecap="round" opacity="0.45"/>
<path d="M650.0,287.0 C652.5,289.5 661.7,297.0 665.0,302.0 C668.3,307.0 669.2,314.5 670.0,317.0" fill="none" stroke="#16163a" stroke-width="1.4" stroke-linecap="round" opacity="0.45"/>
<path d="M700.0,302.0 C703.3,305.3 714.2,315.3 720.0,322.0 C725.8,328.7 732.5,338.7 735.0,342.0" fill="none" stroke="#16163a" stroke-width="1.4" stroke-linecap="round" opacity="0.45"/>
<path d="M720.0,392.0 C723.3,393.7 734.2,400.3 740.0,402.0 C745.8,403.7 752.5,402.0 755.0,402.0" fill="none" stroke="#16163a" stroke-width="1.4" stroke-linecap="round" opacity="0.45"/>
<path d="M647.0,421.7 648.8,420.0 650.0,418.3 650.7,416.0 649.8,414.0 648.0,412.4 646.0,411.0 644.4,410.0 642.7,409.0 641.0,407.9 639.0,406.3 637.7,405.0 636.6,403.0 637.0,400.0 638.0,398.8 640.0,397.3 642.0,396.2 644.0,395.3 646.0,394.5 648.0,393.7 650.0,392.9 652.7,392.0 655.0,391.3 657.0,390.8 660.0,390.2 662.0,389.9 665.0,389.6 668.0,389.6 671.0,389.8 673.0,390.1 676.0,390.8 678.0,391.3 681.0,392.0 683.0,392.3 686.0,392.4 689.0,392.0 691.0,391.4 693.0,390.6 695.0,389.7 697.0,389.0 700.0,388.1 702.0,387.6 704.5,387.0 707.0,386.4 709.0,386.0 712.0,385.1 714.0,384.4 716.0,383.5 718.0,382.4 720.0,381.0 721.1,380.0 722.9,378.0 724.0,376.4 725.0,374.8 726.3,373.0 728.0,371.4 730.0,370.1 732.0,369.1 734.0,368.1 735.8,367.0 737.1,366.0 739.0,364.3 740.3,363.0 742.0,361.2 743.1,360.0 745.0,358.1 746.1,357.0 748.0,355.2 749.3,354.0 748.0,352.9 745.0,352.6 742.0,352.6 739.0,353.0 737.0,353.5 735.0,354.1 733.0,355.0 731.0,356.1 729.0,357.3 727.0,358.8 725.5,360.0 724.0,361.2 722.0,362.7 720.0,363.8 718.0,364.6 716.0,365.0 713.0,365.3 710.0,365.2 707.2,365.0 705.0,364.8 702.0,364.3 699.9,364.0 697.0,363.5 694.1,363.0 692.0,362.7 689.0,362.5 686.0,362.5 683.4,363.0 681.0,363.8 679.0,364.9 677.6,366.0 676.0,367.7 674.8,369.0 673.0,370.4 671.0,371.3 668.2,372.0 666.0,372.2 663.0,372.3 660.2,372.0 659.2,370.0 660.5,368.0 662.0,366.3 663.3,365.0 665.0,363.4 666.4,362.0 668.0,360.3 669.3,359.0 671.0,357.6 673.0,356.5 675.0,355.8 677.7,355.0 680.0,354.5 682.0,353.9 685.0,353.0 687.0,352.3 689.0,351.5 691.0,350.6 693.0,349.7 695.0,348.6 697.0,347.4 698.9,346.0 700.0,344.8 700.6,342.0 699.0,340.3 697.0,339.5 694.0,339.1 692.0,339.0 689.0,338.9 686.0,338.8 683.0,338.6 680.0,338.3 677.3,338.0 675.0,337.6 672.0,337.0 670.0,336.4 668.0,335.6 666.0,334.3 665.0,332.7 664.8,330.0 665.3,328.0 666.0,326.0 667.2,324.0 669.0,322.0 670.1,321.0 672.0,319.5 674.0,318.1 675.3,317.0 677.0,315.0 677.3,313.0 676.0,311.4 674.0,310.0 672.2,309.0 670.2,308.0 668.1,307.0 666.0,306.1 664.0,305.2 662.0,304.4 660.0,303.5 658.0,302.5 656.5,301.0 657.0,298.0 657.8,296.0 657.0,293.0 655.7,292.0 653.3,291.0 651.0,290.4 649.0,289.9 646.0,289.3 644.0,288.8 641.0,288.0 639.0,287.4 637.0,286.8 634.6,286.0 632.0,285.0 630.0,284.2 628.0,283.2 626.0,282.2 624.0,281.0 622.5,280.0 621.0,278.8 619.3,277.0 618.0,275.0 617.0,273.4 616.0,271.9 614.5,270.0 613.0,268.7M646.0,265.7 647.8,267.0 649.7,268.0 652.0,269.0 654.0,269.6 656.0,270.1 659.0,270.6 662.0,270.8 665.0,270.2M564.0,300.9 565.6,302.0 567.0,303.6 567.6,306.0 566.8,308.0 565.1,310.0 563.9,311.0 562.0,312.3 560.0,313.1 557.0,313.8 554.0,313.9M675.0,272.7 673.0,273.4 671.6,275.0 672.3,277.0 674.0,278.5 676.0,279.5 678.0,280.2 681.0,281.0 683.0,281.3 686.0,281.8 688.0,282.0 691.0,282.3 694.0,282.3M608.0,331.0 605.0,331.2 602.0,331.3 599.0,331.4 596.0,331.4 593.0,331.2 591.0,330.1 590.1,328.0 589.3,326.0 588.2,324.0 587.0,322.4 585.9,321.0 584.2,319.0 583.0,317.2 582.5,315.0 583.0,312.6 584.0,310.5 585.0,308.7 586.2,307.0 587.9,305.0 589.0,303.9 591.0,302.2 592.3,301.0 594.0,299.4 595.2,298.0 595.6,295.0 594.0,293.5 592.0,292.3 590.0,291.5 588.0,290.6 586.0,289.7 584.0,288.6 582.5,287.0 583.0,284.1 584.2,283.0 586.0,282.0 588.2,281.0 591.0,280.0 593.0,279.4 595.0,279.0 598.0,278.5 601.0,278.3 604.0,278.4 607.0,278.9 609.0,279.5 611.0,280.6 612.4,282.0 612.8,285.0 612.0,287.1 610.9,289.0 609.7,291.0 608.8,293.0 609.0,295.4 610.0,297.0 612.0,298.9 613.3,300.0 615.0,301.2 617.0,302.5 619.0,303.7 621.0,304.8 623.0,305.8 625.0,306.8 627.0,307.7 629.0,308.7 631.0,309.7 633.0,310.8 634.5,312.0 636.0,313.8 637.0,315.8 637.6,318.0 637.9,321.0 637.4,324.0 636.5,326.0 635.0,327.5 633.0,328.5 631.0,329.1 628.0,329.5 625.0,329.8 622.0,329.9 619.6,330.0 617.0,330.2 614.0,330.4 611.0,330.8 608.4,331.0M723.7,327.0 726.0,326.5 728.0,325.5 729.1,324.0 729.2,321.0 729.9,318.0 730.7,316.0 731.6,314.0 732.5,312.0 733.4,310.0 734.3,308.0M725.0,299.0 722.1,298.0 720.0,297.2 718.0,296.6 715.0,296.0 713.0,295.9 710.0,295.9 707.4,296.0 705.0,296.2 702.0,296.8 700.0,297.5 698.0,298.4 696.0,299.7 694.6,301.0 693.1,303.0 692.1,305.0 691.6,307.0 692.0,309.5 693.4,311.0 695.1,312.0 697.1,313.0 699.3,314.0 701.3,315.0 703.1,316.0 705.0,317.2 707.0,318.8 708.2,320.0 710.0,322.0 711.0,323.2 712.9,325.0 714.5,326.0 717.0,326.9 719.0,327.2 722.0,327.2M746.0,319.8 744.0,320.8 742.0,321.9 740.3,323.0 739.0,324.0 737.6,326.0 738.8,328.0 740.1,329.0 742.0,330.3 744.0,331.7 745.9,333.0 747.2,334.0 749.0,335.6 750.4,337.0 752.0,338.8 753.0,340.1 754.3,342.0 755.2,344.0 755.5,347.0 754.7,349.0 753.1,351.0 752.0,352.4 753.0,353.4 755.0,354.0 758.0,354.7 760.0,355.1 763.0,355.6M583.0,347.0 580.0,347.0 578.0,346.5 576.0,345.5 574.0,344.0 573.0,342.9 571.6,341.0 571.2,338.0 572.9,336.0 574.7,335.0 577.0,334.2 579.0,333.8 582.0,333.3 585.0,333.2 587.8,334.0 588.2,336.0 588.0,338.8 587.7,341.0 587.0,343.8 586.0,345.5 584.0,346.7M536.0,340.8 539.0,340.3 541.1,340.0 544.0,339.9 546.0,340.1 548.0,341.0 548.8,344.0 548.0,346.3 547.0,348.0 545.1,350.0 543.4,351.0 541.0,351.9 539.0,352.5 536.2,353.0 534.0,353.6 532.0,354.1 533.0,356.0 535.0,356.5 538.0,356.9 541.0,356.9 544.0,356.5 546.2,356.0 549.0,355.3 551.2,355.0 554.0,354.8 557.0,354.9 559.0,355.3 561.1,356.0 563.0,357.4 564.0,359.1 564.5,362.0 564.0,364.3 562.8,366.0 561.0,367.3 559.0,368.3 556.8,369.0 554.0,369.7 552.0,370.0 549.0,370.5 546.0,370.8 543.3,371.0 541.0,371.2 538.0,371.5 535.0,371.9 533.0,372.1 530.0,372.5M593.4,397.0 592.9,395.0 591.2,393.0 589.6,392.0 587.3,391.0 585.0,390.1 583.0,389.5 581.0,388.7 579.0,387.7 577.2,386.0 576.6,384.0 577.0,381.0 577.8,379.0 579.0,377.0 580.0,375.6 581.2,374.0 583.0,372.0 584.0,370.9 585.7,369.0 587.0,367.1 587.6,365.0 587.8,362.0 588.3,360.0 589.5,358.0 591.0,356.6 593.0,355.6 596.0,355.0 598.0,354.9 601.0,354.9 603.0,355.1 606.0,355.4 609.0,355.7 612.0,356.0 614.0,356.1 616.5,356.0 619.0,355.5 621.0,354.8 623.0,353.7 625.0,352.3 626.5,351.0 628.0,349.7 630.0,348.2 632.0,347.2 634.0,346.8 636.2,347.0 638.5,348.0 640.0,349.2 641.6,351.0 642.7,353.0 643.3,355.0 642.8,357.0 641.0,358.6 639.0,359.5 637.0,360.1 634.0,360.8 632.0,361.0 629.0,361.3 626.0,361.4 623.0,361.4 620.0,361.5 617.3,362.0 615.0,362.8 613.0,363.7 611.1,365.0 611.0,366.9 613.0,367.8 615.0,368.3 618.0,368.9 620.0,369.4 622.1,370.0 624.6,371.0 626.4,372.0 628.0,373.2 629.7,375.0 630.4,377.0 630.0,379.2 629.0,381.2 627.7,383.0 626.1,385.0 625.0,386.2 623.4,388.0 622.0,389.8 621.0,391.6 620.3,394.0 620.0,396.7 619.4,399.0 618.3,401.0 617.0,402.9 616.0,404.6 615.2,407.0M534.0,387.8 537.0,387.2 540.0,387.0 543.0,387.2 546.0,387.5 549.0,387.9 551.0,388.3 554.0,388.9 556.0,389.4 558.3,390.0 561.0,390.9 563.0,391.8 564.7,393.0M763.0,388.7 761.0,389.1 758.0,390.0 756.0,390.7 754.0,391.4 752.0,392.1 749.7,393.0 747.8,394.0 746.0,395.7 745.2,398.0 744.7,400.0 743.7,402.0 742.0,404.0 740.8,405.0 739.0,406.2 737.0,407.1 734.7,408.0 732.0,408.8 730.0,409.3 727.6,410.0M701.3,412.0 700.0,410.8 698.0,409.1 696.2,408.0 694.0,407.0 692.0,406.4 689.9,406.0 687.0,405.6 684.0,405.1 682.0,404.7 679.6,404.0 677.0,403.2 675.0,402.5 673.0,401.8 670.4,401.0 668.0,400.5 665.0,400.2 662.0,400.6 660.0,401.4 658.5,403.0 658.0,405.0 658.2,407.0 659.0,409.6 660.0,411.2 662.0,412.8 664.0,413.5 667.0,414.0 669.0,414.0 671.0,413.9 674.0,413.7 677.0,413.4 680.0,413.3 683.0,413.5 685.0,414.0 688.0,415.0 690.0,415.8 692.0,416.7 694.0,417.5 696.0,418.3 698.0,419.1M694.0,430.1 691.7,431.0 689.9,432.0 688.0,433.4 686.6,435.0" fill="none" stroke="#ffffff" stroke-width="2.2" stroke-linejoin="round" opacity="0.12" transform="translate(1.4,1.4)"/>
<path d="M647.0,421.7 648.8,420.0 650.0,418.3 650.7,416.0 649.8,414.0 648.0,412.4 646.0,411.0 644.4,410.0 642.7,409.0 641.0,407.9 639.0,406.3 637.7,405.0 636.6,403.0 637.0,400.0 638.0,398.8 640.0,397.3 642.0,396.2 644.0,395.3 646.0,394.5 648.0,393.7 650.0,392.9 652.7,392.0 655.0,391.3 657.0,390.8 660.0,390.2 662.0,389.9 665.0,389.6 668.0,389.6 671.0,389.8 673.0,390.1 676.0,390.8 678.0,391.3 681.0,392.0 683.0,392.3 686.0,392.4 689.0,392.0 691.0,391.4 693.0,390.6 695.0,389.7 697.0,389.0 700.0,388.1 702.0,387.6 704.5,387.0 707.0,386.4 709.0,386.0 712.0,385.1 714.0,384.4 716.0,383.5 718.0,382.4 720.0,381.0 721.1,380.0 722.9,378.0 724.0,376.4 725.0,374.8 726.3,373.0 728.0,371.4 730.0,370.1 732.0,369.1 734.0,368.1 735.8,367.0 737.1,366.0 739.0,364.3 740.3,363.0 742.0,361.2 743.1,360.0 745.0,358.1 746.1,357.0 748.0,355.2 749.3,354.0 748.0,352.9 745.0,352.6 742.0,352.6 739.0,353.0 737.0,353.5 735.0,354.1 733.0,355.0 731.0,356.1 729.0,357.3 727.0,358.8 725.5,360.0 724.0,361.2 722.0,362.7 720.0,363.8 718.0,364.6 716.0,365.0 713.0,365.3 710.0,365.2 707.2,365.0 705.0,364.8 702.0,364.3 699.9,364.0 697.0,363.5 694.1,363.0 692.0,362.7 689.0,362.5 686.0,362.5 683.4,363.0 681.0,363.8 679.0,364.9 677.6,366.0 676.0,367.7 674.8,369.0 673.0,370.4 671.0,371.3 668.2,372.0 666.0,372.2 663.0,372.3 660.2,372.0 659.2,370.0 660.5,368.0 662.0,366.3 663.3,365.0 665.0,363.4 666.4,362.0 668.0,360.3 669.3,359.0 671.0,357.6 673.0,356.5 675.0,355.8 677.7,355.0 680.0,354.5 682.0,353.9 685.0,353.0 687.0,352.3 689.0,351.5 691.0,350.6 693.0,349.7 695.0,348.6 697.0,347.4 698.9,346.0 700.0,344.8 700.6,342.0 699.0,340.3 697.0,339.5 694.0,339.1 692.0,339.0 689.0,338.9 686.0,338.8 683.0,338.6 680.0,338.3 677.3,338.0 675.0,337.6 672.0,337.0 670.0,336.4 668.0,335.6 666.0,334.3 665.0,332.7 664.8,330.0 665.3,328.0 666.0,326.0 667.2,324.0 669.0,322.0 670.1,321.0 672.0,319.5 674.0,318.1 675.3,317.0 677.0,315.0 677.3,313.0 676.0,311.4 674.0,310.0 672.2,309.0 670.2,308.0 668.1,307.0 666.0,306.1 664.0,305.2 662.0,304.4 660.0,303.5 658.0,302.5 656.5,301.0 657.0,298.0 657.8,296.0 657.0,293.0 655.7,292.0 653.3,291.0 651.0,290.4 649.0,289.9 646.0,289.3 644.0,288.8 641.0,288.0 639.0,287.4 637.0,286.8 634.6,286.0 632.0,285.0 630.0,284.2 628.0,283.2 626.0,282.2 624.0,281.0 622.5,280.0 621.0,278.8 619.3,277.0 618.0,275.0 617.0,273.4 616.0,271.9 614.5,270.0 613.0,268.7M646.0,265.7 647.8,267.0 649.7,268.0 652.0,269.0 654.0,269.6 656.0,270.1 659.0,270.6 662.0,270.8 665.0,270.2M564.0,300.9 565.6,302.0 567.0,303.6 567.6,306.0 566.8,308.0 565.1,310.0 563.9,311.0 562.0,312.3 560.0,313.1 557.0,313.8 554.0,313.9M675.0,272.7 673.0,273.4 671.6,275.0 672.3,277.0 674.0,278.5 676.0,279.5 678.0,280.2 681.0,281.0 683.0,281.3 686.0,281.8 688.0,282.0 691.0,282.3 694.0,282.3M608.0,331.0 605.0,331.2 602.0,331.3 599.0,331.4 596.0,331.4 593.0,331.2 591.0,330.1 590.1,328.0 589.3,326.0 588.2,324.0 587.0,322.4 585.9,321.0 584.2,319.0 583.0,317.2 582.5,315.0 583.0,312.6 584.0,310.5 585.0,308.7 586.2,307.0 587.9,305.0 589.0,303.9 591.0,302.2 592.3,301.0 594.0,299.4 595.2,298.0 595.6,295.0 594.0,293.5 592.0,292.3 590.0,291.5 588.0,290.6 586.0,289.7 584.0,288.6 582.5,287.0 583.0,284.1 584.2,283.0 586.0,282.0 588.2,281.0 591.0,280.0 593.0,279.4 595.0,279.0 598.0,278.5 601.0,278.3 604.0,278.4 607.0,278.9 609.0,279.5 611.0,280.6 612.4,282.0 612.8,285.0 612.0,287.1 610.9,289.0 609.7,291.0 608.8,293.0 609.0,295.4 610.0,297.0 612.0,298.9 613.3,300.0 615.0,301.2 617.0,302.5 619.0,303.7 621.0,304.8 623.0,305.8 625.0,306.8 627.0,307.7 629.0,308.7 631.0,309.7 633.0,310.8 634.5,312.0 636.0,313.8 637.0,315.8 637.6,318.0 637.9,321.0 637.4,324.0 636.5,326.0 635.0,327.5 633.0,328.5 631.0,329.1 628.0,329.5 625.0,329.8 622.0,329.9 619.6,330.0 617.0,330.2 614.0,330.4 611.0,330.8 608.4,331.0M723.7,327.0 726.0,326.5 728.0,325.5 729.1,324.0 729.2,321.0 729.9,318.0 730.7,316.0 731.6,314.0 732.5,312.0 733.4,310.0 734.3,308.0M725.0,299.0 722.1,298.0 720.0,297.2 718.0,296.6 715.0,296.0 713.0,295.9 710.0,295.9 707.4,296.0 705.0,296.2 702.0,296.8 700.0,297.5 698.0,298.4 696.0,299.7 694.6,301.0 693.1,303.0 692.1,305.0 691.6,307.0 692.0,309.5 693.4,311.0 695.1,312.0 697.1,313.0 699.3,314.0 701.3,315.0 703.1,316.0 705.0,317.2 707.0,318.8 708.2,320.0 710.0,322.0 711.0,323.2 712.9,325.0 714.5,326.0 717.0,326.9 719.0,327.2 722.0,327.2M746.0,319.8 744.0,320.8 742.0,321.9 740.3,323.0 739.0,324.0 737.6,326.0 738.8,328.0 740.1,329.0 742.0,330.3 744.0,331.7 745.9,333.0 747.2,334.0 749.0,335.6 750.4,337.0 752.0,338.8 753.0,340.1 754.3,342.0 755.2,344.0 755.5,347.0 754.7,349.0 753.1,351.0 752.0,352.4 753.0,353.4 755.0,354.0 758.0,354.7 760.0,355.1 763.0,355.6M583.0,347.0 580.0,347.0 578.0,346.5 576.0,345.5 574.0,344.0 573.0,342.9 571.6,341.0 571.2,338.0 572.9,336.0 574.7,335.0 577.0,334.2 579.0,333.8 582.0,333.3 585.0,333.2 587.8,334.0 588.2,336.0 588.0,338.8 587.7,341.0 587.0,343.8 586.0,345.5 584.0,346.7M536.0,340.8 539.0,340.3 541.1,340.0 544.0,339.9 546.0,340.1 548.0,341.0 548.8,344.0 548.0,346.3 547.0,348.0 545.1,350.0 543.4,351.0 541.0,351.9 539.0,352.5 536.2,353.0 534.0,353.6 532.0,354.1 533.0,356.0 535.0,356.5 538.0,356.9 541.0,356.9 544.0,356.5 546.2,356.0 549.0,355.3 551.2,355.0 554.0,354.8 557.0,354.9 559.0,355.3 561.1,356.0 563.0,357.4 564.0,359.1 564.5,362.0 564.0,364.3 562.8,366.0 561.0,367.3 559.0,368.3 556.8,369.0 554.0,369.7 552.0,370.0 549.0,370.5 546.0,370.8 543.3,371.0 541.0,371.2 538.0,371.5 535.0,371.9 533.0,372.1 530.0,372.5M593.4,397.0 592.9,395.0 591.2,393.0 589.6,392.0 587.3,391.0 585.0,390.1 583.0,389.5 581.0,388.7 579.0,387.7 577.2,386.0 576.6,384.0 577.0,381.0 577.8,379.0 579.0,377.0 580.0,375.6 581.2,374.0 583.0,372.0 584.0,370.9 585.7,369.0 587.0,367.1 587.6,365.0 587.8,362.0 588.3,360.0 589.5,358.0 591.0,356.6 593.0,355.6 596.0,355.0 598.0,354.9 601.0,354.9 603.0,355.1 606.0,355.4 609.0,355.7 612.0,356.0 614.0,356.1 616.5,356.0 619.0,355.5 621.0,354.8 623.0,353.7 625.0,352.3 626.5,351.0 628.0,349.7 630.0,348.2 632.0,347.2 634.0,346.8 636.2,347.0 638.5,348.0 640.0,349.2 641.6,351.0 642.7,353.0 643.3,355.0 642.8,357.0 641.0,358.6 639.0,359.5 637.0,360.1 634.0,360.8 632.0,361.0 629.0,361.3 626.0,361.4 623.0,361.4 620.0,361.5 617.3,362.0 615.0,362.8 613.0,363.7 611.1,365.0 611.0,366.9 613.0,367.8 615.0,368.3 618.0,368.9 620.0,369.4 622.1,370.0 624.6,371.0 626.4,372.0 628.0,373.2 629.7,375.0 630.4,377.0 630.0,379.2 629.0,381.2 627.7,383.0 626.1,385.0 625.0,386.2 623.4,388.0 622.0,389.8 621.0,391.6 620.3,394.0 620.0,396.7 619.4,399.0 618.3,401.0 617.0,402.9 616.0,404.6 615.2,407.0M534.0,387.8 537.0,387.2 540.0,387.0 543.0,387.2 546.0,387.5 549.0,387.9 551.0,388.3 554.0,388.9 556.0,389.4 558.3,390.0 561.0,390.9 563.0,391.8 564.7,393.0M763.0,388.7 761.0,389.1 758.0,390.0 756.0,390.7 754.0,391.4 752.0,392.1 749.7,393.0 747.8,394.0 746.0,395.7 745.2,398.0 744.7,400.0 743.7,402.0 742.0,404.0 740.8,405.0 739.0,406.2 737.0,407.1 734.7,408.0 732.0,408.8 730.0,409.3 727.6,410.0M701.3,412.0 700.0,410.8 698.0,409.1 696.2,408.0 694.0,407.0 692.0,406.4 689.9,406.0 687.0,405.6 684.0,405.1 682.0,404.7 679.6,404.0 677.0,403.2 675.0,402.5 673.0,401.8 670.4,401.0 668.0,400.5 665.0,400.2 662.0,400.6 660.0,401.4 658.5,403.0 658.0,405.0 658.2,407.0 659.0,409.6 660.0,411.2 662.0,412.8 664.0,413.5 667.0,414.0 669.0,414.0 671.0,413.9 674.0,413.7 677.0,413.4 680.0,413.3 683.0,413.5 685.0,414.0 688.0,415.0 690.0,415.8 692.0,416.7 694.0,417.5 696.0,418.3 698.0,419.1M694.0,430.1 691.7,431.0 689.9,432.0 688.0,433.4 686.6,435.0" fill="none" stroke="#16163a" stroke-width="1.8" stroke-linejoin="round" opacity="0.28"/></g>
<path d="M529.7,352.1 C531.6,344.6 535.6,339.2 539.4,332.7 C543.2,326.2 547.0,320.3 552.4,313.3 C557.8,306.3 564.8,297.1 571.8,290.6 C578.8,284.1 586.9,278.4 594.5,274.4 C602.1,270.3 609.1,267.9 617.2,266.3 C625.3,264.7 633.8,263.9 643.0,264.7 C652.2,265.5 662.5,268.0 672.2,271.2 C681.9,274.4 692.1,279.2 701.3,284.1 C710.5,289.0 719.7,294.4 727.3,300.3 C734.9,306.2 741.0,312.8 746.7,319.8 C752.4,326.8 757.8,334.8 761.3,342.4 C764.8,349.9 766.6,358.1 767.7,365.1 C768.8,372.1 769.1,378.6 767.7,384.5 C766.4,390.4 763.1,396.6 759.6,400.7 C756.1,404.8 752.1,407.2 746.7,408.8 C741.3,410.4 734.3,410.7 727.3,410.4 C720.3,410.1 709.2,406.1 704.6,407.2 C700.0,408.3 701.3,413.1 699.7,416.9 C698.1,420.7 697.3,426.7 694.9,429.9 C692.5,433.1 689.0,435.2 685.2,436.3 C681.4,437.4 676.5,437.4 672.2,436.3 C667.9,435.2 664.1,432.6 659.2,429.9 C654.3,427.2 649.5,423.4 643.0,420.2 C636.5,416.9 629.0,414.2 620.4,410.4 C611.8,406.6 600.4,400.2 591.2,397.5 C582.0,394.8 573.4,394.5 565.3,394.2 C557.2,393.9 548.1,396.4 542.7,395.9 C537.3,395.4 535.4,394.0 533.0,391.0 C530.6,388.0 528.6,384.5 528.1,378.0 C527.6,371.5 527.8,359.7 529.7,352.1Z" fill="none" stroke="#10102a" stroke-width="5" opacity="0.22" filter="url(#bsh)"/>
</g>
<path d="M609.1,352.2 C609.6,347.9 610.9,344.1 613.9,340.8 C616.9,337.6 621.0,334.5 626.9,332.7 C632.8,330.9 641.4,330.5 649.5,330.1 C657.6,329.7 666.8,329.4 675.4,330.1 C684.0,330.8 694.3,332.0 701.3,334.3 C708.3,336.6 713.7,340.1 717.5,344.1 C721.3,348.2 723.5,354.6 724.0,358.6 C724.5,362.6 723.5,365.2 720.8,368.3 C718.1,371.4 712.7,375.0 707.8,377.4 C702.9,379.8 696.2,381.2 691.6,382.9 C687.0,384.6 682.6,385.4 680.3,387.8 C678.0,390.2 679.4,394.7 678.0,397.5 C676.6,400.3 674.8,403.2 672.2,404.6 C669.6,406.0 665.2,406.5 662.5,405.9 C659.8,405.2 658.2,402.6 656.0,400.7 C653.8,398.8 653.3,396.6 649.5,394.2 C645.7,391.8 638.4,388.9 633.3,386.2 C628.2,383.5 622.6,381.4 618.8,378.1 C615.0,374.9 612.3,371.0 610.7,366.7 C609.1,362.4 608.6,356.5 609.1,352.2Z" fill="#2c2c2c"/>
<path d="M529.7,352.1 C531.6,344.6 535.6,339.2 539.4,332.7 C543.2,326.2 547.0,320.3 552.4,313.3 C557.8,306.3 564.8,297.1 571.8,290.6 C578.8,284.1 586.9,278.4 594.5,274.4 C602.1,270.3 609.1,267.9 617.2,266.3 C625.3,264.7 633.8,263.9 643.0,264.7 C652.2,265.5 662.5,268.0 672.2,271.2 C681.9,274.4 692.1,279.2 701.3,284.1 C710.5,289.0 719.7,294.4 727.3,300.3 C734.9,306.2 741.0,312.8 746.7,319.8 C752.4,326.8 757.8,334.8 761.3,342.4 C764.8,349.9 766.6,358.1 767.7,365.1 C768.8,372.1 769.1,378.6 767.7,384.5 C766.4,390.4 763.1,396.6 759.6,400.7 C756.1,404.8 752.1,407.2 746.7,408.8 C741.3,410.4 734.3,410.7 727.3,410.4 C720.3,410.1 709.2,406.1 704.6,407.2 C700.0,408.3 701.3,413.1 699.7,416.9 C698.1,420.7 697.3,426.7 694.9,429.9 C692.5,433.1 689.0,435.2 685.2,436.3 C681.4,437.4 676.5,437.4 672.2,436.3 C667.9,435.2 664.1,432.6 659.2,429.9 C654.3,427.2 649.5,423.4 643.0,420.2 C636.5,416.9 629.0,414.2 620.4,410.4 C611.8,406.6 600.4,400.2 591.2,397.5 C582.0,394.8 573.4,394.5 565.3,394.2 C557.2,393.9 548.1,396.4 542.7,395.9 C537.3,395.4 535.4,394.0 533.0,391.0 C530.6,388.0 528.6,384.5 528.1,378.0 C527.6,371.5 527.8,359.7 529.7,352.1Z" fill="none" stroke="#1a1a2e" stroke-width="0.9" opacity="0.8"/>
<clipPath id="clf"><path d="M279.2,607.4 C279.8,603.0 280.2,598.4 281.8,593.9 C283.4,589.4 286.0,584.6 288.5,580.4 C291.0,576.2 293.6,572.5 297.0,568.6 C300.4,564.7 304.6,560.4 308.8,556.7 C313.0,553.0 317.2,549.8 322.3,546.6 C327.4,543.4 333.6,540.4 339.2,537.3 C344.8,534.2 350.5,530.4 356.1,528.0 C361.7,525.6 367.4,524.3 373.0,522.9 C378.6,521.5 384.7,520.8 390.0,519.5 C395.3,518.2 400.8,515.7 405.0,515.3 C409.2,514.9 412.5,517.1 415.3,517.0 C418.1,516.9 419.2,515.1 422.0,514.8 C424.8,514.5 428.2,513.9 432.2,515.3 C436.1,516.6 442.3,520.6 445.7,522.9 C449.1,525.1 449.1,526.8 452.5,528.8 C455.9,530.8 462.3,532.0 466.0,534.7 C469.7,537.4 471.7,541.5 474.5,544.9 C477.3,548.3 480.4,551.9 482.9,555.0 C485.4,558.1 487.4,561.0 489.7,563.5 C491.9,566.0 494.1,567.4 496.4,570.2 C498.6,573.0 500.9,576.7 503.2,580.4 C505.5,584.1 507.8,588.0 510.0,592.2 C512.2,596.4 515.1,601.2 516.7,605.7 C518.3,610.2 519.4,613.8 519.5,619.0 C519.6,624.2 519.0,632.2 517.2,636.8 C515.5,641.4 512.5,644.6 509.0,646.5 C505.5,648.4 501.4,648.1 496.0,648.1 C490.6,648.1 483.1,646.2 476.6,646.5 C470.1,646.8 463.5,647.9 457.0,649.8 C450.5,651.7 444.0,654.9 437.5,657.9 C431.0,660.9 424.5,664.4 418.0,667.6 C411.5,670.9 405.0,675.0 398.5,677.4 C392.0,679.8 384.9,681.8 379.0,682.3 C373.1,682.8 367.7,682.0 362.8,680.6 C357.9,679.2 352.8,676.8 349.8,674.1 C346.8,671.4 345.4,667.1 344.9,664.4 C344.3,661.7 347.9,658.7 346.5,657.9 C345.1,657.1 341.7,659.0 336.8,659.5 C331.9,660.0 323.3,661.4 317.3,661.1 C311.3,660.8 305.9,659.8 301.0,657.9 C296.1,656.0 291.2,653.3 288.0,649.8 C284.8,646.3 283.1,641.7 281.5,636.8 C279.9,631.9 278.7,625.4 278.3,620.5 C277.9,615.6 278.6,611.8 279.2,607.4Z"/></clipPath>
<path d="M279.2,607.4 C279.8,603.0 280.2,598.4 281.8,593.9 C283.4,589.4 286.0,584.6 288.5,580.4 C291.0,576.2 293.6,572.5 297.0,568.6 C300.4,564.7 304.6,560.4 308.8,556.7 C313.0,553.0 317.2,549.8 322.3,546.6 C327.4,543.4 333.6,540.4 339.2,537.3 C344.8,534.2 350.5,530.4 356.1,528.0 C361.7,525.6 367.4,524.3 373.0,522.9 C378.6,521.5 384.7,520.8 390.0,519.5 C395.3,518.2 400.8,515.7 405.0,515.3 C409.2,514.9 412.5,517.1 415.3,517.0 C418.1,516.9 419.2,515.1 422.0,514.8 C424.8,514.5 428.2,513.9 432.2,515.3 C436.1,516.6 442.3,520.6 445.7,522.9 C449.1,525.1 449.1,526.8 452.5,528.8 C455.9,530.8 462.3,532.0 466.0,534.7 C469.7,537.4 471.7,541.5 474.5,544.9 C477.3,548.3 480.4,551.9 482.9,555.0 C485.4,558.1 487.4,561.0 489.7,563.5 C491.9,566.0 494.1,567.4 496.4,570.2 C498.6,573.0 500.9,576.7 503.2,580.4 C505.5,584.1 507.8,588.0 510.0,592.2 C512.2,596.4 515.1,601.2 516.7,605.7 C518.3,610.2 519.4,613.8 519.5,619.0 C519.6,624.2 519.0,632.2 517.2,636.8 C515.5,641.4 512.5,644.6 509.0,646.5 C505.5,648.4 501.4,648.1 496.0,648.1 C490.6,648.1 483.1,646.2 476.6,646.5 C470.1,646.8 463.5,647.9 457.0,649.8 C450.5,651.7 444.0,654.9 437.5,657.9 C431.0,660.9 424.5,664.4 418.0,667.6 C411.5,670.9 405.0,675.0 398.5,677.4 C392.0,679.8 384.9,681.8 379.0,682.3 C373.1,682.8 367.7,682.0 362.8,680.6 C357.9,679.2 352.8,676.8 349.8,674.1 C346.8,671.4 345.4,667.1 344.9,664.4 C344.3,661.7 347.9,658.7 346.5,657.9 C345.1,657.1 341.7,659.0 336.8,659.5 C331.9,660.0 323.3,661.4 317.3,661.1 C311.3,660.8 305.9,659.8 301.0,657.9 C296.1,656.0 291.2,653.3 288.0,649.8 C284.8,646.3 283.1,641.7 281.5,636.8 C279.9,631.9 278.7,625.4 278.3,620.5 C277.9,615.6 278.6,611.8 279.2,607.4Z" fill="#355992"/>
<g clip-path="url(#clf)">
<g filter="url(#bp)">
<path d="M280.0,600.0 282.2,598.7 283.6,591.1 286.4,588.4 289.4,582.5 290.0,580.0 293.4,577.4 294.8,573.7 298.7,571.0 298.6,567.7 302.4,563.4 305.0,560.0 305.8,564.1 307.9,568.5 305.8,572.4 308.1,578.6 309.3,580.4 312.3,586.0 310.0,590.0 312.7,594.1 312.9,599.6 314.9,604.1 315.6,606.8 315.0,611.8 318.0,615.4 318.0,620.0 321.7,625.7 321.7,627.0 325.0,632.4 327.0,637.6 330.0,640.0 334.5,642.0 336.3,642.4 342.3,643.4 347.2,647.8 350.0,650.0 350.6,656.1 343.1,656.5 340.0,660.0 336.9,662.0 329.5,657.9 326.4,660.7 323.5,661.3 317.1,657.2 315.3,659.0 310.0,660.0 303.1,658.2 302.0,655.9 296.0,653.8 292.0,652.0 289.1,646.1 286.1,644.1 284.9,639.5 282.0,635.0 280.6,630.4 278.9,626.5 283.0,620.1 280.3,617.9 282.3,612.6 279.7,606.4 280.4,606.8Z" fill="#24709a"/>
<path d="M307.0,545.0 311.2,543.3 315.1,541.7 317.5,541.0 322.6,538.4 325.0,538.2 330.0,535.0 335.1,533.2 339.8,532.1 341.9,530.7 345.0,531.0 349.2,527.8 353.2,528.0 360.0,527.0 364.1,525.6 367.3,523.6 373.4,523.3 377.5,521.9 381.6,523.6 386.4,520.5 390.0,520.0 395.3,522.2 400.0,525.0 399.8,529.0 399.3,534.0 398.1,536.9 397.3,540.6 397.3,547.1 397.4,551.9 398.3,553.3 398.0,560.0 399.3,565.3 397.8,569.3 398.5,573.2 398.5,575.3 400.0,581.7 400.5,584.8 401.0,590.9 402.0,595.0 400.7,599.2 398.8,604.4 397.0,607.6 398.6,611.6 396.0,615.0 391.4,614.9 388.6,614.3 381.8,616.0 380.2,617.5 373.2,617.1 370.0,618.0 364.9,616.4 362.4,614.9 358.8,616.7 353.8,614.4 347.9,612.5 343.1,614.1 340.9,611.4 335.0,612.0 330.7,609.8 325.7,608.7 322.6,605.8 319.1,603.1 315.8,601.7 312.0,600.0 310.2,595.1 309.6,594.0 308.0,589.2 304.7,584.2 305.0,580.0 303.9,573.9 304.6,572.7 306.9,567.2 304.2,562.3 306.6,558.3 304.3,552.7 306.7,550.0Z" fill="#403389"/>
<path d="M310.0,605.0 311.7,606.1 318.7,608.6 323.7,609.6 326.2,607.9 331.0,612.6 337.4,613.6 340.0,614.0 344.8,615.3 347.9,615.6 354.9,615.4 359.1,617.0 363.0,616.6 366.4,618.3 370.0,620.0 372.3,619.7 379.2,617.8 380.2,618.2 385.9,618.4 391.1,617.1 396.2,616.8 398.0,616.0 398.1,618.1 398.7,623.6 400.7,628.6 400.0,632.0 394.3,632.8 392.2,635.0 388.2,634.6 382.9,634.8 380.1,633.3 373.9,634.5 370.0,636.0 366.1,637.0 360.5,632.1 356.4,635.6 353.1,634.5 347.8,632.0 344.4,632.0 342.0,633.2 335.0,632.0 330.5,629.6 327.2,628.4 324.8,627.2 318.8,627.6 315.9,624.6 312.0,622.0 310.8,618.2 311.4,611.2 312.9,610.8Z" fill="#355992"/>
<path d="M315.0,548.0 318.7,546.3 323.8,547.3 328.0,547.0 332.4,548.1 336.0,546.0 338.7,548.2 341.6,555.0 345.8,555.2 344.0,560.0 345.9,561.5 347.9,567.3 351.1,571.1 348.4,575.4 352.0,580.0 352.9,583.4 356.0,585.0 359.3,587.1 365.0,590.0 365.3,595.4 360.6,600.0 360.0,605.0 356.0,605.0 350.4,604.5 344.8,602.4 343.4,603.4 340.0,602.0 336.4,597.9 331.6,597.4 329.1,594.1 325.0,593.2 322.0,590.0 319.4,585.9 320.6,580.3 313.8,578.9 313.2,573.6 312.0,570.0 311.7,565.3 315.1,562.2 314.8,555.1 313.0,549.0Z" fill="#452983"/>
<path d="M316.0,548.0 319.7,548.1 326.0,545.7 330.0,545.0 332.3,547.8 334.9,553.3 337.0,556.0 331.1,558.7 330.1,560.2 325.0,563.0 323.6,562.6 320.4,556.0 317.4,552.0Z" fill="#4a1881"/>
<path d="M369.0,532.0 374.6,531.6 377.8,530.9 384.0,530.0 386.3,535.0 386.2,538.7 386.4,543.8 386.0,548.0 380.2,549.0 375.5,548.6 372.0,550.0 371.5,545.9 369.1,542.3 370.4,535.7Z" fill="#4a1881"/>
<path d="M397.0,570.0 399.7,570.3 405.5,571.1 410.1,569.1 415.0,572.0 415.0,576.0 416.8,579.8 418.5,582.7 418.6,589.1 418.5,593.8 418.0,598.0 414.9,598.0 407.7,600.7 404.4,599.8 400.0,600.0 401.1,594.5 399.9,590.7 398.6,587.2 396.5,581.9 399.5,579.6 397.4,574.6Z" fill="#452983"/>
<path d="M399.0,520.0 402.8,520.8 407.2,518.7 413.0,516.7 417.7,515.0 420.0,516.0 426.0,516.6 427.7,515.7 431.5,517.8 436.0,520.0 435.7,523.8 437.9,528.2 437.6,530.7 436.5,538.2 437.1,542.0 438.1,544.0 440.1,549.5 439.1,551.5 439.5,556.4 440.0,560.0 440.9,564.0 440.3,570.0 439.9,572.4 437.4,572.8 439.5,579.9 438.2,584.3 438.5,589.4 438.5,591.1 439.4,595.7 438.0,600.0 435.0,601.4 430.0,604.1 427.2,606.6 423.3,605.8 420.0,610.0 415.0,609.7 410.6,607.2 407.7,605.4 402.0,605.0 400.0,600.8 401.1,595.7 401.4,593.4 401.4,589.2 403.5,584.4 401.5,580.1 400.0,576.0 400.3,573.1 403.5,567.7 400.1,564.4 400.9,560.8 401.8,553.5 397.3,551.8 401.3,546.5 396.2,545.0 400.0,538.9 398.4,535.0 399.6,531.4 399.9,524.7 398.1,522.7Z" fill="#2b61a2"/>
<path d="M436.0,528.0 440.4,527.9 446.5,526.8 450.3,530.2 455.0,530.0 461.0,531.4 463.0,531.8 463.5,537.0 470.2,539.4 474.0,540.0 472.5,544.7 476.6,548.7 474.9,552.3 472.8,558.0 474.2,561.1 473.2,563.1 477.0,568.2 477.2,572.6 473.4,577.9 475.1,581.7 476.0,585.0 472.0,585.6 468.2,592.6 464.6,592.4 460.0,595.0 457.3,594.3 452.3,591.7 448.3,593.2 443.0,592.7 440.0,590.0 439.6,584.8 440.7,581.4 440.1,577.2 438.9,574.1 439.0,566.9 437.1,566.3 438.0,560.4 436.2,555.6 435.2,552.7 436.6,547.5 437.0,545.0 439.3,538.6 437.9,537.4 435.3,532.4Z" fill="#2470a0"/>
<path d="M465.0,534.0 468.2,535.7 474.3,537.7 476.9,538.0 480.0,540.0 482.0,542.7 488.9,544.2 490.0,549.2 495.0,552.0 496.4,554.6 499.7,557.6 501.6,563.6 503.8,564.5 508.0,570.0 508.2,575.2 509.8,578.0 511.1,580.8 512.6,587.6 512.5,592.6 512.6,597.1 515.0,600.0 514.8,604.0 514.2,608.6 515.3,611.8 512.6,618.7 512.4,623.0 514.8,625.8 513.2,629.2 512.0,635.0 508.9,638.6 504.6,640.9 500.0,645.0 494.0,646.2 489.5,645.8 489.1,647.0 486.3,648.6 480.0,648.0 474.7,646.0 470.9,642.1 465.4,641.3 462.0,640.0 458.7,635.8 460.0,629.4 459.9,628.0 458.8,622.5 458.4,619.4 457.2,613.3 456.0,610.0 458.3,607.9 459.3,605.4 461.4,599.3 463.2,596.0 463.9,591.5 466.7,588.7 470.0,585.0 470.8,581.5 466.3,579.0 469.1,571.3 468.5,568.2 467.1,564.0 466.8,559.0 466.3,553.5 466.8,551.7 466.9,547.7 466.2,541.9 466.4,536.6Z" fill="#179794"/>
<path d="M465.0,625.0 468.1,622.7 474.6,623.8 478.1,622.8 480.6,620.8 485.7,620.2 490.0,618.0 493.5,619.9 497.8,623.9 500.0,625.1 503.1,624.6 508.0,630.0 506.2,634.5 504.3,635.2 501.6,638.6 500.0,645.0 497.5,644.2 493.2,647.1 486.4,645.1 483.8,646.0 479.3,646.9 475.0,648.0 471.2,641.5 471.9,639.7 469.3,637.3 469.7,632.3 466.3,629.4Z" fill="#17ab8d"/>
<path d="M350.0,650.0 352.7,648.8 359.2,648.0 360.5,644.8 366.1,644.4 372.0,644.7 375.1,640.8 380.0,640.0 385.4,639.2 389.5,637.9 390.6,634.8 394.1,636.0 401.4,636.2 405.0,634.2 407.3,630.2 413.0,630.9 416.1,629.7 420.0,628.0 424.8,628.5 430.3,626.7 434.1,625.6 436.9,624.9 440.2,624.3 444.8,622.3 449.6,621.7 455.0,620.0 456.0,622.1 457.5,627.3 459.1,632.0 459.5,634.9 460.0,640.0 456.0,641.9 454.4,647.0 449.0,648.8 444.1,648.6 442.2,650.9 440.0,655.0 434.3,657.1 432.2,658.7 429.6,660.2 425.8,661.4 419.8,664.4 416.8,663.6 413.5,665.3 410.0,668.0 405.3,670.4 402.1,670.9 396.9,675.3 393.9,678.5 390.6,679.4 385.0,680.0 379.2,679.6 376.6,676.7 372.7,677.1 368.9,673.6 365.1,672.6 360.0,672.0 358.6,668.0 356.4,665.6 353.8,663.3 351.1,656.6 352.1,654.4Z" fill="#227596"/>
<path d="M346.0,660.0 349.9,658.7 354.5,657.2 359.7,657.3 362.0,655.0 367.5,655.1 370.9,657.1 374.3,659.2 380.0,660.0 381.6,664.5 383.2,669.6 385.7,671.5 389.0,675.0 389.0,678.6 388.0,682.2 386.0,688.0 383.7,688.5 377.3,688.6 375.0,688.8 370.0,690.0 365.1,687.7 360.6,688.2 357.3,685.0 354.0,682.0 351.6,676.8 348.7,674.9 346.0,670.0 345.8,666.4Z" fill="#24bd7e"/>
<path d="M366.0,672.0 371.9,672.4 374.8,669.4 380.0,670.0 381.9,673.6 386.0,674.1 388.0,680.0 386.0,684.2 384.0,688.0 379.0,689.9 375.2,690.2 370.0,689.0 368.7,685.9 370.0,682.1 365.7,675.9Z" fill="#3bc86d"/>
</g>
<g filter="url(#bs)"><path d="M352.0,642.0 C356.7,640.3 368.7,635.7 380.0,632.0 C391.3,628.3 408.3,623.7 420.0,620.0 C431.7,616.3 442.3,613.0 450.0,610.0 C457.7,607.0 463.3,603.3 466.0,602.0" fill="none" stroke="#16163a" stroke-width="1.4" stroke-linecap="round" opacity="0.45"/>
<path d="M360.0,654.0 C365.8,653.0 384.2,650.0 395.0,648.0 C405.8,646.0 415.0,644.3 425.0,642.0 C435.0,639.7 446.7,637.7 455.0,634.0 C463.3,630.3 469.5,625.3 475.0,620.0 C480.5,614.7 485.8,605.0 488.0,602.0" fill="none" stroke="#16163a" stroke-width="1.4" stroke-linecap="round" opacity="0.45"/>
<path d="M380.0,672.0 C386.7,670.7 408.3,667.0 420.0,664.0 C431.7,661.0 440.3,657.3 450.0,654.0 C459.7,650.7 473.3,645.7 478.0,644.0" fill="none" stroke="#16163a" stroke-width="1.4" stroke-linecap="round" opacity="0.45"/>
<path d="M418.0,516.0 C417.2,518.7 415.2,526.0 413.0,532.0 C410.8,538.0 407.8,545.7 405.0,552.0 C402.2,558.3 398.8,563.7 396.0,570.0 C393.2,576.3 389.3,586.7 388.0,590.0" fill="none" stroke="#16163a" stroke-width="1.4" stroke-linecap="round" opacity="0.45"/>
<path d="M400.0,520.0 C398.7,523.7 395.0,535.3 392.0,542.0 C389.0,548.7 385.0,553.7 382.0,560.0 C379.0,566.3 375.3,576.7 374.0,580.0" fill="none" stroke="#16163a" stroke-width="1.4" stroke-linecap="round" opacity="0.45"/>
<path d="M436.0,524.0 C435.0,527.3 432.3,538.0 430.0,544.0 C427.7,550.0 424.7,554.3 422.0,560.0 C419.3,565.7 416.0,572.3 414.0,578.0 C412.0,583.7 410.7,591.3 410.0,594.0" fill="none" stroke="#16163a" stroke-width="1.4" stroke-linecap="round" opacity="0.45"/>
<path d="M385.0,532.0 C380.8,533.3 368.3,537.0 360.0,540.0 C351.7,543.0 343.3,546.0 335.0,550.0 C326.7,554.0 316.7,559.0 310.0,564.0 C303.3,569.0 297.5,577.3 295.0,580.0" fill="none" stroke="#16163a" stroke-width="1.4" stroke-linecap="round" opacity="0.45"/>
<path d="M372.0,574.0 C368.3,575.3 357.0,579.0 350.0,582.0 C343.0,585.0 337.5,588.3 330.0,592.0 C322.5,595.7 309.2,602.0 305.0,604.0" fill="none" stroke="#16163a" stroke-width="1.4" stroke-linecap="round" opacity="0.45"/>
<path d="M440.0,554.0 C443.3,555.0 453.7,557.3 460.0,560.0 C466.3,562.7 472.7,565.5 478.0,570.0 C483.3,574.5 489.7,584.2 492.0,587.0" fill="none" stroke="#16163a" stroke-width="1.4" stroke-linecap="round" opacity="0.45"/>
<path d="M292.0,640.0 C296.7,641.3 311.2,646.0 320.0,648.0 C328.8,650.0 340.8,651.3 345.0,652.0" fill="none" stroke="#16163a" stroke-width="1.4" stroke-linecap="round" opacity="0.45"/>
<path d="M300.0,612.0 C302.5,613.7 310.8,617.8 315.0,622.0 C319.2,626.2 323.3,634.5 325.0,637.0" fill="none" stroke="#16163a" stroke-width="1.4" stroke-linecap="round" opacity="0.45"/>
<path d="M455.0,532.0 C457.5,534.0 465.5,540.7 470.0,544.0 C474.5,547.3 480.0,550.7 482.0,552.0" fill="none" stroke="#16163a" stroke-width="1.4" stroke-linecap="round" opacity="0.45"/>
<path d="M498.0,594.0 C498.8,597.8 501.8,609.0 503.0,617.0 C504.2,625.0 504.7,637.8 505.0,642.0" fill="none" stroke="#16163a" stroke-width="1.4" stroke-linecap="round" opacity="0.45"/>
<path d="M428.0,515.5 426.0,516.2 423.0,516.5 420.0,516.6 417.0,516.8 414.9,517.0 412.0,517.7 410.0,518.8 408.4,520.0 407.0,521.0 405.0,522.1 402.2,523.0 400.0,523.4 397.0,523.4 395.0,522.9 393.0,521.9 391.0,520.9 388.0,520.5 386.4,522.0 388.0,523.2 390.0,524.0 392.1,525.0 393.7,527.0 393.0,529.0 391.0,530.7 391.3,532.0 394.0,532.7 395.9,534.0 396.6,536.0 396.9,539.0 397.6,541.0 398.4,543.0 397.0,544.2 394.0,545.0 392.0,545.3 389.0,545.6 386.0,545.7 383.0,545.6 380.0,545.7 377.9,546.0 375.0,546.6 372.0,546.8 370.5,545.0 369.2,543.0 368.0,542.0 366.0,540.8 364.0,539.6 362.0,538.0 361.0,536.5 360.4,534.0 362.0,533.0 365.0,532.7 368.0,533.0 370.0,533.1 372.3,533.0 375.0,532.4 376.3,531.0 375.0,529.4 373.0,528.4 371.0,527.8 368.0,527.1 366.0,526.8 363.0,526.0M335.0,540.3 338.0,540.8 340.0,541.3 341.4,543.0 340.8,545.0 341.9,547.0 344.0,547.6 346.0,548.2 348.5,549.0 350.0,550.1 350.0,552.4 349.4,555.0 350.1,557.0 351.8,559.0 353.0,560.1 355.0,561.2 358.0,562.0 359.5,562.0 362.0,561.5 364.0,560.4 366.0,559.1 368.0,558.0 370.0,557.2 372.0,556.7 375.0,556.0 377.0,555.3 378.7,554.0 380.0,552.4 381.2,551.0 383.0,549.8 385.5,549.0 387.2,549.0 389.5,550.0 390.6,552.0 389.9,554.0 388.2,556.0 386.4,557.0 384.0,557.4 381.0,557.6 379.0,558.1 377.4,560.0 378.0,562.1 380.0,563.1 383.0,563.4 386.0,563.7 388.5,564.0 391.0,564.3 394.0,564.7 396.4,565.0 399.0,565.3 402.0,565.6 405.0,565.5 407.7,565.0 409.4,564.0 409.0,562.0 407.0,560.2 405.8,559.0 404.0,557.2 402.9,556.0 402.3,553.0 403.8,551.0 404.6,549.0 403.6,547.0 402.0,545.1 402.0,543.9 404.0,542.8 406.0,541.8 408.0,540.8 410.0,539.6 412.0,538.6 415.0,538.0 418.0,538.4 421.0,538.9 423.0,539.2 426.0,539.6 428.0,540.1 430.3,541.0 432.1,542.0 434.0,543.6 435.5,545.0 437.0,546.1 439.0,547.4 440.3,549.0 439.0,550.2 437.0,551.6 435.0,552.9 433.6,554.0 435.0,555.5 437.2,556.0 440.0,556.4 443.0,556.9 445.0,557.1 448.0,557.4 451.0,557.4 454.0,557.0 456.0,556.4 458.0,555.6 460.0,554.5 461.7,553.0 459.0,552.5 456.0,552.4 453.7,552.0 451.0,551.3 449.0,550.5 447.0,549.4 445.6,548.0 446.2,546.0 447.0,543.1 447.6,541.0 448.2,539.0 450.0,537.9 453.0,538.0 455.0,538.6 457.0,539.3 459.4,540.0 462.0,540.7 464.0,541.2 466.0,542.1 468.0,543.5 469.5,545.0 469.3,548.0 468.7,550.0 470.0,551.7 471.1,553.0 472.0,555.7 473.0,557.9 474.3,559.0 476.6,560.0 478.7,561.0 479.0,562.4 477.0,563.2 474.0,563.1 472.0,562.7 469.0,562.2 466.0,562.1 463.0,562.4 460.7,563.0 459.3,565.0 461.0,566.5 462.4,568.0 462.5,571.0 461.7,573.0 461.5,576.0 462.3,578.0 464.0,579.6 466.0,580.6 468.0,581.2 471.0,581.9 473.0,582.2 476.0,582.8 478.0,583.3 480.0,584.1 482.0,585.9 483.0,587.0 485.0,588.5 487.0,589.2 490.0,589.4 492.5,589.0 494.1,588.0 493.0,586.2 493.0,585.0 495.0,583.9 498.0,583.5 501.0,583.3 503.0,582.8M464.6,535.0 462.1,534.0 460.4,533.0M353.0,539.6 350.0,539.5 350.2,538.0 353.0,537.9 353.0,539.6M461.5,649.0 462.0,646.9 462.2,644.0 463.0,641.8 464.4,640.0 465.3,638.0 464.0,636.4 462.0,635.3 460.0,634.5 457.4,634.0 455.0,633.9 453.0,634.1 452.1,637.0 451.6,639.0 450.0,640.4 447.0,641.0 445.0,641.0 443.0,641.0 440.0,640.8 437.0,640.8 435.0,641.0 432.0,641.7 430.0,642.3 427.0,642.7 424.0,642.3 422.0,641.9 419.0,641.2 417.0,640.5 415.5,639.0 417.3,638.0 420.0,637.3 422.0,636.8 424.7,636.0 427.0,635.3 429.0,634.6 431.1,634.0 434.0,633.3 437.0,633.4 440.0,633.6 443.0,633.5 446.0,633.1 447.6,632.0 446.0,631.0 443.0,630.6 440.0,630.7 437.0,630.8 434.4,630.0 432.7,629.0 430.1,628.0 428.0,627.7 425.0,627.6 422.0,627.6 419.0,627.5 416.0,627.7 414.0,628.0 411.3,629.0 409.0,629.9 407.0,630.5 405.0,631.1 402.4,632.0 401.8,634.0 402.8,636.0 403.4,638.0 403.0,640.5 402.8,643.0 402.3,646.0 401.1,648.0 399.0,649.0 397.0,649.2 394.0,649.3 391.0,649.4 388.0,649.0 386.1,648.0 385.0,646.7 384.0,644.6 383.2,642.0 382.5,640.0 382.3,637.0 381.7,635.0 380.0,633.8 377.4,634.0 375.2,635.0 373.0,635.9 371.0,636.3 368.0,636.2 366.0,635.9 363.0,635.3 361.0,635.0 358.0,634.8 355.0,634.9 353.0,635.0 350.0,635.2 348.0,634.0 348.0,632.0 349.0,630.3 350.0,628.9 350.7,626.0 349.4,624.0 348.0,622.6 346.5,621.0 346.0,619.0 347.0,617.7 348.4,616.0 348.0,613.3 346.9,612.0 345.0,610.1 343.6,609.0 342.0,608.0 340.0,606.6 338.8,605.0 339.5,603.0 340.3,601.0 340.3,598.0 342.0,596.3 344.0,595.1 346.0,594.2 348.0,593.6 351.0,593.2 354.0,593.3 357.0,593.5 360.0,593.6 363.0,593.2 365.0,592.1 366.0,591.0 365.8,589.0 364.7,587.0 363.9,585.0 362.0,583.2 360.0,582.6 357.0,582.0 355.0,581.7 352.0,581.1 350.0,580.0 349.8,578.0 349.0,575.2 347.0,574.4 344.0,574.1 341.0,574.1 338.0,574.3 335.3,575.0 333.6,576.0 332.0,577.4 330.7,579.0 330.8,582.0 332.0,583.5 332.0,585.1 330.0,586.3 328.0,587.0 325.0,587.8 323.0,588.4 321.0,589.1 319.4,591.0 320.4,593.0 322.0,594.4 324.4,595.0 327.0,595.2 330.0,595.6 332.0,596.6 332.0,598.0 329.8,599.0 327.0,599.7 324.0,599.2 322.0,598.1 320.0,597.6 317.0,597.9 315.0,598.1 312.0,598.3 309.9,598.0 307.2,597.0 305.4,596.0 303.5,595.0 301.4,594.0 299.2,593.0 297.7,592.0 298.0,589.6 300.0,588.6 302.2,588.0 305.0,587.6 308.0,587.4 311.0,587.0 313.0,586.3 314.1,585.0 313.9,583.0 312.0,581.6 310.0,580.9 307.0,580.6 304.3,581.0 302.0,581.6 300.0,582.2 297.0,582.7 294.0,582.7 291.0,582.4 289.0,581.9M308.0,557.8 310.2,558.0 313.0,558.8 313.0,561.0 312.0,562.0 310.0,563.5 308.0,564.7 306.2,566.0 305.0,567.1 304.0,569.0 305.0,570.5 307.1,571.0 310.0,571.1 312.2,571.0 315.0,570.8 318.0,570.4 320.2,570.0 323.0,569.6 326.0,569.3 329.0,569.2 331.5,569.0 334.0,568.1 335.4,567.0 335.0,564.9 333.0,563.7 331.0,562.0 330.4,560.0 329.0,558.0 327.9,557.0 326.0,555.2 325.0,553.4 324.1,551.0 323.0,549.6 321.0,548.5M448.0,572.0 450.0,570.3 450.0,568.0 449.0,566.7 447.0,565.8 444.2,565.0 442.0,564.5 439.9,564.0 437.0,563.5 434.0,563.8 432.2,565.0 431.6,567.0 432.1,569.0 434.0,570.6 436.0,571.3 438.5,572.0 441.0,572.5 444.0,572.8 447.0,572.4M376.4,589.0 378.1,588.0 377.3,586.0 376.2,584.0 378.0,582.9 380.0,581.8 382.0,580.9 385.0,580.1 387.0,579.7 390.0,579.5 393.0,579.4 395.3,579.0 397.2,578.0 398.4,576.0 397.2,574.0 395.5,573.0 393.0,572.1 391.0,571.7 388.0,571.4 385.0,571.1 383.0,570.8 380.0,570.1 378.0,569.5 375.6,569.0 373.0,568.8 370.0,568.7 368.0,568.0 365.0,567.6 363.0,568.2 363.0,570.2 366.0,570.2 369.0,570.0 372.0,570.6 373.9,572.0 375.0,573.2 375.0,575.7 373.6,577.0 371.7,578.0 369.2,579.0 367.4,580.0 367.0,581.1 369.0,582.6 371.0,583.3 373.2,584.0 374.0,585.1 372.0,587.0 372.0,588.8 374.0,589.2 376.4,589.0M503.4,584.0 503.3,587.0 502.5,589.0 503.6,591.0 503.2,594.0 502.0,595.4 500.0,596.8 498.0,597.5 495.0,597.7 492.0,597.4 489.7,597.0 487.0,596.7 484.0,596.7 481.0,596.7 478.0,596.2 476.0,595.1 474.9,594.0 473.6,592.0 472.0,590.6 470.0,589.9 467.0,589.4 464.0,589.2 461.0,589.1 458.0,589.2 455.0,589.5 452.0,590.0 450.0,590.3 447.0,590.4 444.4,590.0 442.0,589.3 440.0,588.6 438.0,587.9 435.0,587.2 432.0,587.1 429.0,587.7 427.0,588.7 425.0,590.0 423.0,590.7 420.0,590.8 417.0,590.4 416.0,589.3 417.9,588.0 419.4,587.0 421.0,585.7 422.7,584.0 424.0,582.8 426.0,581.3 428.0,580.3 429.1,579.0 428.0,577.9 426.0,576.8 423.0,576.2 420.0,576.2 417.0,576.5 414.4,577.0 412.2,578.0 411.0,579.1 409.0,580.9 407.3,582.0 405.6,583.0 404.8,585.0 406.0,586.4 408.0,587.8 410.0,588.9 412.0,589.8 411.3,591.0 409.0,591.9 407.0,592.8 405.0,593.9 403.3,595.0 402.0,596.4 402.0,598.1 404.0,600.0 405.0,601.1 405.7,604.0 406.1,606.0 407.0,608.3 408.0,610.0 410.0,611.4 412.0,612.0 415.0,612.5 418.0,612.7 420.2,613.0 422.9,614.0 424.0,615.1 425.8,617.0 427.1,618.0 429.0,619.2 431.0,620.5 433.0,621.6 435.0,622.4 438.0,622.7 441.0,622.5 444.0,622.3 447.0,622.2 450.0,622.4 453.0,622.6 456.0,622.5 459.0,622.0 461.0,621.1 462.4,620.0 464.0,618.1 464.9,616.0 464.7,613.0 466.0,611.7 468.0,610.6 471.0,610.3 474.0,610.7 476.0,611.3 478.0,612.4 478.0,614.6 477.6,617.0 479.0,618.7 481.0,619.7 484.0,619.3 485.7,618.0 486.5,616.0 485.5,614.0 486.0,611.8 488.0,610.5 490.0,609.5 492.0,608.4 493.9,607.0 495.0,606.0 497.0,604.1 498.7,603.0 501.0,602.4 504.0,602.5 506.0,603.0 508.5,604.0 511.0,604.9 513.0,605.0 515.0,604.9M386.4,601.0 389.0,600.5 391.0,600.0 393.6,599.0 395.4,598.0 396.4,596.0 395.0,594.6 393.0,593.9 390.0,593.8 388.0,594.1 385.9,595.0 384.0,596.5 382.6,598.0 381.6,600.0 383.0,601.0 386.0,601.1M288.0,602.3 285.0,602.1 283.5,601.0 282.0,599.4M283.0,595.9 286.0,595.2 289.0,595.1 292.0,595.8 292.8,598.0 291.4,600.0 290.0,601.3 288.0,602.3M430.0,599.2 427.0,599.2 426.6,597.0 428.0,595.6 431.0,595.3 433.0,596.0 432.8,598.0 430.8,599.0M279.0,620.8 282.0,620.2 283.4,619.0 283.0,616.0 282.0,614.6 280.4,613.0 282.0,611.0 284.0,610.8 286.0,611.0 289.0,611.3 292.0,611.2 294.0,610.7 295.3,609.0 295.4,606.0 297.0,604.2 299.0,603.3 301.0,602.7 304.0,602.2 307.0,602.1 310.0,602.5 312.0,603.1 315.0,603.7 318.0,603.7 321.0,603.6 322.0,604.0 319.5,605.0 317.0,605.2 314.0,605.6 312.0,606.3 310.0,607.5 308.3,609.0 307.0,610.6 307.0,612.4 310.0,612.4 313.0,612.2 316.0,612.1 319.0,612.5 321.0,613.1 323.0,614.2 325.0,615.7 326.7,617.0 328.3,618.0 330.0,619.0 331.8,621.0 332.3,623.0 332.6,626.0 331.0,627.3 328.0,627.7 325.0,627.7 322.0,627.8 319.1,628.0 317.0,628.4 315.0,629.7 314.0,631.2 314.0,633.7 316.0,634.6 318.0,635.1 321.0,635.8 323.0,636.3 324.4,638.0 322.5,639.0 320.4,640.0 318.9,641.0 317.7,643.0 318.7,645.0 320.9,646.0 323.0,646.6 325.0,647.4 325.2,650.0 325.0,652.0 325.0,654.0 324.0,655.4 322.0,656.7 320.1,658.0 319.0,659.3 317.8,661.0M354.4,676.0 356.0,674.6 358.0,673.4 360.0,672.3 362.0,671.1 363.1,670.0 362.9,668.0 361.0,666.9 358.8,666.0 356.0,665.1 354.0,664.6 351.4,664.0 350.0,662.9 348.0,661.5 346.0,660.4M342.7,658.0 341.5,656.0 342.0,653.0 343.0,651.7 345.0,650.2 347.0,649.5 350.0,649.6 352.0,650.3 354.0,651.8 354.7,654.0 354.5,657.0 354.0,659.0 354.1,661.0 357.0,661.7 360.0,661.0 362.0,660.3 364.0,659.6 366.0,658.9 369.0,658.5 372.0,658.5 375.0,658.7 378.0,658.4 380.0,657.9 383.0,657.5 385.0,658.0 387.0,659.2 389.0,660.3 392.0,660.9 395.0,660.7 398.0,660.5 401.0,660.9 403.0,661.8 404.5,663.0 405.7,665.0 406.6,667.0 408.0,668.9 409.2,670.0M468.0,604.4 465.5,604.0 468.0,603.7M360.8,609.0 362.3,608.0 362.0,605.3 360.0,604.8 358.0,605.0 356.0,606.6 356.1,608.0 358.0,609.1 360.8,609.0M453.0,616.2 450.0,616.5 447.0,616.2 445.0,615.7 443.0,615.0 440.8,614.0 439.0,612.3 439.0,611.0 440.4,609.0 442.0,607.8 444.0,606.9 447.0,606.5 450.0,606.8 452.0,607.5 454.0,608.8 455.3,610.0 457.0,611.9 457.8,614.0 456.0,615.3 453.8,616.0M518.0,619.1 516.1,618.0 515.5,616.0 515.5,613.0 514.9,611.0 513.0,609.2 511.0,608.7 509.0,609.2 507.0,610.4 505.0,612.0 503.9,613.0 502.6,615.0 503.9,617.0 505.6,618.0 507.5,619.0 509.0,620.1 509.9,623.0 510.5,625.0 513.0,625.9 515.0,626.0 518.0,626.0M401.2,615.0 401.0,613.0 398.8,612.0 396.0,611.8 394.0,612.6 394.0,614.1 396.0,615.2 399.0,615.6 401.2,615.0M282.0,633.8 284.0,632.8 286.0,631.9 288.0,631.0 290.5,630.0 293.0,629.3 296.0,629.0 299.0,629.0 302.0,629.1 305.0,629.1 307.0,628.9 310.0,628.4 312.0,628.0 314.4,627.0 315.7,625.0 315.0,622.4 313.6,621.0 312.0,620.0 309.2,619.0 307.0,618.9 305.0,619.7 303.0,621.0 301.3,622.0 299.0,622.7 296.0,622.4 293.0,622.0 290.0,622.3 288.0,623.0 285.0,623.6 282.0,623.6 279.0,623.7M377.2,625.0 379.0,623.7 379.0,621.7 376.0,621.2 373.5,622.0 372.0,623.3 372.9,625.0 375.0,625.4 377.2,625.0M405.7,626.0 408.0,625.2 408.0,623.8 406.0,622.8 403.5,623.0 402.0,624.3 402.9,626.0 405.0,626.1M509.0,644.0 507.1,642.0 506.0,640.2 506.4,639.0 508.0,638.0 510.9,637.0 513.0,636.2 515.0,635.1 515.0,633.5 513.0,632.7 510.0,632.2 508.0,632.0 505.0,631.9 503.0,632.1 500.0,632.4 497.0,632.5 494.0,632.1 492.0,631.7 489.9,631.0 488.1,629.0 488.0,626.0 487.0,624.2 485.0,623.0 483.0,622.3 480.0,622.1 477.0,622.6 475.0,623.0 472.0,623.7 470.0,624.3 468.0,625.1 466.4,627.0 467.0,629.5 469.0,630.8 471.0,631.5 473.0,632.2 475.0,633.0 477.0,634.4 477.8,637.0 477.1,640.0 478.0,642.0 479.6,644.0 480.7,646.0M306.7,640.0 308.0,638.1 307.7,637.0 305.7,637.0 303.8,638.0 304.0,640.5 306.7,640.0M364.0,649.2 361.2,649.0 359.0,648.0 357.4,647.0 355.0,646.0 353.0,645.6 351.0,644.9 349.0,643.0 348.6,641.0 350.0,639.3 353.0,639.9 355.0,640.4 358.0,641.0 360.0,641.3 363.0,641.6 365.3,642.0 367.6,643.0 368.0,644.3 367.0,646.7 366.0,648.1 364.0,649.2M432.0,646.2 429.0,646.2 430.0,645.3 432.5,646.0M298.0,654.9 299.6,653.0 298.0,651.4 296.0,650.5 294.0,649.7 292.0,649.0 289.0,648.3M394.1,677.0 393.0,675.4 391.1,674.0 389.0,673.1 387.0,672.7 384.0,672.8 382.3,674.0 381.2,676.0 380.4,678.0 380.7,681.0" fill="none" stroke="#ffffff" stroke-width="2.2" stroke-linejoin="round" opacity="0.12" transform="translate(1.4,1.4)"/>
<path d="M428.0,515.5 426.0,516.2 423.0,516.5 420.0,516.6 417.0,516.8 414.9,517.0 412.0,517.7 410.0,518.8 408.4,520.0 407.0,521.0 405.0,522.1 402.2,523.0 400.0,523.4 397.0,523.4 395.0,522.9 393.0,521.9 391.0,520.9 388.0,520.5 386.4,522.0 388.0,523.2 390.0,524.0 392.1,525.0 393.7,527.0 393.0,529.0 391.0,530.7 391.3,532.0 394.0,532.7 395.9,534.0 396.6,536.0 396.9,539.0 397.6,541.0 398.4,543.0 397.0,544.2 394.0,545.0 392.0,545.3 389.0,545.6 386.0,545.7 383.0,545.6 380.0,545.7 377.9,546.0 375.0,546.6 372.0,546.8 370.5,545.0 369.2,543.0 368.0,542.0 366.0,540.8 364.0,539.6 362.0,538.0 361.0,536.5 360.4,534.0 362.0,533.0 365.0,532.7 368.0,533.0 370.0,533.1 372.3,533.0 375.0,532.4 376.3,531.0 375.0,529.4 373.0,528.4 371.0,527.8 368.0,527.1 366.0,526.8 363.0,526.0M335.0,540.3 338.0,540.8 340.0,541.3 341.4,543.0 340.8,545.0 341.9,547.0 344.0,547.6 346.0,548.2 348.5,549.0 350.0,550.1 350.0,552.4 349.4,555.0 350.1,557.0 351.8,559.0 353.0,560.1 355.0,561.2 358.0,562.0 359.5,562.0 362.0,561.5 364.0,560.4 366.0,559.1 368.0,558.0 370.0,557.2 372.0,556.7 375.0,556.0 377.0,555.3 378.7,554.0 380.0,552.4 381.2,551.0 383.0,549.8 385.5,549.0 387.2,549.0 389.5,550.0 390.6,552.0 389.9,554.0 388.2,556.0 386.4,557.0 384.0,557.4 381.0,557.6 379.0,558.1 377.4,560.0 378.0,562.1 380.0,563.1 383.0,563.4 386.0,563.7 388.5,564.0 391.0,564.3 394.0,564.7 396.4,565.0 399.0,565.3 402.0,565.6 405.0,565.5 407.7,565.0 409.4,564.0 409.0,562.0 407.0,560.2 405.8,559.0 404.0,557.2 402.9,556.0 402.3,553.0 403.8,551.0 404.6,549.0 403.6,547.0 402.0,545.1 402.0,543.9 404.0,542.8 406.0,541.8 408.0,540.8 410.0,539.6 412.0,538.6 415.0,538.0 418.0,538.4 421.0,538.9 423.0,539.2 426.0,539.6 428.0,540.1 430.3,541.0 432.1,542.0 434.0,543.6 435.5,545.0 437.0,546.1 439.0,547.4 440.3,549.0 439.0,550.2 437.0,551.6 435.0,552.9 433.6,554.0 435.0,555.5 437.2,556.0 440.0,556.4 443.0,556.9 445.0,557.1 448.0,557.4 451.0,557.4 454.0,557.0 456.0,556.4 458.0,555.6 460.0,554.5 461.7,553.0 459.0,552.5 456.0,552.4 453.7,552.0 451.0,551.3 449.0,550.5 447.0,549.4 445.6,548.0 446.2,546.0 447.0,543.1 447.6,541.0 448.2,539.0 450.0,537.9 453.0,538.0 455.0,538.6 457.0,539.3 459.4,540.0 462.0,540.7 464.0,541.2 466.0,542.1 468.0,543.5 469.5,545.0 469.3,548.0 468.7,550.0 470.0,551.7 471.1,553.0 472.0,555.7 473.0,557.9 474.3,559.0 476.6,560.0 478.7,561.0 479.0,562.4 477.0,563.2 474.0,563.1 472.0,562.7 469.0,562.2 466.0,562.1 463.0,562.4 460.7,563.0 459.3,565.0 461.0,566.5 462.4,568.0 462.5,571.0 461.7,573.0 461.5,576.0 462.3,578.0 464.0,579.6 466.0,580.6 468.0,581.2 471.0,581.9 473.0,582.2 476.0,582.8 478.0,583.3 480.0,584.1 482.0,585.9 483.0,587.0 485.0,588.5 487.0,589.2 490.0,589.4 492.5,589.0 494.1,588.0 493.0,586.2 493.0,585.0 495.0,583.9 498.0,583.5 501.0,583.3 503.0,582.8M464.6,535.0 462.1,534.0 460.4,533.0M353.0,539.6 350.0,539.5 350.2,538.0 353.0,537.9 353.0,539.6M461.5,649.0 462.0,646.9 462.2,644.0 463.0,641.8 464.4,640.0 465.3,638.0 464.0,636.4 462.0,635.3 460.0,634.5 457.4,634.0 455.0,633.9 453.0,634.1 452.1,637.0 451.6,639.0 450.0,640.4 447.0,641.0 445.0,641.0 443.0,641.0 440.0,640.8 437.0,640.8 435.0,641.0 432.0,641.7 430.0,642.3 427.0,642.7 424.0,642.3 422.0,641.9 419.0,641.2 417.0,640.5 415.5,639.0 417.3,638.0 420.0,637.3 422.0,636.8 424.7,636.0 427.0,635.3 429.0,634.6 431.1,634.0 434.0,633.3 437.0,633.4 440.0,633.6 443.0,633.5 446.0,633.1 447.6,632.0 446.0,631.0 443.0,630.6 440.0,630.7 437.0,630.8 434.4,630.0 432.7,629.0 430.1,628.0 428.0,627.7 425.0,627.6 422.0,627.6 419.0,627.5 416.0,627.7 414.0,628.0 411.3,629.0 409.0,629.9 407.0,630.5 405.0,631.1 402.4,632.0 401.8,634.0 402.8,636.0 403.4,638.0 403.0,640.5 402.8,643.0 402.3,646.0 401.1,648.0 399.0,649.0 397.0,649.2 394.0,649.3 391.0,649.4 388.0,649.0 386.1,648.0 385.0,646.7 384.0,644.6 383.2,642.0 382.5,640.0 382.3,637.0 381.7,635.0 380.0,633.8 377.4,634.0 375.2,635.0 373.0,635.9 371.0,636.3 368.0,636.2 366.0,635.9 363.0,635.3 361.0,635.0 358.0,634.8 355.0,634.9 353.0,635.0 350.0,635.2 348.0,634.0 348.0,632.0 349.0,630.3 350.0,628.9 350.7,626.0 349.4,624.0 348.0,622.6 346.5,621.0 346.0,619.0 347.0,617.7 348.4,616.0 348.0,613.3 346.9,612.0 345.0,610.1 343.6,609.0 342.0,608.0 340.0,606.6 338.8,605.0 339.5,603.0 340.3,601.0 340.3,598.0 342.0,596.3 344.0,595.1 346.0,594.2 348.0,593.6 351.0,593.2 354.0,593.3 357.0,593.5 360.0,593.6 363.0,593.2 365.0,592.1 366.0,591.0 365.8,589.0 364.7,587.0 363.9,585.0 362.0,583.2 360.0,582.6 357.0,582.0 355.0,581.7 352.0,581.1 350.0,580.0 349.8,578.0 349.0,575.2 347.0,574.4 344.0,574.1 341.0,574.1 338.0,574.3 335.3,575.0 333.6,576.0 332.0,577.4 330.7,579.0 330.8,582.0 332.0,583.5 332.0,585.1 330.0,586.3 328.0,587.0 325.0,587.8 323.0,588.4 321.0,589.1 319.4,591.0 320.4,593.0 322.0,594.4 324.4,595.0 327.0,595.2 330.0,595.6 332.0,596.6 332.0,598.0 329.8,599.0 327.0,599.7 324.0,599.2 322.0,598.1 320.0,597.6 317.0,597.9 315.0,598.1 312.0,598.3 309.9,598.0 307.2,597.0 305.4,596.0 303.5,595.0 301.4,594.0 299.2,593.0 297.7,592.0 298.0,589.6 300.0,588.6 302.2,588.0 305.0,587.6 308.0,587.4 311.0,587.0 313.0,586.3 314.1,585.0 313.9,583.0 312.0,581.6 310.0,580.9 307.0,580.6 304.3,581.0 302.0,581.6 300.0,582.2 297.0,582.7 294.0,582.7 291.0,582.4 289.0,581.9M308.0,557.8 310.2,558.0 313.0,558.8 313.0,561.0 312.0,562.0 310.0,563.5 308.0,564.7 306.2,566.0 305.0,567.1 304.0,569.0 305.0,570.5 307.1,571.0 310.0,571.1 312.2,571.0 315.0,570.8 318.0,570.4 320.2,570.0 323.0,569.6 326.0,569.3 329.0,569.2 331.5,569.0 334.0,568.1 335.4,567.0 335.0,564.9 333.0,563.7 331.0,562.0 330.4,560.0 329.0,558.0 327.9,557.0 326.0,555.2 325.0,553.4 324.1,551.0 323.0,549.6 321.0,548.5M448.0,572.0 450.0,570.3 450.0,568.0 449.0,566.7 447.0,565.8 444.2,565.0 442.0,564.5 439.9,564.0 437.0,563.5 434.0,563.8 432.2,565.0 431.6,567.0 432.1,569.0 434.0,570.6 436.0,571.3 438.5,572.0 441.0,572.5 444.0,572.8 447.0,572.4M376.4,589.0 378.1,588.0 377.3,586.0 376.2,584.0 378.0,582.9 380.0,581.8 382.0,580.9 385.0,580.1 387.0,579.7 390.0,579.5 393.0,579.4 395.3,579.0 397.2,578.0 398.4,576.0 397.2,574.0 395.5,573.0 393.0,572.1 391.0,571.7 388.0,571.4 385.0,571.1 383.0,570.8 380.0,570.1 378.0,569.5 375.6,569.0 373.0,568.8 370.0,568.7 368.0,568.0 365.0,567.6 363.0,568.2 363.0,570.2 366.0,570.2 369.0,570.0 372.0,570.6 373.9,572.0 375.0,573.2 375.0,575.7 373.6,577.0 371.7,578.0 369.2,579.0 367.4,580.0 367.0,581.1 369.0,582.6 371.0,583.3 373.2,584.0 374.0,585.1 372.0,587.0 372.0,588.8 374.0,589.2 376.4,589.0M503.4,584.0 503.3,587.0 502.5,589.0 503.6,591.0 503.2,594.0 502.0,595.4 500.0,596.8 498.0,597.5 495.0,597.7 492.0,597.4 489.7,597.0 487.0,596.7 484.0,596.7 481.0,596.7 478.0,596.2 476.0,595.1 474.9,594.0 473.6,592.0 472.0,590.6 470.0,589.9 467.0,589.4 464.0,589.2 461.0,589.1 458.0,589.2 455.0,589.5 452.0,590.0 450.0,590.3 447.0,590.4 444.4,590.0 442.0,589.3 440.0,588.6 438.0,587.9 435.0,587.2 432.0,587.1 429.0,587.7 427.0,588.7 425.0,590.0 423.0,590.7 420.0,590.8 417.0,590.4 416.0,589.3 417.9,588.0 419.4,587.0 421.0,585.7 422.7,584.0 424.0,582.8 426.0,581.3 428.0,580.3 429.1,579.0 428.0,577.9 426.0,576.8 423.0,576.2 420.0,576.2 417.0,576.5 414.4,577.0 412.2,578.0 411.0,579.1 409.0,580.9 407.3,582.0 405.6,583.0 404.8,585.0 406.0,586.4 408.0,587.8 410.0,588.9 412.0,589.8 411.3,591.0 409.0,591.9 407.0,592.8 405.0,593.9 403.3,595.0 402.0,596.4 402.0,598.1 404.0,600.0 405.0,601.1 405.7,604.0 406.1,606.0 407.0,608.3 408.0,610.0 410.0,611.4 412.0,612.0 415.0,612.5 418.0,612.7 420.2,613.0 422.9,614.0 424.0,615.1 425.8,617.0 427.1,618.0 429.0,619.2 431.0,620.5 433.0,621.6 435.0,622.4 438.0,622.7 441.0,622.5 444.0,622.3 447.0,622.2 450.0,622.4 453.0,622.6 456.0,622.5 459.0,622.0 461.0,621.1 462.4,620.0 464.0,618.1 464.9,616.0 464.7,613.0 466.0,611.7 468.0,610.6 471.0,610.3 474.0,610.7 476.0,611.3 478.0,612.4 478.0,614.6 477.6,617.0 479.0,618.7 481.0,619.7 484.0,619.3 485.7,618.0 486.5,616.0 485.5,614.0 486.0,611.8 488.0,610.5 490.0,609.5 492.0,608.4 493.9,607.0 495.0,606.0 497.0,604.1 498.7,603.0 501.0,602.4 504.0,602.5 506.0,603.0 508.5,604.0 511.0,604.9 513.0,605.0 515.0,604.9M386.4,601.0 389.0,600.5 391.0,600.0 393.6,599.0 395.4,598.0 396.4,596.0 395.0,594.6 393.0,593.9 390.0,593.8 388.0,594.1 385.9,595.0 384.0,596.5 382.6,598.0 381.6,600.0 383.0,601.0 386.0,601.1M288.0,602.3 285.0,602.1 283.5,601.0 282.0,599.4M283.0,595.9 286.0,595.2 289.0,595.1 292.0,595.8 292.8,598.0 291.4,600.0 290.0,601.3 288.0,602.3M430.0,599.2 427.0,599.2 426.6,597.0 428.0,595.6 431.0,595.3 433.0,596.0 432.8,598.0 430.8,599.0M279.0,620.8 282.0,620.2 283.4,619.0 283.0,616.0 282.0,614.6 280.4,613.0 282.0,611.0 284.0,610.8 286.0,611.0 289.0,611.3 292.0,611.2 294.0,610.7 295.3,609.0 295.4,606.0 297.0,604.2 299.0,603.3 301.0,602.7 304.0,602.2 307.0,602.1 310.0,602.5 312.0,603.1 315.0,603.7 318.0,603.7 321.0,603.6 322.0,604.0 319.5,605.0 317.0,605.2 314.0,605.6 312.0,606.3 310.0,607.5 308.3,609.0 307.0,610.6 307.0,612.4 310.0,612.4 313.0,612.2 316.0,612.1 319.0,612.5 321.0,613.1 323.0,614.2 325.0,615.7 326.7,617.0 328.3,618.0 330.0,619.0 331.8,621.0 332.3,623.0 332.6,626.0 331.0,627.3 328.0,627.7 325.0,627.7 322.0,627.8 319.1,628.0 317.0,628.4 315.0,629.7 314.0,631.2 314.0,633.7 316.0,634.6 318.0,635.1 321.0,635.8 323.0,636.3 324.4,638.0 322.5,639.0 320.4,640.0 318.9,641.0 317.7,643.0 318.7,645.0 320.9,646.0 323.0,646.6 325.0,647.4 325.2,650.0 325.0,652.0 325.0,654.0 324.0,655.4 322.0,656.7 320.1,658.0 319.0,659.3 317.8,661.0M354.4,676.0 356.0,674.6 358.0,673.4 360.0,672.3 362.0,671.1 363.1,670.0 362.9,668.0 361.0,666.9 358.8,666.0 356.0,665.1 354.0,664.6 351.4,664.0 350.0,662.9 348.0,661.5 346.0,660.4M342.7,658.0 341.5,656.0 342.0,653.0 343.0,651.7 345.0,650.2 347.0,649.5 350.0,649.6 352.0,650.3 354.0,651.8 354.7,654.0 354.5,657.0 354.0,659.0 354.1,661.0 357.0,661.7 360.0,661.0 362.0,660.3 364.0,659.6 366.0,658.9 369.0,658.5 372.0,658.5 375.0,658.7 378.0,658.4 380.0,657.9 383.0,657.5 385.0,658.0 387.0,659.2 389.0,660.3 392.0,660.9 395.0,660.7 398.0,660.5 401.0,660.9 403.0,661.8 404.5,663.0 405.7,665.0 406.6,667.0 408.0,668.9 409.2,670.0M468.0,604.4 465.5,604.0 468.0,603.7M360.8,609.0 362.3,608.0 362.0,605.3 360.0,604.8 358.0,605.0 356.0,606.6 356.1,608.0 358.0,609.1 360.8,609.0M453.0,616.2 450.0,616.5 447.0,616.2 445.0,615.7 443.0,615.0 440.8,614.0 439.0,612.3 439.0,611.0 440.4,609.0 442.0,607.8 444.0,606.9 447.0,606.5 450.0,606.8 452.0,607.5 454.0,608.8 455.3,610.0 457.0,611.9 457.8,614.0 456.0,615.3 453.8,616.0M518.0,619.1 516.1,618.0 515.5,616.0 515.5,613.0 514.9,611.0 513.0,609.2 511.0,608.7 509.0,609.2 507.0,610.4 505.0,612.0 503.9,613.0 502.6,615.0 503.9,617.0 505.6,618.0 507.5,619.0 509.0,620.1 509.9,623.0 510.5,625.0 513.0,625.9 515.0,626.0 518.0,626.0M401.2,615.0 401.0,613.0 398.8,612.0 396.0,611.8 394.0,612.6 394.0,614.1 396.0,615.2 399.0,615.6 401.2,615.0M282.0,633.8 284.0,632.8 286.0,631.9 288.0,631.0 290.5,630.0 293.0,629.3 296.0,629.0 299.0,629.0 302.0,629.1 305.0,629.1 307.0,628.9 310.0,628.4 312.0,628.0 314.4,627.0 315.7,625.0 315.0,622.4 313.6,621.0 312.0,620.0 309.2,619.0 307.0,618.9 305.0,619.7 303.0,621.0 301.3,622.0 299.0,622.7 296.0,622.4 293.0,622.0 290.0,622.3 288.0,623.0 285.0,623.6 282.0,623.6 279.0,623.7M377.2,625.0 379.0,623.7 379.0,621.7 376.0,621.2 373.5,622.0 372.0,623.3 372.9,625.0 375.0,625.4 377.2,625.0M405.7,626.0 408.0,625.2 408.0,623.8 406.0,622.8 403.5,623.0 402.0,624.3 402.9,626.0 405.0,626.1M509.0,644.0 507.1,642.0 506.0,640.2 506.4,639.0 508.0,638.0 510.9,637.0 513.0,636.2 515.0,635.1 515.0,633.5 513.0,632.7 510.0,632.2 508.0,632.0 505.0,631.9 503.0,632.1 500.0,632.4 497.0,632.5 494.0,632.1 492.0,631.7 489.9,631.0 488.1,629.0 488.0,626.0 487.0,624.2 485.0,623.0 483.0,622.3 480.0,622.1 477.0,622.6 475.0,623.0 472.0,623.7 470.0,624.3 468.0,625.1 466.4,627.0 467.0,629.5 469.0,630.8 471.0,631.5 473.0,632.2 475.0,633.0 477.0,634.4 477.8,637.0 477.1,640.0 478.0,642.0 479.6,644.0 480.7,646.0M306.7,640.0 308.0,638.1 307.7,637.0 305.7,637.0 303.8,638.0 304.0,640.5 306.7,640.0M364.0,649.2 361.2,649.0 359.0,648.0 357.4,647.0 355.0,646.0 353.0,645.6 351.0,644.9 349.0,643.0 348.6,641.0 350.0,639.3 353.0,639.9 355.0,640.4 358.0,641.0 360.0,641.3 363.0,641.6 365.3,642.0 367.6,643.0 368.0,644.3 367.0,646.7 366.0,648.1 364.0,649.2M432.0,646.2 429.0,646.2 430.0,645.3 432.5,646.0M298.0,654.9 299.6,653.0 298.0,651.4 296.0,650.5 294.0,649.7 292.0,649.0 289.0,648.3M394.1,677.0 393.0,675.4 391.1,674.0 389.0,673.1 387.0,672.7 384.0,672.8 382.3,674.0 381.2,676.0 380.4,678.0 380.7,681.0" fill="none" stroke="#16163a" stroke-width="1.8" stroke-linejoin="round" opacity="0.4"/></g>
<path d="M279.2,607.4 C279.8,603.0 280.2,598.4 281.8,593.9 C283.4,589.4 286.0,584.6 288.5,580.4 C291.0,576.2 293.6,572.5 297.0,568.6 C300.4,564.7 304.6,560.4 308.8,556.7 C313.0,553.0 317.2,549.8 322.3,546.6 C327.4,543.4 333.6,540.4 339.2,537.3 C344.8,534.2 350.5,530.4 356.1,528.0 C361.7,525.6 367.4,524.3 373.0,522.9 C378.6,521.5 384.7,520.8 390.0,519.5 C395.3,518.2 400.8,515.7 405.0,515.3 C409.2,514.9 412.5,517.1 415.3,517.0 C418.1,516.9 419.2,515.1 422.0,514.8 C424.8,514.5 428.2,513.9 432.2,515.3 C436.1,516.6 442.3,520.6 445.7,522.9 C449.1,525.1 449.1,526.8 452.5,528.8 C455.9,530.8 462.3,532.0 466.0,534.7 C469.7,537.4 471.7,541.5 474.5,544.9 C477.3,548.3 480.4,551.9 482.9,555.0 C485.4,558.1 487.4,561.0 489.7,563.5 C491.9,566.0 494.1,567.4 496.4,570.2 C498.6,573.0 500.9,576.7 503.2,580.4 C505.5,584.1 507.8,588.0 510.0,592.2 C512.2,596.4 515.1,601.2 516.7,605.7 C518.3,610.2 519.4,613.8 519.5,619.0 C519.6,624.2 519.0,632.2 517.2,636.8 C515.5,641.4 512.5,644.6 509.0,646.5 C505.5,648.4 501.4,648.1 496.0,648.1 C490.6,648.1 483.1,646.2 476.6,646.5 C470.1,646.8 463.5,647.9 457.0,649.8 C450.5,651.7 444.0,654.9 437.5,657.9 C431.0,660.9 424.5,664.4 418.0,667.6 C411.5,670.9 405.0,675.0 398.5,677.4 C392.0,679.8 384.9,681.8 379.0,682.3 C373.1,682.8 367.7,682.0 362.8,680.6 C357.9,679.2 352.8,676.8 349.8,674.1 C346.8,671.4 345.4,667.1 344.9,664.4 C344.3,661.7 347.9,658.7 346.5,657.9 C345.1,657.1 341.7,659.0 336.8,659.5 C331.9,660.0 323.3,661.4 317.3,661.1 C311.3,660.8 305.9,659.8 301.0,657.9 C296.1,656.0 291.2,653.3 288.0,649.8 C284.8,646.3 283.1,641.7 281.5,636.8 C279.9,631.9 278.7,625.4 278.3,620.5 C277.9,615.6 278.6,611.8 279.2,607.4Z" fill="none" stroke="#10102a" stroke-width="5" opacity="0.22" filter="url(#bsh)"/>
</g>
<path d="M279.2,607.4 C279.8,603.0 280.2,598.4 281.8,593.9 C283.4,589.4 286.0,584.6 288.5,580.4 C291.0,576.2 293.6,572.5 297.0,568.6 C300.4,564.7 304.6,560.4 308.8,556.7 C313.0,553.0 317.2,549.8 322.3,546.6 C327.4,543.4 333.6,540.4 339.2,537.3 C344.8,534.2 350.5,530.4 356.1,528.0 C361.7,525.6 367.4,524.3 373.0,522.9 C378.6,521.5 384.7,520.8 390.0,519.5 C395.3,518.2 400.8,515.7 405.0,515.3 C409.2,514.9 412.5,517.1 415.3,517.0 C418.1,516.9 419.2,515.1 422.0,514.8 C424.8,514.5 428.2,513.9 432.2,515.3 C436.1,516.6 442.3,520.6 445.7,522.9 C449.1,525.1 449.1,526.8 452.5,528.8 C455.9,530.8 462.3,532.0 466.0,534.7 C469.7,537.4 471.7,541.5 474.5,544.9 C477.3,548.3 480.4,551.9 482.9,555.0 C485.4,558.1 487.4,561.0 489.7,563.5 C491.9,566.0 494.1,567.4 496.4,570.2 C498.6,573.0 500.9,576.7 503.2,580.4 C505.5,584.1 507.8,588.0 510.0,592.2 C512.2,596.4 515.1,601.2 516.7,605.7 C518.3,610.2 519.4,613.8 519.5,619.0 C519.6,624.2 519.0,632.2 517.2,636.8 C515.5,641.4 512.5,644.6 509.0,646.5 C505.5,648.4 501.4,648.1 496.0,648.1 C490.6,648.1 483.1,646.2 476.6,646.5 C470.1,646.8 463.5,647.9 457.0,649.8 C450.5,651.7 444.0,654.9 437.5,657.9 C431.0,660.9 424.5,664.4 418.0,667.6 C411.5,670.9 405.0,675.0 398.5,677.4 C392.0,679.8 384.9,681.8 379.0,682.3 C373.1,682.8 367.7,682.0 362.8,680.6 C357.9,679.2 352.8,676.8 349.8,674.1 C346.8,671.4 345.4,667.1 344.9,664.4 C344.3,661.7 347.9,658.7 346.5,657.9 C345.1,657.1 341.7,659.0 336.8,659.5 C331.9,660.0 323.3,661.4 317.3,661.1 C311.3,660.8 305.9,659.8 301.0,657.9 C296.1,656.0 291.2,653.3 288.0,649.8 C284.8,646.3 283.1,641.7 281.5,636.8 C279.9,631.9 278.7,625.4 278.3,620.5 C277.9,615.6 278.6,611.8 279.2,607.4Z" fill="none" stroke="#1a1a2e" stroke-width="0.9" opacity="0.8"/>
<clipPath id="cmf"><path d="M529.7,603.1 C531.6,595.6 535.6,590.2 539.4,583.7 C543.2,577.2 547.0,571.3 552.4,564.3 C557.8,557.3 564.8,548.1 571.8,541.6 C578.8,535.1 586.9,529.5 594.5,525.4 C602.1,521.3 609.1,518.9 617.2,517.3 C625.3,515.7 633.8,514.9 643.0,515.7 C652.2,516.5 662.5,519.0 672.2,522.2 C681.9,525.4 692.1,530.2 701.3,535.1 C710.5,540.0 719.7,545.3 727.3,551.3 C734.9,557.2 741.0,563.8 746.7,570.8 C752.4,577.8 757.8,585.8 761.3,593.4 C764.8,601.0 766.6,609.1 767.7,616.1 C768.8,623.1 769.1,629.6 767.7,635.5 C766.4,641.4 763.1,647.7 759.6,651.7 C756.1,655.8 752.1,658.2 746.7,659.8 C741.3,661.4 734.3,661.7 727.3,661.4 C720.3,661.1 709.2,657.1 704.6,658.2 C700.0,659.3 701.3,664.1 699.7,667.9 C698.1,671.7 697.3,677.7 694.9,680.9 C692.5,684.1 689.0,686.2 685.2,687.3 C681.4,688.4 676.5,688.4 672.2,687.3 C667.9,686.2 664.1,683.6 659.2,680.9 C654.3,678.2 649.5,674.5 643.0,671.2 C636.5,668.0 629.0,665.2 620.4,661.4 C611.8,657.6 600.4,651.2 591.2,648.5 C582.0,645.8 573.4,645.5 565.3,645.2 C557.2,644.9 548.1,647.4 542.7,646.9 C537.3,646.4 535.4,645.0 533.0,642.0 C530.6,639.0 528.6,635.5 528.1,629.0 C527.6,622.5 527.8,610.6 529.7,603.1Z"/></clipPath>
<path d="M529.7,603.1 C531.6,595.6 535.6,590.2 539.4,583.7 C543.2,577.2 547.0,571.3 552.4,564.3 C557.8,557.3 564.8,548.1 571.8,541.6 C578.8,535.1 586.9,529.5 594.5,525.4 C602.1,521.3 609.1,518.9 617.2,517.3 C625.3,515.7 633.8,514.9 643.0,515.7 C652.2,516.5 662.5,519.0 672.2,522.2 C681.9,525.4 692.1,530.2 701.3,535.1 C710.5,540.0 719.7,545.3 727.3,551.3 C734.9,557.2 741.0,563.8 746.7,570.8 C752.4,577.8 757.8,585.8 761.3,593.4 C764.8,601.0 766.6,609.1 767.7,616.1 C768.8,623.1 769.1,629.6 767.7,635.5 C766.4,641.4 763.1,647.7 759.6,651.7 C756.1,655.8 752.1,658.2 746.7,659.8 C741.3,661.4 734.3,661.7 727.3,661.4 C720.3,661.1 709.2,657.1 704.6,658.2 C700.0,659.3 701.3,664.1 699.7,667.9 C698.1,671.7 697.3,677.7 694.9,680.9 C692.5,684.1 689.0,686.2 685.2,687.3 C681.4,688.4 676.5,688.4 672.2,687.3 C667.9,686.2 664.1,683.6 659.2,680.9 C654.3,678.2 649.5,674.5 643.0,671.2 C636.5,668.0 629.0,665.2 620.4,661.4 C611.8,657.6 600.4,651.2 591.2,648.5 C582.0,645.8 573.4,645.5 565.3,645.2 C557.2,644.9 548.1,647.4 542.7,646.9 C537.3,646.4 535.4,645.0 533.0,642.0 C530.6,639.0 528.6,635.5 528.1,629.0 C527.6,622.5 527.8,610.6 529.7,603.1Z" fill="#227c96"/>
<g clip-path="url(#cmf)">
<g filter="url(#bp)">
<path d="M610.7,518.0 614.3,518.3 619.6,516.5 622.9,514.9 628.6,516.5 631.0,516.6 636.3,513.3 639.0,516.4 643.1,516.3 646.7,519.6 650.3,519.6 656.0,521.3 658.9,520.1 665.2,522.6 666.2,522.6 672.2,524.4 676.6,527.4 679.2,524.8 684.5,528.8 685.3,528.8 691.6,534.1 690.2,538.3 686.5,543.9 685.1,548.2 681.9,550.3 675.9,551.4 671.3,552.2 668.7,554.3 664.7,555.4 661.2,558.3 656.0,556.8 651.3,555.7 647.7,555.9 644.8,556.5 638.1,556.2 635.3,556.6 630.1,556.8 626.1,556.2 622.6,551.7 621.2,547.1 617.7,545.2 613.9,543.9 614.4,538.4 613.7,536.6 613.3,531.2 611.5,525.9 613.0,521.4Z" fill="#38468f"/>
<path d="M672.2,524.4 675.1,527.1 679.6,527.0 683.0,529.4 688.8,532.1 694.2,534.3 697.0,535.3 701.3,537.4 705.6,541.3 708.8,541.7 711.1,542.9 716.7,547.8 720.3,549.4 724.9,551.4 728.0,554.3 730.5,556.8 732.6,560.8 736.7,563.7 739.1,566.5 744.7,571.2 745.5,573.1 748.7,576.9 750.4,579.1 753.2,582.7 754.9,583.1 757.1,590.5 760.6,595.2 759.1,599.3 761.2,604.1 764.6,608.9 766.1,611.9 765.2,616.1 764.5,621.0 766.7,625.0 766.1,629.0 768.0,632.3 766.3,635.5 766.1,641.0 761.8,644.4 761.0,647.2 756.1,650.2 753.2,654.0 748.2,655.4 742.7,657.7 739.4,658.1 734.4,659.1 732.4,659.8 727.3,660.4 722.2,659.4 718.1,657.5 716.8,657.5 711.7,654.1 707.8,654.0 711.2,650.1 710.2,647.1 715.6,643.7 716.9,634.6 720.8,634.5 720.3,630.8 717.1,625.3 721.7,622.0 718.4,617.6 714.2,614.1 715.6,609.8 715.0,606.5 714.3,602.2 712.0,596.9 710.6,592.3 705.4,591.7 706.3,587.0 701.8,582.4 701.3,579.5 697.1,575.0 692.7,575.1 691.4,571.2 686.7,566.8 681.9,566.5 678.4,563.9 673.7,563.0 670.5,560.6 665.4,559.7 660.1,558.2 656.0,556.8 659.3,555.7 664.6,554.9 669.1,554.5 674.4,551.2 678.6,550.0 681.9,550.3 685.1,547.0 684.5,542.4 688.6,537.3 691.6,534.1 689.4,531.4 682.9,530.3 680.8,528.1 677.5,527.0Z" fill="#2a6995"/>
<path d="M529.7,602.2 528.7,597.7 532.3,595.2 531.4,593.9 536.8,587.2 539.2,586.1 539.4,579.5 543.3,577.4 545.1,572.8 547.2,568.8 549.7,564.9 553.2,561.3 556.3,560.0 558.9,556.8 562.3,553.5 569.0,553.0 567.1,549.0 571.1,544.8 573.4,543.8 578.3,540.6 580.7,539.1 586.0,536.9 587.0,533.1 592.0,529.3 593.6,529.1 597.7,524.4 602.0,523.6 604.8,519.7 609.2,519.4 613.9,518.0 613.0,522.0 612.7,524.7 615.9,530.8 615.1,532.9 614.7,537.7 617.1,543.4 616.1,544.9 617.2,550.3 617.5,553.7 616.5,560.6 618.1,563.5 615.6,567.9 618.4,571.5 617.2,576.2 616.8,581.7 615.3,584.4 612.0,589.6 609.9,591.2 607.4,595.7 606.9,600.8 605.9,605.2 608.8,607.6 607.4,615.1 611.4,620.8 611.2,624.4 613.9,628.1 610.7,632.8 608.6,632.9 604.9,637.5 601.0,641.0 596.5,641.4 594.0,644.8 586.5,643.3 582.4,646.7 578.3,647.5 574.5,648.6 571.1,647.8 566.5,644.6 561.9,647.1 558.0,646.1 553.6,643.8 549.8,645.0 545.9,644.2 541.9,641.5 538.3,640.7 535.8,638.7 533.0,634.5 534.4,630.4 530.9,623.9 530.0,620.7 533.0,618.5 531.4,611.6 529.1,611.3 530.5,606.0Z" fill="#199895"/>
<path d="M552.4,569.8 556.9,570.4 559.9,567.3 564.3,568.8 565.4,565.4 571.8,563.3 576.2,565.3 580.1,565.8 586.3,570.9 590.9,567.5 594.5,569.8 597.2,572.5 598.8,575.8 605.1,578.0 607.4,582.7 608.7,588.2 606.6,592.3 609.4,598.2 607.4,602.2 608.3,606.7 609.1,611.3 607.3,619.2 610.7,621.6 606.0,622.1 601.0,621.6 598.9,616.8 596.8,611.9 597.9,608.4 591.9,605.5 591.2,602.2 589.6,599.5 583.3,598.3 582.4,594.7 579.1,594.2 577.7,587.8 571.8,586.0 570.5,583.7 565.9,578.5 561.9,576.9 559.9,576.4 553.1,572.4Z" fill="#1cb785"/>
<path d="M609.1,621.6 616.1,623.0 620.4,624.8 624.5,627.7 627.3,629.4 628.6,630.8 633.3,634.5 637.4,637.1 639.7,639.2 642.7,643.6 645.9,643.3 649.5,647.5 654.5,648.9 657.7,652.7 661.7,652.7 665.7,654.0 667.5,658.6 672.2,663.7 668.1,665.1 662.5,670.2 658.8,669.0 654.8,668.8 651.2,668.0 645.8,665.1 643.1,663.7 639.3,659.8 636.4,661.3 631.4,656.5 627.6,652.5 623.6,650.7 619.0,646.6 617.1,646.3 616.2,640.6 613.9,637.8 613.8,632.4 610.6,629.8 611.5,626.2Z" fill="#ffe923"/>
<path d="M662.5,650.7 667.1,649.7 671.6,648.8 675.4,647.5 678.5,649.7 682.8,651.9 688.4,654.0 691.1,659.4 694.8,657.1 697.9,661.9 701.3,663.7 702.3,667.3 697.3,673.3 698.1,676.6 692.4,676.9 689.7,678.2 686.8,678.2 681.9,679.9 677.3,677.7 673.5,675.7 669.0,673.4 668.2,669.9 666.8,664.9 663.2,659.9 664.4,656.1Z" fill="#77db47"/>
<path d="M626.9,654.0 629.8,655.3 633.7,658.9 639.4,660.0 643.1,662.7 645.6,664.5 649.5,666.9 655.0,668.6 661.3,668.5 663.8,670.2 666.6,672.1 672.2,673.4 675.6,680.1 678.5,678.5 681.9,683.1 677.9,681.7 673.2,685.3 669.0,686.3 666.0,686.2 660.6,683.6 656.4,681.1 653.8,679.6 649.5,679.9 645.2,676.1 642.4,676.9 636.3,669.9 633.8,669.5 630.1,666.9 629.3,662.1 627.7,658.7Z" fill="#18b289"/>
<path d="M601.0,602.2 607.4,602.2 608.7,604.7 607.0,612.1 606.3,618.8 607.4,621.6 601.8,623.1 597.7,624.8 599.0,619.6 596.8,615.2 600.9,610.8 599.3,607.8Z" fill="#227c96"/>
</g>
<g filter="url(#bs)"><path d="M590.0,608.0 C592.5,604.7 598.3,593.5 605.0,588.0 C611.7,582.5 619.2,577.5 630.0,575.0 C640.8,572.5 657.5,572.3 670.0,573.0 C682.5,573.7 694.2,574.8 705.0,579.0 C715.8,583.2 727.8,590.7 735.0,598.0 C742.2,605.3 746.3,614.7 748.0,623.0 C749.7,631.3 745.5,643.8 745.0,648.0" fill="none" stroke="#16163a" stroke-width="1.4" stroke-linecap="round" opacity="0.45"/>
<path d="M585.0,563.0 C583.3,566.3 578.3,576.3 575.0,583.0 C571.7,589.7 567.5,596.3 565.0,603.0 C562.5,609.7 560.8,619.7 560.0,623.0" fill="none" stroke="#16163a" stroke-width="1.4" stroke-linecap="round" opacity="0.45"/>
<path d="M530.0,631.0 C533.3,631.3 542.5,631.8 550.0,633.0 C557.5,634.2 566.7,636.7 575.0,638.0 C583.3,639.3 595.8,640.5 600.0,641.0" fill="none" stroke="#16163a" stroke-width="1.4" stroke-linecap="round" opacity="0.45"/>
<path d="M560.0,653.0 C566.7,654.3 586.7,658.5 600.0,661.0 C613.3,663.5 633.3,666.8 640.0,668.0" fill="none" stroke="#16163a" stroke-width="1.4" stroke-linecap="round" opacity="0.45"/>
<path d="M615.0,538.0 C614.5,541.3 612.8,552.2 612.0,558.0 C611.2,563.8 610.3,570.5 610.0,573.0" fill="none" stroke="#16163a" stroke-width="1.4" stroke-linecap="round" opacity="0.45"/>
<path d="M650.0,538.0 C652.5,540.5 661.7,548.0 665.0,553.0 C668.3,558.0 669.2,565.5 670.0,568.0" fill="none" stroke="#16163a" stroke-width="1.4" stroke-linecap="round" opacity="0.45"/>
<path d="M700.0,553.0 C703.3,556.3 714.2,566.3 720.0,573.0 C725.8,579.7 732.5,589.7 735.0,593.0" fill="none" stroke="#16163a" stroke-width="1.4" stroke-linecap="round" opacity="0.45"/>
<path d="M720.0,643.0 C723.3,644.7 734.2,651.3 740.0,653.0 C745.8,654.7 752.5,653.0 755.0,653.0" fill="none" stroke="#16163a" stroke-width="1.4" stroke-linecap="round" opacity="0.45"/>
<path d="M646.9,518.0 647.6,520.0 648.4,522.0 649.6,524.0 651.0,525.2 653.0,526.2 656.0,526.6 659.0,526.2 661.0,525.2 662.4,524.0 664.0,522.7 666.0,521.1M689.0,529.7 687.0,530.4 685.0,531.4 683.0,532.5 681.1,534.0 680.0,535.8 679.8,538.0 680.2,540.0 680.6,543.0 680.0,545.4 678.8,547.0 677.0,548.1 674.0,548.4 671.1,548.0 669.0,547.6 666.0,547.0 664.0,546.9 661.0,547.0 659.0,547.3 656.2,548.0 654.0,548.8 652.0,549.5 650.0,550.2 647.4,551.0 645.0,551.4 642.0,551.7 639.0,551.5 637.0,550.8 635.8,549.0 635.2,546.0 634.5,544.0 633.5,542.0 632.6,540.0 632.0,537.8 631.7,535.0 631.0,533.0 629.0,531.1 627.0,530.3 625.0,529.9 622.0,529.9 620.0,530.5 618.8,532.0 619.5,534.0 620.8,536.0 621.5,538.0 621.0,540.0 619.0,541.8 617.0,542.8 615.0,543.5 613.0,544.0 610.0,544.6 607.4,545.0 605.0,545.4 602.0,545.9 600.0,546.3 597.0,546.8 595.0,547.2 592.0,547.7 590.0,548.1 587.0,548.6 585.0,549.0 582.0,549.8 580.0,550.5 578.0,551.4 576.0,552.4 574.0,553.7 572.0,555.0 570.6,556.0 569.0,557.1 567.0,558.4 565.0,559.2 562.0,559.8 559.0,559.6M764.0,606.4 762.0,605.8 759.2,605.0 757.0,604.3 755.0,603.7 752.4,603.0 750.0,602.4 748.0,602.0 745.0,601.4 742.6,601.0 740.0,600.6 737.0,600.3 734.0,600.2 731.0,600.4 728.0,600.8 726.0,601.3 723.8,602.0 721.5,603.0 719.7,604.0 718.0,605.2 716.0,606.8 714.4,608.0 712.8,609.0 710.0,609.9 708.0,610.2 705.0,610.2 702.0,610.1 699.0,610.4 696.8,611.0 694.2,612.0 692.1,613.0 690.0,613.9 688.0,614.5 685.3,615.0 683.0,615.2 680.0,615.3 677.0,615.3 674.0,615.1 672.0,614.9 669.0,614.3 667.0,613.6 665.0,612.3 663.8,611.0 662.7,609.0 662.0,606.4 662.0,604.0 662.2,602.0 662.4,599.0 662.0,596.0 661.0,594.2 659.3,593.0 657.0,592.2 655.0,591.9 652.0,591.5 649.0,591.1 647.0,590.9 644.0,590.5 641.4,590.0 639.0,589.5 637.0,589.0 634.0,588.2 632.0,587.7 629.2,587.0 627.0,586.5 624.8,586.0 622.0,585.4 620.0,585.0 617.0,584.3 615.0,584.0 612.0,583.2 610.0,582.2 610.0,580.7 611.2,579.0 613.0,577.1 614.0,576.0 615.3,574.0 616.2,572.0 616.7,569.0 616.9,566.0 618.0,564.3 620.0,563.1 621.1,563.0 623.6,564.0 625.2,565.0 627.0,566.0 629.3,567.0 632.0,568.0 634.0,568.7 636.0,569.4 638.0,570.2 640.0,571.0 642.5,572.0 645.0,572.8 647.0,573.4 650.0,574.0 652.0,574.3 655.0,574.8 657.0,575.1 660.0,575.7 662.0,576.3 664.0,577.0 666.0,578.1 667.5,580.0 668.0,582.3 668.1,585.0 669.0,587.2 671.0,588.4 674.0,589.0 676.0,589.0 678.0,588.9 681.0,588.3 683.0,587.6 685.0,586.4 686.0,584.0 685.0,582.0 683.1,580.0 682.0,578.7 680.8,577.0 680.3,574.0 680.9,571.0 681.5,569.0 682.0,566.8 682.3,564.0 682.2,561.0 682.6,558.0 684.0,556.4 686.0,555.6 689.0,555.1 691.0,554.9 694.0,554.7 697.0,554.5 700.0,554.2 702.0,554.0 705.0,553.5 707.0,552.9 709.2,552.0 711.0,550.8 712.5,549.0 713.3,547.0 713.6,544.0M734.5,560.0 732.0,560.9 730.0,561.6 728.0,562.1 725.0,562.9 723.0,563.3 720.0,563.9 718.0,564.2 715.0,564.8 713.0,565.3 711.0,566.1 709.0,567.0 707.0,568.4 705.2,570.0 704.0,571.2 702.4,573.0 701.0,574.6 699.9,576.0 698.4,578.0 697.3,580.0 696.6,582.0 697.1,584.0 699.0,585.7 701.0,586.7 703.0,587.3 706.0,587.5 709.0,587.3 711.2,587.0 714.0,586.5 716.2,586.0 719.0,585.3 721.0,584.7 723.3,584.0 726.0,583.1 728.0,582.5 730.2,582.0 733.0,581.6 736.0,581.7 738.0,582.0 741.0,582.8 743.0,583.4 745.6,584.0 748.0,584.4 751.0,584.7 754.0,584.9M533.3,599.0 536.0,598.2 538.0,597.6 540.0,596.9 542.3,596.0 544.7,595.0 546.8,594.0 548.3,593.0 550.0,591.3 550.8,589.0 550.5,586.0 550.0,584.0 549.2,581.0 549.0,579.0 549.9,577.0 552.0,576.1 554.0,575.9 556.0,576.0 559.0,576.3 562.0,576.6 565.0,576.7 568.0,576.6 571.0,576.4 574.0,576.3 577.0,576.7 579.0,577.4 581.0,578.4 583.0,579.4 585.0,580.5 587.0,581.6 589.0,582.6 591.0,583.5 593.0,584.3 595.0,585.0 597.7,586.0 599.0,587.2 599.0,589.8 598.4,592.0 597.9,594.0 598.0,596.6 599.0,598.7 600.2,600.0 602.0,601.2 604.0,602.1 607.0,602.6 610.0,602.5 613.0,602.0 615.0,601.6 617.5,601.0 620.0,600.4 622.0,599.9 625.0,599.2 627.0,598.9 630.0,598.9 632.0,599.5 633.5,601.0 633.1,604.0 632.0,605.2 630.0,606.7 628.0,607.8 626.0,608.8 624.0,609.5 622.0,610.2 619.0,611.0 617.0,611.3 614.0,611.8 612.0,612.2 610.4,614.0 611.6,616.0 613.0,617.5 614.4,619.0 616.0,621.0 617.0,622.9 617.1,625.0 616.0,626.8 614.3,628.0 612.0,628.9 610.0,629.3 607.0,629.6 604.0,629.6 601.0,629.3 599.9,628.0 599.2,625.0 598.0,623.5 596.0,622.2 594.0,621.6 591.0,621.1 588.6,621.0 587.0,621.0 584.0,621.4 582.0,622.1 580.8,624.0 582.0,625.4 584.0,626.4 586.0,627.1 589.0,627.8 591.0,628.1 594.0,628.7 596.2,629.0 598.9,630.0 597.7,632.0 596.0,633.2 594.0,634.1 591.2,635.0 589.0,635.4 586.0,635.8 583.3,636.0 581.0,636.1 578.0,636.1 576.0,636.0 573.0,635.7 570.0,635.2 568.0,634.7 565.3,634.0 563.0,633.3 561.0,632.8 558.0,632.0 556.0,631.6 553.0,631.2 550.0,631.1 547.0,631.4 545.0,632.1 543.0,633.4 541.1,635.0 539.5,636.0 537.1,637.0 535.0,637.5 532.0,637.9M758.0,651.5 756.0,650.8 754.2,649.0 755.0,646.6 756.8,645.0 758.0,644.0 758.0,641.0 756.0,640.2 754.0,639.7 751.0,639.4 748.0,639.5 745.6,640.0 743.5,641.0 742.0,642.2 740.1,644.0 738.7,645.0 736.8,646.0 734.3,647.0 732.0,647.7 730.0,648.3 727.6,649.0 725.0,649.8 723.0,650.6 721.0,651.5 719.0,652.4 717.0,653.4 715.0,654.3 713.0,655.0 710.0,655.6 707.0,655.8 704.0,655.4 702.0,654.9 699.0,654.0 697.0,653.5 694.8,653.0 692.0,652.6 689.0,652.4 686.0,652.3 683.0,652.4 680.0,652.7 678.0,653.0 675.1,654.0 674.4,656.0 675.1,658.0 676.2,660.0 677.6,662.0 679.0,663.4 681.0,664.8 683.0,665.5 686.0,665.9 689.0,665.8 692.0,665.6 695.0,665.7 697.0,666.0 699.4,667.0M693.0,678.5 690.0,678.5 687.0,678.5 684.0,678.6 681.0,679.0 679.0,679.4 676.4,680.0 674.0,680.6 672.0,681.0 669.0,681.5 666.0,681.6 663.0,681.2 661.0,680.5 659.0,679.5 657.0,678.1 655.8,677.0 654.0,675.1 653.0,674.0 651.3,672.0 650.0,670.6 648.2,669.0 647.0,668.0 645.0,666.5 643.0,665.3 641.0,664.3 639.0,663.9 637.0,664.9 635.5,666.0 634.0,667.0M615.1,659.0 614.7,657.0 614.8,654.0 615.7,652.0 617.0,650.2 618.3,649.0 620.0,647.8 622.0,646.7 624.2,646.0 627.0,645.7 629.6,646.0 632.0,646.8 633.8,648.0 634.7,650.0 634.4,653.0 634.0,655.1 633.9,658.0 634.9,660.0 636.2,661.0 638.3,662.0 640.0,661.9 642.0,660.8 644.0,659.5 646.0,658.3 648.0,657.2 650.0,656.2 652.0,655.3 654.0,654.5 656.0,653.9 659.0,653.1 661.0,652.4 662.9,651.0 661.0,649.3 659.0,648.5 657.0,647.8 654.3,647.0 652.0,646.1 650.4,645.0 649.4,643.0 650.0,640.7 651.2,639.0 653.0,637.3 655.0,636.1 657.0,635.4 660.0,635.4 663.0,636.0 665.0,636.6 667.0,637.3 669.0,638.0 672.0,639.0 674.0,639.4 677.0,639.8 680.0,639.9 683.0,639.9 686.0,639.9 689.0,639.7 692.0,639.6 695.0,639.5 698.0,639.5 701.0,639.7 704.0,640.0 706.0,640.2 709.0,640.5 712.0,640.7 715.0,640.7 718.0,640.5 721.0,640.1 723.0,639.7 725.6,639.0 728.0,638.2 730.0,637.3 732.0,636.0 733.0,634.8 733.9,632.0 734.0,629.6 734.4,627.0 735.8,625.0 737.2,624.0 740.0,623.1 742.0,622.7 745.0,622.6 748.0,622.6 751.0,622.7 754.0,622.7 757.0,622.6 760.0,622.3 762.4,622.0 765.0,621.6" fill="none" stroke="#ffffff" stroke-width="2.2" stroke-linejoin="round" opacity="0.12" transform="translate(1.4,1.4)"/>
<path d="M646.9,518.0 647.6,520.0 648.4,522.0 649.6,524.0 651.0,525.2 653.0,526.2 656.0,526.6 659.0,526.2 661.0,525.2 662.4,524.0 664.0,522.7 666.0,521.1M689.0,529.7 687.0,530.4 685.0,531.4 683.0,532.5 681.1,534.0 680.0,535.8 679.8,538.0 680.2,540.0 680.6,543.0 680.0,545.4 678.8,547.0 677.0,548.1 674.0,548.4 671.1,548.0 669.0,547.6 666.0,547.0 664.0,546.9 661.0,547.0 659.0,547.3 656.2,548.0 654.0,548.8 652.0,549.5 650.0,550.2 647.4,551.0 645.0,551.4 642.0,551.7 639.0,551.5 637.0,550.8 635.8,549.0 635.2,546.0 634.5,544.0 633.5,542.0 632.6,540.0 632.0,537.8 631.7,535.0 631.0,533.0 629.0,531.1 627.0,530.3 625.0,529.9 622.0,529.9 620.0,530.5 618.8,532.0 619.5,534.0 620.8,536.0 621.5,538.0 621.0,540.0 619.0,541.8 617.0,542.8 615.0,543.5 613.0,544.0 610.0,544.6 607.4,545.0 605.0,545.4 602.0,545.9 600.0,546.3 597.0,546.8 595.0,547.2 592.0,547.7 590.0,548.1 587.0,548.6 585.0,549.0 582.0,549.8 580.0,550.5 578.0,551.4 576.0,552.4 574.0,553.7 572.0,555.0 570.6,556.0 569.0,557.1 567.0,558.4 565.0,559.2 562.0,559.8 559.0,559.6M764.0,606.4 762.0,605.8 759.2,605.0 757.0,604.3 755.0,603.7 752.4,603.0 750.0,602.4 748.0,602.0 745.0,601.4 742.6,601.0 740.0,600.6 737.0,600.3 734.0,600.2 731.0,600.4 728.0,600.8 726.0,601.3 723.8,602.0 721.5,603.0 719.7,604.0 718.0,605.2 716.0,606.8 714.4,608.0 712.8,609.0 710.0,609.9 708.0,610.2 705.0,610.2 702.0,610.1 699.0,610.4 696.8,611.0 694.2,612.0 692.1,613.0 690.0,613.9 688.0,614.5 685.3,615.0 683.0,615.2 680.0,615.3 677.0,615.3 674.0,615.1 672.0,614.9 669.0,614.3 667.0,613.6 665.0,612.3 663.8,611.0 662.7,609.0 662.0,606.4 662.0,604.0 662.2,602.0 662.4,599.0 662.0,596.0 661.0,594.2 659.3,593.0 657.0,592.2 655.0,591.9 652.0,591.5 649.0,591.1 647.0,590.9 644.0,590.5 641.4,590.0 639.0,589.5 637.0,589.0 634.0,588.2 632.0,587.7 629.2,587.0 627.0,586.5 624.8,586.0 622.0,585.4 620.0,585.0 617.0,584.3 615.0,584.0 612.0,583.2 610.0,582.2 610.0,580.7 611.2,579.0 613.0,577.1 614.0,576.0 615.3,574.0 616.2,572.0 616.7,569.0 616.9,566.0 618.0,564.3 620.0,563.1 621.1,563.0 623.6,564.0 625.2,565.0 627.0,566.0 629.3,567.0 632.0,568.0 634.0,568.7 636.0,569.4 638.0,570.2 640.0,571.0 642.5,572.0 645.0,572.8 647.0,573.4 650.0,574.0 652.0,574.3 655.0,574.8 657.0,575.1 660.0,575.7 662.0,576.3 664.0,577.0 666.0,578.1 667.5,580.0 668.0,582.3 668.1,585.0 669.0,587.2 671.0,588.4 674.0,589.0 676.0,589.0 678.0,588.9 681.0,588.3 683.0,587.6 685.0,586.4 686.0,584.0 685.0,582.0 683.1,580.0 682.0,578.7 680.8,577.0 680.3,574.0 680.9,571.0 681.5,569.0 682.0,566.8 682.3,564.0 682.2,561.0 682.6,558.0 684.0,556.4 686.0,555.6 689.0,555.1 691.0,554.9 694.0,554.7 697.0,554.5 700.0,554.2 702.0,554.0 705.0,553.5 707.0,552.9 709.2,552.0 711.0,550.8 712.5,549.0 713.3,547.0 713.6,544.0M734.5,560.0 732.0,560.9 730.0,561.6 728.0,562.1 725.0,562.9 723.0,563.3 720.0,563.9 718.0,564.2 715.0,564.8 713.0,565.3 711.0,566.1 709.0,567.0 707.0,568.4 705.2,570.0 704.0,571.2 702.4,573.0 701.0,574.6 699.9,576.0 698.4,578.0 697.3,580.0 696.6,582.0 697.1,584.0 699.0,585.7 701.0,586.7 703.0,587.3 706.0,587.5 709.0,587.3 711.2,587.0 714.0,586.5 716.2,586.0 719.0,585.3 721.0,584.7 723.3,584.0 726.0,583.1 728.0,582.5 730.2,582.0 733.0,581.6 736.0,581.7 738.0,582.0 741.0,582.8 743.0,583.4 745.6,584.0 748.0,584.4 751.0,584.7 754.0,584.9M533.3,599.0 536.0,598.2 538.0,597.6 540.0,596.9 542.3,596.0 544.7,595.0 546.8,594.0 548.3,593.0 550.0,591.3 550.8,589.0 550.5,586.0 550.0,584.0 549.2,581.0 549.0,579.0 549.9,577.0 552.0,576.1 554.0,575.9 556.0,576.0 559.0,576.3 562.0,576.6 565.0,576.7 568.0,576.6 571.0,576.4 574.0,576.3 577.0,576.7 579.0,577.4 581.0,578.4 583.0,579.4 585.0,580.5 587.0,581.6 589.0,582.6 591.0,583.5 593.0,584.3 595.0,585.0 597.7,586.0 599.0,587.2 599.0,589.8 598.4,592.0 597.9,594.0 598.0,596.6 599.0,598.7 600.2,600.0 602.0,601.2 604.0,602.1 607.0,602.6 610.0,602.5 613.0,602.0 615.0,601.6 617.5,601.0 620.0,600.4 622.0,599.9 625.0,599.2 627.0,598.9 630.0,598.9 632.0,599.5 633.5,601.0 633.1,604.0 632.0,605.2 630.0,606.7 628.0,607.8 626.0,608.8 624.0,609.5 622.0,610.2 619.0,611.0 617.0,611.3 614.0,611.8 612.0,612.2 610.4,614.0 611.6,616.0 613.0,617.5 614.4,619.0 616.0,621.0 617.0,622.9 617.1,625.0 616.0,626.8 614.3,628.0 612.0,628.9 610.0,629.3 607.0,629.6 604.0,629.6 601.0,629.3 599.9,628.0 599.2,625.0 598.0,623.5 596.0,622.2 594.0,621.6 591.0,621.1 588.6,621.0 587.0,621.0 584.0,621.4 582.0,622.1 580.8,624.0 582.0,625.4 584.0,626.4 586.0,627.1 589.0,627.8 591.0,628.1 594.0,628.7 596.2,629.0 598.9,630.0 597.7,632.0 596.0,633.2 594.0,634.1 591.2,635.0 589.0,635.4 586.0,635.8 583.3,636.0 581.0,636.1 578.0,636.1 576.0,636.0 573.0,635.7 570.0,635.2 568.0,634.7 565.3,634.0 563.0,633.3 561.0,632.8 558.0,632.0 556.0,631.6 553.0,631.2 550.0,631.1 547.0,631.4 545.0,632.1 543.0,633.4 541.1,635.0 539.5,636.0 537.1,637.0 535.0,637.5 532.0,637.9M758.0,651.5 756.0,650.8 754.2,649.0 755.0,646.6 756.8,645.0 758.0,644.0 758.0,641.0 756.0,640.2 754.0,639.7 751.0,639.4 748.0,639.5 745.6,640.0 743.5,641.0 742.0,642.2 740.1,644.0 738.7,645.0 736.8,646.0 734.3,647.0 732.0,647.7 730.0,648.3 727.6,649.0 725.0,649.8 723.0,650.6 721.0,651.5 719.0,652.4 717.0,653.4 715.0,654.3 713.0,655.0 710.0,655.6 707.0,655.8 704.0,655.4 702.0,654.9 699.0,654.0 697.0,653.5 694.8,653.0 692.0,652.6 689.0,652.4 686.0,652.3 683.0,652.4 680.0,652.7 678.0,653.0 675.1,654.0 674.4,656.0 675.1,658.0 676.2,660.0 677.6,662.0 679.0,663.4 681.0,664.8 683.0,665.5 686.0,665.9 689.0,665.8 692.0,665.6 695.0,665.7 697.0,666.0 699.4,667.0M693.0,678.5 690.0,678.5 687.0,678.5 684.0,678.6 681.0,679.0 679.0,679.4 676.4,680.0 674.0,680.6 672.0,681.0 669.0,681.5 666.0,681.6 663.0,681.2 661.0,680.5 659.0,679.5 657.0,678.1 655.8,677.0 654.0,675.1 653.0,674.0 651.3,672.0 650.0,670.6 648.2,669.0 647.0,668.0 645.0,666.5 643.0,665.3 641.0,664.3 639.0,663.9 637.0,664.9 635.5,666.0 634.0,667.0M615.1,659.0 614.7,657.0 614.8,654.0 615.7,652.0 617.0,650.2 618.3,649.0 620.0,647.8 622.0,646.7 624.2,646.0 627.0,645.7 629.6,646.0 632.0,646.8 633.8,648.0 634.7,650.0 634.4,653.0 634.0,655.1 633.9,658.0 634.9,660.0 636.2,661.0 638.3,662.0 640.0,661.9 642.0,660.8 644.0,659.5 646.0,658.3 648.0,657.2 650.0,656.2 652.0,655.3 654.0,654.5 656.0,653.9 659.0,653.1 661.0,652.4 662.9,651.0 661.0,649.3 659.0,648.5 657.0,647.8 654.3,647.0 652.0,646.1 650.4,645.0 649.4,643.0 650.0,640.7 651.2,639.0 653.0,637.3 655.0,636.1 657.0,635.4 660.0,635.4 663.0,636.0 665.0,636.6 667.0,637.3 669.0,638.0 672.0,639.0 674.0,639.4 677.0,639.8 680.0,639.9 683.0,639.9 686.0,639.9 689.0,639.7 692.0,639.6 695.0,639.5 698.0,639.5 701.0,639.7 704.0,640.0 706.0,640.2 709.0,640.5 712.0,640.7 715.0,640.7 718.0,640.5 721.0,640.1 723.0,639.7 725.6,639.0 728.0,638.2 730.0,637.3 732.0,636.0 733.0,634.8 733.9,632.0 734.0,629.6 734.4,627.0 735.8,625.0 737.2,624.0 740.0,623.1 742.0,622.7 745.0,622.6 748.0,622.6 751.0,622.7 754.0,622.7 757.0,622.6 760.0,622.3 762.4,622.0 765.0,621.6" fill="none" stroke="#16163a" stroke-width="1.8" stroke-linejoin="round" opacity="0.28"/></g>
<path d="M529.7,603.1 C531.6,595.6 535.6,590.2 539.4,583.7 C543.2,577.2 547.0,571.3 552.4,564.3 C557.8,557.3 564.8,548.1 571.8,541.6 C578.8,535.1 586.9,529.5 594.5,525.4 C602.1,521.3 609.1,518.9 617.2,517.3 C625.3,515.7 633.8,514.9 643.0,515.7 C652.2,516.5 662.5,519.0 672.2,522.2 C681.9,525.4 692.1,530.2 701.3,535.1 C710.5,540.0 719.7,545.3 727.3,551.3 C734.9,557.2 741.0,563.8 746.7,570.8 C752.4,577.8 757.8,585.8 761.3,593.4 C764.8,601.0 766.6,609.1 767.7,616.1 C768.8,623.1 769.1,629.6 767.7,635.5 C766.4,641.4 763.1,647.7 759.6,651.7 C756.1,655.8 752.1,658.2 746.7,659.8 C741.3,661.4 734.3,661.7 727.3,661.4 C720.3,661.1 709.2,657.1 704.6,658.2 C700.0,659.3 701.3,664.1 699.7,667.9 C698.1,671.7 697.3,677.7 694.9,680.9 C692.5,684.1 689.0,686.2 685.2,687.3 C681.4,688.4 676.5,688.4 672.2,687.3 C667.9,686.2 664.1,683.6 659.2,680.9 C654.3,678.2 649.5,674.5 643.0,671.2 C636.5,668.0 629.0,665.2 620.4,661.4 C611.8,657.6 600.4,651.2 591.2,648.5 C582.0,645.8 573.4,645.5 565.3,645.2 C557.2,644.9 548.1,647.4 542.7,646.9 C537.3,646.4 535.4,645.0 533.0,642.0 C530.6,639.0 528.6,635.5 528.1,629.0 C527.6,622.5 527.8,610.6 529.7,603.1Z" fill="none" stroke="#10102a" stroke-width="5" opacity="0.22" filter="url(#bsh)"/>
</g>
<path d="M609.1,603.2 C609.6,598.9 610.9,595.0 613.9,591.8 C616.9,588.5 621.0,585.5 626.9,583.7 C632.8,581.9 641.4,581.5 649.5,581.1 C657.6,580.7 666.8,580.4 675.4,581.1 C684.0,581.8 694.3,583.0 701.3,585.3 C708.3,587.6 713.7,591.0 717.5,595.1 C721.3,599.2 723.5,605.6 724.0,609.6 C724.5,613.6 723.5,616.2 720.8,619.3 C718.1,622.4 712.7,626.0 707.8,628.4 C702.9,630.8 696.2,632.2 691.6,633.9 C687.0,635.6 682.6,636.4 680.3,638.8 C678.0,641.2 679.4,645.7 678.0,648.5 C676.6,651.3 674.8,654.2 672.2,655.6 C669.6,657.0 665.2,657.5 662.5,656.9 C659.8,656.2 658.2,653.7 656.0,651.7 C653.8,649.8 653.3,647.6 649.5,645.2 C645.7,642.8 638.4,639.9 633.3,637.2 C628.2,634.5 622.6,632.4 618.8,629.1 C615.0,625.9 612.3,622.0 610.7,617.7 C609.1,613.4 608.6,607.5 609.1,603.2Z" fill="#2c2c2c"/>
<path d="M529.7,603.1 C531.6,595.6 535.6,590.2 539.4,583.7 C543.2,577.2 547.0,571.3 552.4,564.3 C557.8,557.3 564.8,548.1 571.8,541.6 C578.8,535.1 586.9,529.5 594.5,525.4 C602.1,521.3 609.1,518.9 617.2,517.3 C625.3,515.7 633.8,514.9 643.0,515.7 C652.2,516.5 662.5,519.0 672.2,522.2 C681.9,525.4 692.1,530.2 701.3,535.1 C710.5,540.0 719.7,545.3 727.3,551.3 C734.9,557.2 741.0,563.8 746.7,570.8 C752.4,577.8 757.8,585.8 761.3,593.4 C764.8,601.0 766.6,609.1 767.7,616.1 C768.8,623.1 769.1,629.6 767.7,635.5 C766.4,641.4 763.1,647.7 759.6,651.7 C756.1,655.8 752.1,658.2 746.7,659.8 C741.3,661.4 734.3,661.7 727.3,661.4 C720.3,661.1 709.2,657.1 704.6,658.2 C700.0,659.3 701.3,664.1 699.7,667.9 C698.1,671.7 697.3,677.7 694.9,680.9 C692.5,684.1 689.0,686.2 685.2,687.3 C681.4,688.4 676.5,688.4 672.2,687.3 C667.9,686.2 664.1,683.6 659.2,680.9 C654.3,678.2 649.5,674.5 643.0,671.2 C636.5,668.0 629.0,665.2 620.4,661.4 C611.8,657.6 600.4,651.2 591.2,648.5 C582.0,645.8 573.4,645.5 565.3,645.2 C557.2,644.9 548.1,647.4 542.7,646.9 C537.3,646.4 535.4,645.0 533.0,642.0 C530.6,639.0 528.6,635.5 528.1,629.0 C527.6,622.5 527.8,610.6 529.7,603.1Z" fill="none" stroke="#1a1a2e" stroke-width="0.9" opacity="0.8"/>
<defs><linearGradient id="gd" x1="0" y1="0" x2="1" y2="0"><stop offset="0.00" stop-color="#440154"/><stop offset="0.10" stop-color="#482475"/><stop offset="0.20" stop-color="#414487"/><stop offset="0.30" stop-color="#355f8d"/><stop offset="0.40" stop-color="#2a788e"/><stop offset="0.50" stop-color="#21918c"/><stop offset="0.60" stop-color="#22a884"/><stop offset="0.70" stop-color="#44bf70"/><stop offset="0.80" stop-color="#7ad151"/><stop offset="0.90" stop-color="#bddf26"/><stop offset="1.00" stop-color="#fde725"/></linearGradient></defs>
<rect x="442.7" y="171.3" width="176.1" height="7.4" fill="url(#gd)" stroke="#222" stroke-width="0.6"/>
<path d="M443.4,178.7v4.8M470.2,178.7v4.8M497.0,178.7v4.8M523.8,178.7v4.8M550.6,178.7v4.8M577.4,178.7v4.8M604.2,178.7v4.8" stroke="#333" stroke-width="0.7"/>
<text x="443.4" y="198.7" font-size="10.3" text-anchor="middle" font-family="Liberation Sans, Arial, sans-serif">0</text>
<text x="470.2" y="198.7" font-size="10.3" text-anchor="middle" font-family="Liberation Sans, Arial, sans-serif">1</text>
<text x="497.0" y="198.7" font-size="10.3" text-anchor="middle" font-family="Liberation Sans, Arial, sans-serif">2</text>
<text x="523.8" y="198.7" font-size="10.3" text-anchor="middle" font-family="Liberation Sans, Arial, sans-serif">3</text>
<text x="550.6" y="198.7" font-size="10.3" text-anchor="middle" font-family="Liberation Sans, Arial, sans-serif">4</text>
<text x="577.4" y="198.7" font-size="10.3" text-anchor="middle" font-family="Liberation Sans, Arial, sans-serif">5</text>
<text x="604.2" y="198.7" font-size="10.3" text-anchor="middle" font-family="Liberation Sans, Arial, sans-serif">6</text>
<text x="612.6" y="198.4" font-size="10.5" font-family="Liberation Sans, Arial, sans-serif">×</text><text x="622.3" y="197.7" font-size="10.2" font-family="Liberation Sans, Arial, sans-serif">10</text><text x="635.6" y="193.2" font-size="7.6" font-family="Liberation Sans, Arial, sans-serif">7</text>
<text x="527.5" y="215.2" font-size="11.2" text-anchor="middle" font-family="Liberation Sans, Arial, sans-serif">Total Axons</text>
<defs><linearGradient id="ge" x1="0" y1="0" x2="1" y2="0"><stop offset="0.00" stop-color="#440154"/><stop offset="0.10" stop-color="#482475"/><stop offset="0.20" stop-color="#414487"/><stop offset="0.30" stop-color="#355f8d"/><stop offset="0.40" stop-color="#2a788e"/><stop offset="0.50" stop-color="#21918c"/><stop offset="0.60" stop-color="#22a884"/><stop offset="0.70" stop-color="#44bf70"/><stop offset="0.80" stop-color="#7ad151"/><stop offset="0.90" stop-color="#bddf26"/><stop offset="1.00" stop-color="#fde725"/></linearGradient></defs>
<rect x="442.7" y="420.5" width="176.1" height="7.6" fill="url(#ge)" stroke="#222" stroke-width="0.6"/>
<path d="M443.4,428.1v4.8M475.9,428.1v4.8M508.4,428.1v4.8M540.9,428.1v4.8M573.4,428.1v4.8M605.9,428.1v4.8" stroke="#333" stroke-width="0.7"/>
<text x="443.4" y="448.1" font-size="10.3" text-anchor="middle" font-family="Liberation Sans, Arial, sans-serif">0</text>
<text x="475.9" y="448.1" font-size="10.3" text-anchor="middle" font-family="Liberation Sans, Arial, sans-serif">1</text>
<text x="508.4" y="448.1" font-size="10.3" text-anchor="middle" font-family="Liberation Sans, Arial, sans-serif">2</text>
<text x="540.9" y="448.1" font-size="10.3" text-anchor="middle" font-family="Liberation Sans, Arial, sans-serif">3</text>
<text x="573.4" y="448.1" font-size="10.3" text-anchor="middle" font-family="Liberation Sans, Arial, sans-serif">4</text>
<text x="605.9" y="448.1" font-size="10.3" text-anchor="middle" font-family="Liberation Sans, Arial, sans-serif">5</text>
<text x="612.6" y="447.6" font-size="10.5" font-family="Liberation Sans, Arial, sans-serif">×</text><text x="622.3" y="446.8" font-size="10.2" font-family="Liberation Sans, Arial, sans-serif">10</text><text x="635.4" y="442.3" font-size="7.6" font-family="Liberation Sans, Arial, sans-serif">4</text>
<text x="524.5" y="464.6" font-size="11" text-anchor="middle" font-family="Liberation Sans, Arial, sans-serif">Axons/mm<tspan dy="-4" font-size="6.5">2</tspan></text>
<defs><linearGradient id="gf" x1="0" y1="0" x2="1" y2="0"><stop offset="0.00" stop-color="#440154"/><stop offset="0.10" stop-color="#482475"/><stop offset="0.20" stop-color="#414487"/><stop offset="0.30" stop-color="#355f8d"/><stop offset="0.40" stop-color="#2a788e"/><stop offset="0.50" stop-color="#21918c"/><stop offset="0.60" stop-color="#22a884"/><stop offset="0.70" stop-color="#44bf70"/><stop offset="0.80" stop-color="#7ad151"/><stop offset="0.90" stop-color="#bddf26"/><stop offset="1.00" stop-color="#fde725"/></linearGradient></defs>
<rect x="442.7" y="670.5" width="176.1" height="7.3" fill="url(#gf)" stroke="#222" stroke-width="0.6"/>
<path d="M443.4,677.8v4.8M490.0,677.8v4.8M536.6,677.8v4.8M583.2,677.8v4.8M457.4,677.8v2.6M465.6,677.8v2.6M471.5,677.8v2.6M476.0,677.8v2.6M479.7,677.8v2.6M482.8,677.8v2.6M485.5,677.8v2.6M487.9,677.8v2.6M504.0,677.8v2.6M512.2,677.8v2.6M518.1,677.8v2.6M522.6,677.8v2.6M526.3,677.8v2.6M529.4,677.8v2.6M532.1,677.8v2.6M534.5,677.8v2.6M550.6,677.8v2.6M558.8,677.8v2.6M564.7,677.8v2.6M569.2,677.8v2.6M572.9,677.8v2.6M576.0,677.8v2.6M578.7,677.8v2.6M581.1,677.8v2.6M597.2,677.8v2.6M605.4,677.8v2.6M611.3,677.8v2.6M615.8,677.8v2.6" stroke="#333" stroke-width="0.7"/>
<text x="443.4" y="700.3" font-size="10.2" text-anchor="middle" font-family="Liberation Sans, Arial, sans-serif">10<tspan dx="1.8" dy="-4.6" font-size="7.6">0</tspan></text>
<text x="490.0" y="700.3" font-size="10.2" text-anchor="middle" font-family="Liberation Sans, Arial, sans-serif">10<tspan dx="1.8" dy="-4.6" font-size="7.6">1</tspan></text>
<text x="536.6" y="700.3" font-size="10.2" text-anchor="middle" font-family="Liberation Sans, Arial, sans-serif">10<tspan dx="1.8" dy="-4.6" font-size="7.6">2</tspan></text>
<text x="583.2" y="700.3" font-size="10.2" text-anchor="middle" font-family="Liberation Sans, Arial, sans-serif">10<tspan dx="1.8" dy="-4.6" font-size="7.6">3</tspan></text>
<text x="521" y="714" font-size="11" text-anchor="middle" font-family="Liberation Sans, Arial, sans-serif">Hippocampal Axons/mm<tspan dy="-4" font-size="6.5">2</tspan></text>
</svg></body></html>
